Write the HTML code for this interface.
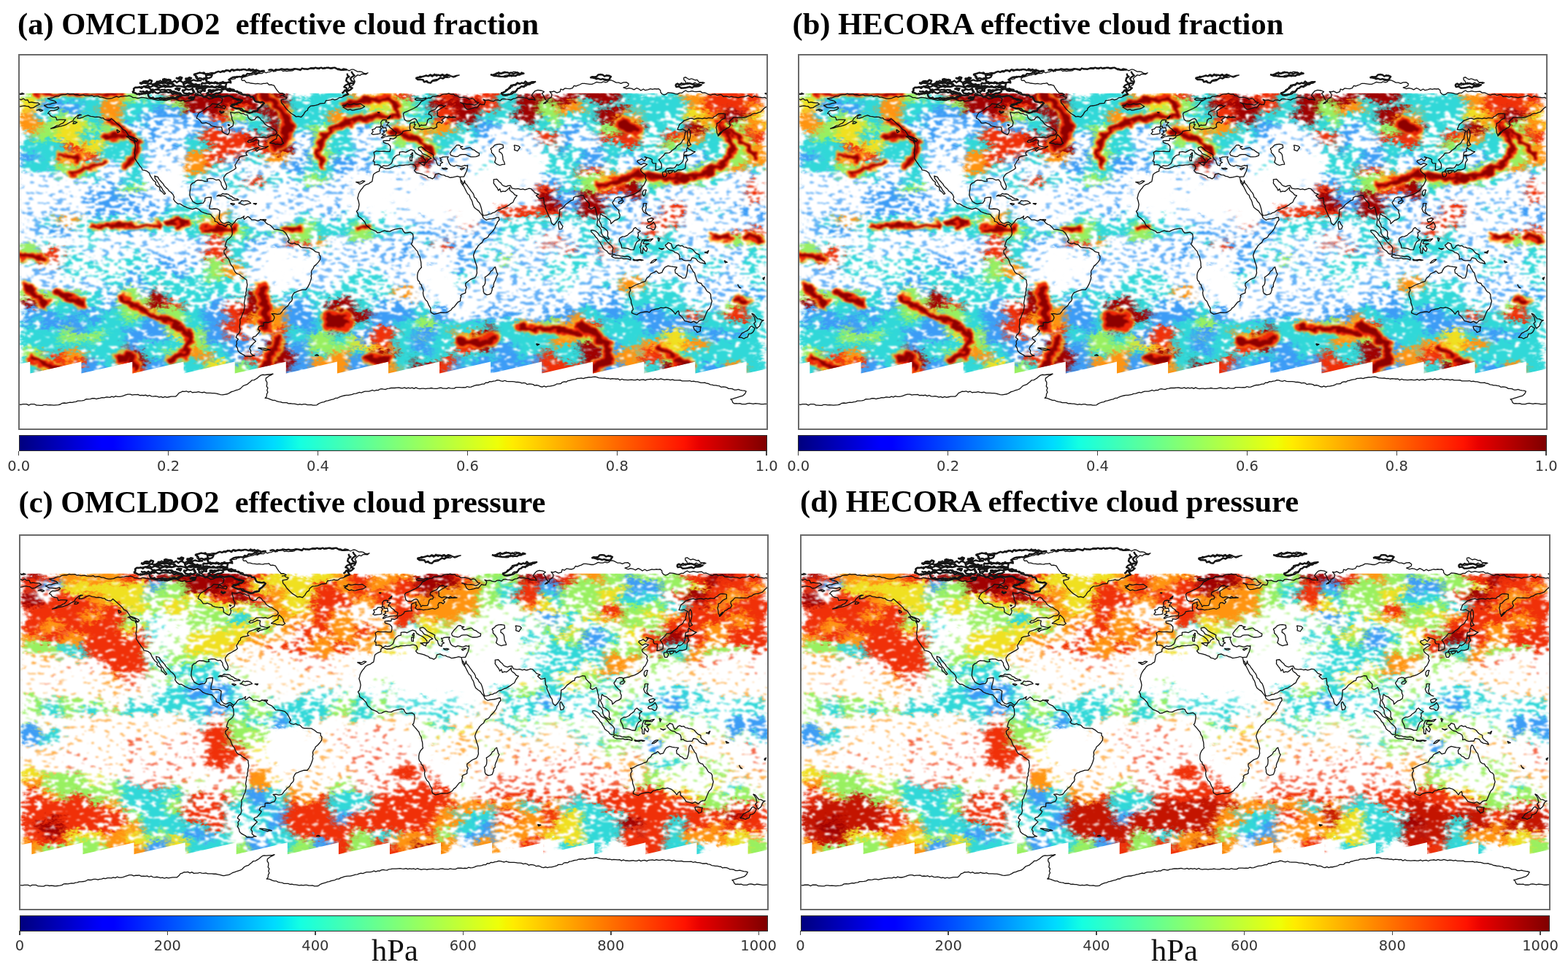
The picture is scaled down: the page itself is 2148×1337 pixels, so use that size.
<!DOCTYPE html>
<html><head><meta charset="utf-8"><title>Cloud fraction and pressure maps</title>
<style>
html,body{margin:0;padding:0;background:#fff;}
body{width:2148px;height:1337px;position:relative;overflow:hidden;}
.title{position:absolute;font-family:"Liberation Serif",serif;font-weight:bold;font-size:42.5px;line-height:60px;color:#000;white-space:nowrap;}
.map{position:absolute;}
.frame{position:absolute;box-sizing:border-box;border:2px solid #6a6a6a;}
.cb{position:absolute;box-sizing:border-box;border:1px solid #2a2a2a;background:linear-gradient(to right, #00007f 0%, #0000ff 11%, #0000ff 12.5%, #00dbff 34%, #00e5f6 35%, #14ffe2 37.5%, #eeff08 64%, #f6f500 65%, #ffec00 66%, #ff1200 89%, #e70000 91%, #7f0000 100%);}
.tick{position:absolute;width:1.6px;height:6px;background:#444;}
.tl{position:absolute;font-family:"DejaVu Sans",sans-serif;font-size:19.5px;line-height:20px;color:#333;transform:translateX(-50%);white-space:nowrap;}
.hpa{position:absolute;font-family:"Liberation Serif",serif;font-size:42.5px;line-height:42.5px;color:#111;}
</style></head><body>

<svg width="0" height="0" style="position:absolute"><defs><path id="coast" d="M12.0 24.4L12.9 24.2L13.8 23.8L14.9 23.8L16.0 23.4L17.0 23.2L18.0 23.1L17.3 22.3L16.3 22.0L15.0 21.6L13.8 21.1L14.9 20.9L16.0 20.8L17.0 20.3L18.0 20.0L19.1 20.0L20.0 19.4L21.2 19.2L22.4 19.2L23.5 18.7L24.4 19.0L25.3 18.9L26.2 18.8L27.1 19.3L28.0 19.2L29.0 19.5L30.0 19.4L31.0 19.3L32.0 19.7L33.0 19.7L34.0 19.8L35.0 19.5L36.0 20.1L37.0 19.9L38.0 19.9L39.0 20.4L40.0 20.4L41.1 20.8L42.3 21.1L43.5 21.1L44.8 20.9L46.0 20.4L47.0 20.1L48.0 20.4L49.0 20.1L50.0 20.0L51.0 19.8L52.0 19.9L53.0 19.7L54.0 20.0L54.9 20.6L56.0 20.6L57.0 20.9L58.0 20.8L59.0 20.5L60.0 20.6L61.0 20.8L62.0 21.0L63.0 21.1L64.0 21.2L65.0 21.5L66.0 21.7L67.0 21.9L68.0 21.7L69.0 21.8L70.0 22.0L71.0 22.0L72.0 21.6L73.0 21.4L74.0 21.2L75.1 21.2L76.0 21.6L77.0 22.1L78.0 22.2L79.0 21.9L80.0 22.4L81.0 22.2L82.0 22.2L83.0 21.8L84.0 21.7L84.5 20.7L84.7 19.6L85.0 18.5L86.0 18.7L87.0 18.3L87.7 18.9L88.4 19.5L89.0 20.2L89.9 20.5L90.8 20.7L91.5 21.3L92.8 21.1L94.0 20.6L95.5 20.2L96.8 20.5L98.0 21.1L97.8 22.1L97.5 23.0L96.5 23.4L95.5 23.8L94.3 23.7L93.0 23.6L92.4 24.3L91.7 24.9L90.7 25.2L90.0 25.8L89.1 26.6L88.0 27.2L86.8 27.9L86.0 29.0L85.5 30.5L86.3 30.9L87.0 31.5L88.0 32.9L89.0 32.9L90.0 32.7L91.0 33.1L91.9 33.4L92.5 34.1L93.7 34.5L95.0 34.7L96.2 34.8L97.5 34.8L97.8 35.9L97.8 37.0L99.0 37.8L100.5 38.5L101.2 37.5L101.4 36.4L101.0 35.4L102.0 34.8L103.0 34.2L103.3 32.5L102.5 31.0L102.5 30.1L102.2 29.2L101.8 27.7L102.9 27.9L103.9 28.0L105.0 27.7L106.0 27.7L107.0 28.3L108.0 28.3L108.9 28.8L110.0 29.0L110.5 30.5L111.2 31.1L112.0 31.5L113.5 31.2L114.1 30.3L115.0 29.8L116.0 30.5L116.6 31.4L117.5 32.0L118.0 32.8L118.5 33.5L119.3 34.0L120.0 34.5L121.1 34.8L122.0 35.5L123.5 36.4L124.2 37.5L123.5 38.5L122.5 38.8L121.5 38.8L120.0 39.7L119.0 40.0L118.0 39.6L117.0 39.8L115.8 39.7L114.7 39.7L113.5 39.8L112.7 40.5L111.9 41.0L110.8 41.1L110.0 41.8L110.5 42.2L111.4 42.1L112.3 41.7L113.2 41.4L114.0 40.9L115.5 41.2L115.2 42.5L115.5 43.7L116.7 44.0L118.0 44.3L119.0 44.4L120.0 44.0L119.3 44.5L118.5 45.0L117.5 45.1L116.5 45.5L115.4 45.7L114.5 46.4L113.8 45.7L114.7 45.2L115.5 44.7L114.0 44.8L113.0 45.3L111.5 45.8L110.0 46.3L109.3 47.2L109.5 48.2L110.0 48.3L108.5 48.6L107.0 48.9L106.0 49.4L105.9 50.4L105.1 51.1L104.9 51.7L104.4 52.5L104.0 53.1L104.5 54.5L103.5 55.3L102.2 56.0L101.0 56.7L100.2 57.1L99.5 57.7L98.6 59.0L98.7 60.3L99.4 61.7L100.0 63.3L99.7 64.7L98.9 64.8L98.2 63.9L97.4 62.5L97.3 61.4L96.3 60.1L95.0 60.3L93.5 59.6L92.0 59.5L90.5 59.8L90.8 60.8L89.5 60.9L88.0 60.4L87.1 60.4L86.2 60.3L85.0 60.8L84.4 61.5L83.5 61.8L82.7 62.7L82.6 64.2L82.3 65.8L82.2 67.5L82.7 69.0L83.2 69.7L83.6 70.6L85.0 71.4L86.0 71.8L87.5 71.4L88.7 71.3L89.5 70.2L89.6 69.0L91.0 68.6L92.6 68.5L92.5 69.8L92.2 71.2L91.8 72.5L91.7 74.0L92.5 74.2L94.0 74.1L95.5 74.2L96.7 75.0L96.6 76.0L96.5 77.0L96.3 78.7L97.0 80.0L97.8 80.8L98.8 81.2L100.0 80.7L101.0 80.5L102.2 81.4L102.7 81.7L102.1 82.8L101.6 81.7L100.3 81.6L99.6 82.7L98.8 82.3L98.0 81.8L96.5 81.6L95.5 80.5L94.3 80.1L94.2 78.9L93.0 77.7L92.3 76.8L90.7 76.5L89.2 76.1L87.8 75.5L86.5 74.3L85.2 73.8L83.5 74.3L82.0 73.9L81.1 73.6L80.2 73.2L79.3 72.8L78.5 72.3L77.6 71.7L76.5 71.7L75.2 70.7L74.4 69.5L74.7 68.5L74.2 67.3L73.2 66.2L72.3 65.6L71.7 64.7L70.6 63.7L69.9 63.0L69.5 62.2L68.5 61.1L67.5 60.0L66.8 58.8L65.3 58.3L65.5 59.5L66.5 60.8L67.1 61.8L67.8 63.0L68.7 64.0L69.3 65.2L69.8 65.8L70.5 66.8L69.9 67.1L69.0 66.0L67.9 65.2L67.7 63.7L66.5 63.1L65.7 62.2L65.9 61.4L64.6 60.3L63.8 59.1L63.1 58.0L62.7 56.9L61.6 56.0L60.5 55.6L59.4 55.4L59.0 54.4L58.1 53.4L57.5 52.4L57.0 51.8L56.2 50.5L55.7 49.7L55.9 48.5L55.6 47.2L55.9 45.5L56.0 43.8L55.9 42.7L55.3 41.7L56.5 41.8L57.2 41.1L56.7 40.5L55.5 40.0L54.5 39.5L52.8 39.0L52.1 37.8L51.2 36.5L49.8 35.8L49.1 34.8L48.2 33.9L47.0 32.9L45.8 31.8L44.5 30.7L43.5 31.6L42.2 31.4L41.2 31.1L40.5 30.4L39.6 30.4L38.7 30.0L37.6 29.9L36.5 30.0L35.5 29.7L34.5 29.6L33.2 29.1L31.8 29.5L30.8 30.1L29.2 30.6L28.1 30.6L28.6 29.3L30.0 28.9L29.1 28.8L28.2 29.2L27.5 29.9L26.5 30.7L26.0 31.8L24.7 32.4L23.5 33.1L22.7 33.6L21.8 33.9L20.2 34.4L18.5 34.7L17.0 35.2L15.3 35.5L16.8 34.9L18.2 34.1L19.3 33.9L20.2 33.3L21.1 33.0L21.7 32.3L22.5 31.3L21.2 31.2L19.5 31.2L18.2 31.4L17.8 30.1L16.2 29.9L15.1 29.3L14.7 28.5L13.9 28.2L14.5 27.4L15.4 26.8L16.8 26.9L18.2 26.5L19.2 25.7L18.8 25.1L17.2 25.6L15.5 25.5L13.8 25.4L12.8 24.8L12.0 24.4M102.7 81.7L103.8 80.6L104.5 79.5L105.3 78.9L106.7 78.7L107.8 78.1L108.4 77.6L108.1 78.4L108.4 79.2L109.5 78.3L110.2 77.8L111.4 78.7L112.0 79.4L113.5 79.4L115.0 79.9L116.2 79.4L117.5 79.4L118.1 79.9L119.0 81.0L119.8 81.5L121.0 82.0L122.0 83.0L122.8 84.0L124.5 84.1L126.0 84.4L127.2 84.7L128.4 85.8L129.0 86.8L129.7 88.1L130.1 89.0L129.4 89.8L130.0 90.5L131.5 91.0L132.5 90.6L133.4 91.1L134.5 91.3L135.7 92.5L136.6 92.8L137.5 92.8L138.7 92.9L140.0 92.9L141.5 93.7L142.8 94.8L144.5 95.2L144.5 96.2L145.1 97.0L145.0 98.5L144.2 99.7L143.0 101.0L142.1 101.7L141.7 102.7L141.0 103.6L140.7 104.5L140.9 105.5L140.6 106.4L140.8 107.3L140.3 109.0L139.7 110.5L139.0 111.8L138.1 113.0L136.5 113.0L135.2 113.4L134.3 113.7L133.5 114.1L132.6 114.4L132.0 115.2L131.4 116.5L131.6 117.5L131.3 118.4L130.2 119.5L129.8 120.3L129.2 121.0L128.4 121.5L127.8 122.3L127.1 122.9L126.6 123.7L125.8 124.6L124.4 124.9L123.0 124.5L121.6 124.6L122.7 125.5L123.0 126.6L122.3 128.0L121.2 128.3L120.2 128.8L119.0 128.7L117.8 128.8L117.7 130.5L116.6 130.4L115.5 130.8L115.0 132.1L116.0 132.7L115.5 133.7L114.7 134.5L113.9 135.4L112.7 135.8L112.4 136.4L113.2 137.1L114.0 137.8L113.2 138.5L112.5 139.3L111.5 140.3L111.0 141.5L111.6 142.3L111.5 143.5L112.4 144.4L113.5 144.8L112.5 144.8L111.5 145.2L110.3 145.1L109.0 145.1L108.3 144.4L107.5 144.0L106.4 143.4L105.5 142.5L105.2 141.2L104.5 140.0L104.9 139.0L104.7 138.0L105.5 136.8L104.5 136.0L105.0 134.8L106.0 134.0L106.5 132.5L106.2 131.0L106.3 130.0L106.5 129.0L106.4 127.3L107.0 126.5L107.3 125.5L107.7 124.5L108.2 123.5L108.5 122.0L108.7 120.7L108.4 119.5L108.6 118.5L108.8 117.5L108.8 116.4L109.3 115.5L109.2 114.5L109.5 113.5L109.5 112.5L109.8 111.5L109.9 110.5L109.7 109.5L109.6 108.3L108.6 107.6L107.8 107.0L107.0 106.5L106.1 105.7L105.0 105.3L104.2 104.7L103.7 103.8L103.3 103.0L103.0 102.1L102.3 101.4L101.8 100.5L101.5 99.6L101.2 98.8L100.7 98.0L99.9 97.3L99.5 96.3L98.8 95.5L98.7 94.2L99.7 93.4L100.1 92.5L99.2 92.2L99.6 90.6L100.0 89.5L100.4 88.9L101.2 88.4L102.2 87.4L102.7 86.2L102.6 84.5L102.5 83.4L102.1 82.8M107.0 11.7L107.8 10.8L108.9 10.6L109.9 10.2L110.9 9.9L112.0 9.8L112.9 9.3L114.1 9.6L115.0 9.0L116.0 8.9L117.1 9.0L118.0 8.2L118.9 8.7L119.8 8.4L120.7 8.3L121.6 7.8L122.5 7.5L123.5 8.0L124.3 7.4L125.2 7.3L126.2 7.3L127.1 7.9L128.0 7.7L128.9 7.9L129.8 7.8L130.8 7.8L131.7 7.7L132.5 7.2L133.4 6.8L134.3 6.8L135.3 7.1L136.2 6.8L137.1 6.6L138.0 6.8L138.9 7.2L139.8 6.6L140.7 6.2L141.6 6.3L142.5 6.3L143.5 6.6L144.4 6.9L145.3 6.2L146.2 6.7L147.1 6.1L148.0 6.4L149.0 6.0L149.8 6.7L150.7 6.7L151.7 6.2L152.6 6.5L153.4 7.2L154.3 7.3L155.2 7.4L156.2 6.6L157.1 6.8L158.0 7.2L158.9 7.7L160.1 7.1L161.1 7.1L162.0 7.6L163.0 8.1L164.0 8.0L165.0 8.2L165.9 8.8L166.9 9.1L168.0 8.7L167.1 9.4L166.0 9.3L165.0 9.3L164.1 10.0L163.0 9.7L162.0 10.5L161.0 11.5L161.6 12.4L161.5 13.5L161.0 14.5L160.0 15.0L159.0 15.5L158.5 16.5L158.0 17.8L158.0 19.3L157.0 19.5L156.2 19.9L155.5 20.5L154.1 20.7L153.0 21.5L152.0 21.7L151.0 21.4L150.0 21.7L149.0 21.9L147.8 22.0L147.2 23.3L146.0 23.4L145.0 23.5L144.0 24.0L143.0 24.3L141.8 24.5L140.5 24.6L139.2 25.7L138.9 26.7L138.0 27.2L137.4 28.0L137.0 28.8L135.8 30.0L134.5 29.6L133.4 29.8L132.5 29.1L131.0 28.2L129.7 27.0L128.5 25.8L128.0 25.1L127.5 24.3L126.4 23.1L126.2 21.7L127.3 21.5L128.5 21.3L129.0 20.5L128.0 20.3L127.1 19.5L126.0 19.7L127.0 19.5L128.0 19.1L126.8 18.5L125.5 18.5L124.4 17.3L123.5 16.0L122.8 14.8L121.5 14.4L120.4 14.5L119.6 13.6L118.5 13.8L117.6 13.8L116.7 14.1L115.8 14.0L114.9 13.8L114.0 14.0L112.8 13.8L111.7 13.7L110.5 13.4L109.4 13.4L108.6 12.3L107.5 12.4L107.0 11.7M157.3 26.0L156.0 25.2L157.5 24.5L156.6 24.5L155.7 24.4L156.9 24.3L158.0 23.6L159.0 24.0L160.0 23.9L161.2 23.6L162.5 23.8L163.5 23.7L164.5 23.6L165.5 24.3L166.4 24.9L165.2 25.7L164.1 26.0L163.0 26.2L161.3 26.6L160.4 26.7L159.5 26.3L158.3 26.6L157.3 26.0M174.4 54.0L173.7 53.2L172.6 52.8L171.1 53.0L171.2 51.5L170.5 51.2L171.0 50.0L171.2 48.5L170.8 47.0L172.0 46.3L173.2 46.5L174.5 46.5L175.8 46.4L177.0 46.6L178.5 46.6L178.8 45.5L178.8 44.0L177.8 42.9L176.6 42.6L175.5 42.2L175.4 41.4L177.0 41.2L178.5 41.3L178.6 40.3L180.2 40.5L181.5 39.8L181.7 39.0L183.2 38.6L184.5 37.7L184.9 36.8L186.5 36.5L187.5 36.4L188.5 36.4L188.1 35.5L188.2 34.5L188.2 33.4L188.6 32.9L189.6 32.6L190.5 32.3L190.3 33.5L190.9 33.6L190.0 35.0L191.0 35.8L192.5 35.6L194.0 36.0L195.0 35.8L196.0 35.7L197.3 35.5L198.5 35.2L199.6 35.6L201.2 34.8L201.0 33.5L201.6 32.5L202.6 32.4L203.5 33.0L204.3 32.1L203.5 31.4L204.5 30.6L205.5 30.0L206.5 30.4L207.5 30.1L208.5 30.2L210.2 30.1L209.0 29.8L207.9 30.1L207.0 29.5L206.1 30.1L205.0 29.8L203.9 29.7L202.9 30.1L201.4 29.3L201.5 28.2L201.3 27.0L202.5 26.2L203.5 25.6L204.5 25.1L205.4 24.5L204.4 24.8L203.5 24.2L202.2 24.4L201.2 25.2L200.5 26.2L199.0 26.8L197.5 27.5L197.2 28.7L198.2 29.0L198.8 29.9L198.5 30.7L197.5 30.7L196.7 31.4L196.5 32.7L196.0 33.8L194.5 33.9L193.5 33.8L192.8 34.5L192.6 33.6L191.8 32.4L191.2 31.1L190.5 30.7L189.5 31.0L188.0 31.9L186.5 31.8L185.6 31.2L185.3 30.0L185.0 28.5L185.5 27.8L187.0 27.2L188.5 26.5L190.0 25.8L191.5 25.0L192.7 23.8L193.6 22.5L194.6 22.1L195.5 21.5L197.0 20.8L198.2 20.8L199.0 20.0L200.3 20.1L201.5 19.7L202.6 19.9L203.5 19.2L204.6 18.9L205.8 18.9L206.9 18.6L208.0 19.0L209.1 18.9L210.0 19.7L211.2 19.8L212.0 20.5L213.0 20.5L214.0 20.4L215.0 20.6L216.0 20.9L216.8 21.5L217.9 21.0L218.8 21.2L219.5 22.0L220.2 22.8L221.2 23.0L220.5 23.7L219.3 24.3L218.0 23.9L217.0 23.7L216.0 23.8L215.0 23.7L213.5 23.3L212.5 23.0L213.7 23.5L214.3 24.4L214.8 25.5L215.8 26.2L217.0 26.1L218.3 25.8L219.5 25.4L220.5 25.5L221.2 24.6L222.0 23.7L223.0 24.0L224.0 24.0L224.5 22.5L223.5 21.5L224.7 21.9L226.0 21.7L227.2 22.2L228.5 22.4L229.4 21.8L230.5 21.7L231.6 22.1L232.5 21.3L233.5 21.2L234.5 21.4L235.5 21.5L236.8 21.8L238.0 21.1L239.1 20.9L240.0 20.4L241.0 20.6L242.2 20.5L243.3 20.7L244.5 20.8L245.6 21.6L247.0 21.5L248.5 21.8L247.8 20.5L246.8 19.5L247.4 18.6L248.5 17.4L249.8 17.0L251.5 17.2L252.8 17.8L251.8 18.6L252.5 19.6L253.0 20.8L254.0 22.2L253.6 23.3L252.5 23.5L253.4 22.7L254.5 22.5L254.6 21.5L255.5 21.0L256.4 20.2L256.5 19.0L255.5 17.7L256.5 17.9L257.5 17.5L259.0 18.3L260.5 17.8L260.8 16.5L261.9 16.9L262.9 16.1L264.0 16.3L265.3 16.4L266.5 16.0L267.2 14.9L268.2 15.1L269.1 14.7L270.0 14.4L271.1 13.8L272.3 13.8L273.5 14.0L274.7 14.2L275.9 14.2L277.0 13.7L278.1 13.1L279.3 13.4L280.5 13.4L281.3 12.9L282.4 13.3L283.3 13.0L284.0 12.3L285.0 12.2L286.0 12.6L287.5 13.4L288.7 13.4L289.8 13.8L291.0 13.3L292.4 13.2L293.5 14.0L293.3 14.9L292.2 15.5L291.0 15.8L292.5 16.4L293.7 16.0L295.0 16.3L296.1 16.8L297.4 16.0L298.5 16.5L299.4 17.2L300.6 16.5L301.5 17.1L302.8 16.8L304.0 16.4L305.0 16.6L306.0 16.4L307.0 16.5L308.0 16.4L308.8 17.1L308.9 18.0L309.5 18.8L310.5 19.3L311.5 19.0L312.5 18.2L313.8 18.3L315.0 18.5L316.0 18.8L317.0 18.9L318.0 18.4L319.1 18.4L320.0 17.7L321.0 17.2L322.0 17.8L323.0 17.7L324.0 17.4L325.0 17.7L326.0 17.8L327.0 17.7L328.0 17.6L329.0 18.3L330.0 18.2L331.0 18.6L332.0 19.1L333.0 19.4L334.0 19.1L335.0 18.9L336.0 19.5L337.0 19.3L338.0 19.1L339.1 20.1L340.5 20.0L342.0 20.4L343.0 20.1L344.0 20.3L345.0 20.4L346.3 20.7L347.5 20.3L348.8 20.2L350.0 20.0L351.0 19.6L352.0 20.1L353.0 20.6L354.0 19.8L355.0 20.2L356.0 20.4L357.0 20.5L358.0 20.7L359.1 20.5L360.0 21.1M360.0 25.0L359.2 25.4L358.5 26.0L357.8 26.8L357.0 27.5L356.0 27.8L355.1 28.2L354.0 28.2L353.0 28.5L352.1 29.2L351.0 29.5L350.0 30.1L349.0 30.2L348.0 30.2L347.0 30.1L346.0 30.2L345.0 30.1L344.0 30.1L343.2 31.0L342.0 32.0L342.0 33.0L342.5 33.8L341.8 35.0L340.8 35.3L340.0 36.0L339.1 36.3L338.5 37.1L337.7 38.1L336.7 39.0L336.0 37.5L335.9 36.2L335.6 35.0L336.0 34.0L336.0 33.0L336.9 32.7L337.5 32.0L338.2 31.3L339.1 30.8L340.0 30.5L339.9 29.5L340.0 28.5L339.0 28.3L338.0 28.2L337.0 28.3L336.2 28.7L335.5 29.4L334.6 29.8L334.0 30.5L333.0 30.4L332.0 30.3L331.0 30.7L330.0 30.4L329.0 30.8L328.0 30.6L327.0 30.5L326.0 30.7L325.0 31.0L324.0 30.6L323.0 30.7L322.0 31.0L321.0 31.4L320.1 31.7L319.5 32.4L318.7 33.0L318.0 33.5L317.5 34.8L317.0 36.0L318.3 36.1L319.5 35.8L320.4 36.3L321.3 36.8L320.7 37.5L320.6 38.5L320.3 39.5L320.3 40.5L319.5 41.1L319.1 42.0L318.5 42.8L317.5 43.3L316.6 44.1L316.0 45.0L315.2 45.5L314.4 46.0L313.8 46.7L313.0 47.2L312.0 47.3L311.0 47.4L310.4 48.4L309.5 49.2L308.8 49.9L308.0 50.5L308.6 51.3L309.1 52.1L309.4 53.0L309.3 54.7L308.4 55.0L307.5 55.4L306.4 55.5L306.6 54.5L306.5 53.5L306.7 52.3L305.2 52.2L304.7 51.4L304.8 50.4L303.7 49.8L302.5 49.5L301.2 49.1L302.2 49.7L301.1 51.1L299.8 50.1L298.9 50.6L298.0 50.8L297.6 51.4L298.8 52.5L299.5 52.9L300.8 52.2L302.5 52.7L301.5 53.4L300.5 54.0L299.2 55.1L299.6 56.2L300.5 57.0L301.3 57.5L301.8 58.3L301.5 59.2L302.0 60.2L301.3 61.8L300.8 62.8L300.0 63.5L299.5 64.7L298.5 65.6L297.5 66.3L296.0 67.1L295.0 67.5L294.0 67.7L293.1 68.2L292.0 68.3L290.5 68.7L290.3 69.7L289.8 68.5L288.5 68.4L287.0 69.0L286.5 70.0L285.7 71.1L286.5 72.5L287.7 73.8L288.8 74.8L288.8 75.9L289.3 77.0L289.1 78.5L288.0 79.3L286.8 79.7L285.9 80.5L285.0 81.3L284.8 80.0L284.4 79.5L283.0 78.5L282.3 77.8L280.9 77.3L280.0 76.5L279.7 77.5L279.7 78.6L279.2 79.5L279.8 80.8L280.3 81.7L280.5 82.8L281.5 83.2L282.5 84.0L283.2 84.6L283.5 85.5L283.4 87.2L284.2 88.6L283.5 88.7L282.7 88.2L282.0 87.7L281.0 87.0L280.3 85.5L280.3 84.2L279.6 83.0L278.3 82.0L278.4 80.5L278.7 79.0L278.3 78.0L278.3 77.0L277.9 75.8L277.7 74.5L277.2 73.2L276.3 73.8L275.3 74.2L274.3 73.5L274.6 72.5L274.5 71.5L273.5 70.5L272.3 69.2L271.8 67.7L270.5 67.6L269.0 68.2L267.9 68.2L267.0 68.7L266.8 69.8L265.8 70.1L265.0 70.7L264.1 71.4L263.1 72.1L262.4 73.0L261.5 73.9L260.3 74.5L260.3 75.5L260.2 76.5L260.1 77.8L259.8 79.0L259.3 79.7L258.3 81.1L257.5 81.9L256.5 81.1L256.1 80.0L255.9 78.8L255.3 78.0L254.8 77.1L254.5 76.2L254.1 75.3L253.4 73.7L253.5 72.7L252.8 71.8L252.8 70.8L252.6 69.8L252.6 68.8L251.6 69.0L250.5 69.2L249.7 68.5L249.0 67.7L250.2 67.1L249.3 66.8L248.4 66.4L247.3 65.2L246.6 64.5L245.5 64.3L244.5 64.7L243.5 64.9L242.6 64.6L241.6 64.8L240.3 64.4L239.0 64.6L237.3 64.2L236.6 62.9L235.5 63.0L234.5 63.4L233.4 63.1L232.5 62.5L232.0 61.7L231.2 61.1L230.0 59.8L228.5 60.0L228.6 60.9L228.5 61.8L229.5 63.2L230.2 64.0L230.8 65.3L231.5 64.5L232.0 66.0L233.0 65.6L234.0 65.8L234.8 65.2L235.5 64.6L236.3 63.8L236.3 65.1L237.0 65.8L237.8 66.3L238.8 67.5L239.8 67.7L239.1 68.6L238.5 69.5L237.8 71.0L236.6 71.7L235.9 72.3L235.0 72.8L234.1 73.4L233.2 73.7L232.2 74.1L231.4 74.6L230.5 74.7L229.7 75.2L229.0 75.8L228.1 76.0L227.3 76.5L226.3 76.6L225.5 77.0L224.5 77.2L223.5 77.3L223.0 76.0L222.7 74.3L222.2 72.6L221.7 71.4L220.8 70.5L220.2 69.3L219.2 68.5L219.0 67.5L218.5 66.5L217.8 65.7L217.2 64.8L216.4 63.8L215.7 62.7L214.8 61.8L214.5 60.5L214.3 61.4L213.9 62.3L213.4 61.1L212.6 60.1L212.3 58.8L213.2 58.7L214.2 58.7L214.9 57.2L215.5 56.0L215.9 54.5L216.0 53.2L215.5 53.4L214.5 53.2L213.0 53.8L212.0 53.5L210.6 53.2L209.5 53.7L208.0 53.2L207.3 52.5L206.8 51.5L206.5 50.5L206.2 49.9L206.7 49.1L205.5 49.1L204.0 49.2L203.0 49.7L202.6 49.5L203.3 50.7L202.8 51.1L204.0 51.8L203.0 52.3L202.8 53.4L201.7 53.1L201.1 52.0L200.8 50.8L200.0 50.2L199.4 49.1L199.5 48.1L198.5 47.5L197.0 46.8L195.8 46.1L194.7 45.0L193.7 44.3L192.3 44.7L192.4 45.7L193.5 46.4L194.2 47.5L195.1 47.9L196.0 48.2L197.5 49.1L198.5 49.9L197.9 50.0L197.0 50.5L196.5 51.5L195.8 52.0L195.7 50.8L194.8 49.7L193.7 48.8L192.9 48.4L192.0 48.0L190.8 47.2L190.2 46.1L188.8 45.6L187.5 46.2L186.2 46.9L184.8 46.6L183.2 46.8L183.2 48.1L182.0 48.3L181.0 49.0L180.0 50.2L179.7 51.5L179.2 52.4L177.8 53.3L176.7 53.5L175.6 53.3L174.4 54.0M0.0 21.1L0.9 21.7L2.1 21.1L3.0 21.8L4.2 21.7L4.8 23.0L6.0 22.8L7.0 23.0L8.0 23.1L9.1 23.1L10.0 23.8L8.5 24.5L7.0 25.4L5.6 25.6L4.5 24.8L3.5 24.7L2.5 24.5L1.5 24.7L0.0 25.0M207.5 47.5L208.0 48.4L209.2 48.8L210.2 49.0L211.3 48.9L212.2 48.2L213.3 48.0L215.0 48.0L216.5 48.7L217.5 49.1L218.5 49.1L220.0 49.0L221.5 48.5L221.6 47.4L220.8 47.0L220.0 46.5L219.3 45.9L218.3 45.6L217.3 44.7L216.6 44.7L215.5 45.0L214.5 45.3L213.5 45.5L212.5 44.6L213.6 44.1L212.6 44.0L211.8 43.4L210.7 43.5L209.7 44.7L208.7 45.7L208.0 46.7L207.5 47.5M227.0 45.2L228.1 44.5L229.0 43.5L230.2 43.1L231.5 43.0L233.0 43.3L233.2 44.7L232.3 45.1L231.3 45.5L231.2 46.7L232.1 47.2L232.7 48.0L232.9 49.0L233.0 50.5L233.6 51.6L233.9 52.7L232.7 52.8L231.5 53.2L230.0 52.6L229.0 51.7L229.4 50.5L229.5 49.6L228.6 48.2L227.5 47.0L227.5 46.0L227.0 45.2M238.3 43.5L239.5 43.7L240.5 43.9L241.2 44.6L240.6 45.4L240.0 46.3L238.5 45.8L238.7 44.6L238.3 43.5M174.1 54.2L173.5 55.0L173.5 56.0L172.4 56.4L171.5 56.9L170.7 57.5L170.4 58.7L170.2 60.0L170.0 61.0L169.2 61.4L168.5 62.0L167.0 62.5L166.1 63.1L165.5 64.0L164.7 64.9L164.0 66.0L163.5 67.0L163.3 68.0L163.0 69.0L163.5 70.5L163.8 72.0L163.5 73.7L163.2 74.6L162.5 75.3L163.2 76.5L163.3 77.7L164.5 78.5L165.3 79.2L166.5 80.5L167.1 82.0L168.5 83.1L169.1 83.8L170.0 84.1L170.9 84.5L171.8 84.9L172.5 85.6L173.8 85.5L175.0 84.9L176.0 84.6L177.0 84.9L178.5 85.0L179.7 84.4L181.0 84.0L182.5 83.7L183.5 83.5L184.5 83.7L185.0 84.8L185.8 85.7L187.0 85.6L188.5 85.4L189.6 86.2L189.8 87.5L189.6 89.0L189.3 90.4L188.8 91.0L189.6 92.0L190.5 93.0L191.1 93.8L191.8 94.5L192.3 96.0L193.0 97.1L193.2 98.5L193.5 99.5L193.6 100.5L193.6 101.4L193.8 102.3L193.1 103.0L192.5 103.8L192.0 104.9L191.8 106.0L191.8 107.5L192.1 108.5L192.8 109.2L193.0 110.1L193.8 110.8L193.9 111.7L194.4 112.5L194.7 113.5L194.5 114.5L194.7 115.8L195.2 117.0L195.7 117.9L196.5 118.6L196.9 119.5L197.3 120.5L198.2 122.0L198.1 123.0L198.4 124.0L199.8 124.8L201.5 124.4L203.0 124.0L204.2 124.1L205.5 124.0L206.5 123.7L208.0 122.8L208.6 121.9L209.5 121.3L210.5 120.0L211.3 119.0L212.5 118.5L212.5 117.3L212.9 116.2L212.6 115.8L213.3 115.2L214.2 114.9L215.0 114.5L215.0 113.2L215.5 112.0L215.0 111.1L215.0 110.0L215.7 109.4L216.5 108.8L217.4 108.1L218.5 107.6L219.4 107.3L220.0 106.5L220.5 105.0L220.4 103.8L220.5 102.5L220.3 101.5L220.0 100.5L219.6 99.5L219.4 98.5L219.0 97.5L218.8 96.5L219.3 95.0L220.0 93.5L220.6 92.8L221.0 92.0L222.0 91.0L223.0 90.3L223.5 89.2L224.1 88.5L225.0 88.2L225.8 87.6L226.3 86.7L227.0 86.0L227.9 85.1L228.7 84.0L229.2 83.2L229.4 82.3L230.0 81.5L230.4 80.4L231.2 79.5L231.0 78.2L230.0 78.3L229.0 78.7L228.0 78.9L227.0 79.0L226.0 79.1L225.0 79.5L224.2 79.0L223.5 78.5L223.2 77.5L222.6 76.7L222.0 76.0L221.4 75.1L220.5 74.5L219.2 73.5L218.5 72.0L218.3 70.9L217.9 69.9L217.3 69.0L216.8 67.5L216.0 66.9L215.5 66.0L215.0 65.0L214.5 64.0L214.1 63.2L213.5 62.5L212.8 61.4L212.6 60.1L212.3 58.8L211.0 58.4L210.0 58.7L208.5 59.0L207.4 59.1L206.5 58.6L205.5 58.4L204.6 57.9L203.5 57.8L202.0 57.1L200.5 57.5L200.0 59.0L199.0 59.7L198.1 59.2L197.0 59.0L196.4 58.3L195.5 58.0L194.3 57.5L193.0 57.1L191.3 56.8L190.3 55.7L191.1 54.8L191.0 53.9L190.5 53.1L189.5 52.7L188.5 52.7L187.5 53.0L186.2 53.0L185.0 53.2L184.0 53.2L183.0 53.2L182.0 53.6L181.0 53.5L180.2 54.0L179.3 54.3L178.5 54.7L177.5 54.7L176.5 54.8L175.6 54.5L174.7 54.1L174.1 54.2M229.3 102.0L229.5 102.9L229.8 103.8L230.0 104.7L230.5 105.5L229.8 107.0L229.3 108.5L228.8 109.5L228.5 110.5L228.5 111.5L227.8 112.2L227.8 113.1L227.5 114.0L227.1 115.0L226.2 115.3L225.2 115.5L224.0 114.8L223.6 113.9L223.6 113.0L223.3 111.5L224.0 110.9L224.4 110.0L224.5 109.0L224.5 108.0L224.3 107.0L225.2 106.4L226.0 105.8L226.7 105.1L227.1 104.2L228.0 103.6L228.5 102.7L229.3 102.0M293.5 112.0L294.2 112.4L294.4 113.4L293.8 114.4L293.8 115.5L294.0 116.5L294.4 117.3L294.7 118.2L294.7 119.1L295.0 120.0L295.4 121.2L295.7 122.5L295.1 123.2L295.0 124.2L296.2 124.7L297.5 125.1L298.2 124.5L299.1 124.1L300.0 123.9L301.2 123.7L302.3 123.6L303.5 123.9L304.5 122.9L305.5 122.7L306.5 122.3L307.8 122.2L309.0 121.6L310.3 121.8L311.5 121.5L312.5 121.8L313.5 122.2L314.3 122.8L315.0 123.5L316.0 124.8L316.6 123.8L317.5 123.2L317.8 124.1L317.8 125.0L318.5 125.5L319.2 126.2L319.8 127.0L320.5 128.0L322.0 128.4L323.5 128.8L324.8 128.2L326.3 129.1L327.5 128.0L328.5 127.6L329.5 127.5L330.0 126.5L330.4 125.5L330.8 124.5L331.5 123.0L332.5 122.0L333.1 120.5L333.3 119.5L333.6 118.5L333.1 117.0L333.0 115.3L332.4 114.4L331.5 114.0L330.9 113.3L330.5 112.5L329.9 111.6L329.0 111.0L328.5 110.0L327.4 109.7L326.5 109.0L326.0 107.5L325.6 106.3L325.3 105.0L324.5 104.2L324.1 103.3L323.5 102.5L323.2 101.5L322.5 100.8L322.0 101.6L321.8 102.5L321.8 103.8L321.6 105.0L321.3 106.2L320.8 107.4L319.5 107.5L318.6 106.7L317.5 106.2L316.9 105.4L316.0 105.0L315.8 103.5L316.8 102.2L315.9 102.1L315.0 102.0L313.7 101.8L312.5 101.5L311.0 102.2L310.4 103.0L309.9 103.9L309.5 104.8L308.0 105.2L306.8 104.0L305.9 104.6L305.0 105.0L304.0 105.5L303.5 106.5L302.2 107.5L301.5 109.0L300.2 109.4L299.0 110.0L298.0 110.3L297.0 110.7L295.5 111.5L294.6 112.0L293.5 112.0M324.6 130.7L325.5 130.7L326.5 130.6L327.4 130.9L328.3 130.9L328.0 131.9L328.0 133.0L326.5 133.6L326.0 132.8L325.2 132.3L324.6 130.7M352.7 124.4L353.8 124.9L354.5 125.8L355.5 127.0L356.5 127.1L357.5 127.6L358.5 127.7L357.5 128.3L357.0 129.3L356.5 130.5L355.2 131.6L354.7 131.0L354.3 130.1L353.8 129.2L354.6 128.5L354.3 127.5L354.2 126.5L353.5 125.4L352.7 124.4M352.8 130.5L353.5 131.1L354.3 131.5L353.9 132.5L353.3 133.5L352.4 134.1L351.3 134.3L350.8 135.8L349.8 136.1L349.0 136.6L347.8 136.0L346.5 136.0L347.3 135.1L348.0 134.0L348.9 133.6L349.6 133.1L350.5 132.8L351.4 132.0L352.0 131.0L352.8 130.5M275.3 84.4L276.4 84.4L277.5 84.8L278.3 85.4L278.9 86.1L279.5 87.0L280.3 87.5L281.6 88.0L282.5 89.0L283.3 90.1L284.3 91.0L285.3 91.9L286.0 93.0L285.8 93.9L285.7 94.9L285.8 95.8L284.5 95.9L283.7 95.4L283.1 94.5L282.3 94.0L281.3 93.2L280.8 92.0L280.2 91.2L279.8 90.2L279.0 89.5L278.4 88.4L277.5 87.5L277.0 86.7L276.3 86.0L275.6 85.3L275.3 84.4M285.2 96.8L286.5 96.0L287.4 96.5L288.5 96.5L289.5 96.8L290.5 96.9L291.6 97.1L292.6 96.9L293.7 97.1L294.5 97.8L294.4 98.7L293.3 98.3L292.2 98.1L291.0 98.2L290.0 97.8L289.0 97.9L288.0 97.8L287.0 97.8L286.0 97.4L285.2 96.8M289.0 88.5L289.6 88.0L290.5 87.5L291.5 87.5L293.0 86.8L293.7 86.0L294.5 85.5L295.5 84.7L295.9 83.7L296.8 83.1L297.7 84.0L299.2 84.8L298.0 85.7L298.2 86.9L297.8 88.0L298.9 89.0L297.5 90.0L296.9 91.1L296.5 92.2L296.0 93.8L294.5 93.8L293.0 93.2L291.5 93.0L290.2 92.9L290.0 91.6L289.5 90.5L289.0 89.6L289.0 88.5M299.5 95.5L299.3 94.5L299.4 93.5L298.9 92.6L299.5 91.8L299.4 90.8L299.8 90.0L300.1 89.1L301.5 89.0L303.0 89.1L304.5 88.6L305.2 88.5L304.0 89.6L302.5 89.5L301.0 89.5L300.5 90.8L301.5 91.0L302.4 91.0L303.3 90.9L302.4 91.3L301.5 91.9L302.5 93.3L302.0 94.6L301.2 94.0L300.5 92.8L300.4 93.7L300.2 94.6L300.4 95.5L299.5 95.5M311.0 91.5L311.9 91.2L312.5 90.4L314.0 90.9L314.4 92.2L315.0 93.3L315.9 92.8L316.5 91.9L317.5 91.5L318.3 92.0L319.3 91.8L320.1 92.5L321.0 92.6L321.8 93.0L322.8 93.0L323.7 93.3L324.5 93.8L325.2 94.7L326.0 95.5L327.5 96.2L327.5 97.2L328.0 98.0L329.0 98.8L330.0 99.5L330.5 100.6L329.3 100.2L328.0 100.0L326.8 99.3L326.0 98.2L325.0 97.8L324.0 97.7L323.4 99.0L322.2 99.0L321.0 99.1L319.9 98.8L319.0 98.1L318.0 98.4L318.1 97.2L317.7 96.0L316.8 95.4L315.8 95.1L315.0 94.4L313.5 94.0L312.7 93.5L312.0 92.8L311.0 91.5M300.6 71.5L302.2 71.5L301.8 72.5L302.0 73.5L301.5 75.0L302.0 76.0L302.8 76.9L304.0 77.4L303.0 77.0L301.5 76.2L300.6 75.5L300.0 74.0L300.6 72.8L300.6 71.5M302.0 83.0L302.6 82.3L303.5 82.0L304.6 81.4L305.5 80.5L306.1 81.4L306.5 82.5L306.0 84.0L305.2 84.3L304.0 83.5L302.9 83.5L302.0 83.0M302.5 79.2L303.5 78.9L304.5 78.5L305.5 79.0L304.5 80.2L303.0 80.5L302.5 79.2M301.0 65.0L302.0 65.0L301.6 66.0L301.5 67.0L300.8 68.0L300.2 67.0L300.3 65.9L301.0 65.0M288.7 70.8L289.6 70.3L290.5 69.9L291.0 70.4L290.0 71.6L288.7 71.5L288.7 70.8M259.9 80.2L260.4 80.2L261.0 81.4L261.8 82.5L261.3 83.8L260.1 84.0L259.8 82.5L259.7 81.3L259.9 80.2M310.9 56.0L312.0 54.7L313.5 54.5L314.5 54.6L315.5 54.4L316.2 53.7L316.7 52.8L317.3 53.2L318.5 52.5L319.5 51.5L320.0 50.0L320.0 48.8L321.4 48.6L321.4 49.6L321.9 50.5L321.0 51.8L320.9 53.1L320.7 54.7L319.8 55.1L318.8 55.4L317.2 55.4L316.8 55.8L315.6 56.5L315.2 55.6L313.5 55.6L311.8 56.0L310.9 56.0M309.8 56.5L311.0 56.2L312.0 57.0L311.8 57.9L311.3 58.7L310.2 58.7L309.8 57.4L309.8 56.5M312.5 56.1L313.5 55.7L314.5 55.8L314.7 56.2L313.9 56.8L313.0 57.2L312.5 56.1M320.0 48.5L320.3 46.8L321.5 46.5L321.4 45.5L321.8 44.6L322.5 45.4L323.5 45.8L324.4 46.4L325.5 46.7L324.5 47.3L323.5 48.0L322.3 48.4L321.0 48.2L320.0 48.5M322.0 44.0L323.5 43.2L322.8 42.2L322.7 41.0L323.0 40.0L323.2 39.0L323.2 37.7L323.0 36.5L322.5 35.7L321.8 37.0L321.8 38.0L321.9 39.0L322.0 40.0L322.2 41.3L321.8 42.5L322.0 44.0M174.3 40.0L175.2 40.0L176.1 39.4L177.0 39.3L178.1 39.0L179.1 38.9L180.2 38.8L181.3 38.8L181.7 37.3L180.3 36.6L179.8 35.8L178.5 35.0L178.0 34.1L177.0 34.0L177.5 33.2L178.2 32.5L176.5 32.3L177.0 31.4L176.0 31.3L175.0 31.4L174.2 32.5L174.4 33.8L174.0 34.5L175.2 34.4L175.0 35.2L176.7 35.1L176.8 35.8L177.0 36.6L175.4 36.7L175.9 37.5L174.7 38.2L175.6 38.5L176.5 38.6L175.5 38.9L174.3 40.0M174.0 37.8L173.8 36.5L174.5 35.5L173.5 34.7L172.0 34.8L171.3 35.7L170.0 36.0L170.5 37.0L169.7 38.0L170.5 38.4L172.0 38.2L173.0 38.1L174.0 37.8M95.1 68.1L96.0 67.5L97.1 67.5L98.0 66.8L99.0 67.0L100.0 66.9L100.9 67.2L101.6 67.9L102.5 68.2L103.2 68.8L104.1 69.2L105.0 69.3L105.8 69.8L104.8 69.9L103.8 69.9L102.8 70.1L102.0 69.3L101.1 69.2L100.2 68.8L99.5 68.2L98.0 67.7L97.1 68.1L96.0 67.8L95.1 68.1M105.6 71.5L106.6 71.0L107.2 70.1L108.1 70.4L109.1 70.2L110.0 70.3L110.9 70.7L111.6 71.4L110.0 71.8L108.5 72.3L107.5 72.0L106.6 71.6L105.6 71.5M120.6 42.4L121.5 41.9L122.3 41.3L123.1 40.8L124.0 40.4L124.1 39.4L124.5 38.4L125.3 39.0L125.9 39.7L126.5 40.5L126.7 41.6L127.4 42.5L126.2 43.3L124.5 43.0L123.5 43.1L122.6 42.6L121.6 42.6L120.6 42.4M56.6 41.6L55.6 41.3L54.5 41.1L53.5 40.7L52.7 39.8L51.7 39.4L53.0 39.2L54.0 39.9L55.2 40.3L55.8 41.1L56.6 41.6M191.0 11.2L192.1 11.3L192.9 10.3L194.0 10.4L195.0 10.4L196.0 10.0L197.0 10.1L198.0 9.4L199.0 9.8L200.0 10.1L201.0 9.4L202.0 9.7L203.0 9.6L204.0 9.3L205.0 10.3L206.0 10.0L207.0 10.0L206.1 10.7L205.1 11.0L204.1 11.5L202.8 10.9L202.0 11.7L200.9 11.8L199.9 12.0L198.9 12.4L198.2 13.6L197.0 13.4L196.1 13.1L195.1 13.1L194.4 12.2L193.5 12.0L192.1 12.0L191.0 11.2M232.0 18.5L232.9 18.0L233.9 17.7L234.5 16.7L235.5 16.5L236.0 15.5L237.4 15.5L238.0 14.5L239.0 14.1L240.0 13.9L241.1 14.1L242.0 13.5L242.9 13.6L243.9 13.8L244.8 13.6L245.7 13.5L246.6 13.0L247.6 12.9L248.5 13.0L247.5 13.1L246.6 13.3L246.0 14.2L244.9 14.4L244.1 15.1L242.9 15.0L241.9 15.4L241.0 16.0L240.1 16.2L239.7 17.3L238.8 17.5L237.7 17.6L237.0 18.1L236.5 19.0L235.3 19.0L234.2 19.3L233.0 19.3L232.0 18.5M275.0 11.0L276.0 10.6L277.1 10.8L278.1 10.5L278.9 9.6L280.0 9.5L281.0 9.8L282.0 10.1L283.0 10.3L284.1 9.8L285.0 10.5L284.3 11.1L284.0 12.0L283.0 12.0L282.0 11.6L281.0 11.6L280.0 12.0L279.0 11.5L277.9 11.9L277.0 11.1L276.0 10.8L275.0 11.0M316.0 14.5L317.0 14.2L318.0 14.6L319.1 14.7L320.0 13.7L321.0 14.0L321.9 14.1L322.9 13.8L323.8 14.3L324.8 13.8L325.7 14.4L326.6 14.7L327.5 15.0L328.5 14.5L327.3 14.8L326.2 15.1L325.0 15.2L324.1 15.8L322.9 15.1L322.0 15.8L321.0 15.7L320.0 16.0L318.8 15.8L317.7 15.3L316.5 15.5L316.0 14.5M227.0 9.5L228.0 9.6L229.0 9.2L229.9 8.7L231.1 9.4L232.0 8.9L233.0 8.4L233.9 8.1L235.0 8.5L236.0 8.9L237.0 9.0L238.0 8.2L239.0 8.2L240.0 8.8L241.0 9.4L242.0 8.5L243.0 9.0L242.0 9.1L241.1 9.8L240.0 9.7L239.1 10.2L238.0 10.0L237.0 9.7L236.0 10.4L235.0 9.8L234.0 10.0L233.0 10.5L232.0 10.5L231.0 9.8L230.0 10.2L229.1 9.7L228.0 9.6L227.0 9.5M100.0 16.3L101.0 16.6L102.0 17.0L102.9 17.6L104.0 17.5L104.9 18.1L106.1 17.9L107.1 18.1L107.8 19.3L109.0 19.2L109.9 19.4L110.8 19.4L111.5 20.4L112.5 20.2L113.3 21.0L113.5 22.1L114.3 22.7L115.3 22.5L116.2 22.8L117.1 22.9L118.0 23.3L116.9 24.1L116.2 25.2L115.4 26.0L114.8 27.0L113.9 27.4L112.9 27.5L112.0 27.8L111.0 27.8L110.0 27.3L109.0 27.2L108.0 26.7L107.2 25.8L106.0 25.8L104.7 25.8L103.5 25.5L102.0 24.7L102.9 24.4L103.9 24.3L104.6 23.4L105.5 23.1L106.5 23.0L107.5 22.0L106.5 21.7L105.6 21.2L104.5 21.2L103.5 21.0L102.7 20.0L101.5 19.8L100.3 19.5L99.2 20.0L98.0 20.2L97.0 19.7L96.0 20.0L95.0 20.0L94.0 19.4L93.0 19.9L92.0 19.7L91.5 18.7L90.5 18.5L91.4 17.8L92.4 17.2L93.5 17.0L94.4 16.9L95.4 17.3L96.3 16.7L97.2 16.7L98.1 16.0L99.1 16.8L100.0 16.3M94.0 25.5L95.0 25.2L96.1 25.2L97.0 25.5L98.0 25.6L99.0 26.0L99.5 25.0L98.6 24.4L97.4 25.0L96.5 24.2L95.5 24.0L95.1 25.1L94.0 25.5M62.0 18.7L62.8 17.8L64.2 18.0L64.9 16.9L66.0 16.7L67.0 16.2L68.0 17.2L69.0 16.9L70.0 16.5L71.0 17.2L72.0 16.8L73.0 16.7L73.7 17.6L74.7 17.4L75.5 18.0L76.3 18.8L77.5 18.9L78.5 19.4L77.8 20.2L76.6 19.8L75.8 20.2L75.0 20.8L74.0 20.9L73.0 20.8L71.9 20.6L71.0 21.2L70.1 20.8L69.2 20.7L68.3 21.6L67.4 21.2L66.5 21.0L65.4 21.3L64.6 20.3L63.4 20.8L62.5 20.3L62.0 18.7M54.5 18.0L55.4 17.5L55.5 16.4L56.0 15.7L57.0 15.6L58.0 15.9L59.0 15.3L60.0 15.6L61.0 15.7L61.9 15.9L62.9 15.8L63.5 16.9L64.5 16.7L63.8 17.8L62.6 18.0L61.5 18.5L60.6 18.5L59.7 19.0L58.8 18.5L58.0 19.4L57.0 19.0L55.7 18.6L54.5 18.0M78.5 17.0L79.5 17.0L80.5 16.4L81.5 16.6L82.6 16.7L83.5 16.2L84.2 17.0L84.5 18.0L83.0 18.8L81.9 18.2L80.6 19.0L79.5 18.5L79.2 17.6L78.5 17.0M85.0 16.2L85.9 16.0L86.8 15.6L87.7 16.0L88.6 15.9L89.5 16.0L89.5 17.5L88.3 17.4L87.1 17.2L86.0 17.9L85.9 16.8L85.0 16.2M88.0 13.5L88.9 13.9L89.8 13.4L90.8 13.6L91.7 13.5L92.6 13.1L93.5 13.9L94.5 13.8L95.4 13.3L96.3 14.0L97.2 14.0L98.2 13.7L99.1 13.9L100.0 13.5L99.6 14.4L99.5 15.4L98.5 15.1L97.6 15.5L96.6 15.4L95.7 15.0L94.7 15.5L93.8 15.3L92.8 14.9L91.8 15.7L90.9 15.0L89.9 14.8L89.0 14.8L88.0 15.2L88.0 13.5M90.0 9.7L91.0 9.3L91.9 8.7L92.9 8.6L94.0 8.7L95.1 8.5L96.0 8.0L97.0 8.5L97.8 7.7L98.8 7.7L99.7 7.9L100.6 7.5L101.5 7.6L102.4 7.0L103.4 7.1L104.3 7.6L105.2 6.8L106.2 7.7L107.1 7.0L108.0 7.0L108.9 7.2L109.8 7.4L110.7 7.7L111.7 6.9L112.5 7.9L113.5 7.3L114.4 7.0L115.2 7.9L116.2 7.9L117.1 7.5L118.0 7.7L117.0 7.9L116.0 8.3L115.1 8.7L113.9 8.2L113.0 8.6L112.0 9.0L110.9 9.0L109.9 9.0L109.1 10.2L108.1 10.3L107.1 10.5L106.0 10.5L104.8 10.3L104.1 11.5L103.1 11.7L102.0 11.7L101.0 12.0L101.7 12.6L102.0 13.5L101.0 13.5L100.0 13.3L99.0 13.2L98.0 13.3L97.0 13.2L96.0 13.7L95.1 13.4L94.1 13.7L93.2 13.6L92.3 13.6L91.4 13.3L90.5 13.0L90.6 11.9L90.1 10.8L90.0 9.7M84.0 9.5L85.0 9.4L85.9 8.8L87.0 8.9L88.0 8.8L88.9 9.3L90.0 9.0L91.1 8.9L91.9 9.9L93.0 9.8L92.5 10.8L91.5 11.2L90.5 10.8L89.6 11.1L88.7 11.2L87.9 11.9L87.0 12.2L86.0 11.8L85.1 11.2L84.8 10.1L84.0 9.5M64.0 14.5L64.9 13.9L66.0 14.3L67.1 14.2L68.0 13.7L69.0 13.3L69.9 13.7L70.8 13.7L71.7 13.8L72.7 13.5L73.6 14.2L74.5 14.2L73.5 15.2L72.5 15.6L71.5 15.5L70.5 15.7L69.5 15.3L68.5 15.7L67.5 15.5L66.5 15.5L65.3 14.8L64.0 14.5M79.0 13.7L80.0 14.0L81.0 13.5L82.0 14.0L83.0 13.5L83.9 14.0L84.0 15.0L83.1 14.6L82.2 14.5L81.3 14.6L80.4 15.5L79.5 15.0L79.0 13.7M58.0 13.5L59.0 13.5L60.1 13.6L61.1 13.5L62.1 13.3L63.0 12.5L64.0 12.5L63.5 13.8L62.6 13.9L61.7 13.9L60.7 13.9L59.9 13.1L58.9 13.6L58.0 13.5M0.0 168.2L0.9 168.3L1.9 168.1L2.8 168.1L3.7 168.1L4.7 168.6L5.6 168.1L6.5 168.1L7.5 168.1L8.4 168.6L9.3 168.6L10.3 168.7L11.2 168.7L12.1 168.3L13.1 168.3L14.0 168.5L14.9 168.4L15.9 168.5L16.8 168.6L17.8 168.5L18.9 168.4L19.9 168.2L20.8 167.6L21.8 167.5L22.8 167.6L23.7 167.4L24.6 167.2L25.6 167.3L26.5 167.0L27.4 166.9L28.3 166.5L29.3 166.5L30.4 166.4L31.4 166.2L32.4 165.6L33.5 165.7L34.4 165.6L35.3 165.3L36.3 165.3L37.3 165.6L38.2 165.3L39.1 165.2L40.0 164.9L41.0 165.0L41.9 164.7L42.8 164.7L43.8 164.8L44.7 164.4L45.7 164.7L46.5 164.2L47.5 164.5L48.5 164.5L49.4 164.3L50.3 164.0L51.4 163.6L52.4 163.3L53.6 163.3L54.5 163.7L55.5 163.5L56.4 163.5L57.3 163.4L58.2 163.9L59.2 163.8L60.1 163.9L61.0 163.7L61.9 164.2L62.9 163.8L63.8 164.3L64.7 164.4L65.7 164.2L66.6 164.4L67.5 164.7L68.4 164.5L69.3 164.9L70.3 164.5L71.2 164.8L72.2 164.6L73.3 164.4L74.3 164.4L75.4 164.4L76.3 163.6L77.0 162.7L77.9 162.4L78.7 161.9L79.7 162.0L80.6 161.8L81.6 162.3L82.5 161.9L83.5 162.5L84.4 162.4L85.4 162.4L86.4 162.1L87.3 162.4L88.3 162.5L89.2 162.3L90.2 162.7L91.1 162.7L92.1 162.7L93.1 162.8L94.1 162.8L95.1 163.0L96.0 163.2L97.0 163.5L98.0 163.6L99.1 163.4L100.3 163.2L101.3 162.7L102.3 162.1L103.4 161.8L104.4 161.4L105.5 161.1L106.5 160.7L107.2 160.0L107.9 159.3L108.8 158.9L109.8 158.6L110.6 157.9L111.4 157.3L112.1 156.6L113.2 156.5L114.0 156.0L114.8 155.5L115.6 154.8L116.4 154.2L117.3 153.9L118.3 154.0L119.3 153.9L120.3 153.8L121.3 153.7L122.3 153.5L121.5 154.0L120.5 154.4L119.7 155.0L118.9 155.6L118.8 156.6L119.4 157.5L119.4 158.5L119.2 159.5L119.8 160.3L119.4 161.4L119.8 162.3L119.3 163.2L119.2 164.4L118.5 165.2L119.5 165.2L120.4 165.5L121.3 165.9L122.2 166.2L123.2 166.2L124.1 166.7L125.1 166.9L126.0 167.0L126.9 167.4L127.9 167.4L128.9 167.4L129.8 167.8L130.7 167.7L131.6 167.9L132.5 167.9L133.4 168.1L134.3 168.3L135.2 168.1L136.1 168.3L137.0 168.1L137.9 168.1L138.8 168.4L139.7 168.4L140.6 168.3L141.5 168.6L142.4 168.6L143.4 168.5L144.2 167.9L145.0 167.5L145.9 167.2L146.9 167.0L147.7 166.6L148.7 166.4L149.6 166.1L150.5 165.9L151.4 165.7L152.3 165.2L153.3 165.2L154.1 164.7L155.0 164.4L155.9 164.1L156.8 163.9L157.7 163.8L158.6 163.8L159.5 163.6L160.4 163.4L161.2 163.1L162.2 163.0L163.0 162.7L163.9 162.4L164.9 162.6L165.7 162.2L166.6 161.9L167.5 161.9L168.4 161.9L169.3 161.7L170.1 161.3L171.1 161.7L172.0 161.3L172.9 161.4L173.7 160.9L174.6 160.7L175.5 160.9L176.5 161.0L177.3 160.6L178.2 160.5L179.1 160.3L180.0 160.3L180.9 160.3L181.9 160.2L182.8 160.1L183.7 160.3L184.6 160.4L185.6 160.1L186.5 160.5L187.4 160.2L188.3 160.4L189.3 160.2L190.2 160.6L191.1 160.1L192.0 160.5L193.0 160.7L193.9 160.5L194.8 160.5L195.7 160.7L196.7 160.5L197.6 160.5L198.5 160.3L199.4 160.5L200.4 160.6L201.3 160.6L202.2 160.3L203.2 160.2L204.1 160.5L205.0 160.5L205.9 160.6L206.8 160.2L207.7 160.4L208.6 160.5L209.5 160.5L210.4 160.0L211.3 160.0L212.2 160.0L213.1 160.1L214.0 160.0L214.9 160.1L215.8 159.6L216.7 159.9L217.6 159.8L218.5 159.5L219.4 159.1L220.3 158.9L221.2 158.9L222.1 158.7L223.0 158.4L224.0 158.4L224.7 157.7L225.7 157.8L226.5 157.2L227.5 157.3L228.4 157.0L229.3 156.9L230.2 156.5L231.1 156.6L232.0 156.9L232.9 157.1L233.9 156.7L234.8 157.1L235.7 157.2L236.6 157.2L237.6 157.2L238.5 157.3L239.4 157.5L240.3 157.5L241.2 157.6L242.1 158.0L243.0 157.8L243.9 158.0L244.7 158.6L245.7 158.3L246.6 158.4L247.5 158.6L248.3 159.1L249.3 158.9L250.1 159.1L251.0 159.6L251.9 159.8L252.8 159.4L253.7 159.8L254.6 159.5L255.5 159.5L256.4 159.3L257.3 159.1L258.2 158.8L259.0 158.3L259.9 158.3L260.9 158.2L261.6 157.5L262.5 157.3L263.5 157.4L264.3 156.8L265.2 156.7L266.1 156.4L267.0 156.2L267.9 156.1L268.8 155.7L269.7 155.7L270.7 155.5L271.7 155.8L272.6 155.4L273.5 155.3L274.4 155.1L275.4 155.2L276.3 155.0L277.3 154.9L278.2 155.1L279.1 155.4L280.0 155.5L280.9 155.6L281.9 155.5L282.8 155.8L283.8 155.7L284.7 156.0L285.6 155.8L286.6 155.9L287.5 156.0L288.5 155.9L289.3 156.5L290.3 156.0L291.2 156.4L292.2 156.4L293.1 156.5L294.0 156.4L295.0 156.3L295.9 156.5L296.8 156.5L297.8 156.1L298.7 156.6L299.6 156.3L300.6 156.2L301.5 156.6L302.4 156.2L303.4 156.1L304.3 156.0L305.2 156.3L306.2 155.9L307.1 156.2L308.0 156.2L309.0 155.9L309.9 156.1L310.8 156.4L311.8 156.1L312.7 156.2L313.6 156.5L314.6 156.2L315.5 156.6L316.4 156.6L317.3 156.6L318.3 156.5L319.2 156.9L320.1 156.9L321.0 156.9L322.0 156.9L322.9 156.8L323.8 157.2L324.8 157.0L325.7 157.3L326.6 157.3L327.5 157.5L328.3 157.8L329.3 157.8L330.2 157.7L331.0 158.1L331.9 158.2L332.8 158.7L333.7 158.8L334.5 159.0L335.5 159.0L336.3 159.2L337.2 159.3L338.0 159.9L339.0 159.7L339.9 159.8L340.8 160.1L341.6 160.6L342.5 160.6L343.4 160.7L344.3 161.2L345.3 161.2L346.3 161.0L347.2 161.3L348.2 161.5L349.2 161.6L350.1 161.9L349.5 163.1L348.5 164.0L347.5 164.3L346.6 164.6L345.6 164.9L344.6 165.2L343.6 165.5L342.6 165.7L343.3 166.3L343.6 167.2L344.3 167.8L345.2 167.7L346.1 167.8L347.1 167.7L348.0 168.1L348.9 168.1L349.8 168.1L350.8 167.7L351.7 167.6L352.6 167.8L353.5 168.0L354.5 167.7L355.4 167.8L356.3 167.9L357.2 168.1L358.2 168.1L359.1 168.0L360.0 168.0M81.5 21.0L82.8 20.9L84.0 20.4L83.5 21.5L82.5 21.2L81.5 21.0M99.5 16.3L100.5 16.3L101.6 16.1L102.4 17.2L103.5 16.8L102.5 17.2L101.5 17.5L100.8 16.5L99.5 16.3M96.5 27.1L97.4 27.7L98.5 27.5L97.5 28.0L96.5 27.1M82.5 14.2L83.4 13.9L84.3 14.2L85.2 13.9L86.1 14.4L87.0 14.4L86.0 15.2L85.3 14.4L84.3 14.6L83.3 14.5L82.5 14.2M69.0 12.0L70.0 11.6L71.0 11.6L72.0 12.2L73.0 12.2L71.7 12.5L70.5 13.0L70.0 12.1L69.0 12.0M80.0 11.4L81.0 11.2L82.0 11.6L83.0 11.2L82.0 12.2L81.1 11.4L80.0 11.4M75.5 11.2L76.5 11.7L77.5 11.6L78.5 11.0L78.0 12.0L76.7 11.8L75.5 11.2M66.0 13.0L67.0 13.3L68.0 12.3L69.0 13.2L70.0 12.7L68.5 13.6L67.2 13.7L66.0 13.0M0.0 18.5L1.2 19.1L2.5 18.8L1.4 18.4L0.5 19.1L0.0 18.5M359.0 18.6L360.0 18.5L360.0 19.1L359.0 18.6M91.0 17.0L92.0 16.9L93.0 17.6L94.0 17.5L92.5 18.2L91.6 17.8L91.0 17.0M75.0 16.5L76.3 16.7L77.5 16.2L77.0 17.2L76.2 16.4L75.0 16.5M100.5 33.5L101.5 33.8L101.0 34.2L100.5 33.5M115.0 141.0L116.0 141.0L117.0 141.1L118.0 141.2L119.0 141.5L120.0 141.6L121.0 142.0L120.0 141.9L119.0 142.3L118.0 142.0L117.0 141.8L116.0 141.3L115.0 141.0M10.0 26.2L11.5 26.8L10.5 27.2L9.5 26.5L8.5 26.7L10.0 26.2M26.5 32.0L28.0 32.5L27.1 33.1L26.0 33.2L26.5 32.0M47.0 36.0L47.8 36.4L48.5 37.0L47.5 37.5L47.0 36.0M143.5 144.2L144.2 144.7L142.5 144.6L143.5 144.2M249.0 139.0L250.5 139.3L249.5 139.8L249.0 139.0M346.0 110.5L346.5 111.5L347.5 112.2L346.8 112.0L346.0 110.5M358.0 107.5L359.0 107.0L358.5 108.2L358.0 107.5M339.5 99.0L341.0 99.8L340.0 100.0L339.5 99.0M330.0 95.0L331.1 94.9L332.0 94.2L331.5 95.5L330.0 95.0M306.0 98.5L307.0 98.5L306.1 99.3L305.0 100.0L304.0 100.2L304.9 99.2L306.0 98.5M295.5 98.4L296.7 98.7L297.8 98.6L299.0 98.5L300.5 98.8L299.6 99.0L298.7 98.7L297.8 99.1L296.9 99.0L296.0 99.0L295.5 98.4M307.5 88.0L308.5 88.5L308.0 89.7L307.5 88.0M308.0 93.0L309.2 93.4L310.5 93.2L309.5 93.7L308.0 93.0M116.0 79.2L117.0 79.3L118.0 79.2L119.0 79.3L118.5 80.0L117.3 79.6L116.0 79.2M112.7 71.5L114.4 71.5L114.0 72.0L112.7 71.5M101.7 71.5L102.8 71.5L103.8 71.8L103.0 72.3L101.7 71.5M189.5 49.0L189.1 50.0L189.2 51.0L188.4 51.0L188.2 50.1L188.3 49.1L189.5 49.0M189.5 47.0L189.5 48.6L188.6 48.1L189.5 47.0M192.4 51.9L193.5 51.9L194.5 51.7L195.6 51.8L195.1 53.3L194.2 52.9L193.3 52.3L192.4 51.9M203.5 54.5L204.4 54.7L205.4 54.5L206.3 54.8L205.4 55.2L204.5 55.1L203.5 54.5M212.3 54.9L213.4 54.5L214.6 54.4L213.8 54.9L213.0 55.4L212.3 54.9M162.1 61.2L163.2 61.2L164.3 61.3L165.4 60.6L166.5 60.8L165.7 61.4L164.9 61.9L164.0 62.2L163.1 61.6L162.1 61.2M173.7 27.7L173.2 28.0L172.7 27.7L173.7 27.7M177.2 30.8L178.0 30.0L178.8 29.3L178.4 30.5L177.2 30.8M190.5 21.5L191.3 20.8L192.3 20.9L193.2 21.0L194.2 21.2L195.1 20.9L196.0 20.7L195.2 21.7L194.0 22.0L192.9 21.7L191.6 21.9L190.5 21.5M204.0 10.0L205.0 9.9L206.0 9.5L207.0 9.6L208.0 10.1L209.0 10.4L210.0 10.1L211.0 9.9L212.0 9.8L211.0 10.1L210.1 10.6L209.1 10.9L207.9 10.3L207.0 11.0L205.9 11.0L204.9 10.7L204.0 10.0M320.0 11.0L321.0 10.8L321.8 11.4L322.7 11.9L323.7 11.5L324.6 11.8L325.5 12.2L326.5 12.1L327.2 13.0L328.1 13.5L329.1 13.2L330.0 13.5L329.1 13.9L328.2 13.2L327.3 13.9L326.4 14.1L325.5 13.4L324.6 13.8L323.7 13.9L322.8 13.7L321.9 13.4L321.0 13.8L320.9 12.8L320.1 12.0L320.0 11.0M337.0 38.0L338.0 37.0L337.4 38.1L336.5 39.0L337.0 38.0" fill="none" stroke="#111" stroke-width="1.3" stroke-linejoin="round" vector-effect="non-scaling-stroke"/><path id="coast2" d="M100.0 16.3L100.9 16.9L102.1 16.7L103.1 17.0L104.0 17.5L105.1 17.5L105.9 18.5L106.9 18.8L107.9 19.2L109.0 19.2L109.8 19.7L110.8 19.5L111.5 20.3L112.5 20.2L113.0 21.1L113.5 22.1L114.3 22.6L115.2 22.8L116.2 22.9L117.2 22.7L118.0 23.3L117.2 24.3L116.2 25.2L115.1 25.8L114.8 27.0L113.8 27.0L112.8 27.2L112.0 27.8L110.9 28.0L109.9 27.7L109.0 27.2L107.9 27.0L106.8 26.6L106.0 25.8L104.7 25.9L103.5 25.5L102.0 24.7L102.7 23.9L103.7 23.7L104.8 23.9L105.5 23.0L106.5 23.0L107.5 22.0L106.5 21.7L105.4 21.8L104.5 21.3L103.5 21.0L102.5 20.3L101.5 19.8L100.3 19.8L99.2 20.0L98.0 20.2L97.0 19.9L96.0 19.6L95.0 20.3L94.0 20.2L93.0 20.3L92.0 19.7L91.1 19.3L90.5 18.5L91.5 17.9L92.4 17.3L93.5 17.0L94.5 17.3L95.3 16.6L96.3 16.8L97.3 17.0L98.2 16.8L99.1 16.4L100.0 16.3M62.0 18.7L63.1 18.4L64.0 17.7L64.9 17.1L66.0 16.7L67.0 16.8L68.0 17.1L69.0 16.8L70.0 17.1L71.0 17.1L72.0 16.8L72.8 17.4L73.7 17.5L74.5 18.1L75.5 18.0L76.6 18.3L77.7 18.5L78.5 19.4L77.6 19.6L76.8 20.3L76.1 20.9L75.0 20.8L74.0 20.4L73.0 20.6L72.0 21.4L71.0 21.2L70.1 21.5L69.2 21.3L68.3 20.7L67.4 20.9L66.5 21.0L65.4 21.2L64.4 21.1L63.4 20.8L62.5 20.3L62.0 18.7M54.5 18.0L55.3 17.4L55.2 16.3L56.0 15.7L57.0 15.8L58.0 15.5L59.0 16.1L60.0 15.2L61.0 15.7L61.9 15.8L62.8 16.0L63.5 16.8L64.5 16.7L63.6 17.4L62.5 18.0L61.5 18.5L60.6 18.7L59.7 18.5L58.8 19.0L57.9 18.7L57.0 19.0L55.8 18.3L54.5 18.0M78.5 17.0L79.6 17.2L80.5 16.5L81.6 16.9L82.5 16.7L83.5 16.2L83.6 17.3L84.5 18.0L83.0 18.8L81.8 18.9L80.7 18.7L79.5 18.5L79.0 17.8L78.5 17.0M85.0 16.2L85.9 16.7L86.8 16.2L87.7 16.3L88.6 16.5L89.5 16.0L89.5 17.5L88.3 17.1L87.2 18.3L86.0 17.9L85.9 16.8L85.0 16.2M88.0 13.5L88.9 13.7L89.8 13.8L90.8 13.4L91.7 14.0L92.6 13.5L93.5 13.6L94.5 13.1L95.4 14.0L96.3 13.7L97.2 13.5L98.2 13.0L99.1 13.5L100.0 13.5L99.7 14.4L99.5 15.4L98.5 15.6L97.6 15.1L96.6 14.8L95.7 15.3L94.7 15.8L93.7 15.6L92.8 15.0L91.8 15.5L90.9 15.6L89.9 15.0L89.0 15.3L88.0 15.2L88.0 13.5M90.0 9.7L91.0 9.6L92.1 9.4L93.1 9.1L94.1 8.9L95.0 8.4L96.0 8.0L97.0 8.4L97.9 8.0L98.8 8.2L99.7 7.4L100.6 7.5L101.6 8.1L102.4 7.2L103.4 7.7L104.3 7.3L105.2 7.2L106.2 7.3L107.1 7.3L108.0 7.0L108.9 7.1L109.8 7.5L110.8 6.8L111.6 7.7L112.6 7.0L113.4 7.7L114.3 7.7L115.3 7.6L116.1 8.1L117.1 8.0L118.0 7.7L117.0 7.8L116.0 8.1L115.1 8.8L114.1 9.1L112.9 8.3L112.0 9.0L111.0 9.3L109.9 9.1L109.1 10.1L108.0 9.8L107.1 10.7L106.0 10.5L105.0 10.8L103.9 10.7L102.8 10.9L101.9 11.4L101.0 12.0L101.8 12.5L102.0 13.5L101.0 13.1L100.0 13.5L99.0 13.5L98.0 13.5L97.0 14.0L96.0 13.7L95.1 13.3L94.1 13.7L93.2 13.5L92.3 13.7L91.4 13.1L90.5 13.0L89.9 12.0L90.2 10.8L90.0 9.7M84.0 9.5L85.0 9.2L86.0 9.0L86.9 8.6L88.0 8.8L89.1 8.6L89.9 9.6L90.9 9.8L92.0 9.6L93.0 9.8L92.5 10.8L91.5 11.2L90.6 11.3L89.6 11.2L88.8 12.0L87.8 11.4L86.9 11.2L86.0 11.8L85.7 10.7L85.1 9.9L84.0 9.5M64.0 14.5L65.0 14.1L66.1 14.5L67.0 13.7L68.0 13.7L69.0 13.4L69.9 13.3L70.8 13.6L71.7 14.1L72.7 13.9L73.6 13.8L74.5 14.2L73.5 15.2L72.5 15.5L71.5 15.1L70.5 15.6L69.5 14.9L68.5 15.2L67.5 16.0L66.5 15.5L65.3 15.0L64.0 14.5M79.0 13.7L80.0 13.9L81.0 13.3L82.0 13.6L83.0 13.5L83.0 14.6L84.0 15.0L83.1 14.5L82.2 14.7L81.3 14.8L80.4 15.5L79.5 15.0L79.0 13.7M58.0 13.5L59.0 13.6L59.9 12.8L60.9 12.6L62.0 12.9L62.9 12.1L64.0 12.5L63.5 13.8L62.6 14.0L61.7 13.7L60.8 13.4L59.8 13.6L58.9 14.0L58.0 13.5M191.0 11.2L192.0 10.9L193.1 11.0L194.0 10.6L195.0 10.3L196.0 10.0L197.0 10.3L198.0 9.8L199.0 10.4L200.0 9.4L201.0 10.1L202.0 9.7L203.0 10.2L204.0 9.7L205.0 10.1L206.0 9.5L207.0 10.0L206.0 10.3L205.0 10.7L204.1 11.4L202.9 11.1L202.0 11.7L201.1 12.3L200.1 12.5L199.0 12.6L198.2 13.5L197.0 13.4L196.3 12.6L195.1 13.1L194.5 12.0L193.5 12.0L192.1 12.0L191.0 11.2M227.0 9.5L228.0 9.8L229.1 9.7L230.0 9.1L230.9 8.5L232.0 9.1L233.0 8.8L234.0 8.5L235.0 8.5L236.0 8.8L237.0 8.6L238.0 9.2L239.0 8.8L240.0 8.5L241.0 9.1L242.0 9.2L243.0 9.0L241.9 8.7L241.0 9.6L240.0 9.5L239.1 10.2L238.0 10.0L237.0 10.3L236.0 9.6L235.0 10.5L234.0 10.6L233.0 10.5L232.0 10.5L231.0 10.4L230.0 10.2L228.9 10.2L228.0 9.9L227.0 9.5M275.0 11.0L276.0 10.6L277.1 10.7L278.1 10.5L278.9 9.6L280.0 9.5L281.0 9.6L281.9 10.4L283.0 9.9L284.0 10.2L285.0 10.5L284.5 11.3L284.0 12.0L283.0 12.2L282.0 12.2L281.0 11.6L280.0 11.9L279.0 11.5L278.0 11.4L277.0 11.3L276.0 11.0L275.0 11.0M316.0 14.5L317.0 13.9L318.0 14.4L319.0 13.7L320.0 14.3L321.0 14.0L322.0 13.9L322.9 13.7L323.8 14.0L324.7 14.4L325.7 14.8L326.6 14.4L327.6 14.5L328.5 14.5L327.4 15.1L326.2 15.3L325.0 15.2L324.1 15.9L323.0 15.5L322.0 15.6L321.0 15.9L320.0 16.0L318.8 16.1L317.7 15.2L316.5 15.5L316.0 14.5M232.0 18.5L233.0 18.3L233.9 17.8L234.7 17.2L235.5 16.5L236.5 16.0L236.8 14.8L238.0 14.5L239.1 14.6L239.9 13.5L241.1 14.0L242.0 13.5L243.0 13.8L243.8 12.8L244.8 13.7L245.7 13.6L246.7 13.6L247.6 13.5L248.5 13.0L247.6 13.3L246.7 13.5L246.0 14.2L244.9 14.2L243.8 14.4L243.1 15.5L241.8 15.2L241.0 16.0L240.1 16.3L239.5 17.1L239.0 17.9L238.1 18.1L237.4 18.7L236.5 19.0L235.4 19.3L234.2 19.5L233.0 19.3L232.0 18.5M81.5 21.0L82.7 20.3L84.0 20.4L83.5 21.5L82.6 20.9L81.5 21.0M99.5 16.3L100.4 16.9L101.5 16.4L102.5 16.7L103.5 16.8L102.5 17.2L101.5 17.5L100.3 17.2L99.5 16.3M96.5 27.1L97.4 27.7L98.5 27.5L97.5 28.0L96.5 27.1M82.5 14.2L83.4 14.0L84.3 14.4L85.2 14.4L86.1 14.6L87.0 14.4L86.0 15.2L85.2 14.7L84.2 14.8L83.4 14.5L82.5 14.2M69.0 12.0L70.0 11.6L71.0 12.3L72.0 11.9L73.0 12.2L71.6 12.2L70.5 13.0L69.7 12.6L69.0 12.0M80.0 11.4L81.0 11.7L82.0 10.9L83.0 11.2L82.0 12.2L80.8 12.3L80.0 11.4M75.5 11.2L76.5 11.4L77.5 10.7L78.5 11.0L78.0 12.0L76.8 11.3L75.5 11.2M66.0 13.0L67.0 13.1L68.0 13.3L69.0 12.8L70.0 12.7L68.5 13.6L67.4 12.9L66.0 13.0M91.0 17.0L92.0 16.9L93.0 17.3L94.0 17.5L92.5 18.2L91.8 17.5L91.0 17.0M75.0 16.5L76.2 16.1L77.5 16.2L77.0 17.2L76.1 16.6L75.0 16.5M160.0 8.0L160.6 9.1L161.5 10.0L160.4 10.6L159.5 11.5L160.2 12.7L161.5 13.0L160.9 13.9L159.6 13.6L159.0 14.5L159.4 15.6L160.5 16.0L159.6 16.8L158.7 17.3L157.5 17.5L158.0 18.3L158.5 19.0L157.2 19.4L156.0 20.0M158.0 9.0L158.2 10.0L159.0 10.5L157.8 11.2L157.5 12.5L158.3 13.2L159.0 14.0L158.0 14.3L157.1 14.7L156.5 15.5L157.6 15.9L158.0 17.0L156.9 17.0L156.3 17.9L155.5 18.5M120.0 7.5L120.9 7.2L121.8 7.2L122.7 7.9L123.6 7.1L124.5 7.3L125.5 7.2L126.3 6.8L127.3 7.0L128.2 7.1L129.1 6.9L130.0 7.2L130.9 7.2L131.8 7.0L132.7 6.7L133.6 6.9L134.6 7.1L135.5 7.4L136.3 6.5L137.3 6.9L138.2 6.8L139.1 6.9L140.0 6.6L140.9 6.5L141.8 6.7L142.7 6.2L143.6 6.5L144.5 6.5L145.5 6.2L146.4 6.6L147.3 6.5L148.2 6.2L149.1 6.3L150.0 6.5L151.0 6.3L152.0 6.2L153.0 6.7L154.0 6.8L155.0 7.3L156.0 7.3L157.0 7.2L158.0 7.2M60.0 15.2L61.0 15.2L62.0 14.7L63.0 15.6L64.0 15.2L65.0 14.7L66.0 14.9L67.0 14.5L68.0 14.8L69.0 15.2L70.0 14.6L71.0 15.0L72.0 14.9L73.0 15.5L74.0 15.2L75.0 14.8L76.0 15.2L77.0 15.0L78.0 15.2L79.0 15.4L80.0 15.9L81.0 15.2L82.0 15.5L83.0 15.2L84.0 15.5L85.0 15.4L86.0 15.6L87.0 15.1L88.0 16.0L89.0 15.1L90.0 16.0L91.0 15.1L92.0 15.6L93.0 15.5L94.0 15.7L95.0 15.2L96.0 15.7L97.0 15.7L98.0 16.2L99.0 15.4L100.0 15.8M62.0 14.0L62.9 13.8L63.8 14.1L64.8 14.2L65.6 13.8L66.5 13.2L67.4 13.2L68.4 13.5L69.3 13.9L70.2 13.0L71.1 13.6L72.0 13.2L73.0 12.9L74.0 13.1L75.0 12.5L76.0 13.4L77.0 12.6L78.0 12.7L79.0 13.4L80.0 12.8L81.0 12.7L82.0 13.0L83.0 12.5L84.0 12.1L85.0 12.4L86.0 12.6L87.0 12.4L88.0 12.5M58.0 17.5L58.9 17.8L59.8 17.6L60.7 18.1L61.6 17.4L62.5 18.2L63.5 17.7L64.3 18.2L65.3 17.8L66.2 18.4L67.1 18.5L68.0 18.0L69.0 18.0L70.0 18.0L71.0 17.9L72.0 18.2L73.1 18.0L74.0 19.0L75.0 18.6L76.0 18.8L77.0 18.8L78.0 19.4L79.0 19.5L80.0 19.6L81.0 19.4L82.0 19.5M85.0 19.5L86.0 19.3L87.0 19.5L88.0 19.7L89.0 20.4L90.0 20.0L90.9 19.5L92.0 19.5L93.1 19.6L94.0 19.0L95.0 18.5L96.1 18.5L97.1 18.1L98.0 17.5" fill="none" stroke="#151515" stroke-width="2.4" stroke-linejoin="round" vector-effect="non-scaling-stroke"/></defs></svg>
<div class="title" style="left:24px;top:3px">(a) OMCLDO2&nbsp; effective cloud fraction</div>
<svg class="map" style="left:26.2px;top:75.4px;width:1024.4px;height:512.6px" viewBox="0 0 360 180" preserveAspectRatio="none"><defs><filter id="bla" x="-5%" y="-5%" width="110%" height="110%" color-interpolation-filters="sRGB"><feTurbulence type="fractalNoise" baseFrequency="0.09 0.14" numOctaves="3" seed="11" result="t"/><feDisplacementMap in="SourceGraphic" in2="t" scale="12" xChannelSelector="R" yChannelSelector="G" result="dm"/><feGaussianBlur in="dm" stdDeviation="1.6 0.8" result="b1"/><feTurbulence type="fractalNoise" baseFrequency="0.45 0.7" numOctaves="2" seed="23" result="t2"/><feDisplacementMap in="b1" in2="t2" scale="7" xChannelSelector="R" yChannelSelector="G" result="dm2"/><feGaussianBlur in="dm2" stdDeviation="0.25"/></filter><filter id="spa" x="0" y="0" width="100%" height="100%" color-interpolation-filters="sRGB"><feTurbulence type="fractalNoise" baseFrequency="0.09 0.14" numOctaves="3" seed="11" result="t"/><feDisplacementMap in="SourceGraphic" in2="t" scale="12" xChannelSelector="R" yChannelSelector="G" result="dm"/><feGaussianBlur in="dm" stdDeviation="1.6 0.8" result="cov"/><feTurbulence type="fractalNoise" baseFrequency="0.27 0.62" numOctaves="2" seed="3" result="nz"/><feColorMatrix in="nz" type="matrix" values="1 0 0 0 0  1 0 0 0 0  1 0 0 0 0  0 0 0 0 1" result="nz1"/><feComponentTransfer in="nz1" result="nz2"><feFuncR type="linear" slope="2.6" intercept="-0.8"/><feFuncG type="linear" slope="2.6" intercept="-0.8"/><feFuncB type="linear" slope="2.6" intercept="-0.8"/></feComponentTransfer><feComposite in="cov" in2="nz2" operator="arithmetic" k1="0" k2="1" k3="1" k4="-0.96" result="d"/><feComponentTransfer in="d"><feFuncR type="linear" slope="9" intercept="0"/><feFuncG type="linear" slope="9" intercept="0"/><feFuncB type="linear" slope="9" intercept="0"/><feFuncA type="linear" slope="0" intercept="1"/></feComponentTransfer><feGaussianBlur stdDeviation="0.3"/></filter><filter id="fta" x="-5%" y="-5%" width="110%" height="110%" color-interpolation-filters="sRGB"><feTurbulence type="fractalNoise" baseFrequency="0.2 0.3" numOctaves="2" seed="5" result="t"/><feDisplacementMap in="SourceGraphic" in2="t" scale="5" xChannelSelector="R" yChannelSelector="G" result="dm"/><feGaussianBlur in="dm" stdDeviation="0.35"/></filter><mask id="mka" maskUnits="userSpaceOnUse" x="0" y="0" width="360" height="180"><g filter="url(#spa)"><rect x="0" y="0" width="360" height="180" fill="#000"/><path fill="#f0f0f0" d="M0 17.5h10v5h-10zM10 17.5h10v5h-10zM20 17.5h10v5h-10zM30 17.5h10v5h-10zM40 17.5h10v5h-10zM50 17.5h10v5h-10zM80 17.5h10v5h-10zM120 17.5h10v5h-10zM140 17.5h10v5h-10zM150 17.5h10v5h-10zM160 17.5h10v5h-10zM180 17.5h10v5h-10zM190 17.5h10v5h-10zM200 17.5h10v5h-10zM210 17.5h10v5h-10zM220 17.5h10v5h-10zM230 17.5h10v5h-10zM240 17.5h10v5h-10zM280 17.5h10v5h-10zM290 17.5h10v5h-10zM300 17.5h10v5h-10zM310 17.5h10v5h-10zM320 17.5h10v5h-10zM330 17.5h10v5h-10zM340 17.5h10v5h-10zM350 17.5h10v5h-10zM10 22.5h10v5h-10zM40 22.5h10v5h-10zM50 22.5h10v5h-10zM60 22.5h10v5h-10zM80 22.5h10v5h-10zM90 22.5h10v5h-10zM100 22.5h10v5h-10zM110 22.5h10v5h-10zM130 22.5h10v5h-10zM140 22.5h10v5h-10zM150 22.5h10v5h-10zM160 22.5h10v5h-10zM170 22.5h10v5h-10zM180 22.5h10v5h-10zM190 22.5h10v5h-10zM220 22.5h10v5h-10zM240 22.5h10v5h-10zM250 22.5h10v5h-10zM260 22.5h10v5h-10zM280 22.5h10v5h-10zM290 22.5h10v5h-10zM300 22.5h10v5h-10zM310 22.5h10v5h-10zM320 22.5h10v5h-10zM330 22.5h10v5h-10zM340 22.5h10v5h-10zM350 22.5h10v5h-10zM20 27.5h10v5h-10zM40 27.5h10v5h-10zM130 27.5h10v5h-10zM150 27.5h10v5h-10zM170 27.5h10v5h-10zM190 27.5h10v5h-10zM200 27.5h10v5h-10zM210 27.5h10v5h-10zM220 27.5h10v5h-10zM240 27.5h10v5h-10zM250 27.5h10v5h-10zM280 27.5h10v5h-10zM290 27.5h10v5h-10zM300 27.5h10v5h-10zM320 27.5h10v5h-10zM330 27.5h10v5h-10zM340 27.5h10v5h-10zM350 27.5h10v5h-10zM40 32.5h10v5h-10zM140 32.5h10v5h-10zM180 32.5h10v5h-10zM190 32.5h10v5h-10zM200 32.5h10v5h-10zM280 32.5h10v5h-10zM290 32.5h10v5h-10zM320 32.5h10v5h-10zM330 32.5h10v5h-10zM340 32.5h10v5h-10zM350 32.5h10v5h-10zM40 37.5h10v5h-10zM140 37.5h10v5h-10zM180 37.5h10v5h-10zM190 37.5h10v5h-10zM280 37.5h10v5h-10zM290 37.5h10v5h-10zM310 37.5h10v5h-10zM320 37.5h10v5h-10zM330 37.5h10v5h-10zM340 37.5h10v5h-10zM350 37.5h10v5h-10zM40 42.5h10v5h-10zM80 42.5h10v5h-10zM120 42.5h10v5h-10zM140 42.5h10v5h-10zM190 42.5h10v5h-10zM310 42.5h10v5h-10zM340 42.5h10v5h-10zM350 42.5h10v5h-10zM50 47.5h10v5h-10zM80 47.5h10v5h-10zM140 47.5h10v5h-10zM190 47.5h10v5h-10zM340 47.5h10v5h-10zM350 47.5h10v5h-10zM0 52.5h10v5h-10zM10 52.5h10v5h-10zM20 52.5h10v5h-10zM80 52.5h10v5h-10zM320 52.5h10v5h-10zM330 52.5h10v5h-10zM290 57.5h10v5h-10zM280 62.5h10v5h-10zM290 62.5h10v5h-10zM250 67.5h10v5h-10zM250 72.5h10v5h-10zM80 77.5h10v5h-10zM90 82.5h10v5h-10zM100 82.5h10v5h-10zM160 82.5h10v5h-10zM0 92.5h10v5h-10zM110 112.5h10v5h-10zM50 117.5h10v5h-10zM60 117.5h10v5h-10zM70 117.5h10v5h-10zM110 117.5h10v5h-10zM10 122.5h10v5h-10zM20 122.5h10v5h-10zM40 122.5h10v5h-10zM100 122.5h10v5h-10zM130 122.5h10v5h-10zM170 122.5h10v5h-10zM180 122.5h10v5h-10zM190 122.5h10v5h-10zM270 122.5h10v5h-10zM280 122.5h10v5h-10zM290 122.5h10v5h-10zM300 122.5h10v5h-10zM310 122.5h10v5h-10zM340 122.5h10v5h-10zM0 127.5h10v5h-10zM60 127.5h10v5h-10zM100 127.5h10v5h-10zM120 127.5h10v5h-10zM130 127.5h10v5h-10zM160 127.5h10v5h-10zM210 127.5h10v5h-10zM230 127.5h10v5h-10zM280 127.5h10v5h-10zM300 127.5h10v5h-10zM0 132.5h10v5h-10zM50 132.5h10v5h-10zM90 132.5h10v5h-10zM130 132.5h10v5h-10zM230 132.5h10v5h-10zM280 132.5h10v5h-10zM320 132.5h10v5h-10zM0 137.5h10v5h-10zM40 137.5h10v5h-10zM60 137.5h10v5h-10zM90 137.5h10v5h-10zM130 137.5h10v5h-10zM200 137.5h10v5h-10zM330 137.5h10v5h-10zM340 137.5h10v5h-10zM350 137.5h10v5h-10zM0 142.5h10v5h-10zM40 142.5h10v5h-10zM60 142.5h10v5h-10zM90 142.5h10v5h-10zM110 142.5h10v5h-10zM140 142.5h10v5h-10zM160 142.5h10v5h-10zM180 142.5h10v5h-10zM190 142.5h10v5h-10zM210 142.5h10v5h-10zM220 142.5h10v5h-10zM230 142.5h10v5h-10zM240 142.5h10v5h-10zM260 142.5h10v5h-10zM320 142.5h10v5h-10zM330 142.5h10v5h-10zM340 142.5h10v5h-10zM350 142.5h10v5h-10zM0 147.5h10v5h-10zM20 147.5h10v5h-10zM30 147.5h10v5h-10zM40 147.5h10v5h-10zM60 147.5h10v5h-10zM70 147.5h10v5h-10zM80 147.5h10v5h-10zM90 147.5h10v5h-10zM100 147.5h10v5h-10zM110 147.5h10v5h-10zM130 147.5h10v5h-10zM140 147.5h10v5h-10zM150 147.5h10v5h-10zM160 147.5h10v5h-10zM180 147.5h10v5h-10zM200 147.5h10v5h-10zM210 147.5h10v5h-10zM220 147.5h10v5h-10zM230 147.5h10v5h-10zM240 147.5h10v5h-10zM260 147.5h10v5h-10zM270 147.5h10v5h-10zM280 147.5h10v5h-10zM290 147.5h10v5h-10zM300 147.5h10v5h-10zM320 147.5h10v5h-10zM330 147.5h10v5h-10zM340 147.5h10v5h-10zM350 147.5h10v5h-10zM0 152.5h10v5h-10zM20 152.5h10v5h-10zM30 152.5h10v5h-10zM40 152.5h10v5h-10zM60 152.5h10v5h-10zM70 152.5h10v5h-10zM80 152.5h10v5h-10zM90 152.5h10v5h-10zM100 152.5h10v5h-10zM110 152.5h10v5h-10zM130 152.5h10v5h-10zM140 152.5h10v5h-10zM150 152.5h10v5h-10zM160 152.5h10v5h-10zM180 152.5h10v5h-10zM200 152.5h10v5h-10zM210 152.5h10v5h-10zM220 152.5h10v5h-10zM230 152.5h10v5h-10zM240 152.5h10v5h-10zM260 152.5h10v5h-10zM270 152.5h10v5h-10zM280 152.5h10v5h-10zM290 152.5h10v5h-10zM300 152.5h10v5h-10zM320 152.5h10v5h-10zM330 152.5h10v5h-10zM340 152.5h10v5h-10zM350 152.5h10v5h-10z"/><path fill="#cccccc" d="M60 17.5h10v5h-10zM70 17.5h10v5h-10zM130 17.5h10v5h-10zM20 22.5h10v5h-10zM70 22.5h10v5h-10zM230 22.5h10v5h-10zM270 22.5h10v5h-10zM50 27.5h10v5h-10zM70 27.5h10v5h-10zM90 27.5h10v5h-10zM100 27.5h10v5h-10zM110 27.5h10v5h-10zM140 27.5h10v5h-10zM160 27.5h10v5h-10zM270 27.5h10v5h-10zM110 32.5h10v5h-10zM130 32.5h10v5h-10zM150 32.5h10v5h-10zM210 32.5h10v5h-10zM220 32.5h10v5h-10zM250 32.5h10v5h-10zM50 37.5h10v5h-10zM80 37.5h10v5h-10zM90 37.5h10v5h-10zM100 37.5h10v5h-10zM110 37.5h10v5h-10zM150 37.5h10v5h-10zM200 37.5h10v5h-10zM50 42.5h10v5h-10zM90 42.5h10v5h-10zM110 42.5h10v5h-10zM150 42.5h10v5h-10zM200 42.5h10v5h-10zM280 42.5h10v5h-10zM290 42.5h10v5h-10zM320 42.5h10v5h-10zM330 42.5h10v5h-10zM40 47.5h10v5h-10zM300 47.5h10v5h-10zM50 52.5h10v5h-10zM140 52.5h10v5h-10zM340 52.5h10v5h-10zM50 57.5h10v5h-10zM270 57.5h10v5h-10zM320 57.5h10v5h-10zM50 62.5h10v5h-10zM250 62.5h10v5h-10zM270 62.5h10v5h-10zM270 67.5h10v5h-10zM240 72.5h10v5h-10zM270 72.5h10v5h-10zM80 82.5h10v5h-10zM120 82.5h10v5h-10zM130 82.5h10v5h-10zM140 82.5h10v5h-10zM150 82.5h10v5h-10zM170 82.5h10v5h-10zM130 87.5h10v5h-10zM340 87.5h10v5h-10zM90 97.5h10v5h-10zM90 102.5h10v5h-10zM90 107.5h10v5h-10zM0 112.5h10v5h-10zM10 112.5h10v5h-10zM20 112.5h10v5h-10zM50 112.5h10v5h-10zM60 112.5h10v5h-10zM0 117.5h10v5h-10zM10 117.5h10v5h-10zM20 117.5h10v5h-10zM150 117.5h10v5h-10zM300 117.5h10v5h-10zM310 117.5h10v5h-10zM0 122.5h10v5h-10zM30 122.5h10v5h-10zM320 122.5h10v5h-10zM330 122.5h10v5h-10zM350 122.5h10v5h-10zM170 127.5h10v5h-10zM310 127.5h10v5h-10zM320 127.5h10v5h-10zM330 127.5h10v5h-10zM340 127.5h10v5h-10zM350 127.5h10v5h-10zM60 132.5h10v5h-10zM100 132.5h10v5h-10zM170 132.5h10v5h-10zM330 132.5h10v5h-10zM340 132.5h10v5h-10zM350 132.5h10v5h-10zM50 137.5h10v5h-10zM230 137.5h10v5h-10zM280 137.5h10v5h-10zM30 142.5h10v5h-10zM130 142.5h10v5h-10zM200 142.5h10v5h-10z"/><path fill="#ffffff" d="M90 17.5h10v5h-10zM100 17.5h10v5h-10zM110 17.5h10v5h-10zM170 17.5h10v5h-10zM250 17.5h10v5h-10zM260 17.5h10v5h-10zM270 17.5h10v5h-10zM0 22.5h10v5h-10zM30 22.5h10v5h-10zM120 22.5h10v5h-10zM200 22.5h10v5h-10zM210 22.5h10v5h-10zM0 27.5h10v5h-10zM30 27.5h10v5h-10zM120 27.5h10v5h-10zM0 32.5h10v5h-10zM10 32.5h10v5h-10zM20 32.5h10v5h-10zM30 32.5h10v5h-10zM120 32.5h10v5h-10zM0 37.5h10v5h-10zM10 37.5h10v5h-10zM20 37.5h10v5h-10zM30 37.5h10v5h-10zM120 37.5h10v5h-10zM0 42.5h10v5h-10zM10 42.5h10v5h-10zM20 42.5h10v5h-10zM30 42.5h10v5h-10zM0 47.5h10v5h-10zM10 47.5h10v5h-10zM20 47.5h10v5h-10zM30 47.5h10v5h-10zM300 57.5h10v5h-10zM310 57.5h10v5h-10zM50 122.5h10v5h-10zM60 122.5h10v5h-10zM70 122.5h10v5h-10zM80 122.5h10v5h-10zM90 122.5h10v5h-10zM110 122.5h10v5h-10zM120 122.5h10v5h-10zM140 122.5h10v5h-10zM150 122.5h10v5h-10zM160 122.5h10v5h-10zM10 127.5h10v5h-10zM20 127.5h10v5h-10zM30 127.5h10v5h-10zM40 127.5h10v5h-10zM50 127.5h10v5h-10zM70 127.5h10v5h-10zM80 127.5h10v5h-10zM90 127.5h10v5h-10zM110 127.5h10v5h-10zM140 127.5h10v5h-10zM150 127.5h10v5h-10zM180 127.5h10v5h-10zM190 127.5h10v5h-10zM200 127.5h10v5h-10zM220 127.5h10v5h-10zM240 127.5h10v5h-10zM250 127.5h10v5h-10zM260 127.5h10v5h-10zM270 127.5h10v5h-10zM290 127.5h10v5h-10zM10 132.5h10v5h-10zM20 132.5h10v5h-10zM30 132.5h10v5h-10zM40 132.5h10v5h-10zM70 132.5h10v5h-10zM80 132.5h10v5h-10zM120 132.5h10v5h-10zM140 132.5h10v5h-10zM150 132.5h10v5h-10zM180 132.5h10v5h-10zM190 132.5h10v5h-10zM200 132.5h10v5h-10zM210 132.5h10v5h-10zM220 132.5h10v5h-10zM240 132.5h10v5h-10zM250 132.5h10v5h-10zM260 132.5h10v5h-10zM270 132.5h10v5h-10zM290 132.5h10v5h-10zM300 132.5h10v5h-10zM310 132.5h10v5h-10zM10 137.5h10v5h-10zM20 137.5h10v5h-10zM30 137.5h10v5h-10zM70 137.5h10v5h-10zM80 137.5h10v5h-10zM120 137.5h10v5h-10zM140 137.5h10v5h-10zM150 137.5h10v5h-10zM160 137.5h10v5h-10zM170 137.5h10v5h-10zM180 137.5h10v5h-10zM190 137.5h10v5h-10zM210 137.5h10v5h-10zM220 137.5h10v5h-10zM240 137.5h10v5h-10zM250 137.5h10v5h-10zM260 137.5h10v5h-10zM270 137.5h10v5h-10zM290 137.5h10v5h-10zM300 137.5h10v5h-10zM310 137.5h10v5h-10zM320 137.5h10v5h-10zM10 142.5h10v5h-10zM20 142.5h10v5h-10zM50 142.5h10v5h-10zM70 142.5h10v5h-10zM80 142.5h10v5h-10zM120 142.5h10v5h-10zM150 142.5h10v5h-10zM170 142.5h10v5h-10zM250 142.5h10v5h-10zM270 142.5h10v5h-10zM280 142.5h10v5h-10zM290 142.5h10v5h-10zM300 142.5h10v5h-10zM310 142.5h10v5h-10zM10 147.5h10v5h-10zM50 147.5h10v5h-10zM120 147.5h10v5h-10zM170 147.5h10v5h-10zM190 147.5h10v5h-10zM250 147.5h10v5h-10zM310 147.5h10v5h-10zM10 152.5h10v5h-10zM50 152.5h10v5h-10zM120 152.5h10v5h-10zM170 152.5h10v5h-10zM190 152.5h10v5h-10zM250 152.5h10v5h-10zM310 152.5h10v5h-10z"/><path fill="#9c9c9c" d="M10 27.5h10v5h-10zM60 27.5h10v5h-10zM80 27.5h10v5h-10zM230 27.5h10v5h-10zM260 27.5h10v5h-10zM310 27.5h10v5h-10zM80 32.5h10v5h-10zM90 32.5h10v5h-10zM100 32.5h10v5h-10zM240 32.5h10v5h-10zM270 32.5h10v5h-10zM300 32.5h10v5h-10zM310 32.5h10v5h-10zM250 37.5h10v5h-10zM100 42.5h10v5h-10zM260 42.5h10v5h-10zM90 47.5h10v5h-10zM120 47.5h10v5h-10zM150 47.5h10v5h-10zM170 47.5h10v5h-10zM260 47.5h10v5h-10zM270 47.5h10v5h-10zM280 47.5h10v5h-10zM330 47.5h10v5h-10zM30 52.5h10v5h-10zM90 52.5h10v5h-10zM130 52.5h10v5h-10zM150 52.5h10v5h-10zM250 52.5h10v5h-10zM260 52.5h10v5h-10zM270 52.5h10v5h-10zM300 52.5h10v5h-10zM310 52.5h10v5h-10zM30 57.5h10v5h-10zM80 57.5h10v5h-10zM110 57.5h10v5h-10zM140 57.5h10v5h-10zM260 57.5h10v5h-10zM280 57.5h10v5h-10zM40 62.5h10v5h-10zM260 62.5h10v5h-10zM40 67.5h10v5h-10zM80 67.5h10v5h-10zM260 67.5h10v5h-10zM40 72.5h10v5h-10zM70 72.5h10v5h-10zM80 72.5h10v5h-10zM230 72.5h10v5h-10zM260 72.5h10v5h-10zM280 72.5h10v5h-10zM10 77.5h10v5h-10zM30 77.5h10v5h-10zM40 77.5h10v5h-10zM50 77.5h10v5h-10zM70 77.5h10v5h-10zM90 77.5h10v5h-10zM100 77.5h10v5h-10zM130 77.5h10v5h-10zM160 77.5h10v5h-10zM250 77.5h10v5h-10zM270 77.5h10v5h-10zM60 82.5h10v5h-10zM70 82.5h10v5h-10zM110 82.5h10v5h-10zM230 82.5h10v5h-10zM340 82.5h10v5h-10zM350 82.5h10v5h-10zM90 87.5h10v5h-10zM100 87.5h10v5h-10zM140 87.5h10v5h-10zM270 87.5h10v5h-10zM280 87.5h10v5h-10zM290 87.5h10v5h-10zM300 87.5h10v5h-10zM310 87.5h10v5h-10zM350 87.5h10v5h-10zM10 92.5h10v5h-10zM90 92.5h10v5h-10zM100 92.5h10v5h-10zM180 92.5h10v5h-10zM280 92.5h10v5h-10zM290 92.5h10v5h-10zM300 92.5h10v5h-10zM310 92.5h10v5h-10zM100 97.5h10v5h-10zM350 97.5h10v5h-10zM60 102.5h10v5h-10zM100 102.5h10v5h-10zM40 107.5h10v5h-10zM60 107.5h10v5h-10zM70 107.5h10v5h-10zM80 107.5h10v5h-10zM160 107.5h10v5h-10zM170 107.5h10v5h-10zM290 107.5h10v5h-10zM300 107.5h10v5h-10zM310 107.5h10v5h-10zM30 112.5h10v5h-10zM70 112.5h10v5h-10zM80 112.5h10v5h-10zM90 112.5h10v5h-10zM130 112.5h10v5h-10zM140 112.5h10v5h-10zM150 112.5h10v5h-10zM290 112.5h10v5h-10zM300 112.5h10v5h-10zM310 112.5h10v5h-10zM30 117.5h10v5h-10zM80 117.5h10v5h-10zM90 117.5h10v5h-10zM130 117.5h10v5h-10zM140 117.5h10v5h-10zM160 117.5h10v5h-10zM290 117.5h10v5h-10zM340 117.5h10v5h-10zM200 122.5h10v5h-10zM220 122.5h10v5h-10zM230 122.5h10v5h-10zM250 122.5h10v5h-10zM260 122.5h10v5h-10zM160 132.5h10v5h-10zM100 137.5h10v5h-10zM100 142.5h10v5h-10z"/><path fill="#6e6e6e" d="M180 27.5h10v5h-10zM50 32.5h10v5h-10zM60 32.5h10v5h-10zM160 32.5h10v5h-10zM260 32.5h10v5h-10zM60 37.5h10v5h-10zM130 37.5h10v5h-10zM210 37.5h10v5h-10zM220 37.5h10v5h-10zM260 37.5h10v5h-10zM300 37.5h10v5h-10zM70 42.5h10v5h-10zM170 42.5h10v5h-10zM250 42.5h10v5h-10zM300 42.5h10v5h-10zM100 47.5h10v5h-10zM110 47.5h10v5h-10zM130 47.5h10v5h-10zM160 47.5h10v5h-10zM250 47.5h10v5h-10zM290 47.5h10v5h-10zM310 47.5h10v5h-10zM320 47.5h10v5h-10zM190 52.5h10v5h-10zM280 52.5h10v5h-10zM350 52.5h10v5h-10zM40 57.5h10v5h-10zM100 57.5h10v5h-10zM120 57.5h10v5h-10zM130 57.5h10v5h-10zM250 57.5h10v5h-10zM330 57.5h10v5h-10zM110 62.5h10v5h-10zM300 62.5h10v5h-10zM350 62.5h10v5h-10zM30 67.5h10v5h-10zM50 67.5h10v5h-10zM280 67.5h10v5h-10zM290 67.5h10v5h-10zM350 67.5h10v5h-10zM30 72.5h10v5h-10zM50 72.5h10v5h-10zM60 72.5h10v5h-10zM150 72.5h10v5h-10zM310 72.5h10v5h-10zM330 72.5h10v5h-10zM350 72.5h10v5h-10zM20 77.5h10v5h-10zM60 77.5h10v5h-10zM140 77.5h10v5h-10zM150 77.5h10v5h-10zM170 77.5h10v5h-10zM220 77.5h10v5h-10zM230 77.5h10v5h-10zM240 77.5h10v5h-10zM260 77.5h10v5h-10zM280 77.5h10v5h-10zM300 77.5h10v5h-10zM310 77.5h10v5h-10zM10 82.5h10v5h-10zM20 82.5h10v5h-10zM30 82.5h10v5h-10zM40 82.5h10v5h-10zM50 82.5h10v5h-10zM180 82.5h10v5h-10zM190 82.5h10v5h-10zM220 82.5h10v5h-10zM240 82.5h10v5h-10zM270 82.5h10v5h-10zM300 82.5h10v5h-10zM310 82.5h10v5h-10zM110 87.5h10v5h-10zM180 87.5h10v5h-10zM190 87.5h10v5h-10zM200 87.5h10v5h-10zM210 87.5h10v5h-10zM20 92.5h10v5h-10zM50 92.5h10v5h-10zM140 92.5h10v5h-10zM210 92.5h10v5h-10zM220 92.5h10v5h-10zM260 92.5h10v5h-10zM270 92.5h10v5h-10zM320 92.5h10v5h-10zM350 92.5h10v5h-10zM0 97.5h10v5h-10zM10 97.5h10v5h-10zM20 97.5h10v5h-10zM30 97.5h10v5h-10zM50 97.5h10v5h-10zM60 97.5h10v5h-10zM70 97.5h10v5h-10zM80 97.5h10v5h-10zM210 97.5h10v5h-10zM230 97.5h10v5h-10zM250 97.5h10v5h-10zM260 97.5h10v5h-10zM270 97.5h10v5h-10zM330 97.5h10v5h-10zM20 102.5h10v5h-10zM40 102.5h10v5h-10zM50 102.5h10v5h-10zM70 102.5h10v5h-10zM80 102.5h10v5h-10zM160 102.5h10v5h-10zM210 102.5h10v5h-10zM250 102.5h10v5h-10zM330 102.5h10v5h-10zM350 102.5h10v5h-10zM50 107.5h10v5h-10zM100 107.5h10v5h-10zM150 107.5h10v5h-10zM210 107.5h10v5h-10zM280 107.5h10v5h-10zM350 107.5h10v5h-10zM40 112.5h10v5h-10zM100 112.5h10v5h-10zM160 112.5h10v5h-10zM170 112.5h10v5h-10zM180 112.5h10v5h-10zM280 112.5h10v5h-10zM340 112.5h10v5h-10zM350 112.5h10v5h-10zM40 117.5h10v5h-10zM100 117.5h10v5h-10zM120 117.5h10v5h-10zM170 117.5h10v5h-10zM180 117.5h10v5h-10zM190 117.5h10v5h-10zM270 117.5h10v5h-10zM280 117.5h10v5h-10zM320 117.5h10v5h-10zM350 117.5h10v5h-10z"/><path fill="#545454" d="M70 32.5h10v5h-10zM170 32.5h10v5h-10zM70 37.5h10v5h-10zM270 37.5h10v5h-10zM60 42.5h10v5h-10zM130 42.5h10v5h-10zM160 42.5h10v5h-10zM180 42.5h10v5h-10zM180 47.5h10v5h-10zM200 47.5h10v5h-10zM100 52.5h10v5h-10zM120 52.5h10v5h-10zM160 52.5h10v5h-10zM170 52.5h10v5h-10zM290 52.5h10v5h-10zM150 57.5h10v5h-10zM350 57.5h10v5h-10zM30 62.5h10v5h-10zM80 62.5h10v5h-10zM100 62.5h10v5h-10zM130 62.5h10v5h-10zM140 62.5h10v5h-10zM150 62.5h10v5h-10zM310 62.5h10v5h-10zM70 67.5h10v5h-10zM90 67.5h10v5h-10zM300 67.5h10v5h-10zM0 72.5h10v5h-10zM10 72.5h10v5h-10zM20 72.5h10v5h-10zM140 72.5h10v5h-10zM300 72.5h10v5h-10zM320 72.5h10v5h-10zM340 72.5h10v5h-10zM0 77.5h10v5h-10zM110 77.5h10v5h-10zM120 77.5h10v5h-10zM290 77.5h10v5h-10zM350 77.5h10v5h-10zM0 82.5h10v5h-10zM200 82.5h10v5h-10zM210 82.5h10v5h-10zM250 82.5h10v5h-10zM260 82.5h10v5h-10zM280 82.5h10v5h-10zM290 82.5h10v5h-10zM0 87.5h10v5h-10zM10 87.5h10v5h-10zM30 87.5h10v5h-10zM80 87.5h10v5h-10zM120 87.5h10v5h-10zM160 87.5h10v5h-10zM220 87.5h10v5h-10zM230 87.5h10v5h-10zM250 87.5h10v5h-10zM320 87.5h10v5h-10zM30 92.5h10v5h-10zM40 92.5h10v5h-10zM60 92.5h10v5h-10zM80 92.5h10v5h-10zM110 92.5h10v5h-10zM160 92.5h10v5h-10zM170 92.5h10v5h-10zM230 92.5h10v5h-10zM250 92.5h10v5h-10zM340 92.5h10v5h-10zM40 97.5h10v5h-10zM140 97.5h10v5h-10zM150 97.5h10v5h-10zM160 97.5h10v5h-10zM170 97.5h10v5h-10zM180 97.5h10v5h-10zM220 97.5h10v5h-10zM240 97.5h10v5h-10zM300 97.5h10v5h-10zM310 97.5h10v5h-10zM340 97.5h10v5h-10zM0 102.5h10v5h-10zM10 102.5h10v5h-10zM30 102.5h10v5h-10zM170 102.5h10v5h-10zM240 102.5h10v5h-10zM260 102.5h10v5h-10zM280 102.5h10v5h-10zM290 102.5h10v5h-10zM340 102.5h10v5h-10zM0 107.5h10v5h-10zM10 107.5h10v5h-10zM20 107.5h10v5h-10zM30 107.5h10v5h-10zM140 107.5h10v5h-10zM180 107.5h10v5h-10zM230 107.5h10v5h-10zM240 107.5h10v5h-10zM250 107.5h10v5h-10zM260 107.5h10v5h-10zM270 107.5h10v5h-10zM330 107.5h10v5h-10zM340 107.5h10v5h-10zM120 112.5h10v5h-10zM230 112.5h10v5h-10zM240 112.5h10v5h-10zM250 112.5h10v5h-10zM260 112.5h10v5h-10zM270 112.5h10v5h-10zM330 112.5h10v5h-10zM230 117.5h10v5h-10zM240 117.5h10v5h-10zM250 117.5h10v5h-10zM260 117.5h10v5h-10zM330 117.5h10v5h-10z"/><path fill="#333333" d="M230 32.5h10v5h-10zM160 37.5h10v5h-10zM170 37.5h10v5h-10zM210 42.5h10v5h-10zM270 42.5h10v5h-10zM60 47.5h10v5h-10zM70 47.5h10v5h-10zM220 47.5h10v5h-10zM40 52.5h10v5h-10zM60 52.5h10v5h-10zM110 52.5h10v5h-10zM180 52.5h10v5h-10zM220 52.5h10v5h-10zM0 57.5h10v5h-10zM10 57.5h10v5h-10zM20 57.5h10v5h-10zM90 57.5h10v5h-10zM180 57.5h10v5h-10zM190 57.5h10v5h-10zM340 57.5h10v5h-10zM10 62.5h10v5h-10zM60 62.5h10v5h-10zM90 62.5h10v5h-10zM120 62.5h10v5h-10zM180 62.5h10v5h-10zM320 62.5h10v5h-10zM330 62.5h10v5h-10zM340 62.5h10v5h-10zM10 67.5h10v5h-10zM20 67.5h10v5h-10zM60 67.5h10v5h-10zM100 67.5h10v5h-10zM120 67.5h10v5h-10zM130 67.5h10v5h-10zM140 67.5h10v5h-10zM150 67.5h10v5h-10zM310 67.5h10v5h-10zM330 67.5h10v5h-10zM340 67.5h10v5h-10zM90 72.5h10v5h-10zM100 72.5h10v5h-10zM130 72.5h10v5h-10zM160 72.5h10v5h-10zM180 72.5h10v5h-10zM290 72.5h10v5h-10zM180 77.5h10v5h-10zM190 77.5h10v5h-10zM210 77.5h10v5h-10zM320 77.5h10v5h-10zM330 77.5h10v5h-10zM340 77.5h10v5h-10zM330 82.5h10v5h-10zM20 87.5h10v5h-10zM40 87.5h10v5h-10zM50 87.5h10v5h-10zM60 87.5h10v5h-10zM150 87.5h10v5h-10zM170 87.5h10v5h-10zM240 87.5h10v5h-10zM260 87.5h10v5h-10zM330 87.5h10v5h-10zM70 92.5h10v5h-10zM130 92.5h10v5h-10zM150 92.5h10v5h-10zM190 92.5h10v5h-10zM200 92.5h10v5h-10zM240 92.5h10v5h-10zM330 92.5h10v5h-10zM110 97.5h10v5h-10zM190 97.5h10v5h-10zM280 97.5h10v5h-10zM290 97.5h10v5h-10zM320 97.5h10v5h-10zM130 102.5h10v5h-10zM140 102.5h10v5h-10zM150 102.5h10v5h-10zM180 102.5h10v5h-10zM220 102.5h10v5h-10zM230 102.5h10v5h-10zM270 102.5h10v5h-10zM320 102.5h10v5h-10zM110 107.5h10v5h-10zM130 107.5h10v5h-10zM220 107.5h10v5h-10zM320 107.5h10v5h-10zM190 112.5h10v5h-10zM210 112.5h10v5h-10zM320 112.5h10v5h-10zM210 117.5h10v5h-10zM220 117.5h10v5h-10zM210 122.5h10v5h-10zM240 122.5h10v5h-10zM110 132.5h10v5h-10zM110 137.5h10v5h-10z"/><path fill="#1a1a1a" d="M230 37.5h10v5h-10zM240 37.5h10v5h-10zM220 42.5h10v5h-10zM240 42.5h10v5h-10zM210 47.5h10v5h-10zM200 52.5h10v5h-10zM210 52.5h10v5h-10zM0 62.5h10v5h-10zM20 62.5h10v5h-10zM70 62.5h10v5h-10zM0 67.5h10v5h-10zM110 67.5h10v5h-10zM240 67.5h10v5h-10zM320 67.5h10v5h-10zM110 72.5h10v5h-10zM120 72.5h10v5h-10zM200 77.5h10v5h-10zM320 82.5h10v5h-10zM70 87.5h10v5h-10zM200 97.5h10v5h-10zM110 102.5h10v5h-10zM300 102.5h10v5h-10zM310 102.5h10v5h-10zM220 112.5h10v5h-10z"/><path fill="#080808" d="M230 42.5h10v5h-10zM240 62.5h10v5h-10z"/><path fill="#000000" d="M230 47.5h10v5h-10zM240 47.5h10v5h-10zM70 52.5h10v5h-10zM230 52.5h10v5h-10zM240 52.5h10v5h-10zM60 57.5h10v5h-10zM70 57.5h10v5h-10zM160 57.5h10v5h-10zM170 57.5h10v5h-10zM200 57.5h10v5h-10zM210 57.5h10v5h-10zM220 57.5h10v5h-10zM230 57.5h10v5h-10zM240 57.5h10v5h-10zM160 62.5h10v5h-10zM170 62.5h10v5h-10zM190 62.5h10v5h-10zM200 62.5h10v5h-10zM210 62.5h10v5h-10zM220 62.5h10v5h-10zM230 62.5h10v5h-10zM160 67.5h10v5h-10zM170 67.5h10v5h-10zM180 67.5h10v5h-10zM190 67.5h10v5h-10zM200 67.5h10v5h-10zM210 67.5h10v5h-10zM220 67.5h10v5h-10zM230 67.5h10v5h-10zM170 72.5h10v5h-10zM190 72.5h10v5h-10zM200 72.5h10v5h-10zM210 72.5h10v5h-10zM220 72.5h10v5h-10zM120 92.5h10v5h-10zM120 97.5h10v5h-10zM130 97.5h10v5h-10zM120 102.5h10v5h-10zM190 102.5h10v5h-10zM200 102.5h10v5h-10zM120 107.5h10v5h-10zM190 107.5h10v5h-10zM200 107.5h10v5h-10zM200 112.5h10v5h-10zM200 117.5h10v5h-10z"/></g></mask><clipPath id="cpa"><path d="M0 18.5 L360 18.5 L360.00 151.08 L350.22 153.30 L350.22 147.70 L325.59 153.30 L325.59 147.70 L300.96 153.30 L300.96 147.70 L276.33 153.30 L276.33 147.70 L251.70 153.30 L251.70 147.70 L227.07 153.30 L227.07 147.70 L202.44 153.30 L202.44 147.70 L177.81 153.30 L177.81 147.70 L153.18 153.30 L153.18 147.70 L128.55 153.30 L128.55 147.70 L103.92 153.30 L103.92 147.70 L79.29 153.30 L79.29 147.70 L54.66 153.30 L54.66 147.70 L30.03 153.30 L30.03 147.70 L5.40 153.30 L5.40 147.70 L0.00 148.93 Z"/></clipPath></defs><g clip-path="url(#cpa)"><g mask="url(#mka)"><g filter="url(#bla)"><path fill="#98f060" d="M0 17.5h10v5h-10zM50 17.5h10v5h-10zM70 22.5h10v5h-10zM180 22.5h10v5h-10zM250 22.5h10v5h-10zM20 27.5h10v5h-10zM100 27.5h10v5h-10zM170 27.5h10v5h-10zM250 27.5h10v5h-10zM10 32.5h10v5h-10zM30 32.5h10v5h-10zM40 32.5h10v5h-10zM140 32.5h10v5h-10zM190 32.5h10v5h-10zM280 32.5h10v5h-10zM330 32.5h10v5h-10zM340 32.5h10v5h-10zM10 37.5h10v5h-10zM140 37.5h10v5h-10zM180 37.5h10v5h-10zM340 37.5h10v5h-10zM140 42.5h10v5h-10zM190 42.5h10v5h-10zM310 42.5h10v5h-10zM340 42.5h10v5h-10zM140 47.5h10v5h-10zM340 47.5h10v5h-10zM20 52.5h10v5h-10zM320 52.5h10v5h-10zM330 52.5h10v5h-10zM140 57.5h10v5h-10zM270 57.5h10v5h-10zM290 57.5h10v5h-10zM300 57.5h10v5h-10zM310 57.5h10v5h-10zM320 57.5h10v5h-10zM50 62.5h10v5h-10zM270 62.5h10v5h-10zM80 77.5h10v5h-10zM90 82.5h10v5h-10zM100 82.5h10v5h-10zM120 82.5h10v5h-10zM130 82.5h10v5h-10zM160 82.5h10v5h-10zM340 87.5h10v5h-10zM350 87.5h10v5h-10zM0 92.5h10v5h-10zM90 97.5h10v5h-10zM230 97.5h10v5h-10zM90 102.5h10v5h-10zM0 112.5h10v5h-10zM10 112.5h10v5h-10zM20 112.5h10v5h-10zM50 112.5h10v5h-10zM50 117.5h10v5h-10zM340 117.5h10v5h-10zM50 122.5h10v5h-10zM60 122.5h10v5h-10zM70 122.5h10v5h-10zM70 127.5h10v5h-10zM190 127.5h10v5h-10zM250 127.5h10v5h-10zM20 132.5h10v5h-10zM30 132.5h10v5h-10zM80 132.5h10v5h-10zM140 132.5h10v5h-10zM270 132.5h10v5h-10zM80 137.5h10v5h-10zM140 137.5h10v5h-10zM150 137.5h10v5h-10zM0 142.5h10v5h-10zM70 142.5h10v5h-10zM310 142.5h10v5h-10zM10 147.5h10v5h-10zM100 147.5h10v5h-10zM100 152.5h10v5h-10z"/><path fill="#30d8d8" d="M10 17.5h10v5h-10zM20 17.5h10v5h-10zM30 17.5h10v5h-10zM60 17.5h10v5h-10zM130 17.5h10v5h-10zM140 17.5h10v5h-10zM150 17.5h10v5h-10zM190 17.5h10v5h-10zM230 17.5h10v5h-10zM290 17.5h10v5h-10zM300 17.5h10v5h-10zM310 17.5h10v5h-10zM30 22.5h10v5h-10zM50 22.5h10v5h-10zM60 22.5h10v5h-10zM130 22.5h10v5h-10zM140 22.5h10v5h-10zM150 22.5h10v5h-10zM160 22.5h10v5h-10zM190 22.5h10v5h-10zM230 22.5h10v5h-10zM270 22.5h10v5h-10zM280 22.5h10v5h-10zM290 22.5h10v5h-10zM300 22.5h10v5h-10zM310 22.5h10v5h-10zM10 27.5h10v5h-10zM30 27.5h10v5h-10zM50 27.5h10v5h-10zM110 27.5h10v5h-10zM130 27.5h10v5h-10zM140 27.5h10v5h-10zM160 27.5h10v5h-10zM180 27.5h10v5h-10zM190 27.5h10v5h-10zM220 27.5h10v5h-10zM230 27.5h10v5h-10zM260 27.5h10v5h-10zM270 27.5h10v5h-10zM300 27.5h10v5h-10zM310 27.5h10v5h-10zM110 32.5h10v5h-10zM130 32.5h10v5h-10zM150 32.5h10v5h-10zM210 32.5h10v5h-10zM240 32.5h10v5h-10zM250 32.5h10v5h-10zM270 32.5h10v5h-10zM300 32.5h10v5h-10zM310 32.5h10v5h-10zM0 37.5h10v5h-10zM30 37.5h10v5h-10zM40 37.5h10v5h-10zM50 37.5h10v5h-10zM80 37.5h10v5h-10zM150 37.5h10v5h-10zM200 37.5h10v5h-10zM210 37.5h10v5h-10zM300 37.5h10v5h-10zM330 37.5h10v5h-10zM0 42.5h10v5h-10zM10 42.5h10v5h-10zM40 42.5h10v5h-10zM50 42.5h10v5h-10zM80 42.5h10v5h-10zM150 42.5h10v5h-10zM170 42.5h10v5h-10zM200 42.5h10v5h-10zM250 42.5h10v5h-10zM260 42.5h10v5h-10zM280 42.5h10v5h-10zM290 42.5h10v5h-10zM300 42.5h10v5h-10zM320 42.5h10v5h-10zM330 42.5h10v5h-10zM10 47.5h10v5h-10zM40 47.5h10v5h-10zM50 47.5h10v5h-10zM110 47.5h10v5h-10zM170 47.5h10v5h-10zM250 47.5h10v5h-10zM260 47.5h10v5h-10zM280 47.5h10v5h-10zM300 47.5h10v5h-10zM310 47.5h10v5h-10zM330 47.5h10v5h-10zM0 52.5h10v5h-10zM10 52.5h10v5h-10zM30 52.5h10v5h-10zM50 52.5h10v5h-10zM90 52.5h10v5h-10zM140 52.5h10v5h-10zM250 52.5h10v5h-10zM260 52.5h10v5h-10zM280 52.5h10v5h-10zM300 52.5h10v5h-10zM310 52.5h10v5h-10zM350 52.5h10v5h-10zM30 57.5h10v5h-10zM50 57.5h10v5h-10zM80 57.5h10v5h-10zM100 57.5h10v5h-10zM120 57.5h10v5h-10zM130 57.5h10v5h-10zM260 57.5h10v5h-10zM330 57.5h10v5h-10zM110 62.5h10v5h-10zM260 62.5h10v5h-10zM300 62.5h10v5h-10zM80 67.5h10v5h-10zM70 72.5h10v5h-10zM80 72.5h10v5h-10zM260 72.5h10v5h-10zM280 72.5h10v5h-10zM330 72.5h10v5h-10zM10 77.5h10v5h-10zM30 77.5h10v5h-10zM40 77.5h10v5h-10zM50 77.5h10v5h-10zM60 77.5h10v5h-10zM70 77.5h10v5h-10zM100 77.5h10v5h-10zM130 77.5h10v5h-10zM140 77.5h10v5h-10zM150 77.5h10v5h-10zM160 77.5h10v5h-10zM170 77.5h10v5h-10zM230 77.5h10v5h-10zM240 77.5h10v5h-10zM250 77.5h10v5h-10zM260 77.5h10v5h-10zM270 77.5h10v5h-10zM280 77.5h10v5h-10zM30 82.5h10v5h-10zM40 82.5h10v5h-10zM60 82.5h10v5h-10zM70 82.5h10v5h-10zM80 82.5h10v5h-10zM110 82.5h10v5h-10zM140 82.5h10v5h-10zM150 82.5h10v5h-10zM170 82.5h10v5h-10zM180 82.5h10v5h-10zM230 82.5h10v5h-10zM240 82.5h10v5h-10zM270 82.5h10v5h-10zM310 82.5h10v5h-10zM100 87.5h10v5h-10zM190 87.5h10v5h-10zM270 87.5h10v5h-10zM280 87.5h10v5h-10zM290 87.5h10v5h-10zM300 87.5h10v5h-10zM310 87.5h10v5h-10zM20 92.5h10v5h-10zM50 92.5h10v5h-10zM100 92.5h10v5h-10zM140 92.5h10v5h-10zM220 92.5h10v5h-10zM290 92.5h10v5h-10zM300 92.5h10v5h-10zM310 92.5h10v5h-10zM320 92.5h10v5h-10zM350 92.5h10v5h-10zM0 97.5h10v5h-10zM20 97.5h10v5h-10zM30 97.5h10v5h-10zM50 97.5h10v5h-10zM100 97.5h10v5h-10zM250 97.5h10v5h-10zM260 97.5h10v5h-10zM270 97.5h10v5h-10zM330 97.5h10v5h-10zM350 97.5h10v5h-10zM20 102.5h10v5h-10zM40 102.5h10v5h-10zM60 102.5h10v5h-10zM80 102.5h10v5h-10zM160 102.5h10v5h-10zM210 102.5h10v5h-10zM250 102.5h10v5h-10zM330 102.5h10v5h-10zM350 102.5h10v5h-10zM40 107.5h10v5h-10zM60 107.5h10v5h-10zM70 107.5h10v5h-10zM80 107.5h10v5h-10zM90 107.5h10v5h-10zM100 107.5h10v5h-10zM150 107.5h10v5h-10zM160 107.5h10v5h-10zM170 107.5h10v5h-10zM210 107.5h10v5h-10zM280 107.5h10v5h-10zM300 107.5h10v5h-10zM310 107.5h10v5h-10zM350 107.5h10v5h-10zM30 112.5h10v5h-10zM70 112.5h10v5h-10zM80 112.5h10v5h-10zM90 112.5h10v5h-10zM100 112.5h10v5h-10zM130 112.5h10v5h-10zM140 112.5h10v5h-10zM150 112.5h10v5h-10zM160 112.5h10v5h-10zM170 112.5h10v5h-10zM290 112.5h10v5h-10zM300 112.5h10v5h-10zM310 112.5h10v5h-10zM10 117.5h10v5h-10zM20 117.5h10v5h-10zM30 117.5h10v5h-10zM80 117.5h10v5h-10zM120 117.5h10v5h-10zM140 117.5h10v5h-10zM160 117.5h10v5h-10zM190 117.5h10v5h-10zM290 117.5h10v5h-10zM300 117.5h10v5h-10zM310 117.5h10v5h-10zM320 117.5h10v5h-10zM350 117.5h10v5h-10zM20 122.5h10v5h-10zM40 122.5h10v5h-10zM80 122.5h10v5h-10zM140 122.5h10v5h-10zM190 122.5h10v5h-10zM270 122.5h10v5h-10zM290 122.5h10v5h-10zM310 122.5h10v5h-10zM330 122.5h10v5h-10zM350 122.5h10v5h-10zM0 127.5h10v5h-10zM30 127.5h10v5h-10zM40 127.5h10v5h-10zM50 127.5h10v5h-10zM80 127.5h10v5h-10zM140 127.5h10v5h-10zM160 127.5h10v5h-10zM180 127.5h10v5h-10zM200 127.5h10v5h-10zM210 127.5h10v5h-10zM220 127.5h10v5h-10zM230 127.5h10v5h-10zM280 127.5h10v5h-10zM290 127.5h10v5h-10zM330 127.5h10v5h-10zM340 127.5h10v5h-10zM350 127.5h10v5h-10zM0 132.5h10v5h-10zM10 132.5h10v5h-10zM40 132.5h10v5h-10zM130 132.5h10v5h-10zM150 132.5h10v5h-10zM180 132.5h10v5h-10zM200 132.5h10v5h-10zM230 132.5h10v5h-10zM240 132.5h10v5h-10zM250 132.5h10v5h-10zM280 132.5h10v5h-10zM290 132.5h10v5h-10zM300 132.5h10v5h-10zM320 132.5h10v5h-10zM350 132.5h10v5h-10zM0 137.5h10v5h-10zM10 137.5h10v5h-10zM20 137.5h10v5h-10zM30 137.5h10v5h-10zM40 137.5h10v5h-10zM60 137.5h10v5h-10zM70 137.5h10v5h-10zM90 137.5h10v5h-10zM180 137.5h10v5h-10zM200 137.5h10v5h-10zM240 137.5h10v5h-10zM250 137.5h10v5h-10zM260 137.5h10v5h-10zM290 137.5h10v5h-10zM330 137.5h10v5h-10zM340 137.5h10v5h-10zM350 137.5h10v5h-10zM30 142.5h10v5h-10zM40 142.5h10v5h-10zM60 142.5h10v5h-10zM90 142.5h10v5h-10zM140 142.5h10v5h-10zM160 142.5h10v5h-10zM180 142.5h10v5h-10zM190 142.5h10v5h-10zM200 142.5h10v5h-10zM210 142.5h10v5h-10zM220 142.5h10v5h-10zM240 142.5h10v5h-10zM260 142.5h10v5h-10zM320 142.5h10v5h-10zM330 142.5h10v5h-10zM340 142.5h10v5h-10zM350 142.5h10v5h-10zM0 147.5h10v5h-10zM40 147.5h10v5h-10zM70 147.5h10v5h-10zM80 147.5h10v5h-10zM110 147.5h10v5h-10zM180 147.5h10v5h-10zM300 147.5h10v5h-10zM320 147.5h10v5h-10zM350 147.5h10v5h-10zM0 152.5h10v5h-10zM40 152.5h10v5h-10zM70 152.5h10v5h-10zM80 152.5h10v5h-10zM110 152.5h10v5h-10zM180 152.5h10v5h-10zM300 152.5h10v5h-10zM320 152.5h10v5h-10zM350 152.5h10v5h-10z"/><path fill="#ff9410" d="M40 17.5h10v5h-10zM160 17.5h10v5h-10zM170 17.5h10v5h-10zM320 17.5h10v5h-10zM40 22.5h10v5h-10zM260 22.5h10v5h-10zM320 22.5h10v5h-10zM350 22.5h10v5h-10zM0 27.5h10v5h-10zM40 27.5h10v5h-10zM150 27.5h10v5h-10zM290 27.5h10v5h-10zM330 27.5h10v5h-10zM0 32.5h10v5h-10zM180 32.5h10v5h-10zM200 32.5h10v5h-10zM350 32.5h10v5h-10zM190 37.5h10v5h-10zM320 37.5h10v5h-10zM350 42.5h10v5h-10zM20 47.5h10v5h-10zM80 47.5h10v5h-10zM120 47.5h10v5h-10zM350 47.5h10v5h-10zM80 52.5h10v5h-10zM340 52.5h10v5h-10zM280 57.5h10v5h-10zM20 77.5h10v5h-10zM90 77.5h10v5h-10zM140 87.5h10v5h-10zM100 102.5h10v5h-10zM290 107.5h10v5h-10zM180 112.5h10v5h-10zM120 122.5h10v5h-10zM110 127.5h10v5h-10zM120 127.5h10v5h-10zM240 127.5h10v5h-10zM260 127.5h10v5h-10zM210 132.5h10v5h-10zM260 132.5h10v5h-10zM170 137.5h10v5h-10zM300 137.5h10v5h-10zM320 137.5h10v5h-10zM20 142.5h10v5h-10zM80 142.5h10v5h-10zM150 142.5h10v5h-10zM280 142.5h10v5h-10zM290 142.5h10v5h-10zM140 147.5h10v5h-10zM150 147.5h10v5h-10zM170 147.5h10v5h-10zM290 147.5h10v5h-10zM340 147.5h10v5h-10zM140 152.5h10v5h-10zM150 152.5h10v5h-10zM170 152.5h10v5h-10zM290 152.5h10v5h-10zM340 152.5h10v5h-10z"/><path fill="#a00000" d="M70 17.5h10v5h-10zM80 17.5h10v5h-10zM90 17.5h10v5h-10zM100 17.5h10v5h-10zM110 17.5h10v5h-10zM120 17.5h10v5h-10zM210 17.5h10v5h-10zM240 17.5h10v5h-10zM250 17.5h10v5h-10zM260 17.5h10v5h-10zM270 17.5h10v5h-10zM280 17.5h10v5h-10zM80 22.5h10v5h-10zM90 22.5h10v5h-10zM110 22.5h10v5h-10zM120 22.5h10v5h-10zM200 22.5h10v5h-10zM210 22.5h10v5h-10zM240 22.5h10v5h-10zM120 27.5h10v5h-10zM210 27.5h10v5h-10zM240 27.5h10v5h-10zM280 27.5h10v5h-10zM340 27.5h10v5h-10zM120 32.5h10v5h-10zM290 32.5h10v5h-10zM320 32.5h10v5h-10zM110 37.5h10v5h-10zM120 37.5h10v5h-10zM120 42.5h10v5h-10zM190 47.5h10v5h-10zM290 62.5h10v5h-10zM250 67.5h10v5h-10zM270 67.5h10v5h-10zM270 72.5h10v5h-10zM60 112.5h10v5h-10zM110 112.5h10v5h-10zM0 117.5h10v5h-10zM60 117.5h10v5h-10zM110 117.5h10v5h-10zM150 117.5h10v5h-10zM110 122.5h10v5h-10zM150 122.5h10v5h-10zM160 122.5h10v5h-10zM150 127.5h10v5h-10zM220 132.5h10v5h-10zM120 137.5h10v5h-10zM220 137.5h10v5h-10zM270 137.5h10v5h-10zM50 142.5h10v5h-10zM120 142.5h10v5h-10zM170 142.5h10v5h-10zM270 142.5h10v5h-10zM120 147.5h10v5h-10zM190 147.5h10v5h-10zM310 147.5h10v5h-10zM120 152.5h10v5h-10zM190 152.5h10v5h-10zM310 152.5h10v5h-10z"/><path fill="#f03008" d="M180 17.5h10v5h-10zM200 17.5h10v5h-10zM220 17.5h10v5h-10zM330 17.5h10v5h-10zM340 17.5h10v5h-10zM350 17.5h10v5h-10zM100 22.5h10v5h-10zM220 22.5h10v5h-10zM330 22.5h10v5h-10zM340 22.5h10v5h-10zM90 27.5h10v5h-10zM200 27.5h10v5h-10zM90 37.5h10v5h-10zM100 37.5h10v5h-10zM250 37.5h10v5h-10zM280 37.5h10v5h-10zM290 37.5h10v5h-10zM310 37.5h10v5h-10zM350 37.5h10v5h-10zM20 42.5h10v5h-10zM90 42.5h10v5h-10zM100 42.5h10v5h-10zM110 42.5h10v5h-10zM30 47.5h10v5h-10zM90 47.5h10v5h-10zM190 52.5h10v5h-10zM270 52.5h10v5h-10zM110 57.5h10v5h-10zM250 62.5h10v5h-10zM280 62.5h10v5h-10zM350 62.5h10v5h-10zM350 67.5h10v5h-10zM230 72.5h10v5h-10zM240 72.5h10v5h-10zM250 72.5h10v5h-10zM310 72.5h10v5h-10zM300 77.5h10v5h-10zM310 77.5h10v5h-10zM300 82.5h10v5h-10zM340 82.5h10v5h-10zM350 82.5h10v5h-10zM90 87.5h10v5h-10zM130 87.5h10v5h-10zM200 87.5h10v5h-10zM10 92.5h10v5h-10zM90 92.5h10v5h-10zM260 92.5h10v5h-10zM280 92.5h10v5h-10zM10 97.5h10v5h-10zM70 117.5h10v5h-10zM100 117.5h10v5h-10zM100 122.5h10v5h-10zM320 122.5h10v5h-10zM340 122.5h10v5h-10zM100 127.5h10v5h-10zM270 127.5h10v5h-10zM100 132.5h10v5h-10zM120 132.5h10v5h-10zM170 132.5h10v5h-10zM210 137.5h10v5h-10zM10 142.5h10v5h-10zM110 142.5h10v5h-10zM250 142.5h10v5h-10zM300 142.5h10v5h-10zM20 147.5h10v5h-10zM50 147.5h10v5h-10zM200 147.5h10v5h-10zM250 147.5h10v5h-10zM260 147.5h10v5h-10zM270 147.5h10v5h-10zM10 152.5h10v5h-10zM20 152.5h10v5h-10zM50 152.5h10v5h-10zM200 152.5h10v5h-10zM250 152.5h10v5h-10zM260 152.5h10v5h-10zM270 152.5h10v5h-10z"/><path fill="#f0e020" d="M0 22.5h10v5h-10zM170 22.5h10v5h-10zM320 27.5h10v5h-10zM350 27.5h10v5h-10zM20 32.5h10v5h-10zM20 37.5h10v5h-10zM30 42.5h10v5h-10zM70 132.5h10v5h-10zM310 132.5h10v5h-10zM160 137.5h10v5h-10zM310 137.5h10v5h-10zM90 147.5h10v5h-10zM90 152.5h10v5h-10z"/><path fill="#3c9cf6" d="M10 22.5h10v5h-10zM20 22.5h10v5h-10zM60 27.5h10v5h-10zM70 27.5h10v5h-10zM80 27.5h10v5h-10zM50 32.5h10v5h-10zM60 32.5h10v5h-10zM80 32.5h10v5h-10zM90 32.5h10v5h-10zM100 32.5h10v5h-10zM160 32.5h10v5h-10zM220 32.5h10v5h-10zM260 32.5h10v5h-10zM60 37.5h10v5h-10zM130 37.5h10v5h-10zM220 37.5h10v5h-10zM260 37.5h10v5h-10zM70 42.5h10v5h-10zM0 47.5h10v5h-10zM100 47.5h10v5h-10zM130 47.5h10v5h-10zM150 47.5h10v5h-10zM160 47.5h10v5h-10zM270 47.5h10v5h-10zM290 47.5h10v5h-10zM320 47.5h10v5h-10zM130 52.5h10v5h-10zM150 52.5h10v5h-10zM40 57.5h10v5h-10zM250 57.5h10v5h-10zM40 62.5h10v5h-10zM30 67.5h10v5h-10zM40 67.5h10v5h-10zM50 67.5h10v5h-10zM260 67.5h10v5h-10zM280 67.5h10v5h-10zM290 67.5h10v5h-10zM30 72.5h10v5h-10zM40 72.5h10v5h-10zM50 72.5h10v5h-10zM60 72.5h10v5h-10zM150 72.5h10v5h-10zM350 72.5h10v5h-10zM220 77.5h10v5h-10zM10 82.5h10v5h-10zM20 82.5h10v5h-10zM50 82.5h10v5h-10zM190 82.5h10v5h-10zM220 82.5h10v5h-10zM110 87.5h10v5h-10zM180 87.5h10v5h-10zM210 87.5h10v5h-10zM180 92.5h10v5h-10zM210 92.5h10v5h-10zM270 92.5h10v5h-10zM60 97.5h10v5h-10zM70 97.5h10v5h-10zM80 97.5h10v5h-10zM210 97.5h10v5h-10zM50 102.5h10v5h-10zM70 102.5h10v5h-10zM50 107.5h10v5h-10zM40 112.5h10v5h-10zM280 112.5h10v5h-10zM340 112.5h10v5h-10zM350 112.5h10v5h-10zM40 117.5h10v5h-10zM90 117.5h10v5h-10zM130 117.5h10v5h-10zM170 117.5h10v5h-10zM180 117.5h10v5h-10zM270 117.5h10v5h-10zM280 117.5h10v5h-10zM0 122.5h10v5h-10zM10 122.5h10v5h-10zM30 122.5h10v5h-10zM90 122.5h10v5h-10zM130 122.5h10v5h-10zM170 122.5h10v5h-10zM180 122.5h10v5h-10zM200 122.5h10v5h-10zM220 122.5h10v5h-10zM230 122.5h10v5h-10zM250 122.5h10v5h-10zM260 122.5h10v5h-10zM280 122.5h10v5h-10zM300 122.5h10v5h-10zM10 127.5h10v5h-10zM20 127.5h10v5h-10zM60 127.5h10v5h-10zM90 127.5h10v5h-10zM130 127.5h10v5h-10zM170 127.5h10v5h-10zM300 127.5h10v5h-10zM310 127.5h10v5h-10zM320 127.5h10v5h-10zM50 132.5h10v5h-10zM60 132.5h10v5h-10zM90 132.5h10v5h-10zM160 132.5h10v5h-10zM190 132.5h10v5h-10zM330 132.5h10v5h-10zM340 132.5h10v5h-10zM50 137.5h10v5h-10zM100 137.5h10v5h-10zM130 137.5h10v5h-10zM190 137.5h10v5h-10zM230 137.5h10v5h-10zM280 137.5h10v5h-10zM100 142.5h10v5h-10zM130 142.5h10v5h-10zM230 142.5h10v5h-10zM30 147.5h10v5h-10zM60 147.5h10v5h-10zM130 147.5h10v5h-10zM160 147.5h10v5h-10zM210 147.5h10v5h-10zM220 147.5h10v5h-10zM230 147.5h10v5h-10zM240 147.5h10v5h-10zM280 147.5h10v5h-10zM330 147.5h10v5h-10zM30 152.5h10v5h-10zM60 152.5h10v5h-10zM130 152.5h10v5h-10zM160 152.5h10v5h-10zM210 152.5h10v5h-10zM220 152.5h10v5h-10zM230 152.5h10v5h-10zM240 152.5h10v5h-10zM280 152.5h10v5h-10zM330 152.5h10v5h-10z"/><path fill="#63b0f8" d="M70 32.5h10v5h-10zM170 32.5h10v5h-10zM70 37.5h10v5h-10zM270 37.5h10v5h-10zM60 42.5h10v5h-10zM130 42.5h10v5h-10zM160 42.5h10v5h-10zM200 47.5h10v5h-10zM100 52.5h10v5h-10zM120 52.5h10v5h-10zM160 52.5h10v5h-10zM170 52.5h10v5h-10zM290 52.5h10v5h-10zM150 57.5h10v5h-10zM350 57.5h10v5h-10zM30 62.5h10v5h-10zM80 62.5h10v5h-10zM130 62.5h10v5h-10zM140 62.5h10v5h-10zM150 62.5h10v5h-10zM310 62.5h10v5h-10zM70 67.5h10v5h-10zM90 67.5h10v5h-10zM300 67.5h10v5h-10zM0 72.5h10v5h-10zM10 72.5h10v5h-10zM20 72.5h10v5h-10zM140 72.5h10v5h-10zM300 72.5h10v5h-10zM320 72.5h10v5h-10zM340 72.5h10v5h-10zM0 77.5h10v5h-10zM110 77.5h10v5h-10zM120 77.5h10v5h-10zM290 77.5h10v5h-10zM350 77.5h10v5h-10zM0 82.5h10v5h-10zM200 82.5h10v5h-10zM210 82.5h10v5h-10zM250 82.5h10v5h-10zM260 82.5h10v5h-10zM280 82.5h10v5h-10zM290 82.5h10v5h-10zM0 87.5h10v5h-10zM80 87.5h10v5h-10zM120 87.5h10v5h-10zM160 87.5h10v5h-10zM220 87.5h10v5h-10zM320 87.5h10v5h-10zM30 92.5h10v5h-10zM40 92.5h10v5h-10zM60 92.5h10v5h-10zM80 92.5h10v5h-10zM110 92.5h10v5h-10zM160 92.5h10v5h-10zM170 92.5h10v5h-10zM230 92.5h10v5h-10zM250 92.5h10v5h-10zM340 92.5h10v5h-10zM140 97.5h10v5h-10zM150 97.5h10v5h-10zM160 97.5h10v5h-10zM170 97.5h10v5h-10zM180 97.5h10v5h-10zM220 97.5h10v5h-10zM240 97.5h10v5h-10zM300 97.5h10v5h-10zM310 97.5h10v5h-10zM340 97.5h10v5h-10zM0 102.5h10v5h-10zM10 102.5h10v5h-10zM170 102.5h10v5h-10zM280 102.5h10v5h-10zM340 102.5h10v5h-10zM0 107.5h10v5h-10zM10 107.5h10v5h-10zM20 107.5h10v5h-10zM30 107.5h10v5h-10zM140 107.5h10v5h-10zM180 107.5h10v5h-10zM230 107.5h10v5h-10zM240 107.5h10v5h-10zM250 107.5h10v5h-10zM270 107.5h10v5h-10zM330 107.5h10v5h-10zM340 107.5h10v5h-10zM230 112.5h10v5h-10zM240 112.5h10v5h-10zM250 112.5h10v5h-10zM260 112.5h10v5h-10zM270 112.5h10v5h-10zM330 112.5h10v5h-10zM230 117.5h10v5h-10zM240 117.5h10v5h-10zM250 117.5h10v5h-10zM260 117.5h10v5h-10zM330 117.5h10v5h-10z"/><path fill="#71b7f8" d="M230 32.5h10v5h-10zM160 37.5h10v5h-10zM170 37.5h10v5h-10zM210 42.5h10v5h-10zM270 42.5h10v5h-10zM60 47.5h10v5h-10zM70 47.5h10v5h-10zM40 52.5h10v5h-10zM60 52.5h10v5h-10zM110 52.5h10v5h-10zM180 52.5h10v5h-10zM0 57.5h10v5h-10zM10 57.5h10v5h-10zM20 57.5h10v5h-10zM90 57.5h10v5h-10zM180 57.5h10v5h-10zM190 57.5h10v5h-10zM340 57.5h10v5h-10zM10 62.5h10v5h-10zM60 62.5h10v5h-10zM90 62.5h10v5h-10zM120 62.5h10v5h-10zM180 62.5h10v5h-10zM320 62.5h10v5h-10zM330 62.5h10v5h-10zM340 62.5h10v5h-10zM10 67.5h10v5h-10zM20 67.5h10v5h-10zM60 67.5h10v5h-10zM100 67.5h10v5h-10zM120 67.5h10v5h-10zM130 67.5h10v5h-10zM140 67.5h10v5h-10zM150 67.5h10v5h-10zM310 67.5h10v5h-10zM330 67.5h10v5h-10zM340 67.5h10v5h-10zM90 72.5h10v5h-10zM100 72.5h10v5h-10zM130 72.5h10v5h-10zM160 72.5h10v5h-10zM180 72.5h10v5h-10zM290 72.5h10v5h-10zM180 77.5h10v5h-10zM190 77.5h10v5h-10zM320 77.5h10v5h-10zM330 77.5h10v5h-10zM340 77.5h10v5h-10zM330 82.5h10v5h-10zM20 87.5h10v5h-10zM40 87.5h10v5h-10zM50 87.5h10v5h-10zM60 87.5h10v5h-10zM150 87.5h10v5h-10zM170 87.5h10v5h-10zM240 87.5h10v5h-10zM260 87.5h10v5h-10zM330 87.5h10v5h-10zM70 92.5h10v5h-10zM130 92.5h10v5h-10zM150 92.5h10v5h-10zM190 92.5h10v5h-10zM200 92.5h10v5h-10zM240 92.5h10v5h-10zM330 92.5h10v5h-10zM110 97.5h10v5h-10zM190 97.5h10v5h-10zM280 97.5h10v5h-10zM290 97.5h10v5h-10zM320 97.5h10v5h-10zM130 102.5h10v5h-10zM140 102.5h10v5h-10zM150 102.5h10v5h-10zM180 102.5h10v5h-10zM220 102.5h10v5h-10zM230 102.5h10v5h-10zM270 102.5h10v5h-10zM320 102.5h10v5h-10zM110 107.5h10v5h-10zM130 107.5h10v5h-10zM220 107.5h10v5h-10zM320 107.5h10v5h-10zM190 112.5h10v5h-10zM210 112.5h10v5h-10zM320 112.5h10v5h-10zM210 117.5h10v5h-10zM220 117.5h10v5h-10zM210 122.5h10v5h-10zM240 122.5h10v5h-10zM110 132.5h10v5h-10zM110 137.5h10v5h-10z"/><path fill="#7abcf9" d="M230 37.5h10v5h-10zM240 37.5h10v5h-10zM220 42.5h10v5h-10zM240 42.5h10v5h-10zM210 47.5h10v5h-10zM200 52.5h10v5h-10zM210 52.5h10v5h-10zM0 62.5h10v5h-10zM20 62.5h10v5h-10zM70 62.5h10v5h-10zM0 67.5h10v5h-10zM110 67.5h10v5h-10zM240 67.5h10v5h-10zM320 67.5h10v5h-10zM110 72.5h10v5h-10zM120 72.5h10v5h-10zM200 77.5h10v5h-10zM320 82.5h10v5h-10zM70 87.5h10v5h-10zM200 97.5h10v5h-10zM110 102.5h10v5h-10zM300 102.5h10v5h-10zM310 102.5h10v5h-10zM220 112.5h10v5h-10z"/><path fill="#59e0e0" d="M180 42.5h10v5h-10zM180 47.5h10v5h-10zM100 62.5h10v5h-10zM10 87.5h10v5h-10zM30 87.5h10v5h-10zM230 87.5h10v5h-10zM40 97.5h10v5h-10zM30 102.5h10v5h-10zM240 102.5h10v5h-10zM260 102.5h10v5h-10zM290 102.5h10v5h-10zM260 107.5h10v5h-10zM120 112.5h10v5h-10z"/><path fill="#80bff9" d="M230 42.5h10v5h-10zM240 62.5h10v5h-10z"/><path fill="#68e3e3" d="M220 47.5h10v5h-10zM220 52.5h10v5h-10z"/><path fill="#f4684b" d="M210 77.5h10v5h-10z"/><path fill="#f35939" d="M250 87.5h10v5h-10z"/></g></g></g><g clip-path="url(#cpa)" filter="url(#fta)" stroke-linecap="round" stroke-linejoin="round" fill="none"><path d="M8.0 18.8L20.0 18.9L30.0 18.8L40.0 18.9L50.0 18.8" stroke="#ffc020" stroke-width="3.6" opacity="0.75"/><path d="M40.8 40.0L47.0 38.9L54.9 40.2L57.2 42.9L56.5 47.1L53.9 51.2L51.2 53.8" stroke="#ffc020" stroke-width="4.8" opacity="0.75"/><path d="M43.4 31.4L48.0 34.5L52.3 37.6" stroke="#ffc020" stroke-width="4.6" opacity="0.75"/><path d="M19.8 48.1L25.0 49.0L29.2 50.2" stroke="#ffc020" stroke-width="4.2" opacity="0.75"/><path d="M25.0 57.0L33.0 54.5L40.8 52.3" stroke="#ffc020" stroke-width="4.6" opacity="0.75"/><path d="M35.0 82.6L40.0 82.8L50.0 82.2L60.0 82.1L67.0 81.8" stroke="#ffc020" stroke-width="4.2" opacity="0.75"/><path d="M72.0 81.0L76.0 79.0L80.0 80.5L77.0 82.5" stroke="#ffc020" stroke-width="5.1" opacity="0.75"/><path d="M90.0 83.5L98.0 84.0L104.0 83.5" stroke="#ffc020" stroke-width="5.1" opacity="0.75"/><path d="M128.0 84.0L135.0 83.5" stroke="#ffc020" stroke-width="4.0" opacity="0.75"/><path d="M163.0 83.0L168.0 82.5" stroke="#ffc020" stroke-width="4.0" opacity="0.75"/><path d="M118.0 19.0L120.2 20.9L125.0 25.0L128.1 28.7L129.6 34.0L128.1 40.8L122.8 43.9" stroke="#ffc020" stroke-width="6.6" opacity="0.75"/><path d="M157.0 23.5L168.0 22.0L178.0 21.0L181.5 24.0L182.0 29.0L175.2 29.8L164.7 30.3L154.3 34.0L148.0 38.2L144.8 42.9L143.8 47.0L145.9 52.3" stroke="#ffc020" stroke-width="5.1" opacity="0.75"/><path d="M180.4 36.6L186.0 38.5L190.9 40.2L195.0 43.5L198.8 47.0" stroke="#ffc020" stroke-width="5.1" opacity="0.75"/><path d="M279.0 62.7L288.0 60.5L297.4 57.5L307.9 59.1L321.0 59.6L331.4 56.5L339.3 52.3L343.5 47.0L341.9 39.2L336.7 34.0" stroke="#ffc020" stroke-width="5.6" opacity="0.75"/><path d="M339.0 34.0L347.0 40.0L355.0 50.0" stroke="#ffc020" stroke-width="4.6" opacity="0.75"/><path d="M290.0 33.0L298.0 37.0" stroke="#ffc020" stroke-width="6.6" opacity="0.75"/><path d="M1.0 96.5L8.0 97.0L12.0 98.5" stroke="#ffc020" stroke-width="5.1" opacity="0.75"/><path d="M4.0 112.0L8.0 115.5L12.5 119.5" stroke="#ffc020" stroke-width="5.6" opacity="0.75"/><path d="M18.5 114.5L25.0 117.0L31.0 120.0" stroke="#ffc020" stroke-width="5.6" opacity="0.75"/><path d="M50.0 117.0L58.0 122.0L65.0 125.5L75.0 129.2L82.0 135.0L81.0 143.6L72.3 147.0" stroke="#ffc020" stroke-width="5.6" opacity="0.75"/><path d="M6.0 146.0L13.0 149.0L19.0 151.0" stroke="#ffc020" stroke-width="5.6" opacity="0.75"/><path d="M48.0 146.0L54.0 145.0L56.0 151.0" stroke="#ffc020" stroke-width="6.6" opacity="0.75"/><path d="M117.0 112.0L118.0 120.0L119.0 126.0L118.0 131.0" stroke="#ffc020" stroke-width="7.6" opacity="0.75"/><path d="M125.0 137.0L122.0 143.0L119.0 150.0" stroke="#ffc020" stroke-width="6.6" opacity="0.75"/><path d="M150.0 127.5L156.0 128.5" stroke="#ffc020" stroke-width="10.6" opacity="0.75"/><path d="M168.0 146.0L177.0 147.0" stroke="#ffc020" stroke-width="6.6" opacity="0.75"/><path d="M213.0 138.0L222.0 139.0L229.0 136.5" stroke="#ffc020" stroke-width="6.6" opacity="0.75"/><path d="M241.0 131.0L255.0 132.0L270.0 134.0" stroke="#ffc020" stroke-width="5.1" opacity="0.75"/><path d="M270.0 130.0L277.5 134.5L283.0 140.5L284.0 147.0L276.0 151.0" stroke="#ffc020" stroke-width="6.6" opacity="0.75"/><path d="M317.0 148.0L323.0 149.0" stroke="#ffc020" stroke-width="6.6" opacity="0.75"/><path d="M308.0 141.0L315.0 145.0" stroke="#ffc020" stroke-width="5.1" opacity="0.75"/><path d="M346.0 117.5L350.0 119.0" stroke="#ffc020" stroke-width="5.1" opacity="0.75"/><path d="M335.0 87.5L342.0 88.0" stroke="#ffc020" stroke-width="5.1" opacity="0.75"/><path d="M351.0 88.0L357.0 88.5" stroke="#ffc020" stroke-width="5.1" opacity="0.75"/><path d="M8.0 18.8L20.0 18.9L30.0 18.8L40.0 18.9L50.0 18.8" stroke="#f02808" stroke-width="2.0" opacity="1"/><path d="M40.8 40.0L47.0 38.9L54.9 40.2L57.2 42.9L56.5 47.1L53.9 51.2L51.2 53.8" stroke="#f02808" stroke-width="3.2" opacity="1"/><path d="M43.4 31.4L48.0 34.5L52.3 37.6" stroke="#f02808" stroke-width="3.0" opacity="1"/><path d="M19.8 48.1L25.0 49.0L29.2 50.2" stroke="#f02808" stroke-width="2.6" opacity="1"/><path d="M25.0 57.0L33.0 54.5L40.8 52.3" stroke="#f02808" stroke-width="3.0" opacity="1"/><path d="M35.0 82.6L40.0 82.8L50.0 82.2L60.0 82.1L67.0 81.8" stroke="#f02808" stroke-width="2.6" opacity="1"/><path d="M72.0 81.0L76.0 79.0L80.0 80.5L77.0 82.5" stroke="#f02808" stroke-width="3.5" opacity="1"/><path d="M90.0 83.5L98.0 84.0L104.0 83.5" stroke="#f02808" stroke-width="3.5" opacity="1"/><path d="M128.0 84.0L135.0 83.5" stroke="#f02808" stroke-width="2.4" opacity="1"/><path d="M163.0 83.0L168.0 82.5" stroke="#f02808" stroke-width="2.4" opacity="1"/><path d="M118.0 19.0L120.2 20.9L125.0 25.0L128.1 28.7L129.6 34.0L128.1 40.8L122.8 43.9" stroke="#f02808" stroke-width="5.0" opacity="1"/><path d="M157.0 23.5L168.0 22.0L178.0 21.0L181.5 24.0L182.0 29.0L175.2 29.8L164.7 30.3L154.3 34.0L148.0 38.2L144.8 42.9L143.8 47.0L145.9 52.3" stroke="#f02808" stroke-width="3.5" opacity="1"/><path d="M180.4 36.6L186.0 38.5L190.9 40.2L195.0 43.5L198.8 47.0" stroke="#f02808" stroke-width="3.5" opacity="1"/><path d="M279.0 62.7L288.0 60.5L297.4 57.5L307.9 59.1L321.0 59.6L331.4 56.5L339.3 52.3L343.5 47.0L341.9 39.2L336.7 34.0" stroke="#f02808" stroke-width="4.0" opacity="1"/><path d="M339.0 34.0L347.0 40.0L355.0 50.0" stroke="#f02808" stroke-width="3.0" opacity="1"/><path d="M290.0 33.0L298.0 37.0" stroke="#f02808" stroke-width="5.0" opacity="1"/><path d="M1.0 96.5L8.0 97.0L12.0 98.5" stroke="#f02808" stroke-width="3.5" opacity="1"/><path d="M4.0 112.0L8.0 115.5L12.5 119.5" stroke="#f02808" stroke-width="4.0" opacity="1"/><path d="M18.5 114.5L25.0 117.0L31.0 120.0" stroke="#f02808" stroke-width="4.0" opacity="1"/><path d="M50.0 117.0L58.0 122.0L65.0 125.5L75.0 129.2L82.0 135.0L81.0 143.6L72.3 147.0" stroke="#f02808" stroke-width="4.0" opacity="1"/><path d="M6.0 146.0L13.0 149.0L19.0 151.0" stroke="#f02808" stroke-width="4.0" opacity="1"/><path d="M48.0 146.0L54.0 145.0L56.0 151.0" stroke="#f02808" stroke-width="5.0" opacity="1"/><path d="M117.0 112.0L118.0 120.0L119.0 126.0L118.0 131.0" stroke="#f02808" stroke-width="6.0" opacity="1"/><path d="M125.0 137.0L122.0 143.0L119.0 150.0" stroke="#f02808" stroke-width="5.0" opacity="1"/><path d="M150.0 127.5L156.0 128.5" stroke="#f02808" stroke-width="9.0" opacity="1"/><path d="M168.0 146.0L177.0 147.0" stroke="#f02808" stroke-width="5.0" opacity="1"/><path d="M213.0 138.0L222.0 139.0L229.0 136.5" stroke="#f02808" stroke-width="5.0" opacity="1"/><path d="M241.0 131.0L255.0 132.0L270.0 134.0" stroke="#f02808" stroke-width="3.5" opacity="1"/><path d="M270.0 130.0L277.5 134.5L283.0 140.5L284.0 147.0L276.0 151.0" stroke="#f02808" stroke-width="5.0" opacity="1"/><path d="M317.0 148.0L323.0 149.0" stroke="#f02808" stroke-width="5.0" opacity="1"/><path d="M308.0 141.0L315.0 145.0" stroke="#f02808" stroke-width="3.5" opacity="1"/><path d="M346.0 117.5L350.0 119.0" stroke="#f02808" stroke-width="3.5" opacity="1"/><path d="M335.0 87.5L342.0 88.0" stroke="#f02808" stroke-width="3.5" opacity="1"/><path d="M351.0 88.0L357.0 88.5" stroke="#f02808" stroke-width="3.5" opacity="1"/><path d="M8.0 18.8L20.0 18.9L30.0 18.8L40.0 18.9L50.0 18.8" stroke="#8e0000" stroke-width="0.7" opacity="1"/><path d="M40.8 40.0L47.0 38.9L54.9 40.2L57.2 42.9L56.5 47.1L53.9 51.2L51.2 53.8" stroke="#8e0000" stroke-width="1.5" opacity="1"/><path d="M43.4 31.4L48.0 34.5L52.3 37.6" stroke="#8e0000" stroke-width="1.4" opacity="1"/><path d="M19.8 48.1L25.0 49.0L29.2 50.2" stroke="#8e0000" stroke-width="1.1" opacity="1"/><path d="M25.0 57.0L33.0 54.5L40.8 52.3" stroke="#8e0000" stroke-width="1.4" opacity="1"/><path d="M35.0 82.6L40.0 82.8L50.0 82.2L60.0 82.1L67.0 81.8" stroke="#8e0000" stroke-width="1.1" opacity="1"/><path d="M72.0 81.0L76.0 79.0L80.0 80.5L77.0 82.5" stroke="#8e0000" stroke-width="1.8" opacity="1"/><path d="M90.0 83.5L98.0 84.0L104.0 83.5" stroke="#8e0000" stroke-width="1.8" opacity="1"/><path d="M128.0 84.0L135.0 83.5" stroke="#8e0000" stroke-width="1.0" opacity="1"/><path d="M163.0 83.0L168.0 82.5" stroke="#8e0000" stroke-width="1.0" opacity="1"/><path d="M118.0 19.0L120.2 20.9L125.0 25.0L128.1 28.7L129.6 34.0L128.1 40.8L122.8 43.9" stroke="#8e0000" stroke-width="2.8" opacity="1"/><path d="M157.0 23.5L168.0 22.0L178.0 21.0L181.5 24.0L182.0 29.0L175.2 29.8L164.7 30.3L154.3 34.0L148.0 38.2L144.8 42.9L143.8 47.0L145.9 52.3" stroke="#8e0000" stroke-width="1.8" opacity="1"/><path d="M180.4 36.6L186.0 38.5L190.9 40.2L195.0 43.5L198.8 47.0" stroke="#8e0000" stroke-width="1.8" opacity="1"/><path d="M279.0 62.7L288.0 60.5L297.4 57.5L307.9 59.1L321.0 59.6L331.4 56.5L339.3 52.3L343.5 47.0L341.9 39.2L336.7 34.0" stroke="#8e0000" stroke-width="2.1" opacity="1"/><path d="M339.0 34.0L347.0 40.0L355.0 50.0" stroke="#8e0000" stroke-width="1.4" opacity="1"/><path d="M290.0 33.0L298.0 37.0" stroke="#8e0000" stroke-width="2.8" opacity="1"/><path d="M1.0 96.5L8.0 97.0L12.0 98.5" stroke="#8e0000" stroke-width="1.8" opacity="1"/><path d="M4.0 112.0L8.0 115.5L12.5 119.5" stroke="#8e0000" stroke-width="2.1" opacity="1"/><path d="M18.5 114.5L25.0 117.0L31.0 120.0" stroke="#8e0000" stroke-width="2.1" opacity="1"/><path d="M50.0 117.0L58.0 122.0L65.0 125.5L75.0 129.2L82.0 135.0L81.0 143.6L72.3 147.0" stroke="#8e0000" stroke-width="2.1" opacity="1"/><path d="M6.0 146.0L13.0 149.0L19.0 151.0" stroke="#8e0000" stroke-width="2.1" opacity="1"/><path d="M48.0 146.0L54.0 145.0L56.0 151.0" stroke="#8e0000" stroke-width="2.8" opacity="1"/><path d="M117.0 112.0L118.0 120.0L119.0 126.0L118.0 131.0" stroke="#8e0000" stroke-width="3.5" opacity="1"/><path d="M125.0 137.0L122.0 143.0L119.0 150.0" stroke="#8e0000" stroke-width="2.8" opacity="1"/><path d="M150.0 127.5L156.0 128.5" stroke="#8e0000" stroke-width="5.6" opacity="1"/><path d="M168.0 146.0L177.0 147.0" stroke="#8e0000" stroke-width="2.8" opacity="1"/><path d="M213.0 138.0L222.0 139.0L229.0 136.5" stroke="#8e0000" stroke-width="2.8" opacity="1"/><path d="M241.0 131.0L255.0 132.0L270.0 134.0" stroke="#8e0000" stroke-width="1.8" opacity="1"/><path d="M270.0 130.0L277.5 134.5L283.0 140.5L284.0 147.0L276.0 151.0" stroke="#8e0000" stroke-width="2.8" opacity="1"/><path d="M317.0 148.0L323.0 149.0" stroke="#8e0000" stroke-width="2.8" opacity="1"/><path d="M308.0 141.0L315.0 145.0" stroke="#8e0000" stroke-width="1.8" opacity="1"/><path d="M346.0 117.5L350.0 119.0" stroke="#8e0000" stroke-width="1.8" opacity="1"/><path d="M335.0 87.5L342.0 88.0" stroke="#8e0000" stroke-width="1.8" opacity="1"/><path d="M351.0 88.0L357.0 88.5" stroke="#8e0000" stroke-width="1.8" opacity="1"/></g><use href="#coast"/><use href="#coast2"/></svg>
<div class="frame" style="left:25px;top:74px;width:1027px;height:515px"></div>
<div class="cb" style="left:25.7px;top:596.0px;width:1025.0px;height:22.0px"></div>
<div class="tick" style="left:24.9px;top:617.5px"></div>
<div class="tl" style="left:25.7px;top:628.5px">0.0</div>
<div class="tick" style="left:229.8px;top:617.5px"></div>
<div class="tl" style="left:230.6px;top:628.5px">0.2</div>
<div class="tick" style="left:434.7px;top:617.5px"></div>
<div class="tl" style="left:435.5px;top:628.5px">0.4</div>
<div class="tick" style="left:639.6px;top:617.5px"></div>
<div class="tl" style="left:640.4px;top:628.5px">0.6</div>
<div class="tick" style="left:844.5px;top:617.5px"></div>
<div class="tl" style="left:845.3px;top:628.5px">0.8</div>
<div class="tick" style="left:1049.4px;top:617.5px"></div>
<div class="tl" style="left:1050.2px;top:628.5px">1.0</div>
<div class="title" style="left:1085.5px;top:3px">(b) HECORA effective cloud fraction</div>
<svg class="map" style="left:1094.0px;top:75.4px;width:1024.6px;height:512.6px" viewBox="0 0 360 180" preserveAspectRatio="none"><defs><filter id="blb" x="-5%" y="-5%" width="110%" height="110%" color-interpolation-filters="sRGB"><feTurbulence type="fractalNoise" baseFrequency="0.09 0.14" numOctaves="3" seed="11" result="t"/><feDisplacementMap in="SourceGraphic" in2="t" scale="12" xChannelSelector="R" yChannelSelector="G" result="dm"/><feGaussianBlur in="dm" stdDeviation="1.6 0.8" result="b1"/><feTurbulence type="fractalNoise" baseFrequency="0.45 0.7" numOctaves="2" seed="23" result="t2"/><feDisplacementMap in="b1" in2="t2" scale="7" xChannelSelector="R" yChannelSelector="G" result="dm2"/><feGaussianBlur in="dm2" stdDeviation="0.25"/></filter><filter id="spb" x="0" y="0" width="100%" height="100%" color-interpolation-filters="sRGB"><feTurbulence type="fractalNoise" baseFrequency="0.09 0.14" numOctaves="3" seed="11" result="t"/><feDisplacementMap in="SourceGraphic" in2="t" scale="12" xChannelSelector="R" yChannelSelector="G" result="dm"/><feGaussianBlur in="dm" stdDeviation="1.6 0.8" result="cov"/><feTurbulence type="fractalNoise" baseFrequency="0.27 0.62" numOctaves="2" seed="3" result="nz"/><feColorMatrix in="nz" type="matrix" values="1 0 0 0 0  1 0 0 0 0  1 0 0 0 0  0 0 0 0 1" result="nz1"/><feComponentTransfer in="nz1" result="nz2"><feFuncR type="linear" slope="2.6" intercept="-0.8"/><feFuncG type="linear" slope="2.6" intercept="-0.8"/><feFuncB type="linear" slope="2.6" intercept="-0.8"/></feComponentTransfer><feComposite in="cov" in2="nz2" operator="arithmetic" k1="0" k2="1" k3="1" k4="-0.96" result="d"/><feComponentTransfer in="d"><feFuncR type="linear" slope="9" intercept="0"/><feFuncG type="linear" slope="9" intercept="0"/><feFuncB type="linear" slope="9" intercept="0"/><feFuncA type="linear" slope="0" intercept="1"/></feComponentTransfer><feGaussianBlur stdDeviation="0.3"/></filter><filter id="ftb" x="-5%" y="-5%" width="110%" height="110%" color-interpolation-filters="sRGB"><feTurbulence type="fractalNoise" baseFrequency="0.2 0.3" numOctaves="2" seed="5" result="t"/><feDisplacementMap in="SourceGraphic" in2="t" scale="5" xChannelSelector="R" yChannelSelector="G" result="dm"/><feGaussianBlur in="dm" stdDeviation="0.35"/></filter><mask id="mkb" maskUnits="userSpaceOnUse" x="0" y="0" width="360" height="180"><g filter="url(#spb)"><rect x="0" y="0" width="360" height="180" fill="#000"/><path fill="#f0f0f0" d="M0 17.5h10v5h-10zM10 17.5h10v5h-10zM20 17.5h10v5h-10zM30 17.5h10v5h-10zM40 17.5h10v5h-10zM50 17.5h10v5h-10zM80 17.5h10v5h-10zM120 17.5h10v5h-10zM140 17.5h10v5h-10zM150 17.5h10v5h-10zM160 17.5h10v5h-10zM180 17.5h10v5h-10zM190 17.5h10v5h-10zM200 17.5h10v5h-10zM210 17.5h10v5h-10zM220 17.5h10v5h-10zM230 17.5h10v5h-10zM240 17.5h10v5h-10zM280 17.5h10v5h-10zM290 17.5h10v5h-10zM300 17.5h10v5h-10zM310 17.5h10v5h-10zM320 17.5h10v5h-10zM330 17.5h10v5h-10zM340 17.5h10v5h-10zM350 17.5h10v5h-10zM10 22.5h10v5h-10zM40 22.5h10v5h-10zM50 22.5h10v5h-10zM60 22.5h10v5h-10zM80 22.5h10v5h-10zM90 22.5h10v5h-10zM100 22.5h10v5h-10zM110 22.5h10v5h-10zM130 22.5h10v5h-10zM140 22.5h10v5h-10zM150 22.5h10v5h-10zM160 22.5h10v5h-10zM170 22.5h10v5h-10zM180 22.5h10v5h-10zM190 22.5h10v5h-10zM220 22.5h10v5h-10zM240 22.5h10v5h-10zM250 22.5h10v5h-10zM260 22.5h10v5h-10zM280 22.5h10v5h-10zM290 22.5h10v5h-10zM300 22.5h10v5h-10zM310 22.5h10v5h-10zM320 22.5h10v5h-10zM330 22.5h10v5h-10zM340 22.5h10v5h-10zM350 22.5h10v5h-10zM20 27.5h10v5h-10zM40 27.5h10v5h-10zM130 27.5h10v5h-10zM150 27.5h10v5h-10zM170 27.5h10v5h-10zM190 27.5h10v5h-10zM200 27.5h10v5h-10zM210 27.5h10v5h-10zM220 27.5h10v5h-10zM240 27.5h10v5h-10zM250 27.5h10v5h-10zM280 27.5h10v5h-10zM290 27.5h10v5h-10zM300 27.5h10v5h-10zM320 27.5h10v5h-10zM330 27.5h10v5h-10zM340 27.5h10v5h-10zM350 27.5h10v5h-10zM40 32.5h10v5h-10zM140 32.5h10v5h-10zM180 32.5h10v5h-10zM190 32.5h10v5h-10zM200 32.5h10v5h-10zM280 32.5h10v5h-10zM290 32.5h10v5h-10zM320 32.5h10v5h-10zM330 32.5h10v5h-10zM340 32.5h10v5h-10zM350 32.5h10v5h-10zM40 37.5h10v5h-10zM140 37.5h10v5h-10zM180 37.5h10v5h-10zM190 37.5h10v5h-10zM280 37.5h10v5h-10zM290 37.5h10v5h-10zM310 37.5h10v5h-10zM320 37.5h10v5h-10zM330 37.5h10v5h-10zM340 37.5h10v5h-10zM350 37.5h10v5h-10zM40 42.5h10v5h-10zM80 42.5h10v5h-10zM120 42.5h10v5h-10zM140 42.5h10v5h-10zM190 42.5h10v5h-10zM310 42.5h10v5h-10zM340 42.5h10v5h-10zM350 42.5h10v5h-10zM50 47.5h10v5h-10zM80 47.5h10v5h-10zM140 47.5h10v5h-10zM190 47.5h10v5h-10zM340 47.5h10v5h-10zM350 47.5h10v5h-10zM0 52.5h10v5h-10zM10 52.5h10v5h-10zM20 52.5h10v5h-10zM80 52.5h10v5h-10zM320 52.5h10v5h-10zM330 52.5h10v5h-10zM290 57.5h10v5h-10zM280 62.5h10v5h-10zM290 62.5h10v5h-10zM250 67.5h10v5h-10zM250 72.5h10v5h-10zM80 77.5h10v5h-10zM90 82.5h10v5h-10zM100 82.5h10v5h-10zM160 82.5h10v5h-10zM0 92.5h10v5h-10zM110 112.5h10v5h-10zM50 117.5h10v5h-10zM60 117.5h10v5h-10zM70 117.5h10v5h-10zM110 117.5h10v5h-10zM10 122.5h10v5h-10zM20 122.5h10v5h-10zM40 122.5h10v5h-10zM100 122.5h10v5h-10zM130 122.5h10v5h-10zM170 122.5h10v5h-10zM180 122.5h10v5h-10zM190 122.5h10v5h-10zM270 122.5h10v5h-10zM280 122.5h10v5h-10zM290 122.5h10v5h-10zM300 122.5h10v5h-10zM310 122.5h10v5h-10zM340 122.5h10v5h-10zM0 127.5h10v5h-10zM60 127.5h10v5h-10zM100 127.5h10v5h-10zM120 127.5h10v5h-10zM130 127.5h10v5h-10zM160 127.5h10v5h-10zM210 127.5h10v5h-10zM230 127.5h10v5h-10zM280 127.5h10v5h-10zM300 127.5h10v5h-10zM0 132.5h10v5h-10zM50 132.5h10v5h-10zM90 132.5h10v5h-10zM130 132.5h10v5h-10zM230 132.5h10v5h-10zM280 132.5h10v5h-10zM320 132.5h10v5h-10zM0 137.5h10v5h-10zM40 137.5h10v5h-10zM60 137.5h10v5h-10zM90 137.5h10v5h-10zM130 137.5h10v5h-10zM200 137.5h10v5h-10zM330 137.5h10v5h-10zM340 137.5h10v5h-10zM350 137.5h10v5h-10zM0 142.5h10v5h-10zM40 142.5h10v5h-10zM60 142.5h10v5h-10zM90 142.5h10v5h-10zM110 142.5h10v5h-10zM140 142.5h10v5h-10zM160 142.5h10v5h-10zM180 142.5h10v5h-10zM190 142.5h10v5h-10zM210 142.5h10v5h-10zM220 142.5h10v5h-10zM230 142.5h10v5h-10zM240 142.5h10v5h-10zM260 142.5h10v5h-10zM320 142.5h10v5h-10zM330 142.5h10v5h-10zM340 142.5h10v5h-10zM350 142.5h10v5h-10zM0 147.5h10v5h-10zM20 147.5h10v5h-10zM30 147.5h10v5h-10zM40 147.5h10v5h-10zM60 147.5h10v5h-10zM70 147.5h10v5h-10zM80 147.5h10v5h-10zM90 147.5h10v5h-10zM100 147.5h10v5h-10zM110 147.5h10v5h-10zM130 147.5h10v5h-10zM140 147.5h10v5h-10zM150 147.5h10v5h-10zM160 147.5h10v5h-10zM180 147.5h10v5h-10zM200 147.5h10v5h-10zM210 147.5h10v5h-10zM220 147.5h10v5h-10zM230 147.5h10v5h-10zM240 147.5h10v5h-10zM260 147.5h10v5h-10zM270 147.5h10v5h-10zM280 147.5h10v5h-10zM290 147.5h10v5h-10zM300 147.5h10v5h-10zM320 147.5h10v5h-10zM330 147.5h10v5h-10zM340 147.5h10v5h-10zM350 147.5h10v5h-10zM0 152.5h10v5h-10zM20 152.5h10v5h-10zM30 152.5h10v5h-10zM40 152.5h10v5h-10zM60 152.5h10v5h-10zM70 152.5h10v5h-10zM80 152.5h10v5h-10zM90 152.5h10v5h-10zM100 152.5h10v5h-10zM110 152.5h10v5h-10zM130 152.5h10v5h-10zM140 152.5h10v5h-10zM150 152.5h10v5h-10zM160 152.5h10v5h-10zM180 152.5h10v5h-10zM200 152.5h10v5h-10zM210 152.5h10v5h-10zM220 152.5h10v5h-10zM230 152.5h10v5h-10zM240 152.5h10v5h-10zM260 152.5h10v5h-10zM270 152.5h10v5h-10zM280 152.5h10v5h-10zM290 152.5h10v5h-10zM300 152.5h10v5h-10zM320 152.5h10v5h-10zM330 152.5h10v5h-10zM340 152.5h10v5h-10zM350 152.5h10v5h-10z"/><path fill="#cccccc" d="M60 17.5h10v5h-10zM70 17.5h10v5h-10zM130 17.5h10v5h-10zM20 22.5h10v5h-10zM70 22.5h10v5h-10zM230 22.5h10v5h-10zM270 22.5h10v5h-10zM50 27.5h10v5h-10zM70 27.5h10v5h-10zM90 27.5h10v5h-10zM100 27.5h10v5h-10zM110 27.5h10v5h-10zM140 27.5h10v5h-10zM160 27.5h10v5h-10zM270 27.5h10v5h-10zM110 32.5h10v5h-10zM130 32.5h10v5h-10zM150 32.5h10v5h-10zM210 32.5h10v5h-10zM220 32.5h10v5h-10zM250 32.5h10v5h-10zM50 37.5h10v5h-10zM80 37.5h10v5h-10zM90 37.5h10v5h-10zM100 37.5h10v5h-10zM110 37.5h10v5h-10zM150 37.5h10v5h-10zM200 37.5h10v5h-10zM50 42.5h10v5h-10zM90 42.5h10v5h-10zM110 42.5h10v5h-10zM150 42.5h10v5h-10zM200 42.5h10v5h-10zM280 42.5h10v5h-10zM290 42.5h10v5h-10zM320 42.5h10v5h-10zM330 42.5h10v5h-10zM40 47.5h10v5h-10zM300 47.5h10v5h-10zM50 52.5h10v5h-10zM140 52.5h10v5h-10zM340 52.5h10v5h-10zM50 57.5h10v5h-10zM270 57.5h10v5h-10zM320 57.5h10v5h-10zM50 62.5h10v5h-10zM250 62.5h10v5h-10zM270 62.5h10v5h-10zM270 67.5h10v5h-10zM240 72.5h10v5h-10zM270 72.5h10v5h-10zM80 82.5h10v5h-10zM120 82.5h10v5h-10zM130 82.5h10v5h-10zM140 82.5h10v5h-10zM150 82.5h10v5h-10zM170 82.5h10v5h-10zM130 87.5h10v5h-10zM340 87.5h10v5h-10zM90 97.5h10v5h-10zM90 102.5h10v5h-10zM90 107.5h10v5h-10zM0 112.5h10v5h-10zM10 112.5h10v5h-10zM20 112.5h10v5h-10zM50 112.5h10v5h-10zM60 112.5h10v5h-10zM0 117.5h10v5h-10zM10 117.5h10v5h-10zM20 117.5h10v5h-10zM150 117.5h10v5h-10zM300 117.5h10v5h-10zM310 117.5h10v5h-10zM0 122.5h10v5h-10zM30 122.5h10v5h-10zM320 122.5h10v5h-10zM330 122.5h10v5h-10zM350 122.5h10v5h-10zM170 127.5h10v5h-10zM310 127.5h10v5h-10zM320 127.5h10v5h-10zM330 127.5h10v5h-10zM340 127.5h10v5h-10zM350 127.5h10v5h-10zM60 132.5h10v5h-10zM100 132.5h10v5h-10zM170 132.5h10v5h-10zM330 132.5h10v5h-10zM340 132.5h10v5h-10zM350 132.5h10v5h-10zM50 137.5h10v5h-10zM230 137.5h10v5h-10zM280 137.5h10v5h-10zM30 142.5h10v5h-10zM130 142.5h10v5h-10zM200 142.5h10v5h-10z"/><path fill="#ffffff" d="M90 17.5h10v5h-10zM100 17.5h10v5h-10zM110 17.5h10v5h-10zM170 17.5h10v5h-10zM250 17.5h10v5h-10zM260 17.5h10v5h-10zM270 17.5h10v5h-10zM0 22.5h10v5h-10zM30 22.5h10v5h-10zM120 22.5h10v5h-10zM200 22.5h10v5h-10zM210 22.5h10v5h-10zM0 27.5h10v5h-10zM30 27.5h10v5h-10zM120 27.5h10v5h-10zM0 32.5h10v5h-10zM10 32.5h10v5h-10zM20 32.5h10v5h-10zM30 32.5h10v5h-10zM120 32.5h10v5h-10zM0 37.5h10v5h-10zM10 37.5h10v5h-10zM20 37.5h10v5h-10zM30 37.5h10v5h-10zM120 37.5h10v5h-10zM0 42.5h10v5h-10zM10 42.5h10v5h-10zM20 42.5h10v5h-10zM30 42.5h10v5h-10zM0 47.5h10v5h-10zM10 47.5h10v5h-10zM20 47.5h10v5h-10zM30 47.5h10v5h-10zM300 57.5h10v5h-10zM310 57.5h10v5h-10zM50 122.5h10v5h-10zM60 122.5h10v5h-10zM70 122.5h10v5h-10zM80 122.5h10v5h-10zM90 122.5h10v5h-10zM110 122.5h10v5h-10zM120 122.5h10v5h-10zM140 122.5h10v5h-10zM150 122.5h10v5h-10zM160 122.5h10v5h-10zM10 127.5h10v5h-10zM20 127.5h10v5h-10zM30 127.5h10v5h-10zM40 127.5h10v5h-10zM50 127.5h10v5h-10zM70 127.5h10v5h-10zM80 127.5h10v5h-10zM90 127.5h10v5h-10zM110 127.5h10v5h-10zM140 127.5h10v5h-10zM150 127.5h10v5h-10zM180 127.5h10v5h-10zM190 127.5h10v5h-10zM200 127.5h10v5h-10zM220 127.5h10v5h-10zM240 127.5h10v5h-10zM250 127.5h10v5h-10zM260 127.5h10v5h-10zM270 127.5h10v5h-10zM290 127.5h10v5h-10zM10 132.5h10v5h-10zM20 132.5h10v5h-10zM30 132.5h10v5h-10zM40 132.5h10v5h-10zM70 132.5h10v5h-10zM80 132.5h10v5h-10zM120 132.5h10v5h-10zM140 132.5h10v5h-10zM150 132.5h10v5h-10zM180 132.5h10v5h-10zM190 132.5h10v5h-10zM200 132.5h10v5h-10zM210 132.5h10v5h-10zM220 132.5h10v5h-10zM240 132.5h10v5h-10zM250 132.5h10v5h-10zM260 132.5h10v5h-10zM270 132.5h10v5h-10zM290 132.5h10v5h-10zM300 132.5h10v5h-10zM310 132.5h10v5h-10zM10 137.5h10v5h-10zM20 137.5h10v5h-10zM30 137.5h10v5h-10zM70 137.5h10v5h-10zM80 137.5h10v5h-10zM120 137.5h10v5h-10zM140 137.5h10v5h-10zM150 137.5h10v5h-10zM160 137.5h10v5h-10zM170 137.5h10v5h-10zM180 137.5h10v5h-10zM190 137.5h10v5h-10zM210 137.5h10v5h-10zM220 137.5h10v5h-10zM240 137.5h10v5h-10zM250 137.5h10v5h-10zM260 137.5h10v5h-10zM270 137.5h10v5h-10zM290 137.5h10v5h-10zM300 137.5h10v5h-10zM310 137.5h10v5h-10zM320 137.5h10v5h-10zM10 142.5h10v5h-10zM20 142.5h10v5h-10zM50 142.5h10v5h-10zM70 142.5h10v5h-10zM80 142.5h10v5h-10zM120 142.5h10v5h-10zM150 142.5h10v5h-10zM170 142.5h10v5h-10zM250 142.5h10v5h-10zM270 142.5h10v5h-10zM280 142.5h10v5h-10zM290 142.5h10v5h-10zM300 142.5h10v5h-10zM310 142.5h10v5h-10zM10 147.5h10v5h-10zM50 147.5h10v5h-10zM120 147.5h10v5h-10zM170 147.5h10v5h-10zM190 147.5h10v5h-10zM250 147.5h10v5h-10zM310 147.5h10v5h-10zM10 152.5h10v5h-10zM50 152.5h10v5h-10zM120 152.5h10v5h-10zM170 152.5h10v5h-10zM190 152.5h10v5h-10zM250 152.5h10v5h-10zM310 152.5h10v5h-10z"/><path fill="#9c9c9c" d="M10 27.5h10v5h-10zM60 27.5h10v5h-10zM80 27.5h10v5h-10zM230 27.5h10v5h-10zM260 27.5h10v5h-10zM310 27.5h10v5h-10zM80 32.5h10v5h-10zM90 32.5h10v5h-10zM100 32.5h10v5h-10zM240 32.5h10v5h-10zM270 32.5h10v5h-10zM300 32.5h10v5h-10zM310 32.5h10v5h-10zM250 37.5h10v5h-10zM100 42.5h10v5h-10zM260 42.5h10v5h-10zM90 47.5h10v5h-10zM120 47.5h10v5h-10zM150 47.5h10v5h-10zM170 47.5h10v5h-10zM260 47.5h10v5h-10zM270 47.5h10v5h-10zM280 47.5h10v5h-10zM330 47.5h10v5h-10zM30 52.5h10v5h-10zM90 52.5h10v5h-10zM130 52.5h10v5h-10zM150 52.5h10v5h-10zM250 52.5h10v5h-10zM260 52.5h10v5h-10zM270 52.5h10v5h-10zM300 52.5h10v5h-10zM310 52.5h10v5h-10zM30 57.5h10v5h-10zM80 57.5h10v5h-10zM110 57.5h10v5h-10zM140 57.5h10v5h-10zM260 57.5h10v5h-10zM280 57.5h10v5h-10zM40 62.5h10v5h-10zM260 62.5h10v5h-10zM40 67.5h10v5h-10zM80 67.5h10v5h-10zM260 67.5h10v5h-10zM40 72.5h10v5h-10zM70 72.5h10v5h-10zM80 72.5h10v5h-10zM230 72.5h10v5h-10zM260 72.5h10v5h-10zM280 72.5h10v5h-10zM10 77.5h10v5h-10zM30 77.5h10v5h-10zM40 77.5h10v5h-10zM50 77.5h10v5h-10zM70 77.5h10v5h-10zM90 77.5h10v5h-10zM100 77.5h10v5h-10zM130 77.5h10v5h-10zM160 77.5h10v5h-10zM250 77.5h10v5h-10zM270 77.5h10v5h-10zM60 82.5h10v5h-10zM70 82.5h10v5h-10zM110 82.5h10v5h-10zM230 82.5h10v5h-10zM340 82.5h10v5h-10zM350 82.5h10v5h-10zM90 87.5h10v5h-10zM100 87.5h10v5h-10zM140 87.5h10v5h-10zM270 87.5h10v5h-10zM280 87.5h10v5h-10zM290 87.5h10v5h-10zM300 87.5h10v5h-10zM310 87.5h10v5h-10zM350 87.5h10v5h-10zM10 92.5h10v5h-10zM90 92.5h10v5h-10zM100 92.5h10v5h-10zM180 92.5h10v5h-10zM280 92.5h10v5h-10zM290 92.5h10v5h-10zM300 92.5h10v5h-10zM310 92.5h10v5h-10zM100 97.5h10v5h-10zM350 97.5h10v5h-10zM60 102.5h10v5h-10zM100 102.5h10v5h-10zM40 107.5h10v5h-10zM60 107.5h10v5h-10zM70 107.5h10v5h-10zM80 107.5h10v5h-10zM160 107.5h10v5h-10zM170 107.5h10v5h-10zM290 107.5h10v5h-10zM300 107.5h10v5h-10zM310 107.5h10v5h-10zM30 112.5h10v5h-10zM70 112.5h10v5h-10zM80 112.5h10v5h-10zM90 112.5h10v5h-10zM130 112.5h10v5h-10zM140 112.5h10v5h-10zM150 112.5h10v5h-10zM290 112.5h10v5h-10zM300 112.5h10v5h-10zM310 112.5h10v5h-10zM30 117.5h10v5h-10zM80 117.5h10v5h-10zM90 117.5h10v5h-10zM130 117.5h10v5h-10zM140 117.5h10v5h-10zM160 117.5h10v5h-10zM290 117.5h10v5h-10zM340 117.5h10v5h-10zM200 122.5h10v5h-10zM220 122.5h10v5h-10zM230 122.5h10v5h-10zM250 122.5h10v5h-10zM260 122.5h10v5h-10zM160 132.5h10v5h-10zM100 137.5h10v5h-10zM100 142.5h10v5h-10z"/><path fill="#6e6e6e" d="M180 27.5h10v5h-10zM50 32.5h10v5h-10zM60 32.5h10v5h-10zM160 32.5h10v5h-10zM260 32.5h10v5h-10zM60 37.5h10v5h-10zM130 37.5h10v5h-10zM210 37.5h10v5h-10zM220 37.5h10v5h-10zM260 37.5h10v5h-10zM300 37.5h10v5h-10zM70 42.5h10v5h-10zM170 42.5h10v5h-10zM250 42.5h10v5h-10zM300 42.5h10v5h-10zM100 47.5h10v5h-10zM110 47.5h10v5h-10zM130 47.5h10v5h-10zM160 47.5h10v5h-10zM250 47.5h10v5h-10zM290 47.5h10v5h-10zM310 47.5h10v5h-10zM320 47.5h10v5h-10zM190 52.5h10v5h-10zM280 52.5h10v5h-10zM350 52.5h10v5h-10zM40 57.5h10v5h-10zM100 57.5h10v5h-10zM120 57.5h10v5h-10zM130 57.5h10v5h-10zM250 57.5h10v5h-10zM330 57.5h10v5h-10zM110 62.5h10v5h-10zM300 62.5h10v5h-10zM350 62.5h10v5h-10zM30 67.5h10v5h-10zM50 67.5h10v5h-10zM280 67.5h10v5h-10zM290 67.5h10v5h-10zM350 67.5h10v5h-10zM30 72.5h10v5h-10zM50 72.5h10v5h-10zM60 72.5h10v5h-10zM150 72.5h10v5h-10zM310 72.5h10v5h-10zM330 72.5h10v5h-10zM350 72.5h10v5h-10zM20 77.5h10v5h-10zM60 77.5h10v5h-10zM140 77.5h10v5h-10zM150 77.5h10v5h-10zM170 77.5h10v5h-10zM220 77.5h10v5h-10zM230 77.5h10v5h-10zM240 77.5h10v5h-10zM260 77.5h10v5h-10zM280 77.5h10v5h-10zM300 77.5h10v5h-10zM310 77.5h10v5h-10zM10 82.5h10v5h-10zM20 82.5h10v5h-10zM30 82.5h10v5h-10zM40 82.5h10v5h-10zM50 82.5h10v5h-10zM180 82.5h10v5h-10zM190 82.5h10v5h-10zM220 82.5h10v5h-10zM240 82.5h10v5h-10zM270 82.5h10v5h-10zM300 82.5h10v5h-10zM310 82.5h10v5h-10zM110 87.5h10v5h-10zM180 87.5h10v5h-10zM190 87.5h10v5h-10zM200 87.5h10v5h-10zM210 87.5h10v5h-10zM20 92.5h10v5h-10zM50 92.5h10v5h-10zM140 92.5h10v5h-10zM210 92.5h10v5h-10zM220 92.5h10v5h-10zM260 92.5h10v5h-10zM270 92.5h10v5h-10zM320 92.5h10v5h-10zM350 92.5h10v5h-10zM0 97.5h10v5h-10zM10 97.5h10v5h-10zM20 97.5h10v5h-10zM30 97.5h10v5h-10zM50 97.5h10v5h-10zM60 97.5h10v5h-10zM70 97.5h10v5h-10zM80 97.5h10v5h-10zM210 97.5h10v5h-10zM230 97.5h10v5h-10zM250 97.5h10v5h-10zM260 97.5h10v5h-10zM270 97.5h10v5h-10zM330 97.5h10v5h-10zM20 102.5h10v5h-10zM40 102.5h10v5h-10zM50 102.5h10v5h-10zM70 102.5h10v5h-10zM80 102.5h10v5h-10zM160 102.5h10v5h-10zM210 102.5h10v5h-10zM250 102.5h10v5h-10zM330 102.5h10v5h-10zM350 102.5h10v5h-10zM50 107.5h10v5h-10zM100 107.5h10v5h-10zM150 107.5h10v5h-10zM210 107.5h10v5h-10zM280 107.5h10v5h-10zM350 107.5h10v5h-10zM40 112.5h10v5h-10zM100 112.5h10v5h-10zM160 112.5h10v5h-10zM170 112.5h10v5h-10zM180 112.5h10v5h-10zM280 112.5h10v5h-10zM340 112.5h10v5h-10zM350 112.5h10v5h-10zM40 117.5h10v5h-10zM100 117.5h10v5h-10zM120 117.5h10v5h-10zM170 117.5h10v5h-10zM180 117.5h10v5h-10zM190 117.5h10v5h-10zM270 117.5h10v5h-10zM280 117.5h10v5h-10zM320 117.5h10v5h-10zM350 117.5h10v5h-10z"/><path fill="#545454" d="M70 32.5h10v5h-10zM170 32.5h10v5h-10zM70 37.5h10v5h-10zM270 37.5h10v5h-10zM60 42.5h10v5h-10zM130 42.5h10v5h-10zM160 42.5h10v5h-10zM180 42.5h10v5h-10zM180 47.5h10v5h-10zM200 47.5h10v5h-10zM100 52.5h10v5h-10zM120 52.5h10v5h-10zM160 52.5h10v5h-10zM170 52.5h10v5h-10zM290 52.5h10v5h-10zM150 57.5h10v5h-10zM350 57.5h10v5h-10zM30 62.5h10v5h-10zM80 62.5h10v5h-10zM100 62.5h10v5h-10zM130 62.5h10v5h-10zM140 62.5h10v5h-10zM150 62.5h10v5h-10zM310 62.5h10v5h-10zM70 67.5h10v5h-10zM90 67.5h10v5h-10zM300 67.5h10v5h-10zM0 72.5h10v5h-10zM10 72.5h10v5h-10zM20 72.5h10v5h-10zM140 72.5h10v5h-10zM300 72.5h10v5h-10zM320 72.5h10v5h-10zM340 72.5h10v5h-10zM0 77.5h10v5h-10zM110 77.5h10v5h-10zM120 77.5h10v5h-10zM290 77.5h10v5h-10zM350 77.5h10v5h-10zM0 82.5h10v5h-10zM200 82.5h10v5h-10zM210 82.5h10v5h-10zM250 82.5h10v5h-10zM260 82.5h10v5h-10zM280 82.5h10v5h-10zM290 82.5h10v5h-10zM0 87.5h10v5h-10zM10 87.5h10v5h-10zM30 87.5h10v5h-10zM80 87.5h10v5h-10zM120 87.5h10v5h-10zM160 87.5h10v5h-10zM220 87.5h10v5h-10zM230 87.5h10v5h-10zM250 87.5h10v5h-10zM320 87.5h10v5h-10zM30 92.5h10v5h-10zM40 92.5h10v5h-10zM60 92.5h10v5h-10zM80 92.5h10v5h-10zM110 92.5h10v5h-10zM160 92.5h10v5h-10zM170 92.5h10v5h-10zM230 92.5h10v5h-10zM250 92.5h10v5h-10zM340 92.5h10v5h-10zM40 97.5h10v5h-10zM140 97.5h10v5h-10zM150 97.5h10v5h-10zM160 97.5h10v5h-10zM170 97.5h10v5h-10zM180 97.5h10v5h-10zM220 97.5h10v5h-10zM240 97.5h10v5h-10zM300 97.5h10v5h-10zM310 97.5h10v5h-10zM340 97.5h10v5h-10zM0 102.5h10v5h-10zM10 102.5h10v5h-10zM30 102.5h10v5h-10zM170 102.5h10v5h-10zM240 102.5h10v5h-10zM260 102.5h10v5h-10zM280 102.5h10v5h-10zM290 102.5h10v5h-10zM340 102.5h10v5h-10zM0 107.5h10v5h-10zM10 107.5h10v5h-10zM20 107.5h10v5h-10zM30 107.5h10v5h-10zM140 107.5h10v5h-10zM180 107.5h10v5h-10zM230 107.5h10v5h-10zM240 107.5h10v5h-10zM250 107.5h10v5h-10zM260 107.5h10v5h-10zM270 107.5h10v5h-10zM330 107.5h10v5h-10zM340 107.5h10v5h-10zM120 112.5h10v5h-10zM230 112.5h10v5h-10zM240 112.5h10v5h-10zM250 112.5h10v5h-10zM260 112.5h10v5h-10zM270 112.5h10v5h-10zM330 112.5h10v5h-10zM230 117.5h10v5h-10zM240 117.5h10v5h-10zM250 117.5h10v5h-10zM260 117.5h10v5h-10zM330 117.5h10v5h-10z"/><path fill="#333333" d="M230 32.5h10v5h-10zM160 37.5h10v5h-10zM170 37.5h10v5h-10zM210 42.5h10v5h-10zM270 42.5h10v5h-10zM60 47.5h10v5h-10zM70 47.5h10v5h-10zM220 47.5h10v5h-10zM40 52.5h10v5h-10zM60 52.5h10v5h-10zM110 52.5h10v5h-10zM180 52.5h10v5h-10zM220 52.5h10v5h-10zM0 57.5h10v5h-10zM10 57.5h10v5h-10zM20 57.5h10v5h-10zM90 57.5h10v5h-10zM180 57.5h10v5h-10zM190 57.5h10v5h-10zM340 57.5h10v5h-10zM10 62.5h10v5h-10zM60 62.5h10v5h-10zM90 62.5h10v5h-10zM120 62.5h10v5h-10zM180 62.5h10v5h-10zM320 62.5h10v5h-10zM330 62.5h10v5h-10zM340 62.5h10v5h-10zM10 67.5h10v5h-10zM20 67.5h10v5h-10zM60 67.5h10v5h-10zM100 67.5h10v5h-10zM120 67.5h10v5h-10zM130 67.5h10v5h-10zM140 67.5h10v5h-10zM150 67.5h10v5h-10zM310 67.5h10v5h-10zM330 67.5h10v5h-10zM340 67.5h10v5h-10zM90 72.5h10v5h-10zM100 72.5h10v5h-10zM130 72.5h10v5h-10zM160 72.5h10v5h-10zM180 72.5h10v5h-10zM290 72.5h10v5h-10zM180 77.5h10v5h-10zM190 77.5h10v5h-10zM210 77.5h10v5h-10zM320 77.5h10v5h-10zM330 77.5h10v5h-10zM340 77.5h10v5h-10zM330 82.5h10v5h-10zM20 87.5h10v5h-10zM40 87.5h10v5h-10zM50 87.5h10v5h-10zM60 87.5h10v5h-10zM150 87.5h10v5h-10zM170 87.5h10v5h-10zM240 87.5h10v5h-10zM260 87.5h10v5h-10zM330 87.5h10v5h-10zM70 92.5h10v5h-10zM130 92.5h10v5h-10zM150 92.5h10v5h-10zM190 92.5h10v5h-10zM200 92.5h10v5h-10zM240 92.5h10v5h-10zM330 92.5h10v5h-10zM110 97.5h10v5h-10zM190 97.5h10v5h-10zM280 97.5h10v5h-10zM290 97.5h10v5h-10zM320 97.5h10v5h-10zM130 102.5h10v5h-10zM140 102.5h10v5h-10zM150 102.5h10v5h-10zM180 102.5h10v5h-10zM220 102.5h10v5h-10zM230 102.5h10v5h-10zM270 102.5h10v5h-10zM320 102.5h10v5h-10zM110 107.5h10v5h-10zM130 107.5h10v5h-10zM220 107.5h10v5h-10zM320 107.5h10v5h-10zM190 112.5h10v5h-10zM210 112.5h10v5h-10zM320 112.5h10v5h-10zM210 117.5h10v5h-10zM220 117.5h10v5h-10zM210 122.5h10v5h-10zM240 122.5h10v5h-10zM110 132.5h10v5h-10zM110 137.5h10v5h-10z"/><path fill="#1a1a1a" d="M230 37.5h10v5h-10zM240 37.5h10v5h-10zM220 42.5h10v5h-10zM240 42.5h10v5h-10zM210 47.5h10v5h-10zM200 52.5h10v5h-10zM210 52.5h10v5h-10zM0 62.5h10v5h-10zM20 62.5h10v5h-10zM70 62.5h10v5h-10zM0 67.5h10v5h-10zM110 67.5h10v5h-10zM240 67.5h10v5h-10zM320 67.5h10v5h-10zM110 72.5h10v5h-10zM120 72.5h10v5h-10zM200 77.5h10v5h-10zM320 82.5h10v5h-10zM70 87.5h10v5h-10zM200 97.5h10v5h-10zM110 102.5h10v5h-10zM300 102.5h10v5h-10zM310 102.5h10v5h-10zM220 112.5h10v5h-10z"/><path fill="#080808" d="M230 42.5h10v5h-10zM240 62.5h10v5h-10z"/><path fill="#000000" d="M230 47.5h10v5h-10zM240 47.5h10v5h-10zM70 52.5h10v5h-10zM230 52.5h10v5h-10zM240 52.5h10v5h-10zM60 57.5h10v5h-10zM70 57.5h10v5h-10zM160 57.5h10v5h-10zM170 57.5h10v5h-10zM200 57.5h10v5h-10zM210 57.5h10v5h-10zM220 57.5h10v5h-10zM230 57.5h10v5h-10zM240 57.5h10v5h-10zM160 62.5h10v5h-10zM170 62.5h10v5h-10zM190 62.5h10v5h-10zM200 62.5h10v5h-10zM210 62.5h10v5h-10zM220 62.5h10v5h-10zM230 62.5h10v5h-10zM160 67.5h10v5h-10zM170 67.5h10v5h-10zM180 67.5h10v5h-10zM190 67.5h10v5h-10zM200 67.5h10v5h-10zM210 67.5h10v5h-10zM220 67.5h10v5h-10zM230 67.5h10v5h-10zM170 72.5h10v5h-10zM190 72.5h10v5h-10zM200 72.5h10v5h-10zM210 72.5h10v5h-10zM220 72.5h10v5h-10zM120 92.5h10v5h-10zM120 97.5h10v5h-10zM130 97.5h10v5h-10zM120 102.5h10v5h-10zM190 102.5h10v5h-10zM200 102.5h10v5h-10zM120 107.5h10v5h-10zM190 107.5h10v5h-10zM200 107.5h10v5h-10zM200 112.5h10v5h-10zM200 117.5h10v5h-10z"/></g></mask><clipPath id="cpb"><path d="M0 18.5 L360 18.5 L360.00 151.08 L350.22 153.30 L350.22 147.70 L325.59 153.30 L325.59 147.70 L300.96 153.30 L300.96 147.70 L276.33 153.30 L276.33 147.70 L251.70 153.30 L251.70 147.70 L227.07 153.30 L227.07 147.70 L202.44 153.30 L202.44 147.70 L177.81 153.30 L177.81 147.70 L153.18 153.30 L153.18 147.70 L128.55 153.30 L128.55 147.70 L103.92 153.30 L103.92 147.70 L79.29 153.30 L79.29 147.70 L54.66 153.30 L54.66 147.70 L30.03 153.30 L30.03 147.70 L5.40 153.30 L5.40 147.70 L0.00 148.93 Z"/></clipPath></defs><g clip-path="url(#cpb)"><g mask="url(#mkb)"><g filter="url(#blb)"><path fill="#98f060" d="M0 17.5h10v5h-10zM50 17.5h10v5h-10zM70 22.5h10v5h-10zM180 22.5h10v5h-10zM250 22.5h10v5h-10zM20 27.5h10v5h-10zM100 27.5h10v5h-10zM170 27.5h10v5h-10zM250 27.5h10v5h-10zM10 32.5h10v5h-10zM30 32.5h10v5h-10zM40 32.5h10v5h-10zM140 32.5h10v5h-10zM190 32.5h10v5h-10zM280 32.5h10v5h-10zM330 32.5h10v5h-10zM340 32.5h10v5h-10zM10 37.5h10v5h-10zM140 37.5h10v5h-10zM180 37.5h10v5h-10zM340 37.5h10v5h-10zM140 42.5h10v5h-10zM190 42.5h10v5h-10zM310 42.5h10v5h-10zM340 42.5h10v5h-10zM140 47.5h10v5h-10zM340 47.5h10v5h-10zM20 52.5h10v5h-10zM320 52.5h10v5h-10zM330 52.5h10v5h-10zM140 57.5h10v5h-10zM270 57.5h10v5h-10zM290 57.5h10v5h-10zM300 57.5h10v5h-10zM310 57.5h10v5h-10zM320 57.5h10v5h-10zM50 62.5h10v5h-10zM270 62.5h10v5h-10zM80 77.5h10v5h-10zM90 82.5h10v5h-10zM100 82.5h10v5h-10zM120 82.5h10v5h-10zM130 82.5h10v5h-10zM160 82.5h10v5h-10zM340 87.5h10v5h-10zM350 87.5h10v5h-10zM0 92.5h10v5h-10zM90 97.5h10v5h-10zM230 97.5h10v5h-10zM90 102.5h10v5h-10zM0 112.5h10v5h-10zM10 112.5h10v5h-10zM20 112.5h10v5h-10zM50 112.5h10v5h-10zM50 117.5h10v5h-10zM340 117.5h10v5h-10zM50 122.5h10v5h-10zM60 122.5h10v5h-10zM70 122.5h10v5h-10zM70 127.5h10v5h-10zM190 127.5h10v5h-10zM250 127.5h10v5h-10zM20 132.5h10v5h-10zM30 132.5h10v5h-10zM80 132.5h10v5h-10zM140 132.5h10v5h-10zM270 132.5h10v5h-10zM80 137.5h10v5h-10zM140 137.5h10v5h-10zM150 137.5h10v5h-10zM0 142.5h10v5h-10zM70 142.5h10v5h-10zM310 142.5h10v5h-10zM10 147.5h10v5h-10zM100 147.5h10v5h-10zM100 152.5h10v5h-10z"/><path fill="#30d8d8" d="M10 17.5h10v5h-10zM20 17.5h10v5h-10zM30 17.5h10v5h-10zM60 17.5h10v5h-10zM130 17.5h10v5h-10zM140 17.5h10v5h-10zM150 17.5h10v5h-10zM190 17.5h10v5h-10zM230 17.5h10v5h-10zM290 17.5h10v5h-10zM300 17.5h10v5h-10zM310 17.5h10v5h-10zM30 22.5h10v5h-10zM50 22.5h10v5h-10zM60 22.5h10v5h-10zM130 22.5h10v5h-10zM140 22.5h10v5h-10zM150 22.5h10v5h-10zM160 22.5h10v5h-10zM190 22.5h10v5h-10zM230 22.5h10v5h-10zM270 22.5h10v5h-10zM280 22.5h10v5h-10zM290 22.5h10v5h-10zM300 22.5h10v5h-10zM310 22.5h10v5h-10zM10 27.5h10v5h-10zM30 27.5h10v5h-10zM50 27.5h10v5h-10zM110 27.5h10v5h-10zM130 27.5h10v5h-10zM140 27.5h10v5h-10zM160 27.5h10v5h-10zM180 27.5h10v5h-10zM190 27.5h10v5h-10zM220 27.5h10v5h-10zM230 27.5h10v5h-10zM260 27.5h10v5h-10zM270 27.5h10v5h-10zM300 27.5h10v5h-10zM310 27.5h10v5h-10zM110 32.5h10v5h-10zM130 32.5h10v5h-10zM150 32.5h10v5h-10zM210 32.5h10v5h-10zM240 32.5h10v5h-10zM250 32.5h10v5h-10zM270 32.5h10v5h-10zM300 32.5h10v5h-10zM310 32.5h10v5h-10zM0 37.5h10v5h-10zM30 37.5h10v5h-10zM40 37.5h10v5h-10zM50 37.5h10v5h-10zM80 37.5h10v5h-10zM150 37.5h10v5h-10zM200 37.5h10v5h-10zM210 37.5h10v5h-10zM300 37.5h10v5h-10zM330 37.5h10v5h-10zM0 42.5h10v5h-10zM10 42.5h10v5h-10zM40 42.5h10v5h-10zM50 42.5h10v5h-10zM80 42.5h10v5h-10zM150 42.5h10v5h-10zM170 42.5h10v5h-10zM200 42.5h10v5h-10zM250 42.5h10v5h-10zM260 42.5h10v5h-10zM280 42.5h10v5h-10zM290 42.5h10v5h-10zM300 42.5h10v5h-10zM320 42.5h10v5h-10zM330 42.5h10v5h-10zM10 47.5h10v5h-10zM40 47.5h10v5h-10zM50 47.5h10v5h-10zM110 47.5h10v5h-10zM170 47.5h10v5h-10zM250 47.5h10v5h-10zM260 47.5h10v5h-10zM280 47.5h10v5h-10zM300 47.5h10v5h-10zM310 47.5h10v5h-10zM330 47.5h10v5h-10zM0 52.5h10v5h-10zM10 52.5h10v5h-10zM30 52.5h10v5h-10zM50 52.5h10v5h-10zM90 52.5h10v5h-10zM140 52.5h10v5h-10zM250 52.5h10v5h-10zM260 52.5h10v5h-10zM280 52.5h10v5h-10zM300 52.5h10v5h-10zM310 52.5h10v5h-10zM350 52.5h10v5h-10zM30 57.5h10v5h-10zM50 57.5h10v5h-10zM80 57.5h10v5h-10zM100 57.5h10v5h-10zM120 57.5h10v5h-10zM130 57.5h10v5h-10zM260 57.5h10v5h-10zM330 57.5h10v5h-10zM110 62.5h10v5h-10zM260 62.5h10v5h-10zM300 62.5h10v5h-10zM80 67.5h10v5h-10zM70 72.5h10v5h-10zM80 72.5h10v5h-10zM260 72.5h10v5h-10zM280 72.5h10v5h-10zM330 72.5h10v5h-10zM10 77.5h10v5h-10zM30 77.5h10v5h-10zM40 77.5h10v5h-10zM50 77.5h10v5h-10zM60 77.5h10v5h-10zM70 77.5h10v5h-10zM100 77.5h10v5h-10zM130 77.5h10v5h-10zM140 77.5h10v5h-10zM150 77.5h10v5h-10zM160 77.5h10v5h-10zM170 77.5h10v5h-10zM230 77.5h10v5h-10zM240 77.5h10v5h-10zM250 77.5h10v5h-10zM260 77.5h10v5h-10zM270 77.5h10v5h-10zM280 77.5h10v5h-10zM30 82.5h10v5h-10zM40 82.5h10v5h-10zM60 82.5h10v5h-10zM70 82.5h10v5h-10zM80 82.5h10v5h-10zM110 82.5h10v5h-10zM140 82.5h10v5h-10zM150 82.5h10v5h-10zM170 82.5h10v5h-10zM180 82.5h10v5h-10zM230 82.5h10v5h-10zM240 82.5h10v5h-10zM270 82.5h10v5h-10zM310 82.5h10v5h-10zM100 87.5h10v5h-10zM190 87.5h10v5h-10zM270 87.5h10v5h-10zM280 87.5h10v5h-10zM290 87.5h10v5h-10zM300 87.5h10v5h-10zM310 87.5h10v5h-10zM20 92.5h10v5h-10zM50 92.5h10v5h-10zM100 92.5h10v5h-10zM140 92.5h10v5h-10zM220 92.5h10v5h-10zM290 92.5h10v5h-10zM300 92.5h10v5h-10zM310 92.5h10v5h-10zM320 92.5h10v5h-10zM350 92.5h10v5h-10zM0 97.5h10v5h-10zM20 97.5h10v5h-10zM30 97.5h10v5h-10zM50 97.5h10v5h-10zM100 97.5h10v5h-10zM250 97.5h10v5h-10zM260 97.5h10v5h-10zM270 97.5h10v5h-10zM330 97.5h10v5h-10zM350 97.5h10v5h-10zM20 102.5h10v5h-10zM40 102.5h10v5h-10zM60 102.5h10v5h-10zM80 102.5h10v5h-10zM160 102.5h10v5h-10zM210 102.5h10v5h-10zM250 102.5h10v5h-10zM330 102.5h10v5h-10zM350 102.5h10v5h-10zM40 107.5h10v5h-10zM60 107.5h10v5h-10zM70 107.5h10v5h-10zM80 107.5h10v5h-10zM90 107.5h10v5h-10zM100 107.5h10v5h-10zM150 107.5h10v5h-10zM160 107.5h10v5h-10zM170 107.5h10v5h-10zM210 107.5h10v5h-10zM280 107.5h10v5h-10zM300 107.5h10v5h-10zM310 107.5h10v5h-10zM350 107.5h10v5h-10zM30 112.5h10v5h-10zM70 112.5h10v5h-10zM80 112.5h10v5h-10zM90 112.5h10v5h-10zM100 112.5h10v5h-10zM130 112.5h10v5h-10zM140 112.5h10v5h-10zM150 112.5h10v5h-10zM160 112.5h10v5h-10zM170 112.5h10v5h-10zM290 112.5h10v5h-10zM300 112.5h10v5h-10zM310 112.5h10v5h-10zM10 117.5h10v5h-10zM20 117.5h10v5h-10zM30 117.5h10v5h-10zM80 117.5h10v5h-10zM120 117.5h10v5h-10zM140 117.5h10v5h-10zM160 117.5h10v5h-10zM190 117.5h10v5h-10zM290 117.5h10v5h-10zM300 117.5h10v5h-10zM310 117.5h10v5h-10zM320 117.5h10v5h-10zM350 117.5h10v5h-10zM20 122.5h10v5h-10zM40 122.5h10v5h-10zM80 122.5h10v5h-10zM140 122.5h10v5h-10zM190 122.5h10v5h-10zM270 122.5h10v5h-10zM290 122.5h10v5h-10zM310 122.5h10v5h-10zM330 122.5h10v5h-10zM350 122.5h10v5h-10zM0 127.5h10v5h-10zM30 127.5h10v5h-10zM40 127.5h10v5h-10zM50 127.5h10v5h-10zM80 127.5h10v5h-10zM140 127.5h10v5h-10zM160 127.5h10v5h-10zM180 127.5h10v5h-10zM200 127.5h10v5h-10zM210 127.5h10v5h-10zM220 127.5h10v5h-10zM230 127.5h10v5h-10zM280 127.5h10v5h-10zM290 127.5h10v5h-10zM330 127.5h10v5h-10zM340 127.5h10v5h-10zM350 127.5h10v5h-10zM0 132.5h10v5h-10zM10 132.5h10v5h-10zM40 132.5h10v5h-10zM130 132.5h10v5h-10zM150 132.5h10v5h-10zM180 132.5h10v5h-10zM200 132.5h10v5h-10zM230 132.5h10v5h-10zM240 132.5h10v5h-10zM250 132.5h10v5h-10zM280 132.5h10v5h-10zM290 132.5h10v5h-10zM300 132.5h10v5h-10zM320 132.5h10v5h-10zM350 132.5h10v5h-10zM0 137.5h10v5h-10zM10 137.5h10v5h-10zM20 137.5h10v5h-10zM30 137.5h10v5h-10zM40 137.5h10v5h-10zM60 137.5h10v5h-10zM70 137.5h10v5h-10zM90 137.5h10v5h-10zM180 137.5h10v5h-10zM200 137.5h10v5h-10zM240 137.5h10v5h-10zM250 137.5h10v5h-10zM260 137.5h10v5h-10zM290 137.5h10v5h-10zM330 137.5h10v5h-10zM340 137.5h10v5h-10zM350 137.5h10v5h-10zM30 142.5h10v5h-10zM40 142.5h10v5h-10zM60 142.5h10v5h-10zM90 142.5h10v5h-10zM140 142.5h10v5h-10zM160 142.5h10v5h-10zM180 142.5h10v5h-10zM190 142.5h10v5h-10zM200 142.5h10v5h-10zM210 142.5h10v5h-10zM220 142.5h10v5h-10zM240 142.5h10v5h-10zM260 142.5h10v5h-10zM320 142.5h10v5h-10zM330 142.5h10v5h-10zM340 142.5h10v5h-10zM350 142.5h10v5h-10zM0 147.5h10v5h-10zM40 147.5h10v5h-10zM70 147.5h10v5h-10zM80 147.5h10v5h-10zM110 147.5h10v5h-10zM180 147.5h10v5h-10zM300 147.5h10v5h-10zM320 147.5h10v5h-10zM350 147.5h10v5h-10zM0 152.5h10v5h-10zM40 152.5h10v5h-10zM70 152.5h10v5h-10zM80 152.5h10v5h-10zM110 152.5h10v5h-10zM180 152.5h10v5h-10zM300 152.5h10v5h-10zM320 152.5h10v5h-10zM350 152.5h10v5h-10z"/><path fill="#ff9410" d="M40 17.5h10v5h-10zM160 17.5h10v5h-10zM170 17.5h10v5h-10zM320 17.5h10v5h-10zM40 22.5h10v5h-10zM260 22.5h10v5h-10zM320 22.5h10v5h-10zM350 22.5h10v5h-10zM0 27.5h10v5h-10zM40 27.5h10v5h-10zM150 27.5h10v5h-10zM290 27.5h10v5h-10zM330 27.5h10v5h-10zM0 32.5h10v5h-10zM180 32.5h10v5h-10zM200 32.5h10v5h-10zM350 32.5h10v5h-10zM190 37.5h10v5h-10zM320 37.5h10v5h-10zM350 42.5h10v5h-10zM20 47.5h10v5h-10zM80 47.5h10v5h-10zM120 47.5h10v5h-10zM350 47.5h10v5h-10zM80 52.5h10v5h-10zM340 52.5h10v5h-10zM280 57.5h10v5h-10zM20 77.5h10v5h-10zM90 77.5h10v5h-10zM140 87.5h10v5h-10zM100 102.5h10v5h-10zM290 107.5h10v5h-10zM180 112.5h10v5h-10zM120 122.5h10v5h-10zM110 127.5h10v5h-10zM120 127.5h10v5h-10zM240 127.5h10v5h-10zM260 127.5h10v5h-10zM210 132.5h10v5h-10zM260 132.5h10v5h-10zM170 137.5h10v5h-10zM300 137.5h10v5h-10zM320 137.5h10v5h-10zM20 142.5h10v5h-10zM80 142.5h10v5h-10zM150 142.5h10v5h-10zM280 142.5h10v5h-10zM290 142.5h10v5h-10zM140 147.5h10v5h-10zM150 147.5h10v5h-10zM170 147.5h10v5h-10zM290 147.5h10v5h-10zM340 147.5h10v5h-10zM140 152.5h10v5h-10zM150 152.5h10v5h-10zM170 152.5h10v5h-10zM290 152.5h10v5h-10zM340 152.5h10v5h-10z"/><path fill="#a00000" d="M70 17.5h10v5h-10zM80 17.5h10v5h-10zM90 17.5h10v5h-10zM100 17.5h10v5h-10zM110 17.5h10v5h-10zM120 17.5h10v5h-10zM210 17.5h10v5h-10zM240 17.5h10v5h-10zM250 17.5h10v5h-10zM260 17.5h10v5h-10zM270 17.5h10v5h-10zM280 17.5h10v5h-10zM80 22.5h10v5h-10zM90 22.5h10v5h-10zM110 22.5h10v5h-10zM120 22.5h10v5h-10zM200 22.5h10v5h-10zM210 22.5h10v5h-10zM240 22.5h10v5h-10zM120 27.5h10v5h-10zM210 27.5h10v5h-10zM240 27.5h10v5h-10zM280 27.5h10v5h-10zM340 27.5h10v5h-10zM120 32.5h10v5h-10zM290 32.5h10v5h-10zM320 32.5h10v5h-10zM110 37.5h10v5h-10zM120 37.5h10v5h-10zM120 42.5h10v5h-10zM190 47.5h10v5h-10zM290 62.5h10v5h-10zM250 67.5h10v5h-10zM270 67.5h10v5h-10zM270 72.5h10v5h-10zM60 112.5h10v5h-10zM110 112.5h10v5h-10zM0 117.5h10v5h-10zM60 117.5h10v5h-10zM110 117.5h10v5h-10zM150 117.5h10v5h-10zM110 122.5h10v5h-10zM150 122.5h10v5h-10zM160 122.5h10v5h-10zM150 127.5h10v5h-10zM220 132.5h10v5h-10zM120 137.5h10v5h-10zM220 137.5h10v5h-10zM270 137.5h10v5h-10zM50 142.5h10v5h-10zM120 142.5h10v5h-10zM170 142.5h10v5h-10zM270 142.5h10v5h-10zM120 147.5h10v5h-10zM190 147.5h10v5h-10zM310 147.5h10v5h-10zM120 152.5h10v5h-10zM190 152.5h10v5h-10zM310 152.5h10v5h-10z"/><path fill="#f03008" d="M180 17.5h10v5h-10zM200 17.5h10v5h-10zM220 17.5h10v5h-10zM330 17.5h10v5h-10zM340 17.5h10v5h-10zM350 17.5h10v5h-10zM100 22.5h10v5h-10zM220 22.5h10v5h-10zM330 22.5h10v5h-10zM340 22.5h10v5h-10zM90 27.5h10v5h-10zM200 27.5h10v5h-10zM90 37.5h10v5h-10zM100 37.5h10v5h-10zM250 37.5h10v5h-10zM280 37.5h10v5h-10zM290 37.5h10v5h-10zM310 37.5h10v5h-10zM350 37.5h10v5h-10zM20 42.5h10v5h-10zM90 42.5h10v5h-10zM100 42.5h10v5h-10zM110 42.5h10v5h-10zM30 47.5h10v5h-10zM90 47.5h10v5h-10zM190 52.5h10v5h-10zM270 52.5h10v5h-10zM110 57.5h10v5h-10zM250 62.5h10v5h-10zM280 62.5h10v5h-10zM350 62.5h10v5h-10zM350 67.5h10v5h-10zM230 72.5h10v5h-10zM240 72.5h10v5h-10zM250 72.5h10v5h-10zM310 72.5h10v5h-10zM300 77.5h10v5h-10zM310 77.5h10v5h-10zM300 82.5h10v5h-10zM340 82.5h10v5h-10zM350 82.5h10v5h-10zM90 87.5h10v5h-10zM130 87.5h10v5h-10zM200 87.5h10v5h-10zM10 92.5h10v5h-10zM90 92.5h10v5h-10zM260 92.5h10v5h-10zM280 92.5h10v5h-10zM10 97.5h10v5h-10zM70 117.5h10v5h-10zM100 117.5h10v5h-10zM100 122.5h10v5h-10zM320 122.5h10v5h-10zM340 122.5h10v5h-10zM100 127.5h10v5h-10zM270 127.5h10v5h-10zM100 132.5h10v5h-10zM120 132.5h10v5h-10zM170 132.5h10v5h-10zM210 137.5h10v5h-10zM10 142.5h10v5h-10zM110 142.5h10v5h-10zM250 142.5h10v5h-10zM300 142.5h10v5h-10zM20 147.5h10v5h-10zM50 147.5h10v5h-10zM200 147.5h10v5h-10zM250 147.5h10v5h-10zM260 147.5h10v5h-10zM270 147.5h10v5h-10zM10 152.5h10v5h-10zM20 152.5h10v5h-10zM50 152.5h10v5h-10zM200 152.5h10v5h-10zM250 152.5h10v5h-10zM260 152.5h10v5h-10zM270 152.5h10v5h-10z"/><path fill="#f0e020" d="M0 22.5h10v5h-10zM170 22.5h10v5h-10zM320 27.5h10v5h-10zM350 27.5h10v5h-10zM20 32.5h10v5h-10zM20 37.5h10v5h-10zM30 42.5h10v5h-10zM70 132.5h10v5h-10zM310 132.5h10v5h-10zM160 137.5h10v5h-10zM310 137.5h10v5h-10zM90 147.5h10v5h-10zM90 152.5h10v5h-10z"/><path fill="#3c9cf6" d="M10 22.5h10v5h-10zM20 22.5h10v5h-10zM60 27.5h10v5h-10zM70 27.5h10v5h-10zM80 27.5h10v5h-10zM50 32.5h10v5h-10zM60 32.5h10v5h-10zM80 32.5h10v5h-10zM90 32.5h10v5h-10zM100 32.5h10v5h-10zM160 32.5h10v5h-10zM220 32.5h10v5h-10zM260 32.5h10v5h-10zM60 37.5h10v5h-10zM130 37.5h10v5h-10zM220 37.5h10v5h-10zM260 37.5h10v5h-10zM70 42.5h10v5h-10zM0 47.5h10v5h-10zM100 47.5h10v5h-10zM130 47.5h10v5h-10zM150 47.5h10v5h-10zM160 47.5h10v5h-10zM270 47.5h10v5h-10zM290 47.5h10v5h-10zM320 47.5h10v5h-10zM130 52.5h10v5h-10zM150 52.5h10v5h-10zM40 57.5h10v5h-10zM250 57.5h10v5h-10zM40 62.5h10v5h-10zM30 67.5h10v5h-10zM40 67.5h10v5h-10zM50 67.5h10v5h-10zM260 67.5h10v5h-10zM280 67.5h10v5h-10zM290 67.5h10v5h-10zM30 72.5h10v5h-10zM40 72.5h10v5h-10zM50 72.5h10v5h-10zM60 72.5h10v5h-10zM150 72.5h10v5h-10zM350 72.5h10v5h-10zM220 77.5h10v5h-10zM10 82.5h10v5h-10zM20 82.5h10v5h-10zM50 82.5h10v5h-10zM190 82.5h10v5h-10zM220 82.5h10v5h-10zM110 87.5h10v5h-10zM180 87.5h10v5h-10zM210 87.5h10v5h-10zM180 92.5h10v5h-10zM210 92.5h10v5h-10zM270 92.5h10v5h-10zM60 97.5h10v5h-10zM70 97.5h10v5h-10zM80 97.5h10v5h-10zM210 97.5h10v5h-10zM50 102.5h10v5h-10zM70 102.5h10v5h-10zM50 107.5h10v5h-10zM40 112.5h10v5h-10zM280 112.5h10v5h-10zM340 112.5h10v5h-10zM350 112.5h10v5h-10zM40 117.5h10v5h-10zM90 117.5h10v5h-10zM130 117.5h10v5h-10zM170 117.5h10v5h-10zM180 117.5h10v5h-10zM270 117.5h10v5h-10zM280 117.5h10v5h-10zM0 122.5h10v5h-10zM10 122.5h10v5h-10zM30 122.5h10v5h-10zM90 122.5h10v5h-10zM130 122.5h10v5h-10zM170 122.5h10v5h-10zM180 122.5h10v5h-10zM200 122.5h10v5h-10zM220 122.5h10v5h-10zM230 122.5h10v5h-10zM250 122.5h10v5h-10zM260 122.5h10v5h-10zM280 122.5h10v5h-10zM300 122.5h10v5h-10zM10 127.5h10v5h-10zM20 127.5h10v5h-10zM60 127.5h10v5h-10zM90 127.5h10v5h-10zM130 127.5h10v5h-10zM170 127.5h10v5h-10zM300 127.5h10v5h-10zM310 127.5h10v5h-10zM320 127.5h10v5h-10zM50 132.5h10v5h-10zM60 132.5h10v5h-10zM90 132.5h10v5h-10zM160 132.5h10v5h-10zM190 132.5h10v5h-10zM330 132.5h10v5h-10zM340 132.5h10v5h-10zM50 137.5h10v5h-10zM100 137.5h10v5h-10zM130 137.5h10v5h-10zM190 137.5h10v5h-10zM230 137.5h10v5h-10zM280 137.5h10v5h-10zM100 142.5h10v5h-10zM130 142.5h10v5h-10zM230 142.5h10v5h-10zM30 147.5h10v5h-10zM60 147.5h10v5h-10zM130 147.5h10v5h-10zM160 147.5h10v5h-10zM210 147.5h10v5h-10zM220 147.5h10v5h-10zM230 147.5h10v5h-10zM240 147.5h10v5h-10zM280 147.5h10v5h-10zM330 147.5h10v5h-10zM30 152.5h10v5h-10zM60 152.5h10v5h-10zM130 152.5h10v5h-10zM160 152.5h10v5h-10zM210 152.5h10v5h-10zM220 152.5h10v5h-10zM230 152.5h10v5h-10zM240 152.5h10v5h-10zM280 152.5h10v5h-10zM330 152.5h10v5h-10z"/><path fill="#63b0f8" d="M70 32.5h10v5h-10zM170 32.5h10v5h-10zM70 37.5h10v5h-10zM270 37.5h10v5h-10zM60 42.5h10v5h-10zM130 42.5h10v5h-10zM160 42.5h10v5h-10zM200 47.5h10v5h-10zM100 52.5h10v5h-10zM120 52.5h10v5h-10zM160 52.5h10v5h-10zM170 52.5h10v5h-10zM290 52.5h10v5h-10zM150 57.5h10v5h-10zM350 57.5h10v5h-10zM30 62.5h10v5h-10zM80 62.5h10v5h-10zM130 62.5h10v5h-10zM140 62.5h10v5h-10zM150 62.5h10v5h-10zM310 62.5h10v5h-10zM70 67.5h10v5h-10zM90 67.5h10v5h-10zM300 67.5h10v5h-10zM0 72.5h10v5h-10zM10 72.5h10v5h-10zM20 72.5h10v5h-10zM140 72.5h10v5h-10zM300 72.5h10v5h-10zM320 72.5h10v5h-10zM340 72.5h10v5h-10zM0 77.5h10v5h-10zM110 77.5h10v5h-10zM120 77.5h10v5h-10zM290 77.5h10v5h-10zM350 77.5h10v5h-10zM0 82.5h10v5h-10zM200 82.5h10v5h-10zM210 82.5h10v5h-10zM250 82.5h10v5h-10zM260 82.5h10v5h-10zM280 82.5h10v5h-10zM290 82.5h10v5h-10zM0 87.5h10v5h-10zM80 87.5h10v5h-10zM120 87.5h10v5h-10zM160 87.5h10v5h-10zM220 87.5h10v5h-10zM320 87.5h10v5h-10zM30 92.5h10v5h-10zM40 92.5h10v5h-10zM60 92.5h10v5h-10zM80 92.5h10v5h-10zM110 92.5h10v5h-10zM160 92.5h10v5h-10zM170 92.5h10v5h-10zM230 92.5h10v5h-10zM250 92.5h10v5h-10zM340 92.5h10v5h-10zM140 97.5h10v5h-10zM150 97.5h10v5h-10zM160 97.5h10v5h-10zM170 97.5h10v5h-10zM180 97.5h10v5h-10zM220 97.5h10v5h-10zM240 97.5h10v5h-10zM300 97.5h10v5h-10zM310 97.5h10v5h-10zM340 97.5h10v5h-10zM0 102.5h10v5h-10zM10 102.5h10v5h-10zM170 102.5h10v5h-10zM280 102.5h10v5h-10zM340 102.5h10v5h-10zM0 107.5h10v5h-10zM10 107.5h10v5h-10zM20 107.5h10v5h-10zM30 107.5h10v5h-10zM140 107.5h10v5h-10zM180 107.5h10v5h-10zM230 107.5h10v5h-10zM240 107.5h10v5h-10zM250 107.5h10v5h-10zM270 107.5h10v5h-10zM330 107.5h10v5h-10zM340 107.5h10v5h-10zM230 112.5h10v5h-10zM240 112.5h10v5h-10zM250 112.5h10v5h-10zM260 112.5h10v5h-10zM270 112.5h10v5h-10zM330 112.5h10v5h-10zM230 117.5h10v5h-10zM240 117.5h10v5h-10zM250 117.5h10v5h-10zM260 117.5h10v5h-10zM330 117.5h10v5h-10z"/><path fill="#71b7f8" d="M230 32.5h10v5h-10zM160 37.5h10v5h-10zM170 37.5h10v5h-10zM210 42.5h10v5h-10zM270 42.5h10v5h-10zM60 47.5h10v5h-10zM70 47.5h10v5h-10zM40 52.5h10v5h-10zM60 52.5h10v5h-10zM110 52.5h10v5h-10zM180 52.5h10v5h-10zM0 57.5h10v5h-10zM10 57.5h10v5h-10zM20 57.5h10v5h-10zM90 57.5h10v5h-10zM180 57.5h10v5h-10zM190 57.5h10v5h-10zM340 57.5h10v5h-10zM10 62.5h10v5h-10zM60 62.5h10v5h-10zM90 62.5h10v5h-10zM120 62.5h10v5h-10zM180 62.5h10v5h-10zM320 62.5h10v5h-10zM330 62.5h10v5h-10zM340 62.5h10v5h-10zM10 67.5h10v5h-10zM20 67.5h10v5h-10zM60 67.5h10v5h-10zM100 67.5h10v5h-10zM120 67.5h10v5h-10zM130 67.5h10v5h-10zM140 67.5h10v5h-10zM150 67.5h10v5h-10zM310 67.5h10v5h-10zM330 67.5h10v5h-10zM340 67.5h10v5h-10zM90 72.5h10v5h-10zM100 72.5h10v5h-10zM130 72.5h10v5h-10zM160 72.5h10v5h-10zM180 72.5h10v5h-10zM290 72.5h10v5h-10zM180 77.5h10v5h-10zM190 77.5h10v5h-10zM320 77.5h10v5h-10zM330 77.5h10v5h-10zM340 77.5h10v5h-10zM330 82.5h10v5h-10zM20 87.5h10v5h-10zM40 87.5h10v5h-10zM50 87.5h10v5h-10zM60 87.5h10v5h-10zM150 87.5h10v5h-10zM170 87.5h10v5h-10zM240 87.5h10v5h-10zM260 87.5h10v5h-10zM330 87.5h10v5h-10zM70 92.5h10v5h-10zM130 92.5h10v5h-10zM150 92.5h10v5h-10zM190 92.5h10v5h-10zM200 92.5h10v5h-10zM240 92.5h10v5h-10zM330 92.5h10v5h-10zM110 97.5h10v5h-10zM190 97.5h10v5h-10zM280 97.5h10v5h-10zM290 97.5h10v5h-10zM320 97.5h10v5h-10zM130 102.5h10v5h-10zM140 102.5h10v5h-10zM150 102.5h10v5h-10zM180 102.5h10v5h-10zM220 102.5h10v5h-10zM230 102.5h10v5h-10zM270 102.5h10v5h-10zM320 102.5h10v5h-10zM110 107.5h10v5h-10zM130 107.5h10v5h-10zM220 107.5h10v5h-10zM320 107.5h10v5h-10zM190 112.5h10v5h-10zM210 112.5h10v5h-10zM320 112.5h10v5h-10zM210 117.5h10v5h-10zM220 117.5h10v5h-10zM210 122.5h10v5h-10zM240 122.5h10v5h-10zM110 132.5h10v5h-10zM110 137.5h10v5h-10z"/><path fill="#7abcf9" d="M230 37.5h10v5h-10zM240 37.5h10v5h-10zM220 42.5h10v5h-10zM240 42.5h10v5h-10zM210 47.5h10v5h-10zM200 52.5h10v5h-10zM210 52.5h10v5h-10zM0 62.5h10v5h-10zM20 62.5h10v5h-10zM70 62.5h10v5h-10zM0 67.5h10v5h-10zM110 67.5h10v5h-10zM240 67.5h10v5h-10zM320 67.5h10v5h-10zM110 72.5h10v5h-10zM120 72.5h10v5h-10zM200 77.5h10v5h-10zM320 82.5h10v5h-10zM70 87.5h10v5h-10zM200 97.5h10v5h-10zM110 102.5h10v5h-10zM300 102.5h10v5h-10zM310 102.5h10v5h-10zM220 112.5h10v5h-10z"/><path fill="#59e0e0" d="M180 42.5h10v5h-10zM180 47.5h10v5h-10zM100 62.5h10v5h-10zM10 87.5h10v5h-10zM30 87.5h10v5h-10zM230 87.5h10v5h-10zM40 97.5h10v5h-10zM30 102.5h10v5h-10zM240 102.5h10v5h-10zM260 102.5h10v5h-10zM290 102.5h10v5h-10zM260 107.5h10v5h-10zM120 112.5h10v5h-10z"/><path fill="#80bff9" d="M230 42.5h10v5h-10zM240 62.5h10v5h-10z"/><path fill="#68e3e3" d="M220 47.5h10v5h-10zM220 52.5h10v5h-10z"/><path fill="#f4684b" d="M210 77.5h10v5h-10z"/><path fill="#f35939" d="M250 87.5h10v5h-10z"/></g></g></g><g clip-path="url(#cpb)" filter="url(#ftb)" stroke-linecap="round" stroke-linejoin="round" fill="none"><path d="M8.0 18.8L20.0 18.9L30.0 18.8L40.0 18.9L50.0 18.8" stroke="#ffc020" stroke-width="3.6" opacity="0.75"/><path d="M40.8 40.0L47.0 38.9L54.9 40.2L57.2 42.9L56.5 47.1L53.9 51.2L51.2 53.8" stroke="#ffc020" stroke-width="4.8" opacity="0.75"/><path d="M43.4 31.4L48.0 34.5L52.3 37.6" stroke="#ffc020" stroke-width="4.6" opacity="0.75"/><path d="M19.8 48.1L25.0 49.0L29.2 50.2" stroke="#ffc020" stroke-width="4.2" opacity="0.75"/><path d="M25.0 57.0L33.0 54.5L40.8 52.3" stroke="#ffc020" stroke-width="4.6" opacity="0.75"/><path d="M35.0 82.6L40.0 82.8L50.0 82.2L60.0 82.1L67.0 81.8" stroke="#ffc020" stroke-width="4.2" opacity="0.75"/><path d="M72.0 81.0L76.0 79.0L80.0 80.5L77.0 82.5" stroke="#ffc020" stroke-width="5.1" opacity="0.75"/><path d="M90.0 83.5L98.0 84.0L104.0 83.5" stroke="#ffc020" stroke-width="5.1" opacity="0.75"/><path d="M128.0 84.0L135.0 83.5" stroke="#ffc020" stroke-width="4.0" opacity="0.75"/><path d="M163.0 83.0L168.0 82.5" stroke="#ffc020" stroke-width="4.0" opacity="0.75"/><path d="M118.0 19.0L120.2 20.9L125.0 25.0L128.1 28.7L129.6 34.0L128.1 40.8L122.8 43.9" stroke="#ffc020" stroke-width="6.6" opacity="0.75"/><path d="M157.0 23.5L168.0 22.0L178.0 21.0L181.5 24.0L182.0 29.0L175.2 29.8L164.7 30.3L154.3 34.0L148.0 38.2L144.8 42.9L143.8 47.0L145.9 52.3" stroke="#ffc020" stroke-width="5.1" opacity="0.75"/><path d="M180.4 36.6L186.0 38.5L190.9 40.2L195.0 43.5L198.8 47.0" stroke="#ffc020" stroke-width="5.1" opacity="0.75"/><path d="M279.0 62.7L288.0 60.5L297.4 57.5L307.9 59.1L321.0 59.6L331.4 56.5L339.3 52.3L343.5 47.0L341.9 39.2L336.7 34.0" stroke="#ffc020" stroke-width="5.6" opacity="0.75"/><path d="M339.0 34.0L347.0 40.0L355.0 50.0" stroke="#ffc020" stroke-width="4.6" opacity="0.75"/><path d="M290.0 33.0L298.0 37.0" stroke="#ffc020" stroke-width="6.6" opacity="0.75"/><path d="M1.0 96.5L8.0 97.0L12.0 98.5" stroke="#ffc020" stroke-width="5.1" opacity="0.75"/><path d="M4.0 112.0L8.0 115.5L12.5 119.5" stroke="#ffc020" stroke-width="5.6" opacity="0.75"/><path d="M18.5 114.5L25.0 117.0L31.0 120.0" stroke="#ffc020" stroke-width="5.6" opacity="0.75"/><path d="M50.0 117.0L58.0 122.0L65.0 125.5L75.0 129.2L82.0 135.0L81.0 143.6L72.3 147.0" stroke="#ffc020" stroke-width="5.6" opacity="0.75"/><path d="M6.0 146.0L13.0 149.0L19.0 151.0" stroke="#ffc020" stroke-width="5.6" opacity="0.75"/><path d="M48.0 146.0L54.0 145.0L56.0 151.0" stroke="#ffc020" stroke-width="6.6" opacity="0.75"/><path d="M117.0 112.0L118.0 120.0L119.0 126.0L118.0 131.0" stroke="#ffc020" stroke-width="7.6" opacity="0.75"/><path d="M125.0 137.0L122.0 143.0L119.0 150.0" stroke="#ffc020" stroke-width="6.6" opacity="0.75"/><path d="M150.0 127.5L156.0 128.5" stroke="#ffc020" stroke-width="10.6" opacity="0.75"/><path d="M168.0 146.0L177.0 147.0" stroke="#ffc020" stroke-width="6.6" opacity="0.75"/><path d="M213.0 138.0L222.0 139.0L229.0 136.5" stroke="#ffc020" stroke-width="6.6" opacity="0.75"/><path d="M241.0 131.0L255.0 132.0L270.0 134.0" stroke="#ffc020" stroke-width="5.1" opacity="0.75"/><path d="M270.0 130.0L277.5 134.5L283.0 140.5L284.0 147.0L276.0 151.0" stroke="#ffc020" stroke-width="6.6" opacity="0.75"/><path d="M317.0 148.0L323.0 149.0" stroke="#ffc020" stroke-width="6.6" opacity="0.75"/><path d="M308.0 141.0L315.0 145.0" stroke="#ffc020" stroke-width="5.1" opacity="0.75"/><path d="M346.0 117.5L350.0 119.0" stroke="#ffc020" stroke-width="5.1" opacity="0.75"/><path d="M335.0 87.5L342.0 88.0" stroke="#ffc020" stroke-width="5.1" opacity="0.75"/><path d="M351.0 88.0L357.0 88.5" stroke="#ffc020" stroke-width="5.1" opacity="0.75"/><path d="M8.0 18.8L20.0 18.9L30.0 18.8L40.0 18.9L50.0 18.8" stroke="#f02808" stroke-width="2.0" opacity="1"/><path d="M40.8 40.0L47.0 38.9L54.9 40.2L57.2 42.9L56.5 47.1L53.9 51.2L51.2 53.8" stroke="#f02808" stroke-width="3.2" opacity="1"/><path d="M43.4 31.4L48.0 34.5L52.3 37.6" stroke="#f02808" stroke-width="3.0" opacity="1"/><path d="M19.8 48.1L25.0 49.0L29.2 50.2" stroke="#f02808" stroke-width="2.6" opacity="1"/><path d="M25.0 57.0L33.0 54.5L40.8 52.3" stroke="#f02808" stroke-width="3.0" opacity="1"/><path d="M35.0 82.6L40.0 82.8L50.0 82.2L60.0 82.1L67.0 81.8" stroke="#f02808" stroke-width="2.6" opacity="1"/><path d="M72.0 81.0L76.0 79.0L80.0 80.5L77.0 82.5" stroke="#f02808" stroke-width="3.5" opacity="1"/><path d="M90.0 83.5L98.0 84.0L104.0 83.5" stroke="#f02808" stroke-width="3.5" opacity="1"/><path d="M128.0 84.0L135.0 83.5" stroke="#f02808" stroke-width="2.4" opacity="1"/><path d="M163.0 83.0L168.0 82.5" stroke="#f02808" stroke-width="2.4" opacity="1"/><path d="M118.0 19.0L120.2 20.9L125.0 25.0L128.1 28.7L129.6 34.0L128.1 40.8L122.8 43.9" stroke="#f02808" stroke-width="5.0" opacity="1"/><path d="M157.0 23.5L168.0 22.0L178.0 21.0L181.5 24.0L182.0 29.0L175.2 29.8L164.7 30.3L154.3 34.0L148.0 38.2L144.8 42.9L143.8 47.0L145.9 52.3" stroke="#f02808" stroke-width="3.5" opacity="1"/><path d="M180.4 36.6L186.0 38.5L190.9 40.2L195.0 43.5L198.8 47.0" stroke="#f02808" stroke-width="3.5" opacity="1"/><path d="M279.0 62.7L288.0 60.5L297.4 57.5L307.9 59.1L321.0 59.6L331.4 56.5L339.3 52.3L343.5 47.0L341.9 39.2L336.7 34.0" stroke="#f02808" stroke-width="4.0" opacity="1"/><path d="M339.0 34.0L347.0 40.0L355.0 50.0" stroke="#f02808" stroke-width="3.0" opacity="1"/><path d="M290.0 33.0L298.0 37.0" stroke="#f02808" stroke-width="5.0" opacity="1"/><path d="M1.0 96.5L8.0 97.0L12.0 98.5" stroke="#f02808" stroke-width="3.5" opacity="1"/><path d="M4.0 112.0L8.0 115.5L12.5 119.5" stroke="#f02808" stroke-width="4.0" opacity="1"/><path d="M18.5 114.5L25.0 117.0L31.0 120.0" stroke="#f02808" stroke-width="4.0" opacity="1"/><path d="M50.0 117.0L58.0 122.0L65.0 125.5L75.0 129.2L82.0 135.0L81.0 143.6L72.3 147.0" stroke="#f02808" stroke-width="4.0" opacity="1"/><path d="M6.0 146.0L13.0 149.0L19.0 151.0" stroke="#f02808" stroke-width="4.0" opacity="1"/><path d="M48.0 146.0L54.0 145.0L56.0 151.0" stroke="#f02808" stroke-width="5.0" opacity="1"/><path d="M117.0 112.0L118.0 120.0L119.0 126.0L118.0 131.0" stroke="#f02808" stroke-width="6.0" opacity="1"/><path d="M125.0 137.0L122.0 143.0L119.0 150.0" stroke="#f02808" stroke-width="5.0" opacity="1"/><path d="M150.0 127.5L156.0 128.5" stroke="#f02808" stroke-width="9.0" opacity="1"/><path d="M168.0 146.0L177.0 147.0" stroke="#f02808" stroke-width="5.0" opacity="1"/><path d="M213.0 138.0L222.0 139.0L229.0 136.5" stroke="#f02808" stroke-width="5.0" opacity="1"/><path d="M241.0 131.0L255.0 132.0L270.0 134.0" stroke="#f02808" stroke-width="3.5" opacity="1"/><path d="M270.0 130.0L277.5 134.5L283.0 140.5L284.0 147.0L276.0 151.0" stroke="#f02808" stroke-width="5.0" opacity="1"/><path d="M317.0 148.0L323.0 149.0" stroke="#f02808" stroke-width="5.0" opacity="1"/><path d="M308.0 141.0L315.0 145.0" stroke="#f02808" stroke-width="3.5" opacity="1"/><path d="M346.0 117.5L350.0 119.0" stroke="#f02808" stroke-width="3.5" opacity="1"/><path d="M335.0 87.5L342.0 88.0" stroke="#f02808" stroke-width="3.5" opacity="1"/><path d="M351.0 88.0L357.0 88.5" stroke="#f02808" stroke-width="3.5" opacity="1"/><path d="M8.0 18.8L20.0 18.9L30.0 18.8L40.0 18.9L50.0 18.8" stroke="#8e0000" stroke-width="0.7" opacity="1"/><path d="M40.8 40.0L47.0 38.9L54.9 40.2L57.2 42.9L56.5 47.1L53.9 51.2L51.2 53.8" stroke="#8e0000" stroke-width="1.5" opacity="1"/><path d="M43.4 31.4L48.0 34.5L52.3 37.6" stroke="#8e0000" stroke-width="1.4" opacity="1"/><path d="M19.8 48.1L25.0 49.0L29.2 50.2" stroke="#8e0000" stroke-width="1.1" opacity="1"/><path d="M25.0 57.0L33.0 54.5L40.8 52.3" stroke="#8e0000" stroke-width="1.4" opacity="1"/><path d="M35.0 82.6L40.0 82.8L50.0 82.2L60.0 82.1L67.0 81.8" stroke="#8e0000" stroke-width="1.1" opacity="1"/><path d="M72.0 81.0L76.0 79.0L80.0 80.5L77.0 82.5" stroke="#8e0000" stroke-width="1.8" opacity="1"/><path d="M90.0 83.5L98.0 84.0L104.0 83.5" stroke="#8e0000" stroke-width="1.8" opacity="1"/><path d="M128.0 84.0L135.0 83.5" stroke="#8e0000" stroke-width="1.0" opacity="1"/><path d="M163.0 83.0L168.0 82.5" stroke="#8e0000" stroke-width="1.0" opacity="1"/><path d="M118.0 19.0L120.2 20.9L125.0 25.0L128.1 28.7L129.6 34.0L128.1 40.8L122.8 43.9" stroke="#8e0000" stroke-width="2.8" opacity="1"/><path d="M157.0 23.5L168.0 22.0L178.0 21.0L181.5 24.0L182.0 29.0L175.2 29.8L164.7 30.3L154.3 34.0L148.0 38.2L144.8 42.9L143.8 47.0L145.9 52.3" stroke="#8e0000" stroke-width="1.8" opacity="1"/><path d="M180.4 36.6L186.0 38.5L190.9 40.2L195.0 43.5L198.8 47.0" stroke="#8e0000" stroke-width="1.8" opacity="1"/><path d="M279.0 62.7L288.0 60.5L297.4 57.5L307.9 59.1L321.0 59.6L331.4 56.5L339.3 52.3L343.5 47.0L341.9 39.2L336.7 34.0" stroke="#8e0000" stroke-width="2.1" opacity="1"/><path d="M339.0 34.0L347.0 40.0L355.0 50.0" stroke="#8e0000" stroke-width="1.4" opacity="1"/><path d="M290.0 33.0L298.0 37.0" stroke="#8e0000" stroke-width="2.8" opacity="1"/><path d="M1.0 96.5L8.0 97.0L12.0 98.5" stroke="#8e0000" stroke-width="1.8" opacity="1"/><path d="M4.0 112.0L8.0 115.5L12.5 119.5" stroke="#8e0000" stroke-width="2.1" opacity="1"/><path d="M18.5 114.5L25.0 117.0L31.0 120.0" stroke="#8e0000" stroke-width="2.1" opacity="1"/><path d="M50.0 117.0L58.0 122.0L65.0 125.5L75.0 129.2L82.0 135.0L81.0 143.6L72.3 147.0" stroke="#8e0000" stroke-width="2.1" opacity="1"/><path d="M6.0 146.0L13.0 149.0L19.0 151.0" stroke="#8e0000" stroke-width="2.1" opacity="1"/><path d="M48.0 146.0L54.0 145.0L56.0 151.0" stroke="#8e0000" stroke-width="2.8" opacity="1"/><path d="M117.0 112.0L118.0 120.0L119.0 126.0L118.0 131.0" stroke="#8e0000" stroke-width="3.5" opacity="1"/><path d="M125.0 137.0L122.0 143.0L119.0 150.0" stroke="#8e0000" stroke-width="2.8" opacity="1"/><path d="M150.0 127.5L156.0 128.5" stroke="#8e0000" stroke-width="5.6" opacity="1"/><path d="M168.0 146.0L177.0 147.0" stroke="#8e0000" stroke-width="2.8" opacity="1"/><path d="M213.0 138.0L222.0 139.0L229.0 136.5" stroke="#8e0000" stroke-width="2.8" opacity="1"/><path d="M241.0 131.0L255.0 132.0L270.0 134.0" stroke="#8e0000" stroke-width="1.8" opacity="1"/><path d="M270.0 130.0L277.5 134.5L283.0 140.5L284.0 147.0L276.0 151.0" stroke="#8e0000" stroke-width="2.8" opacity="1"/><path d="M317.0 148.0L323.0 149.0" stroke="#8e0000" stroke-width="2.8" opacity="1"/><path d="M308.0 141.0L315.0 145.0" stroke="#8e0000" stroke-width="1.8" opacity="1"/><path d="M346.0 117.5L350.0 119.0" stroke="#8e0000" stroke-width="1.8" opacity="1"/><path d="M335.0 87.5L342.0 88.0" stroke="#8e0000" stroke-width="1.8" opacity="1"/><path d="M351.0 88.0L357.0 88.5" stroke="#8e0000" stroke-width="1.8" opacity="1"/></g><use href="#coast"/><use href="#coast2"/></svg>
<div class="frame" style="left:1093px;top:74px;width:1027px;height:515px"></div>
<div class="cb" style="left:1093.0px;top:596.0px;width:1025.7px;height:22.0px"></div>
<div class="tick" style="left:1092.9px;top:617.5px"></div>
<div class="tl" style="left:1093.7px;top:628.5px">0.0</div>
<div class="tick" style="left:1297.8px;top:617.5px"></div>
<div class="tl" style="left:1298.6px;top:628.5px">0.2</div>
<div class="tick" style="left:1502.7px;top:617.5px"></div>
<div class="tl" style="left:1503.5px;top:628.5px">0.4</div>
<div class="tick" style="left:1707.6px;top:617.5px"></div>
<div class="tl" style="left:1708.4px;top:628.5px">0.6</div>
<div class="tick" style="left:1912.5px;top:617.5px"></div>
<div class="tl" style="left:1913.3px;top:628.5px">0.8</div>
<div class="tick" style="left:2117.4px;top:617.5px"></div>
<div class="tl" style="left:2118.2px;top:628.5px">1.0</div>
<div class="title" style="left:25.5px;top:657.5px">(c) OMCLDO2&nbsp; effective cloud pressure</div>
<svg class="map" style="left:27.5px;top:732.8px;width:1024.4px;height:513.3px" viewBox="0 0 360 180" preserveAspectRatio="none"><defs><filter id="blc" x="-5%" y="-5%" width="110%" height="110%" color-interpolation-filters="sRGB"><feTurbulence type="fractalNoise" baseFrequency="0.09 0.14" numOctaves="3" seed="11" result="t"/><feDisplacementMap in="SourceGraphic" in2="t" scale="12" xChannelSelector="R" yChannelSelector="G" result="dm"/><feGaussianBlur in="dm" stdDeviation="1.6 0.8" result="b1"/><feTurbulence type="fractalNoise" baseFrequency="0.45 0.7" numOctaves="2" seed="23" result="t2"/><feDisplacementMap in="b1" in2="t2" scale="7" xChannelSelector="R" yChannelSelector="G" result="dm2"/><feGaussianBlur in="dm2" stdDeviation="0.25"/></filter><filter id="spc" x="0" y="0" width="100%" height="100%" color-interpolation-filters="sRGB"><feTurbulence type="fractalNoise" baseFrequency="0.09 0.14" numOctaves="3" seed="11" result="t"/><feDisplacementMap in="SourceGraphic" in2="t" scale="12" xChannelSelector="R" yChannelSelector="G" result="dm"/><feGaussianBlur in="dm" stdDeviation="1.6 0.8" result="cov"/><feTurbulence type="fractalNoise" baseFrequency="0.27 0.62" numOctaves="2" seed="3" result="nz"/><feColorMatrix in="nz" type="matrix" values="1 0 0 0 0  1 0 0 0 0  1 0 0 0 0  0 0 0 0 1" result="nz1"/><feComponentTransfer in="nz1" result="nz2"><feFuncR type="linear" slope="2.6" intercept="-0.8"/><feFuncG type="linear" slope="2.6" intercept="-0.8"/><feFuncB type="linear" slope="2.6" intercept="-0.8"/></feComponentTransfer><feComposite in="cov" in2="nz2" operator="arithmetic" k1="0" k2="1" k3="1" k4="-0.96" result="d"/><feComponentTransfer in="d"><feFuncR type="linear" slope="9" intercept="0"/><feFuncG type="linear" slope="9" intercept="0"/><feFuncB type="linear" slope="9" intercept="0"/><feFuncA type="linear" slope="0" intercept="1"/></feComponentTransfer><feGaussianBlur stdDeviation="0.3"/></filter><filter id="ftc" x="-5%" y="-5%" width="110%" height="110%" color-interpolation-filters="sRGB"><feTurbulence type="fractalNoise" baseFrequency="0.2 0.3" numOctaves="2" seed="5" result="t"/><feDisplacementMap in="SourceGraphic" in2="t" scale="5" xChannelSelector="R" yChannelSelector="G" result="dm"/><feGaussianBlur in="dm" stdDeviation="0.35"/></filter><mask id="mkc" maskUnits="userSpaceOnUse" x="0" y="0" width="360" height="180"><g filter="url(#spc)"><rect x="0" y="0" width="360" height="180" fill="#000"/><path fill="#ffffff" d="M0 17.5h10v5h-10zM10 17.5h10v5h-10zM20 17.5h10v5h-10zM30 17.5h10v5h-10zM40 17.5h10v5h-10zM70 17.5h10v5h-10zM80 17.5h10v5h-10zM90 17.5h10v5h-10zM100 17.5h10v5h-10zM110 17.5h10v5h-10zM160 17.5h10v5h-10zM170 17.5h10v5h-10zM180 17.5h10v5h-10zM240 17.5h10v5h-10zM250 17.5h10v5h-10zM260 17.5h10v5h-10zM320 17.5h10v5h-10zM330 17.5h10v5h-10zM340 17.5h10v5h-10zM350 17.5h10v5h-10zM0 22.5h10v5h-10zM20 22.5h10v5h-10zM30 22.5h10v5h-10zM40 22.5h10v5h-10zM80 22.5h10v5h-10zM90 22.5h10v5h-10zM100 22.5h10v5h-10zM120 22.5h10v5h-10zM140 22.5h10v5h-10zM170 22.5h10v5h-10zM210 22.5h10v5h-10zM240 22.5h10v5h-10zM330 22.5h10v5h-10zM340 22.5h10v5h-10zM350 22.5h10v5h-10zM0 27.5h10v5h-10zM20 27.5h10v5h-10zM30 27.5h10v5h-10zM40 27.5h10v5h-10zM120 27.5h10v5h-10zM140 27.5h10v5h-10zM190 27.5h10v5h-10zM200 27.5h10v5h-10zM240 27.5h10v5h-10zM320 27.5h10v5h-10zM330 27.5h10v5h-10zM340 27.5h10v5h-10zM350 27.5h10v5h-10zM0 32.5h10v5h-10zM10 32.5h10v5h-10zM20 32.5h10v5h-10zM30 32.5h10v5h-10zM190 32.5h10v5h-10zM200 32.5h10v5h-10zM330 32.5h10v5h-10zM340 32.5h10v5h-10zM350 32.5h10v5h-10zM0 37.5h10v5h-10zM10 37.5h10v5h-10zM20 37.5h10v5h-10zM30 37.5h10v5h-10zM180 37.5h10v5h-10zM190 37.5h10v5h-10zM330 37.5h10v5h-10zM350 37.5h10v5h-10zM0 42.5h10v5h-10zM10 42.5h10v5h-10zM20 42.5h10v5h-10zM30 42.5h10v5h-10zM340 42.5h10v5h-10zM10 47.5h10v5h-10zM20 47.5h10v5h-10zM310 47.5h10v5h-10zM50 52.5h10v5h-10zM50 57.5h10v5h-10zM90 97.5h10v5h-10zM90 102.5h10v5h-10zM10 132.5h10v5h-10zM20 132.5h10v5h-10zM140 132.5h10v5h-10zM310 132.5h10v5h-10zM0 137.5h10v5h-10zM10 137.5h10v5h-10zM140 137.5h10v5h-10zM0 142.5h10v5h-10z"/><path fill="#f0f0f0" d="M50 17.5h10v5h-10zM60 17.5h10v5h-10zM120 17.5h10v5h-10zM130 17.5h10v5h-10zM140 17.5h10v5h-10zM150 17.5h10v5h-10zM190 17.5h10v5h-10zM200 17.5h10v5h-10zM210 17.5h10v5h-10zM270 17.5h10v5h-10zM280 17.5h10v5h-10zM290 17.5h10v5h-10zM50 22.5h10v5h-10zM110 22.5h10v5h-10zM130 22.5h10v5h-10zM150 22.5h10v5h-10zM160 22.5h10v5h-10zM180 22.5h10v5h-10zM190 22.5h10v5h-10zM200 22.5h10v5h-10zM250 22.5h10v5h-10zM290 22.5h10v5h-10zM50 27.5h10v5h-10zM90 27.5h10v5h-10zM100 27.5h10v5h-10zM160 27.5h10v5h-10zM170 27.5h10v5h-10zM210 27.5h10v5h-10zM40 32.5h10v5h-10zM120 32.5h10v5h-10zM140 32.5h10v5h-10zM180 32.5h10v5h-10zM210 32.5h10v5h-10zM320 32.5h10v5h-10zM40 37.5h10v5h-10zM200 37.5h10v5h-10zM320 37.5h10v5h-10zM340 37.5h10v5h-10zM40 42.5h10v5h-10zM310 42.5h10v5h-10zM330 42.5h10v5h-10zM350 42.5h10v5h-10zM0 47.5h10v5h-10zM30 47.5h10v5h-10zM40 47.5h10v5h-10zM90 47.5h10v5h-10zM300 47.5h10v5h-10zM350 47.5h10v5h-10zM0 52.5h10v5h-10zM30 52.5h10v5h-10zM40 52.5h10v5h-10zM90 52.5h10v5h-10zM40 57.5h10v5h-10zM50 62.5h10v5h-10zM90 92.5h10v5h-10zM90 107.5h10v5h-10zM180 112.5h10v5h-10zM50 122.5h10v5h-10zM60 122.5h10v5h-10zM110 122.5h10v5h-10zM190 122.5h10v5h-10zM290 122.5h10v5h-10zM300 122.5h10v5h-10zM10 127.5h10v5h-10zM20 127.5h10v5h-10zM110 127.5h10v5h-10zM130 127.5h10v5h-10zM140 127.5h10v5h-10zM190 127.5h10v5h-10zM200 127.5h10v5h-10zM290 127.5h10v5h-10zM300 127.5h10v5h-10zM0 132.5h10v5h-10zM30 132.5h10v5h-10zM130 132.5h10v5h-10zM170 132.5h10v5h-10zM180 132.5h10v5h-10zM190 132.5h10v5h-10zM200 132.5h10v5h-10zM300 132.5h10v5h-10zM320 132.5h10v5h-10zM340 132.5h10v5h-10zM350 132.5h10v5h-10zM20 137.5h10v5h-10zM60 137.5h10v5h-10zM70 137.5h10v5h-10zM130 137.5h10v5h-10zM150 137.5h10v5h-10zM170 137.5h10v5h-10zM210 137.5h10v5h-10zM290 137.5h10v5h-10zM300 137.5h10v5h-10zM340 137.5h10v5h-10zM350 137.5h10v5h-10zM10 142.5h10v5h-10zM80 142.5h10v5h-10zM140 142.5h10v5h-10zM150 142.5h10v5h-10zM290 142.5h10v5h-10zM0 147.5h10v5h-10zM10 147.5h10v5h-10zM20 147.5h10v5h-10zM30 147.5h10v5h-10zM40 147.5h10v5h-10zM50 147.5h10v5h-10zM60 147.5h10v5h-10zM70 147.5h10v5h-10zM80 147.5h10v5h-10zM90 147.5h10v5h-10zM100 147.5h10v5h-10zM110 147.5h10v5h-10zM120 147.5h10v5h-10zM130 147.5h10v5h-10zM140 147.5h10v5h-10zM150 147.5h10v5h-10zM160 147.5h10v5h-10zM170 147.5h10v5h-10zM180 147.5h10v5h-10zM190 147.5h10v5h-10zM200 147.5h10v5h-10zM220 147.5h10v5h-10zM240 147.5h10v5h-10zM260 147.5h10v5h-10zM270 147.5h10v5h-10zM290 147.5h10v5h-10zM300 147.5h10v5h-10zM310 147.5h10v5h-10zM320 147.5h10v5h-10zM340 147.5h10v5h-10zM350 147.5h10v5h-10zM0 152.5h10v5h-10zM10 152.5h10v5h-10zM20 152.5h10v5h-10zM30 152.5h10v5h-10zM40 152.5h10v5h-10zM50 152.5h10v5h-10zM60 152.5h10v5h-10zM70 152.5h10v5h-10zM80 152.5h10v5h-10zM90 152.5h10v5h-10zM100 152.5h10v5h-10zM110 152.5h10v5h-10zM120 152.5h10v5h-10zM130 152.5h10v5h-10zM140 152.5h10v5h-10zM150 152.5h10v5h-10zM160 152.5h10v5h-10zM170 152.5h10v5h-10zM180 152.5h10v5h-10zM190 152.5h10v5h-10zM200 152.5h10v5h-10zM220 152.5h10v5h-10zM240 152.5h10v5h-10zM260 152.5h10v5h-10zM270 152.5h10v5h-10zM290 152.5h10v5h-10zM300 152.5h10v5h-10zM310 152.5h10v5h-10zM320 152.5h10v5h-10zM340 152.5h10v5h-10zM350 152.5h10v5h-10z"/><path fill="#cccccc" d="M220 17.5h10v5h-10zM230 17.5h10v5h-10zM300 17.5h10v5h-10zM310 17.5h10v5h-10zM70 22.5h10v5h-10zM220 22.5h10v5h-10zM260 22.5h10v5h-10zM270 22.5h10v5h-10zM300 22.5h10v5h-10zM320 22.5h10v5h-10zM70 27.5h10v5h-10zM80 27.5h10v5h-10zM110 27.5h10v5h-10zM130 27.5h10v5h-10zM150 27.5h10v5h-10zM250 27.5h10v5h-10zM270 27.5h10v5h-10zM280 27.5h10v5h-10zM290 27.5h10v5h-10zM50 32.5h10v5h-10zM90 32.5h10v5h-10zM280 32.5h10v5h-10zM290 32.5h10v5h-10zM300 32.5h10v5h-10zM90 37.5h10v5h-10zM100 37.5h10v5h-10zM120 37.5h10v5h-10zM140 37.5h10v5h-10zM280 37.5h10v5h-10zM290 37.5h10v5h-10zM50 42.5h10v5h-10zM100 42.5h10v5h-10zM150 42.5h10v5h-10zM190 42.5h10v5h-10zM320 42.5h10v5h-10zM100 47.5h10v5h-10zM140 47.5h10v5h-10zM150 47.5h10v5h-10zM320 47.5h10v5h-10zM340 47.5h10v5h-10zM10 52.5h10v5h-10zM20 52.5h10v5h-10zM80 52.5h10v5h-10zM140 52.5h10v5h-10zM260 52.5h10v5h-10zM280 57.5h10v5h-10zM290 57.5h10v5h-10zM40 62.5h10v5h-10zM80 62.5h10v5h-10zM280 62.5h10v5h-10zM80 72.5h10v5h-10zM90 72.5h10v5h-10zM70 77.5h10v5h-10zM100 87.5h10v5h-10zM120 87.5h10v5h-10zM340 87.5h10v5h-10zM0 92.5h10v5h-10zM100 92.5h10v5h-10zM350 92.5h10v5h-10zM100 102.5h10v5h-10zM0 112.5h10v5h-10zM10 112.5h10v5h-10zM110 112.5h10v5h-10zM0 117.5h10v5h-10zM10 117.5h10v5h-10zM20 117.5h10v5h-10zM50 117.5h10v5h-10zM110 117.5h10v5h-10zM190 117.5h10v5h-10zM20 122.5h10v5h-10zM30 122.5h10v5h-10zM70 122.5h10v5h-10zM140 122.5h10v5h-10zM150 122.5h10v5h-10zM180 122.5h10v5h-10zM200 122.5h10v5h-10zM310 122.5h10v5h-10zM0 127.5h10v5h-10zM30 127.5h10v5h-10zM60 127.5h10v5h-10zM150 127.5h10v5h-10zM170 127.5h10v5h-10zM180 127.5h10v5h-10zM210 127.5h10v5h-10zM230 127.5h10v5h-10zM260 127.5h10v5h-10zM270 127.5h10v5h-10zM320 127.5h10v5h-10zM60 132.5h10v5h-10zM70 132.5h10v5h-10zM120 132.5h10v5h-10zM160 132.5h10v5h-10zM210 132.5h10v5h-10zM220 132.5h10v5h-10zM240 132.5h10v5h-10zM250 132.5h10v5h-10zM260 132.5h10v5h-10zM270 132.5h10v5h-10zM290 132.5h10v5h-10zM30 137.5h10v5h-10zM50 137.5h10v5h-10zM120 137.5h10v5h-10zM160 137.5h10v5h-10zM180 137.5h10v5h-10zM190 137.5h10v5h-10zM200 137.5h10v5h-10zM220 137.5h10v5h-10zM250 137.5h10v5h-10zM270 137.5h10v5h-10zM280 137.5h10v5h-10zM310 137.5h10v5h-10zM320 137.5h10v5h-10zM330 137.5h10v5h-10zM20 142.5h10v5h-10zM40 142.5h10v5h-10zM50 142.5h10v5h-10zM60 142.5h10v5h-10zM70 142.5h10v5h-10zM130 142.5h10v5h-10zM180 142.5h10v5h-10zM190 142.5h10v5h-10zM210 142.5h10v5h-10zM250 142.5h10v5h-10zM270 142.5h10v5h-10zM280 142.5h10v5h-10zM300 142.5h10v5h-10zM310 142.5h10v5h-10zM320 142.5h10v5h-10zM330 142.5h10v5h-10z"/><path fill="#9c9c9c" d="M10 22.5h10v5h-10zM60 22.5h10v5h-10zM230 22.5h10v5h-10zM280 22.5h10v5h-10zM310 22.5h10v5h-10zM60 27.5h10v5h-10zM220 27.5h10v5h-10zM230 27.5h10v5h-10zM260 27.5h10v5h-10zM300 27.5h10v5h-10zM70 32.5h10v5h-10zM80 32.5h10v5h-10zM100 32.5h10v5h-10zM110 32.5h10v5h-10zM130 32.5h10v5h-10zM240 32.5h10v5h-10zM250 32.5h10v5h-10zM270 32.5h10v5h-10zM50 37.5h10v5h-10zM80 37.5h10v5h-10zM110 37.5h10v5h-10zM130 37.5h10v5h-10zM150 37.5h10v5h-10zM270 37.5h10v5h-10zM300 37.5h10v5h-10zM310 37.5h10v5h-10zM90 42.5h10v5h-10zM110 42.5h10v5h-10zM140 42.5h10v5h-10zM160 42.5h10v5h-10zM250 42.5h10v5h-10zM260 42.5h10v5h-10zM300 42.5h10v5h-10zM50 47.5h10v5h-10zM80 47.5h10v5h-10zM110 47.5h10v5h-10zM160 47.5h10v5h-10zM170 47.5h10v5h-10zM190 47.5h10v5h-10zM250 47.5h10v5h-10zM260 47.5h10v5h-10zM270 47.5h10v5h-10zM280 47.5h10v5h-10zM150 52.5h10v5h-10zM170 52.5h10v5h-10zM250 52.5h10v5h-10zM270 52.5h10v5h-10zM290 52.5h10v5h-10zM300 52.5h10v5h-10zM310 52.5h10v5h-10zM320 52.5h10v5h-10zM330 52.5h10v5h-10zM70 57.5h10v5h-10zM80 57.5h10v5h-10zM260 57.5h10v5h-10zM270 57.5h10v5h-10zM310 57.5h10v5h-10zM70 62.5h10v5h-10zM250 62.5h10v5h-10zM260 62.5h10v5h-10zM80 67.5h10v5h-10zM250 67.5h10v5h-10zM270 67.5h10v5h-10zM70 72.5h10v5h-10zM230 72.5h10v5h-10zM240 72.5h10v5h-10zM250 72.5h10v5h-10zM260 72.5h10v5h-10zM10 77.5h10v5h-10zM20 77.5h10v5h-10zM60 77.5h10v5h-10zM80 77.5h10v5h-10zM90 77.5h10v5h-10zM100 77.5h10v5h-10zM130 77.5h10v5h-10zM160 77.5h10v5h-10zM310 77.5h10v5h-10zM10 82.5h10v5h-10zM20 82.5h10v5h-10zM30 82.5h10v5h-10zM40 82.5h10v5h-10zM50 82.5h10v5h-10zM60 82.5h10v5h-10zM70 82.5h10v5h-10zM80 82.5h10v5h-10zM90 82.5h10v5h-10zM100 82.5h10v5h-10zM110 82.5h10v5h-10zM120 82.5h10v5h-10zM130 82.5h10v5h-10zM140 82.5h10v5h-10zM150 82.5h10v5h-10zM160 82.5h10v5h-10zM310 82.5h10v5h-10zM130 87.5h10v5h-10zM200 87.5h10v5h-10zM280 87.5h10v5h-10zM290 87.5h10v5h-10zM300 87.5h10v5h-10zM350 87.5h10v5h-10zM10 92.5h10v5h-10zM110 92.5h10v5h-10zM310 92.5h10v5h-10zM340 92.5h10v5h-10zM0 97.5h10v5h-10zM100 97.5h10v5h-10zM300 107.5h10v5h-10zM310 107.5h10v5h-10zM20 112.5h10v5h-10zM300 112.5h10v5h-10zM30 117.5h10v5h-10zM300 117.5h10v5h-10zM0 122.5h10v5h-10zM10 122.5h10v5h-10zM40 122.5h10v5h-10zM100 122.5h10v5h-10zM130 122.5h10v5h-10zM160 122.5h10v5h-10zM170 122.5h10v5h-10zM230 122.5h10v5h-10zM280 122.5h10v5h-10zM320 122.5h10v5h-10zM330 122.5h10v5h-10zM340 122.5h10v5h-10zM40 127.5h10v5h-10zM50 127.5h10v5h-10zM70 127.5h10v5h-10zM90 127.5h10v5h-10zM100 127.5h10v5h-10zM120 127.5h10v5h-10zM220 127.5h10v5h-10zM240 127.5h10v5h-10zM250 127.5h10v5h-10zM280 127.5h10v5h-10zM310 127.5h10v5h-10zM330 127.5h10v5h-10zM350 127.5h10v5h-10zM40 132.5h10v5h-10zM80 132.5h10v5h-10zM110 132.5h10v5h-10zM150 132.5h10v5h-10zM280 132.5h10v5h-10zM330 132.5h10v5h-10zM40 137.5h10v5h-10zM80 137.5h10v5h-10zM90 137.5h10v5h-10zM240 137.5h10v5h-10zM260 137.5h10v5h-10zM30 142.5h10v5h-10zM90 142.5h10v5h-10zM120 142.5h10v5h-10zM160 142.5h10v5h-10zM170 142.5h10v5h-10zM200 142.5h10v5h-10zM220 142.5h10v5h-10zM240 142.5h10v5h-10zM260 142.5h10v5h-10zM340 142.5h10v5h-10zM350 142.5h10v5h-10z"/><path fill="#545454" d="M10 27.5h10v5h-10zM150 32.5h10v5h-10zM170 32.5h10v5h-10zM60 37.5h10v5h-10zM210 37.5h10v5h-10zM60 42.5h10v5h-10zM80 42.5h10v5h-10zM240 42.5h10v5h-10zM280 42.5h10v5h-10zM120 47.5h10v5h-10zM180 47.5h10v5h-10zM70 52.5h10v5h-10zM160 52.5h10v5h-10zM180 52.5h10v5h-10zM240 52.5h10v5h-10zM0 57.5h10v5h-10zM10 57.5h10v5h-10zM30 57.5h10v5h-10zM60 57.5h10v5h-10zM240 57.5h10v5h-10zM320 57.5h10v5h-10zM270 62.5h10v5h-10zM40 67.5h10v5h-10zM50 67.5h10v5h-10zM70 67.5h10v5h-10zM260 67.5h10v5h-10zM290 67.5h10v5h-10zM100 72.5h10v5h-10zM140 72.5h10v5h-10zM150 72.5h10v5h-10zM170 72.5h10v5h-10zM280 72.5h10v5h-10zM290 72.5h10v5h-10zM320 72.5h10v5h-10zM180 77.5h10v5h-10zM190 77.5h10v5h-10zM200 77.5h10v5h-10zM260 77.5h10v5h-10zM270 77.5h10v5h-10zM290 77.5h10v5h-10zM340 77.5h10v5h-10zM190 82.5h10v5h-10zM210 82.5h10v5h-10zM270 82.5h10v5h-10zM330 82.5h10v5h-10zM0 87.5h10v5h-10zM80 87.5h10v5h-10zM240 87.5h10v5h-10zM210 92.5h10v5h-10zM240 92.5h10v5h-10zM110 97.5h10v5h-10zM210 97.5h10v5h-10zM270 97.5h10v5h-10zM290 97.5h10v5h-10zM350 97.5h10v5h-10zM280 102.5h10v5h-10zM100 107.5h10v5h-10zM180 107.5h10v5h-10zM280 107.5h10v5h-10zM290 107.5h10v5h-10zM330 107.5h10v5h-10zM190 112.5h10v5h-10zM290 112.5h10v5h-10zM310 112.5h10v5h-10zM340 112.5h10v5h-10zM60 117.5h10v5h-10zM170 117.5h10v5h-10zM230 117.5h10v5h-10zM240 117.5h10v5h-10zM280 117.5h10v5h-10zM290 117.5h10v5h-10zM330 117.5h10v5h-10zM210 122.5h10v5h-10zM260 122.5h10v5h-10zM100 137.5h10v5h-10z"/><path fill="#6e6e6e" d="M180 27.5h10v5h-10zM310 27.5h10v5h-10zM60 32.5h10v5h-10zM220 32.5h10v5h-10zM260 32.5h10v5h-10zM310 32.5h10v5h-10zM250 37.5h10v5h-10zM260 37.5h10v5h-10zM120 42.5h10v5h-10zM130 42.5h10v5h-10zM170 42.5h10v5h-10zM200 42.5h10v5h-10zM270 42.5h10v5h-10zM290 42.5h10v5h-10zM130 47.5h10v5h-10zM240 47.5h10v5h-10zM290 47.5h10v5h-10zM330 47.5h10v5h-10zM100 52.5h10v5h-10zM120 52.5h10v5h-10zM130 52.5h10v5h-10zM280 52.5h10v5h-10zM340 52.5h10v5h-10zM350 52.5h10v5h-10zM250 57.5h10v5h-10zM300 57.5h10v5h-10zM60 62.5h10v5h-10zM90 62.5h10v5h-10zM90 67.5h10v5h-10zM280 67.5h10v5h-10zM270 72.5h10v5h-10zM310 72.5h10v5h-10zM0 77.5h10v5h-10zM30 77.5h10v5h-10zM50 77.5h10v5h-10zM110 77.5h10v5h-10zM120 77.5h10v5h-10zM140 77.5h10v5h-10zM150 77.5h10v5h-10zM170 77.5h10v5h-10zM230 77.5h10v5h-10zM240 77.5h10v5h-10zM250 77.5h10v5h-10zM300 77.5h10v5h-10zM320 77.5h10v5h-10zM350 77.5h10v5h-10zM0 82.5h10v5h-10zM170 82.5h10v5h-10zM180 82.5h10v5h-10zM200 82.5h10v5h-10zM230 82.5h10v5h-10zM240 82.5h10v5h-10zM250 82.5h10v5h-10zM260 82.5h10v5h-10zM280 82.5h10v5h-10zM290 82.5h10v5h-10zM300 82.5h10v5h-10zM320 82.5h10v5h-10zM340 82.5h10v5h-10zM350 82.5h10v5h-10zM110 87.5h10v5h-10zM190 87.5h10v5h-10zM230 87.5h10v5h-10zM310 87.5h10v5h-10zM260 92.5h10v5h-10zM280 92.5h10v5h-10zM290 92.5h10v5h-10zM10 97.5h10v5h-10zM280 97.5h10v5h-10zM300 97.5h10v5h-10zM330 112.5h10v5h-10zM40 117.5h10v5h-10zM70 117.5h10v5h-10zM100 117.5h10v5h-10zM150 117.5h10v5h-10zM340 117.5h10v5h-10zM80 122.5h10v5h-10zM90 122.5h10v5h-10zM120 122.5h10v5h-10zM220 122.5h10v5h-10zM240 122.5h10v5h-10zM250 122.5h10v5h-10zM270 122.5h10v5h-10zM350 122.5h10v5h-10zM80 127.5h10v5h-10zM160 127.5h10v5h-10zM340 127.5h10v5h-10zM50 132.5h10v5h-10zM90 132.5h10v5h-10zM100 132.5h10v5h-10zM230 132.5h10v5h-10zM110 137.5h10v5h-10zM230 137.5h10v5h-10zM110 142.5h10v5h-10zM230 142.5h10v5h-10z"/><path fill="#333333" d="M160 32.5h10v5h-10zM230 32.5h10v5h-10zM70 37.5h10v5h-10zM160 37.5h10v5h-10zM170 37.5h10v5h-10zM180 42.5h10v5h-10zM210 42.5h10v5h-10zM60 47.5h10v5h-10zM70 47.5h10v5h-10zM200 47.5h10v5h-10zM60 52.5h10v5h-10zM110 52.5h10v5h-10zM190 52.5h10v5h-10zM90 57.5h10v5h-10zM130 57.5h10v5h-10zM100 62.5h10v5h-10zM240 62.5h10v5h-10zM290 62.5h10v5h-10zM300 62.5h10v5h-10zM60 67.5h10v5h-10zM100 67.5h10v5h-10zM170 67.5h10v5h-10zM240 67.5h10v5h-10zM60 72.5h10v5h-10zM110 72.5h10v5h-10zM160 72.5h10v5h-10zM220 72.5h10v5h-10zM300 72.5h10v5h-10zM40 77.5h10v5h-10zM210 77.5h10v5h-10zM220 77.5h10v5h-10zM280 77.5h10v5h-10zM330 77.5h10v5h-10zM90 87.5h10v5h-10zM180 87.5h10v5h-10zM220 87.5h10v5h-10zM250 87.5h10v5h-10zM320 87.5h10v5h-10zM330 87.5h10v5h-10zM80 92.5h10v5h-10zM200 92.5h10v5h-10zM300 92.5h10v5h-10zM330 92.5h10v5h-10zM50 97.5h10v5h-10zM80 97.5h10v5h-10zM180 97.5h10v5h-10zM200 97.5h10v5h-10zM230 97.5h10v5h-10zM310 97.5h10v5h-10zM330 97.5h10v5h-10zM340 97.5h10v5h-10zM10 102.5h10v5h-10zM20 102.5h10v5h-10zM50 102.5h10v5h-10zM80 102.5h10v5h-10zM110 102.5h10v5h-10zM160 102.5h10v5h-10zM170 102.5h10v5h-10zM200 102.5h10v5h-10zM240 102.5h10v5h-10zM250 102.5h10v5h-10zM290 102.5h10v5h-10zM320 102.5h10v5h-10zM350 102.5h10v5h-10zM0 107.5h10v5h-10zM60 107.5h10v5h-10zM80 107.5h10v5h-10zM110 107.5h10v5h-10zM160 107.5h10v5h-10zM170 107.5h10v5h-10zM240 107.5h10v5h-10zM250 107.5h10v5h-10zM260 107.5h10v5h-10zM270 107.5h10v5h-10zM30 112.5h10v5h-10zM60 112.5h10v5h-10zM70 112.5h10v5h-10zM90 112.5h10v5h-10zM100 112.5h10v5h-10zM140 112.5h10v5h-10zM150 112.5h10v5h-10zM160 112.5h10v5h-10zM170 112.5h10v5h-10zM240 112.5h10v5h-10zM250 112.5h10v5h-10zM260 112.5h10v5h-10zM270 112.5h10v5h-10zM280 112.5h10v5h-10zM350 112.5h10v5h-10zM80 117.5h10v5h-10zM90 117.5h10v5h-10zM120 117.5h10v5h-10zM130 117.5h10v5h-10zM140 117.5h10v5h-10zM160 117.5h10v5h-10zM180 117.5h10v5h-10zM220 117.5h10v5h-10zM250 117.5h10v5h-10zM260 117.5h10v5h-10zM270 117.5h10v5h-10zM310 117.5h10v5h-10zM320 117.5h10v5h-10zM350 117.5h10v5h-10z"/><path fill="#1a1a1a" d="M220 37.5h10v5h-10zM240 37.5h10v5h-10zM220 42.5h10v5h-10zM210 47.5h10v5h-10zM200 52.5h10v5h-10zM210 52.5h10v5h-10zM20 57.5h10v5h-10zM100 57.5h10v5h-10zM110 57.5h10v5h-10zM120 57.5h10v5h-10zM140 57.5h10v5h-10zM150 57.5h10v5h-10zM330 57.5h10v5h-10zM340 57.5h10v5h-10zM350 57.5h10v5h-10zM0 62.5h10v5h-10zM10 62.5h10v5h-10zM20 62.5h10v5h-10zM30 62.5h10v5h-10zM130 62.5h10v5h-10zM140 62.5h10v5h-10zM310 62.5h10v5h-10zM320 62.5h10v5h-10zM350 62.5h10v5h-10zM10 67.5h10v5h-10zM30 67.5h10v5h-10zM140 67.5h10v5h-10zM300 67.5h10v5h-10zM320 67.5h10v5h-10zM330 67.5h10v5h-10zM340 67.5h10v5h-10zM350 67.5h10v5h-10zM0 72.5h10v5h-10zM10 72.5h10v5h-10zM30 72.5h10v5h-10zM40 72.5h10v5h-10zM50 72.5h10v5h-10zM130 72.5h10v5h-10zM330 72.5h10v5h-10zM340 72.5h10v5h-10zM350 72.5h10v5h-10zM220 82.5h10v5h-10zM10 87.5h10v5h-10zM20 87.5h10v5h-10zM30 87.5h10v5h-10zM40 87.5h10v5h-10zM50 87.5h10v5h-10zM70 87.5h10v5h-10zM140 87.5h10v5h-10zM150 87.5h10v5h-10zM160 87.5h10v5h-10zM170 87.5h10v5h-10zM210 87.5h10v5h-10zM260 87.5h10v5h-10zM20 92.5h10v5h-10zM30 92.5h10v5h-10zM40 92.5h10v5h-10zM50 92.5h10v5h-10zM60 92.5h10v5h-10zM70 92.5h10v5h-10zM140 92.5h10v5h-10zM150 92.5h10v5h-10zM160 92.5h10v5h-10zM170 92.5h10v5h-10zM180 92.5h10v5h-10zM190 92.5h10v5h-10zM220 92.5h10v5h-10zM230 92.5h10v5h-10zM250 92.5h10v5h-10zM270 92.5h10v5h-10zM320 92.5h10v5h-10zM20 97.5h10v5h-10zM30 97.5h10v5h-10zM40 97.5h10v5h-10zM60 97.5h10v5h-10zM70 97.5h10v5h-10zM140 97.5h10v5h-10zM150 97.5h10v5h-10zM160 97.5h10v5h-10zM170 97.5h10v5h-10zM220 97.5h10v5h-10zM240 97.5h10v5h-10zM250 97.5h10v5h-10zM260 97.5h10v5h-10zM320 97.5h10v5h-10zM0 102.5h10v5h-10zM30 102.5h10v5h-10zM40 102.5h10v5h-10zM60 102.5h10v5h-10zM70 102.5h10v5h-10zM140 102.5h10v5h-10zM150 102.5h10v5h-10zM180 102.5h10v5h-10zM210 102.5h10v5h-10zM220 102.5h10v5h-10zM230 102.5h10v5h-10zM260 102.5h10v5h-10zM270 102.5h10v5h-10zM300 102.5h10v5h-10zM310 102.5h10v5h-10zM330 102.5h10v5h-10zM340 102.5h10v5h-10zM10 107.5h10v5h-10zM20 107.5h10v5h-10zM30 107.5h10v5h-10zM40 107.5h10v5h-10zM50 107.5h10v5h-10zM70 107.5h10v5h-10zM140 107.5h10v5h-10zM150 107.5h10v5h-10zM210 107.5h10v5h-10zM230 107.5h10v5h-10zM320 107.5h10v5h-10zM340 107.5h10v5h-10zM350 107.5h10v5h-10zM40 112.5h10v5h-10zM50 112.5h10v5h-10zM80 112.5h10v5h-10zM120 112.5h10v5h-10zM130 112.5h10v5h-10zM210 112.5h10v5h-10zM220 112.5h10v5h-10zM230 112.5h10v5h-10zM320 112.5h10v5h-10zM210 117.5h10v5h-10zM100 142.5h10v5h-10z"/><path fill="#080808" d="M230 37.5h10v5h-10zM230 42.5h10v5h-10zM220 47.5h10v5h-10zM220 52.5h10v5h-10zM110 62.5h10v5h-10zM120 62.5h10v5h-10zM150 62.5h10v5h-10zM330 62.5h10v5h-10zM340 62.5h10v5h-10zM0 67.5h10v5h-10zM20 67.5h10v5h-10zM110 67.5h10v5h-10zM120 67.5h10v5h-10zM130 67.5h10v5h-10zM150 67.5h10v5h-10zM310 67.5h10v5h-10zM20 72.5h10v5h-10zM120 72.5h10v5h-10zM60 87.5h10v5h-10zM270 87.5h10v5h-10zM190 97.5h10v5h-10zM220 107.5h10v5h-10z"/><path fill="#000000" d="M70 42.5h10v5h-10zM230 47.5h10v5h-10zM230 52.5h10v5h-10zM160 57.5h10v5h-10zM170 57.5h10v5h-10zM180 57.5h10v5h-10zM190 57.5h10v5h-10zM200 57.5h10v5h-10zM210 57.5h10v5h-10zM220 57.5h10v5h-10zM230 57.5h10v5h-10zM160 62.5h10v5h-10zM170 62.5h10v5h-10zM180 62.5h10v5h-10zM190 62.5h10v5h-10zM200 62.5h10v5h-10zM210 62.5h10v5h-10zM220 62.5h10v5h-10zM230 62.5h10v5h-10zM160 67.5h10v5h-10zM180 67.5h10v5h-10zM190 67.5h10v5h-10zM200 67.5h10v5h-10zM210 67.5h10v5h-10zM220 67.5h10v5h-10zM230 67.5h10v5h-10zM180 72.5h10v5h-10zM190 72.5h10v5h-10zM200 72.5h10v5h-10zM210 72.5h10v5h-10zM120 92.5h10v5h-10zM130 92.5h10v5h-10zM120 97.5h10v5h-10zM130 97.5h10v5h-10zM120 102.5h10v5h-10zM130 102.5h10v5h-10zM190 102.5h10v5h-10zM120 107.5h10v5h-10zM130 107.5h10v5h-10zM190 107.5h10v5h-10zM200 107.5h10v5h-10zM200 112.5h10v5h-10zM200 117.5h10v5h-10zM210 147.5h10v5h-10zM230 147.5h10v5h-10zM250 147.5h10v5h-10zM280 147.5h10v5h-10zM330 147.5h10v5h-10zM210 152.5h10v5h-10zM230 152.5h10v5h-10zM250 152.5h10v5h-10zM280 152.5h10v5h-10zM330 152.5h10v5h-10z"/></g></mask><clipPath id="cpc"><path d="M0 18.5 L360 18.5 L360.00 151.08 L350.22 153.30 L350.22 147.70 L325.59 153.30 L325.59 147.70 L300.96 153.30 L300.96 147.70 L276.33 153.30 L276.33 147.70 L251.70 153.30 L251.70 147.70 L227.07 153.30 L227.07 147.70 L202.44 153.30 L202.44 147.70 L177.81 153.30 L177.81 147.70 L153.18 153.30 L153.18 147.70 L128.55 153.30 L128.55 147.70 L103.92 153.30 L103.92 147.70 L79.29 153.30 L79.29 147.70 L54.66 153.30 L54.66 147.70 L30.03 153.30 L30.03 147.70 L5.40 153.30 L5.40 147.70 L0.00 148.93 Z"/></clipPath></defs><g clip-path="url(#cpc)"><g mask="url(#mkc)"><g filter="url(#blc)"><path fill="#a00000" d="M0 17.5h10v5h-10zM60 17.5h10v5h-10zM70 17.5h10v5h-10zM80 17.5h10v5h-10zM90 17.5h10v5h-10zM100 17.5h10v5h-10zM190 17.5h10v5h-10zM200 17.5h10v5h-10zM240 17.5h10v5h-10zM250 17.5h10v5h-10zM330 17.5h10v5h-10zM80 22.5h10v5h-10zM90 22.5h10v5h-10zM190 22.5h10v5h-10zM200 22.5h10v5h-10zM0 27.5h10v5h-10zM100 27.5h10v5h-10zM320 27.5h10v5h-10zM310 47.5h10v5h-10zM340 132.5h10v5h-10zM10 137.5h10v5h-10zM290 137.5h10v5h-10zM190 147.5h10v5h-10zM190 152.5h10v5h-10z"/><path fill="#f03008" d="M10 17.5h10v5h-10zM50 17.5h10v5h-10zM110 17.5h10v5h-10zM160 17.5h10v5h-10zM210 17.5h10v5h-10zM260 17.5h10v5h-10zM320 17.5h10v5h-10zM340 17.5h10v5h-10zM350 17.5h10v5h-10zM0 22.5h10v5h-10zM100 22.5h10v5h-10zM140 22.5h10v5h-10zM160 22.5h10v5h-10zM180 22.5h10v5h-10zM240 22.5h10v5h-10zM330 22.5h10v5h-10zM340 22.5h10v5h-10zM20 27.5h10v5h-10zM90 27.5h10v5h-10zM110 27.5h10v5h-10zM140 27.5h10v5h-10zM150 27.5h10v5h-10zM170 27.5h10v5h-10zM180 27.5h10v5h-10zM240 27.5h10v5h-10zM310 27.5h10v5h-10zM330 27.5h10v5h-10zM350 27.5h10v5h-10zM0 32.5h10v5h-10zM10 32.5h10v5h-10zM20 32.5h10v5h-10zM30 32.5h10v5h-10zM40 32.5h10v5h-10zM140 32.5h10v5h-10zM180 32.5h10v5h-10zM280 32.5h10v5h-10zM320 32.5h10v5h-10zM340 32.5h10v5h-10zM350 32.5h10v5h-10zM0 37.5h10v5h-10zM10 37.5h10v5h-10zM20 37.5h10v5h-10zM40 37.5h10v5h-10zM140 37.5h10v5h-10zM180 37.5h10v5h-10zM320 37.5h10v5h-10zM330 37.5h10v5h-10zM350 37.5h10v5h-10zM0 42.5h10v5h-10zM20 42.5h10v5h-10zM30 42.5h10v5h-10zM40 42.5h10v5h-10zM130 42.5h10v5h-10zM140 42.5h10v5h-10zM160 42.5h10v5h-10zM310 42.5h10v5h-10zM320 42.5h10v5h-10zM340 42.5h10v5h-10zM350 42.5h10v5h-10zM10 47.5h10v5h-10zM30 47.5h10v5h-10zM40 47.5h10v5h-10zM50 47.5h10v5h-10zM130 47.5h10v5h-10zM300 47.5h10v5h-10zM320 47.5h10v5h-10zM340 47.5h10v5h-10zM350 47.5h10v5h-10zM30 52.5h10v5h-10zM40 52.5h10v5h-10zM50 52.5h10v5h-10zM120 52.5h10v5h-10zM130 52.5h10v5h-10zM150 52.5h10v5h-10zM300 52.5h10v5h-10zM350 52.5h10v5h-10zM40 57.5h10v5h-10zM50 57.5h10v5h-10zM40 62.5h10v5h-10zM50 62.5h10v5h-10zM90 92.5h10v5h-10zM90 97.5h10v5h-10zM90 102.5h10v5h-10zM100 102.5h10v5h-10zM90 107.5h10v5h-10zM180 112.5h10v5h-10zM190 117.5h10v5h-10zM0 122.5h10v5h-10zM80 122.5h10v5h-10zM90 122.5h10v5h-10zM140 122.5h10v5h-10zM170 122.5h10v5h-10zM180 122.5h10v5h-10zM190 122.5h10v5h-10zM200 122.5h10v5h-10zM220 122.5h10v5h-10zM230 122.5h10v5h-10zM240 122.5h10v5h-10zM250 122.5h10v5h-10zM270 122.5h10v5h-10zM280 122.5h10v5h-10zM290 122.5h10v5h-10zM300 122.5h10v5h-10zM0 127.5h10v5h-10zM10 127.5h10v5h-10zM20 127.5h10v5h-10zM30 127.5h10v5h-10zM80 127.5h10v5h-10zM90 127.5h10v5h-10zM130 127.5h10v5h-10zM140 127.5h10v5h-10zM170 127.5h10v5h-10zM180 127.5h10v5h-10zM190 127.5h10v5h-10zM200 127.5h10v5h-10zM280 127.5h10v5h-10zM290 127.5h10v5h-10zM300 127.5h10v5h-10zM310 127.5h10v5h-10zM320 127.5h10v5h-10zM340 127.5h10v5h-10zM350 127.5h10v5h-10zM0 132.5h10v5h-10zM10 132.5h10v5h-10zM20 132.5h10v5h-10zM30 132.5h10v5h-10zM40 132.5h10v5h-10zM80 132.5h10v5h-10zM90 132.5h10v5h-10zM130 132.5h10v5h-10zM140 132.5h10v5h-10zM160 132.5h10v5h-10zM170 132.5h10v5h-10zM180 132.5h10v5h-10zM190 132.5h10v5h-10zM230 132.5h10v5h-10zM250 132.5h10v5h-10zM290 132.5h10v5h-10zM300 132.5h10v5h-10zM310 132.5h10v5h-10zM320 132.5h10v5h-10zM330 132.5h10v5h-10zM350 132.5h10v5h-10zM0 137.5h10v5h-10zM20 137.5h10v5h-10zM30 137.5h10v5h-10zM40 137.5h10v5h-10zM90 137.5h10v5h-10zM130 137.5h10v5h-10zM140 137.5h10v5h-10zM150 137.5h10v5h-10zM160 137.5h10v5h-10zM170 137.5h10v5h-10zM180 137.5h10v5h-10zM190 137.5h10v5h-10zM300 137.5h10v5h-10zM320 137.5h10v5h-10zM340 137.5h10v5h-10zM350 137.5h10v5h-10zM0 142.5h10v5h-10zM10 142.5h10v5h-10zM130 142.5h10v5h-10zM140 142.5h10v5h-10zM150 142.5h10v5h-10zM290 142.5h10v5h-10zM300 142.5h10v5h-10zM150 147.5h10v5h-10zM170 147.5h10v5h-10zM240 147.5h10v5h-10zM290 147.5h10v5h-10zM300 147.5h10v5h-10zM150 152.5h10v5h-10zM170 152.5h10v5h-10zM240 152.5h10v5h-10zM290 152.5h10v5h-10zM300 152.5h10v5h-10z"/><path fill="#ff9410" d="M20 17.5h10v5h-10zM30 17.5h10v5h-10zM40 17.5h10v5h-10zM150 17.5h10v5h-10zM170 17.5h10v5h-10zM180 17.5h10v5h-10zM270 17.5h10v5h-10zM150 22.5h10v5h-10zM170 22.5h10v5h-10zM210 22.5h10v5h-10zM350 22.5h10v5h-10zM30 27.5h10v5h-10zM120 27.5h10v5h-10zM160 27.5h10v5h-10zM190 27.5h10v5h-10zM200 27.5h10v5h-10zM210 27.5h10v5h-10zM340 27.5h10v5h-10zM120 32.5h10v5h-10zM190 32.5h10v5h-10zM200 32.5h10v5h-10zM210 32.5h10v5h-10zM240 32.5h10v5h-10zM330 32.5h10v5h-10zM30 37.5h10v5h-10zM130 37.5h10v5h-10zM150 37.5h10v5h-10zM190 37.5h10v5h-10zM200 37.5h10v5h-10zM280 37.5h10v5h-10zM310 37.5h10v5h-10zM340 37.5h10v5h-10zM10 42.5h10v5h-10zM120 42.5h10v5h-10zM150 42.5h10v5h-10zM170 42.5h10v5h-10zM330 42.5h10v5h-10zM0 47.5h10v5h-10zM20 47.5h10v5h-10zM110 47.5h10v5h-10zM140 47.5h10v5h-10zM150 47.5h10v5h-10zM160 47.5h10v5h-10zM170 47.5h10v5h-10zM330 47.5h10v5h-10zM100 52.5h10v5h-10zM140 52.5h10v5h-10zM320 52.5h10v5h-10zM280 57.5h10v5h-10zM290 57.5h10v5h-10zM280 62.5h10v5h-10zM110 112.5h10v5h-10zM0 117.5h10v5h-10zM110 117.5h10v5h-10zM10 122.5h10v5h-10zM130 122.5h10v5h-10zM310 122.5h10v5h-10zM40 127.5h10v5h-10zM210 127.5h10v5h-10zM220 127.5h10v5h-10zM230 127.5h10v5h-10zM250 127.5h10v5h-10zM200 132.5h10v5h-10zM240 132.5h10v5h-10zM50 137.5h10v5h-10zM200 137.5h10v5h-10zM230 137.5h10v5h-10zM240 137.5h10v5h-10zM250 137.5h10v5h-10zM330 137.5h10v5h-10zM40 142.5h10v5h-10zM180 142.5h10v5h-10zM190 142.5h10v5h-10zM230 142.5h10v5h-10zM240 142.5h10v5h-10zM320 142.5h10v5h-10zM330 142.5h10v5h-10zM350 142.5h10v5h-10zM0 147.5h10v5h-10zM40 147.5h10v5h-10zM50 147.5h10v5h-10zM180 147.5h10v5h-10zM200 147.5h10v5h-10zM220 147.5h10v5h-10zM0 152.5h10v5h-10zM40 152.5h10v5h-10zM50 152.5h10v5h-10zM180 152.5h10v5h-10zM200 152.5h10v5h-10zM220 152.5h10v5h-10z"/><path fill="#f0e020" d="M120 17.5h10v5h-10zM130 17.5h10v5h-10zM140 17.5h10v5h-10zM20 22.5h10v5h-10zM30 22.5h10v5h-10zM40 22.5h10v5h-10zM50 22.5h10v5h-10zM110 22.5h10v5h-10zM120 22.5h10v5h-10zM130 22.5h10v5h-10zM320 22.5h10v5h-10zM40 27.5h10v5h-10zM50 27.5h10v5h-10zM80 27.5h10v5h-10zM130 27.5h10v5h-10zM280 27.5h10v5h-10zM50 32.5h10v5h-10zM70 32.5h10v5h-10zM90 32.5h10v5h-10zM100 32.5h10v5h-10zM130 32.5h10v5h-10zM250 32.5h10v5h-10zM110 37.5h10v5h-10zM120 37.5h10v5h-10zM270 37.5h10v5h-10zM300 37.5h10v5h-10zM50 42.5h10v5h-10zM100 42.5h10v5h-10zM190 42.5h10v5h-10zM260 42.5h10v5h-10zM290 42.5h10v5h-10zM80 47.5h10v5h-10zM90 47.5h10v5h-10zM100 47.5h10v5h-10zM190 47.5h10v5h-10zM290 47.5h10v5h-10zM80 52.5h10v5h-10zM90 52.5h10v5h-10zM170 52.5h10v5h-10zM0 112.5h10v5h-10zM320 122.5h10v5h-10zM260 132.5h10v5h-10zM260 137.5h10v5h-10zM20 142.5h10v5h-10zM30 142.5h10v5h-10zM50 142.5h10v5h-10zM250 142.5h10v5h-10zM260 142.5h10v5h-10zM340 142.5h10v5h-10zM70 147.5h10v5h-10zM340 147.5h10v5h-10zM70 152.5h10v5h-10zM340 152.5h10v5h-10z"/><path fill="#98f060" d="M220 17.5h10v5h-10zM230 17.5h10v5h-10zM280 17.5h10v5h-10zM290 17.5h10v5h-10zM300 17.5h10v5h-10zM310 17.5h10v5h-10zM70 22.5h10v5h-10zM220 22.5h10v5h-10zM260 22.5h10v5h-10zM270 22.5h10v5h-10zM280 22.5h10v5h-10zM310 22.5h10v5h-10zM60 27.5h10v5h-10zM70 27.5h10v5h-10zM220 27.5h10v5h-10zM260 27.5h10v5h-10zM270 27.5h10v5h-10zM60 32.5h10v5h-10zM80 32.5h10v5h-10zM110 32.5h10v5h-10zM220 32.5h10v5h-10zM260 32.5h10v5h-10zM270 32.5h10v5h-10zM290 32.5h10v5h-10zM300 32.5h10v5h-10zM50 37.5h10v5h-10zM80 37.5h10v5h-10zM90 37.5h10v5h-10zM290 37.5h10v5h-10zM90 42.5h10v5h-10zM110 42.5h10v5h-10zM200 42.5h10v5h-10zM250 42.5h10v5h-10zM300 42.5h10v5h-10zM260 47.5h10v5h-10zM0 52.5h10v5h-10zM10 52.5h10v5h-10zM280 52.5h10v5h-10zM290 52.5h10v5h-10zM330 52.5h10v5h-10zM340 52.5h10v5h-10zM70 57.5h10v5h-10zM80 57.5h10v5h-10zM300 57.5h10v5h-10zM310 57.5h10v5h-10zM60 62.5h10v5h-10zM270 67.5h10v5h-10zM240 72.5h10v5h-10zM0 77.5h10v5h-10zM20 77.5h10v5h-10zM30 77.5h10v5h-10zM110 77.5h10v5h-10zM150 77.5h10v5h-10zM170 77.5h10v5h-10zM0 82.5h10v5h-10zM20 82.5h10v5h-10zM40 82.5h10v5h-10zM110 82.5h10v5h-10zM150 82.5h10v5h-10zM170 82.5h10v5h-10zM280 82.5h10v5h-10zM100 87.5h10v5h-10zM190 87.5h10v5h-10zM280 87.5h10v5h-10zM300 87.5h10v5h-10zM310 87.5h10v5h-10zM100 92.5h10v5h-10zM110 92.5h10v5h-10zM290 92.5h10v5h-10zM310 92.5h10v5h-10zM100 97.5h10v5h-10zM280 97.5h10v5h-10zM10 112.5h10v5h-10zM20 112.5h10v5h-10zM300 112.5h10v5h-10zM330 112.5h10v5h-10zM10 117.5h10v5h-10zM20 117.5h10v5h-10zM30 117.5h10v5h-10zM40 117.5h10v5h-10zM70 117.5h10v5h-10zM100 117.5h10v5h-10zM150 117.5h10v5h-10zM300 117.5h10v5h-10zM20 122.5h10v5h-10zM30 122.5h10v5h-10zM40 122.5h10v5h-10zM100 122.5h10v5h-10zM330 122.5h10v5h-10zM340 122.5h10v5h-10zM350 122.5h10v5h-10zM70 127.5h10v5h-10zM330 127.5h10v5h-10zM50 132.5h10v5h-10zM60 142.5h10v5h-10zM160 142.5h10v5h-10zM200 142.5h10v5h-10zM10 147.5h10v5h-10zM20 147.5h10v5h-10zM30 147.5h10v5h-10zM100 147.5h10v5h-10zM130 147.5h10v5h-10zM160 147.5h10v5h-10zM350 147.5h10v5h-10zM10 152.5h10v5h-10zM20 152.5h10v5h-10zM30 152.5h10v5h-10zM100 152.5h10v5h-10zM130 152.5h10v5h-10zM160 152.5h10v5h-10zM350 152.5h10v5h-10z"/><path fill="#3c9cf6" d="M10 22.5h10v5h-10zM60 22.5h10v5h-10zM250 22.5h10v5h-10zM290 22.5h10v5h-10zM300 22.5h10v5h-10zM250 37.5h10v5h-10zM270 47.5h10v5h-10zM90 67.5h10v5h-10zM80 72.5h10v5h-10zM90 72.5h10v5h-10zM90 77.5h10v5h-10zM250 77.5h10v5h-10zM310 77.5h10v5h-10zM90 82.5h10v5h-10zM310 82.5h10v5h-10zM120 87.5h10v5h-10zM340 87.5h10v5h-10zM350 87.5h10v5h-10zM0 92.5h10v5h-10zM280 92.5h10v5h-10zM340 92.5h10v5h-10zM350 92.5h10v5h-10zM0 97.5h10v5h-10zM300 97.5h10v5h-10zM110 122.5h10v5h-10zM110 127.5h10v5h-10zM120 132.5h10v5h-10zM150 132.5h10v5h-10zM120 137.5h10v5h-10zM220 137.5h10v5h-10zM80 142.5h10v5h-10zM110 142.5h10v5h-10zM210 142.5h10v5h-10zM220 142.5h10v5h-10zM60 147.5h10v5h-10zM110 147.5h10v5h-10zM140 147.5h10v5h-10zM60 152.5h10v5h-10zM110 152.5h10v5h-10zM140 152.5h10v5h-10z"/><path fill="#30d8d8" d="M230 22.5h10v5h-10zM230 27.5h10v5h-10zM250 27.5h10v5h-10zM290 27.5h10v5h-10zM300 27.5h10v5h-10zM310 32.5h10v5h-10zM100 37.5h10v5h-10zM260 37.5h10v5h-10zM270 42.5h10v5h-10zM240 47.5h10v5h-10zM250 47.5h10v5h-10zM280 47.5h10v5h-10zM20 52.5h10v5h-10zM250 52.5h10v5h-10zM260 52.5h10v5h-10zM270 52.5h10v5h-10zM310 52.5h10v5h-10zM250 57.5h10v5h-10zM260 57.5h10v5h-10zM270 57.5h10v5h-10zM70 62.5h10v5h-10zM80 62.5h10v5h-10zM90 62.5h10v5h-10zM250 62.5h10v5h-10zM260 62.5h10v5h-10zM80 67.5h10v5h-10zM250 67.5h10v5h-10zM280 67.5h10v5h-10zM70 72.5h10v5h-10zM230 72.5h10v5h-10zM250 72.5h10v5h-10zM260 72.5h10v5h-10zM270 72.5h10v5h-10zM310 72.5h10v5h-10zM10 77.5h10v5h-10zM50 77.5h10v5h-10zM60 77.5h10v5h-10zM70 77.5h10v5h-10zM80 77.5h10v5h-10zM100 77.5h10v5h-10zM120 77.5h10v5h-10zM130 77.5h10v5h-10zM140 77.5h10v5h-10zM160 77.5h10v5h-10zM230 77.5h10v5h-10zM240 77.5h10v5h-10zM300 77.5h10v5h-10zM320 77.5h10v5h-10zM350 77.5h10v5h-10zM10 82.5h10v5h-10zM30 82.5h10v5h-10zM50 82.5h10v5h-10zM60 82.5h10v5h-10zM70 82.5h10v5h-10zM80 82.5h10v5h-10zM100 82.5h10v5h-10zM120 82.5h10v5h-10zM130 82.5h10v5h-10zM140 82.5h10v5h-10zM160 82.5h10v5h-10zM180 82.5h10v5h-10zM200 82.5h10v5h-10zM230 82.5h10v5h-10zM240 82.5h10v5h-10zM250 82.5h10v5h-10zM260 82.5h10v5h-10zM290 82.5h10v5h-10zM300 82.5h10v5h-10zM320 82.5h10v5h-10zM340 82.5h10v5h-10zM350 82.5h10v5h-10zM110 87.5h10v5h-10zM130 87.5h10v5h-10zM200 87.5h10v5h-10zM230 87.5h10v5h-10zM290 87.5h10v5h-10zM10 92.5h10v5h-10zM260 92.5h10v5h-10zM10 97.5h10v5h-10zM300 107.5h10v5h-10zM310 107.5h10v5h-10zM50 117.5h10v5h-10zM340 117.5h10v5h-10zM50 122.5h10v5h-10zM60 122.5h10v5h-10zM70 122.5h10v5h-10zM120 122.5h10v5h-10zM150 122.5h10v5h-10zM160 122.5h10v5h-10zM50 127.5h10v5h-10zM60 127.5h10v5h-10zM100 127.5h10v5h-10zM120 127.5h10v5h-10zM150 127.5h10v5h-10zM160 127.5h10v5h-10zM240 127.5h10v5h-10zM260 127.5h10v5h-10zM270 127.5h10v5h-10zM60 132.5h10v5h-10zM70 132.5h10v5h-10zM100 132.5h10v5h-10zM110 132.5h10v5h-10zM210 132.5h10v5h-10zM220 132.5h10v5h-10zM270 132.5h10v5h-10zM280 132.5h10v5h-10zM60 137.5h10v5h-10zM70 137.5h10v5h-10zM80 137.5h10v5h-10zM110 137.5h10v5h-10zM210 137.5h10v5h-10zM270 137.5h10v5h-10zM280 137.5h10v5h-10zM310 137.5h10v5h-10zM70 142.5h10v5h-10zM90 142.5h10v5h-10zM120 142.5h10v5h-10zM170 142.5h10v5h-10zM270 142.5h10v5h-10zM280 142.5h10v5h-10zM310 142.5h10v5h-10zM80 147.5h10v5h-10zM90 147.5h10v5h-10zM120 147.5h10v5h-10zM260 147.5h10v5h-10zM270 147.5h10v5h-10zM310 147.5h10v5h-10zM320 147.5h10v5h-10zM80 152.5h10v5h-10zM90 152.5h10v5h-10zM120 152.5h10v5h-10zM260 152.5h10v5h-10zM270 152.5h10v5h-10zM310 152.5h10v5h-10zM320 152.5h10v5h-10z"/><path fill="#f35939" d="M10 27.5h10v5h-10zM150 32.5h10v5h-10zM30 57.5h10v5h-10zM320 57.5h10v5h-10zM50 67.5h10v5h-10zM100 107.5h10v5h-10zM180 107.5h10v5h-10zM190 112.5h10v5h-10zM60 117.5h10v5h-10zM170 117.5h10v5h-10zM230 117.5h10v5h-10zM240 117.5h10v5h-10zM280 117.5h10v5h-10zM260 122.5h10v5h-10z"/><path fill="#ffb151" d="M160 32.5h10v5h-10zM160 37.5h10v5h-10zM170 37.5h10v5h-10zM110 52.5h10v5h-10zM290 62.5h10v5h-10zM40 77.5h10v5h-10zM220 77.5h10v5h-10zM180 87.5h10v5h-10zM200 97.5h10v5h-10zM230 97.5h10v5h-10zM330 97.5h10v5h-10zM10 102.5h10v5h-10zM200 102.5h10v5h-10zM250 102.5h10v5h-10zM0 107.5h10v5h-10zM110 107.5h10v5h-10zM140 112.5h10v5h-10zM150 112.5h10v5h-10zM350 112.5h10v5h-10zM130 117.5h10v5h-10zM140 117.5h10v5h-10zM350 117.5h10v5h-10z"/><path fill="#ffa940" d="M170 32.5h10v5h-10zM120 47.5h10v5h-10zM160 52.5h10v5h-10zM0 57.5h10v5h-10zM10 57.5h10v5h-10zM40 67.5h10v5h-10zM210 97.5h10v5h-10zM280 107.5h10v5h-10zM290 107.5h10v5h-10zM290 112.5h10v5h-10zM340 112.5h10v5h-10zM210 122.5h10v5h-10z"/><path fill="#b4f48b" d="M230 32.5h10v5h-10zM70 37.5h10v5h-10zM210 42.5h10v5h-10zM70 47.5h10v5h-10zM200 47.5h10v5h-10zM60 52.5h10v5h-10zM190 52.5h10v5h-10zM100 62.5h10v5h-10zM300 62.5h10v5h-10zM60 67.5h10v5h-10zM100 67.5h10v5h-10zM170 67.5h10v5h-10zM110 72.5h10v5h-10zM280 77.5h10v5h-10zM220 87.5h10v5h-10zM250 87.5h10v5h-10zM320 87.5h10v5h-10zM330 92.5h10v5h-10zM310 97.5h10v5h-10zM340 97.5h10v5h-10zM320 102.5h10v5h-10zM80 117.5h10v5h-10zM320 117.5h10v5h-10z"/><path fill="#59e0e0" d="M60 37.5h10v5h-10zM60 42.5h10v5h-10zM240 42.5h10v5h-10zM60 57.5h10v5h-10zM240 57.5h10v5h-10zM100 72.5h10v5h-10zM140 72.5h10v5h-10zM150 72.5h10v5h-10zM170 72.5h10v5h-10zM320 72.5h10v5h-10zM180 77.5h10v5h-10zM190 77.5h10v5h-10zM200 77.5h10v5h-10zM260 77.5h10v5h-10zM270 77.5h10v5h-10zM290 77.5h10v5h-10zM340 77.5h10v5h-10zM190 82.5h10v5h-10zM210 82.5h10v5h-10zM270 82.5h10v5h-10zM330 82.5h10v5h-10zM80 87.5h10v5h-10zM240 92.5h10v5h-10zM270 97.5h10v5h-10zM350 97.5h10v5h-10zM100 137.5h10v5h-10z"/><path fill="#adf380" d="M210 37.5h10v5h-10zM80 42.5h10v5h-10zM280 42.5h10v5h-10zM180 47.5h10v5h-10zM70 52.5h10v5h-10zM240 52.5h10v5h-10zM70 67.5h10v5h-10zM290 67.5h10v5h-10zM280 72.5h10v5h-10zM290 72.5h10v5h-10zM0 87.5h10v5h-10zM240 87.5h10v5h-10zM290 97.5h10v5h-10zM280 102.5h10v5h-10zM330 107.5h10v5h-10zM310 112.5h10v5h-10zM290 117.5h10v5h-10z"/><path fill="#b9f593" d="M220 37.5h10v5h-10zM240 37.5h10v5h-10zM220 42.5h10v5h-10zM210 47.5h10v5h-10zM210 52.5h10v5h-10zM310 62.5h10v5h-10zM300 67.5h10v5h-10zM260 87.5h10v5h-10zM190 92.5h10v5h-10zM270 92.5h10v5h-10zM220 97.5h10v5h-10zM220 102.5h10v5h-10zM300 102.5h10v5h-10zM310 102.5h10v5h-10zM320 107.5h10v5h-10zM320 112.5h10v5h-10zM210 117.5h10v5h-10zM100 142.5h10v5h-10z"/><path fill="#bcf598" d="M230 37.5h10v5h-10zM230 42.5h10v5h-10zM220 47.5h10v5h-10zM220 52.5h10v5h-10zM270 87.5h10v5h-10zM190 97.5h10v5h-10z"/><path fill="#68e3e3" d="M180 42.5h10v5h-10zM60 47.5h10v5h-10zM240 62.5h10v5h-10zM60 72.5h10v5h-10zM160 72.5h10v5h-10zM220 72.5h10v5h-10zM300 72.5h10v5h-10zM210 77.5h10v5h-10zM330 77.5h10v5h-10zM330 87.5h10v5h-10z"/><path fill="#f3e64d" d="M180 52.5h10v5h-10zM270 62.5h10v5h-10zM260 67.5h10v5h-10zM210 92.5h10v5h-10zM110 97.5h10v5h-10zM330 117.5h10v5h-10z"/><path fill="#72e4e4" d="M200 52.5h10v5h-10z"/><path fill="#ffb65c" d="M20 57.5h10v5h-10zM100 57.5h10v5h-10zM110 57.5h10v5h-10zM120 57.5h10v5h-10zM150 57.5h10v5h-10zM0 62.5h10v5h-10zM10 62.5h10v5h-10zM130 62.5h10v5h-10zM320 62.5h10v5h-10zM30 67.5h10v5h-10zM140 67.5h10v5h-10zM320 67.5h10v5h-10zM330 67.5h10v5h-10zM340 67.5h10v5h-10zM350 67.5h10v5h-10zM0 72.5h10v5h-10zM10 72.5h10v5h-10zM30 72.5h10v5h-10zM40 72.5h10v5h-10zM50 72.5h10v5h-10zM130 72.5h10v5h-10zM330 72.5h10v5h-10zM340 72.5h10v5h-10zM350 72.5h10v5h-10zM220 82.5h10v5h-10zM10 87.5h10v5h-10zM20 87.5h10v5h-10zM30 87.5h10v5h-10zM40 87.5h10v5h-10zM50 87.5h10v5h-10zM70 87.5h10v5h-10zM140 87.5h10v5h-10zM150 87.5h10v5h-10zM160 87.5h10v5h-10zM170 87.5h10v5h-10zM210 87.5h10v5h-10zM20 92.5h10v5h-10zM30 92.5h10v5h-10zM40 92.5h10v5h-10zM50 92.5h10v5h-10zM60 92.5h10v5h-10zM70 92.5h10v5h-10zM140 92.5h10v5h-10zM180 92.5h10v5h-10zM220 92.5h10v5h-10zM230 92.5h10v5h-10zM250 92.5h10v5h-10zM20 97.5h10v5h-10zM30 97.5h10v5h-10zM40 97.5h10v5h-10zM60 97.5h10v5h-10zM140 97.5h10v5h-10zM240 97.5h10v5h-10zM250 97.5h10v5h-10zM260 97.5h10v5h-10zM320 97.5h10v5h-10zM0 102.5h10v5h-10zM30 102.5h10v5h-10zM40 102.5h10v5h-10zM60 102.5h10v5h-10zM140 102.5h10v5h-10zM150 102.5h10v5h-10zM210 102.5h10v5h-10zM230 102.5h10v5h-10zM270 102.5h10v5h-10zM330 102.5h10v5h-10zM340 102.5h10v5h-10zM10 107.5h10v5h-10zM40 107.5h10v5h-10zM140 107.5h10v5h-10zM210 107.5h10v5h-10zM230 107.5h10v5h-10zM340 107.5h10v5h-10zM40 112.5h10v5h-10zM80 112.5h10v5h-10zM120 112.5h10v5h-10zM130 112.5h10v5h-10zM210 112.5h10v5h-10z"/><path fill="#f4e85c" d="M90 57.5h10v5h-10zM240 67.5h10v5h-10zM200 92.5h10v5h-10zM300 92.5h10v5h-10zM110 102.5h10v5h-10zM30 112.5h10v5h-10zM120 117.5h10v5h-10zM310 117.5h10v5h-10z"/><path fill="#f4684b" d="M130 57.5h10v5h-10zM90 87.5h10v5h-10zM80 92.5h10v5h-10zM50 97.5h10v5h-10zM80 97.5h10v5h-10zM180 97.5h10v5h-10zM20 102.5h10v5h-10zM50 102.5h10v5h-10zM80 102.5h10v5h-10zM160 102.5h10v5h-10zM170 102.5h10v5h-10zM240 102.5h10v5h-10zM290 102.5h10v5h-10zM350 102.5h10v5h-10zM60 107.5h10v5h-10zM80 107.5h10v5h-10zM160 107.5h10v5h-10zM170 107.5h10v5h-10zM240 107.5h10v5h-10zM250 107.5h10v5h-10zM260 107.5h10v5h-10zM270 107.5h10v5h-10zM60 112.5h10v5h-10zM70 112.5h10v5h-10zM90 112.5h10v5h-10zM100 112.5h10v5h-10zM160 112.5h10v5h-10zM170 112.5h10v5h-10zM240 112.5h10v5h-10zM250 112.5h10v5h-10zM260 112.5h10v5h-10zM270 112.5h10v5h-10zM280 112.5h10v5h-10zM90 117.5h10v5h-10zM160 117.5h10v5h-10zM180 117.5h10v5h-10zM220 117.5h10v5h-10zM250 117.5h10v5h-10zM260 117.5h10v5h-10zM270 117.5h10v5h-10z"/><path fill="#f57257" d="M140 57.5h10v5h-10zM330 57.5h10v5h-10zM340 57.5h10v5h-10zM350 57.5h10v5h-10zM20 62.5h10v5h-10zM30 62.5h10v5h-10zM140 62.5h10v5h-10zM350 62.5h10v5h-10zM10 67.5h10v5h-10zM150 92.5h10v5h-10zM160 92.5h10v5h-10zM170 92.5h10v5h-10zM70 97.5h10v5h-10zM150 97.5h10v5h-10zM160 97.5h10v5h-10zM170 97.5h10v5h-10zM70 102.5h10v5h-10zM180 102.5h10v5h-10zM260 102.5h10v5h-10zM20 107.5h10v5h-10zM30 107.5h10v5h-10zM50 107.5h10v5h-10zM70 107.5h10v5h-10zM150 107.5h10v5h-10zM350 107.5h10v5h-10zM50 112.5h10v5h-10zM220 112.5h10v5h-10zM230 112.5h10v5h-10z"/><path fill="#ffb964" d="M110 62.5h10v5h-10zM120 62.5h10v5h-10zM150 62.5h10v5h-10zM330 62.5h10v5h-10zM340 62.5h10v5h-10zM0 67.5h10v5h-10zM20 67.5h10v5h-10zM110 67.5h10v5h-10zM120 67.5h10v5h-10zM130 67.5h10v5h-10zM150 67.5h10v5h-10zM310 67.5h10v5h-10zM20 72.5h10v5h-10zM120 72.5h10v5h-10zM60 87.5h10v5h-10zM220 107.5h10v5h-10z"/><path fill="#f5ea67" d="M320 92.5h10v5h-10z"/></g></g></g><use href="#coast"/><use href="#coast2"/></svg>
<div class="frame" style="left:26px;top:732px;width:1027px;height:515px"></div>
<div class="cb" style="left:27.0px;top:1253.5px;width:1025.0px;height:22.0px"></div>
<div class="tick" style="left:26.2px;top:1275.0px"></div>
<div class="tl" style="left:27.0px;top:1286.0px">0</div>
<div class="tick" style="left:228.6px;top:1275.0px"></div>
<div class="tl" style="left:229.4px;top:1286.0px">200</div>
<div class="tick" style="left:431.1px;top:1275.0px"></div>
<div class="tl" style="left:431.9px;top:1286.0px">400</div>
<div class="tick" style="left:633.5px;top:1275.0px"></div>
<div class="tl" style="left:634.3px;top:1286.0px">600</div>
<div class="tick" style="left:836.0px;top:1275.0px"></div>
<div class="tl" style="left:836.8px;top:1286.0px">800</div>
<div class="tick" style="left:1038.5px;top:1275.0px"></div>
<div class="tl" style="left:1039.2px;top:1286.0px">1000</div>
<div class="hpa" style="left:509px;top:1280.5px">hPa</div>
<div class="title" style="left:1096px;top:657px">(d) HECORA effective cloud pressure</div>
<svg class="map" style="left:1096.7px;top:732.8px;width:1026.4px;height:513.2px" viewBox="0 0 360 180" preserveAspectRatio="none"><defs><filter id="bld" x="-5%" y="-5%" width="110%" height="110%" color-interpolation-filters="sRGB"><feTurbulence type="fractalNoise" baseFrequency="0.09 0.14" numOctaves="3" seed="11" result="t"/><feDisplacementMap in="SourceGraphic" in2="t" scale="12" xChannelSelector="R" yChannelSelector="G" result="dm"/><feGaussianBlur in="dm" stdDeviation="1.6 0.8" result="b1"/><feTurbulence type="fractalNoise" baseFrequency="0.45 0.7" numOctaves="2" seed="23" result="t2"/><feDisplacementMap in="b1" in2="t2" scale="7" xChannelSelector="R" yChannelSelector="G" result="dm2"/><feGaussianBlur in="dm2" stdDeviation="0.25"/></filter><filter id="spd" x="0" y="0" width="100%" height="100%" color-interpolation-filters="sRGB"><feTurbulence type="fractalNoise" baseFrequency="0.09 0.14" numOctaves="3" seed="11" result="t"/><feDisplacementMap in="SourceGraphic" in2="t" scale="12" xChannelSelector="R" yChannelSelector="G" result="dm"/><feGaussianBlur in="dm" stdDeviation="1.6 0.8" result="cov"/><feTurbulence type="fractalNoise" baseFrequency="0.27 0.62" numOctaves="2" seed="3" result="nz"/><feColorMatrix in="nz" type="matrix" values="1 0 0 0 0  1 0 0 0 0  1 0 0 0 0  0 0 0 0 1" result="nz1"/><feComponentTransfer in="nz1" result="nz2"><feFuncR type="linear" slope="2.6" intercept="-0.8"/><feFuncG type="linear" slope="2.6" intercept="-0.8"/><feFuncB type="linear" slope="2.6" intercept="-0.8"/></feComponentTransfer><feComposite in="cov" in2="nz2" operator="arithmetic" k1="0" k2="1" k3="1" k4="-0.96" result="d"/><feComponentTransfer in="d"><feFuncR type="linear" slope="9" intercept="0"/><feFuncG type="linear" slope="9" intercept="0"/><feFuncB type="linear" slope="9" intercept="0"/><feFuncA type="linear" slope="0" intercept="1"/></feComponentTransfer><feGaussianBlur stdDeviation="0.3"/></filter><filter id="ftd" x="-5%" y="-5%" width="110%" height="110%" color-interpolation-filters="sRGB"><feTurbulence type="fractalNoise" baseFrequency="0.2 0.3" numOctaves="2" seed="5" result="t"/><feDisplacementMap in="SourceGraphic" in2="t" scale="5" xChannelSelector="R" yChannelSelector="G" result="dm"/><feGaussianBlur in="dm" stdDeviation="0.35"/></filter><mask id="mkd" maskUnits="userSpaceOnUse" x="0" y="0" width="360" height="180"><g filter="url(#spd)"><rect x="0" y="0" width="360" height="180" fill="#000"/><path fill="#ffffff" d="M0 17.5h10v5h-10zM10 17.5h10v5h-10zM20 17.5h10v5h-10zM30 17.5h10v5h-10zM40 17.5h10v5h-10zM70 17.5h10v5h-10zM80 17.5h10v5h-10zM90 17.5h10v5h-10zM100 17.5h10v5h-10zM110 17.5h10v5h-10zM160 17.5h10v5h-10zM170 17.5h10v5h-10zM180 17.5h10v5h-10zM240 17.5h10v5h-10zM250 17.5h10v5h-10zM260 17.5h10v5h-10zM320 17.5h10v5h-10zM330 17.5h10v5h-10zM340 17.5h10v5h-10zM350 17.5h10v5h-10zM0 22.5h10v5h-10zM20 22.5h10v5h-10zM30 22.5h10v5h-10zM40 22.5h10v5h-10zM80 22.5h10v5h-10zM90 22.5h10v5h-10zM100 22.5h10v5h-10zM120 22.5h10v5h-10zM140 22.5h10v5h-10zM170 22.5h10v5h-10zM210 22.5h10v5h-10zM240 22.5h10v5h-10zM330 22.5h10v5h-10zM340 22.5h10v5h-10zM350 22.5h10v5h-10zM0 27.5h10v5h-10zM20 27.5h10v5h-10zM30 27.5h10v5h-10zM40 27.5h10v5h-10zM120 27.5h10v5h-10zM140 27.5h10v5h-10zM190 27.5h10v5h-10zM200 27.5h10v5h-10zM240 27.5h10v5h-10zM320 27.5h10v5h-10zM330 27.5h10v5h-10zM340 27.5h10v5h-10zM350 27.5h10v5h-10zM0 32.5h10v5h-10zM10 32.5h10v5h-10zM20 32.5h10v5h-10zM30 32.5h10v5h-10zM190 32.5h10v5h-10zM200 32.5h10v5h-10zM330 32.5h10v5h-10zM340 32.5h10v5h-10zM350 32.5h10v5h-10zM0 37.5h10v5h-10zM10 37.5h10v5h-10zM20 37.5h10v5h-10zM30 37.5h10v5h-10zM180 37.5h10v5h-10zM190 37.5h10v5h-10zM330 37.5h10v5h-10zM350 37.5h10v5h-10zM0 42.5h10v5h-10zM10 42.5h10v5h-10zM20 42.5h10v5h-10zM30 42.5h10v5h-10zM340 42.5h10v5h-10zM10 47.5h10v5h-10zM20 47.5h10v5h-10zM310 47.5h10v5h-10zM50 52.5h10v5h-10zM50 57.5h10v5h-10zM90 97.5h10v5h-10zM90 102.5h10v5h-10zM10 132.5h10v5h-10zM20 132.5h10v5h-10zM140 132.5h10v5h-10zM310 132.5h10v5h-10zM0 137.5h10v5h-10zM10 137.5h10v5h-10zM140 137.5h10v5h-10zM0 142.5h10v5h-10z"/><path fill="#f0f0f0" d="M50 17.5h10v5h-10zM60 17.5h10v5h-10zM120 17.5h10v5h-10zM130 17.5h10v5h-10zM140 17.5h10v5h-10zM150 17.5h10v5h-10zM190 17.5h10v5h-10zM200 17.5h10v5h-10zM210 17.5h10v5h-10zM270 17.5h10v5h-10zM280 17.5h10v5h-10zM290 17.5h10v5h-10zM50 22.5h10v5h-10zM110 22.5h10v5h-10zM130 22.5h10v5h-10zM150 22.5h10v5h-10zM160 22.5h10v5h-10zM180 22.5h10v5h-10zM190 22.5h10v5h-10zM200 22.5h10v5h-10zM250 22.5h10v5h-10zM290 22.5h10v5h-10zM50 27.5h10v5h-10zM90 27.5h10v5h-10zM100 27.5h10v5h-10zM160 27.5h10v5h-10zM170 27.5h10v5h-10zM210 27.5h10v5h-10zM40 32.5h10v5h-10zM120 32.5h10v5h-10zM140 32.5h10v5h-10zM180 32.5h10v5h-10zM210 32.5h10v5h-10zM320 32.5h10v5h-10zM40 37.5h10v5h-10zM200 37.5h10v5h-10zM320 37.5h10v5h-10zM340 37.5h10v5h-10zM40 42.5h10v5h-10zM310 42.5h10v5h-10zM330 42.5h10v5h-10zM350 42.5h10v5h-10zM0 47.5h10v5h-10zM30 47.5h10v5h-10zM40 47.5h10v5h-10zM90 47.5h10v5h-10zM300 47.5h10v5h-10zM350 47.5h10v5h-10zM0 52.5h10v5h-10zM30 52.5h10v5h-10zM40 52.5h10v5h-10zM90 52.5h10v5h-10zM40 57.5h10v5h-10zM50 62.5h10v5h-10zM90 92.5h10v5h-10zM90 107.5h10v5h-10zM180 112.5h10v5h-10zM50 122.5h10v5h-10zM60 122.5h10v5h-10zM110 122.5h10v5h-10zM190 122.5h10v5h-10zM290 122.5h10v5h-10zM300 122.5h10v5h-10zM10 127.5h10v5h-10zM20 127.5h10v5h-10zM110 127.5h10v5h-10zM130 127.5h10v5h-10zM140 127.5h10v5h-10zM190 127.5h10v5h-10zM200 127.5h10v5h-10zM290 127.5h10v5h-10zM300 127.5h10v5h-10zM0 132.5h10v5h-10zM30 132.5h10v5h-10zM130 132.5h10v5h-10zM170 132.5h10v5h-10zM180 132.5h10v5h-10zM190 132.5h10v5h-10zM200 132.5h10v5h-10zM300 132.5h10v5h-10zM320 132.5h10v5h-10zM340 132.5h10v5h-10zM350 132.5h10v5h-10zM20 137.5h10v5h-10zM60 137.5h10v5h-10zM70 137.5h10v5h-10zM130 137.5h10v5h-10zM150 137.5h10v5h-10zM170 137.5h10v5h-10zM210 137.5h10v5h-10zM290 137.5h10v5h-10zM300 137.5h10v5h-10zM340 137.5h10v5h-10zM350 137.5h10v5h-10zM10 142.5h10v5h-10zM80 142.5h10v5h-10zM140 142.5h10v5h-10zM150 142.5h10v5h-10zM290 142.5h10v5h-10zM0 147.5h10v5h-10zM10 147.5h10v5h-10zM20 147.5h10v5h-10zM30 147.5h10v5h-10zM40 147.5h10v5h-10zM50 147.5h10v5h-10zM60 147.5h10v5h-10zM70 147.5h10v5h-10zM80 147.5h10v5h-10zM90 147.5h10v5h-10zM100 147.5h10v5h-10zM110 147.5h10v5h-10zM120 147.5h10v5h-10zM130 147.5h10v5h-10zM140 147.5h10v5h-10zM150 147.5h10v5h-10zM160 147.5h10v5h-10zM170 147.5h10v5h-10zM180 147.5h10v5h-10zM190 147.5h10v5h-10zM200 147.5h10v5h-10zM220 147.5h10v5h-10zM240 147.5h10v5h-10zM260 147.5h10v5h-10zM270 147.5h10v5h-10zM290 147.5h10v5h-10zM300 147.5h10v5h-10zM310 147.5h10v5h-10zM320 147.5h10v5h-10zM340 147.5h10v5h-10zM350 147.5h10v5h-10zM0 152.5h10v5h-10zM10 152.5h10v5h-10zM20 152.5h10v5h-10zM30 152.5h10v5h-10zM40 152.5h10v5h-10zM50 152.5h10v5h-10zM60 152.5h10v5h-10zM70 152.5h10v5h-10zM80 152.5h10v5h-10zM90 152.5h10v5h-10zM100 152.5h10v5h-10zM110 152.5h10v5h-10zM120 152.5h10v5h-10zM130 152.5h10v5h-10zM140 152.5h10v5h-10zM150 152.5h10v5h-10zM160 152.5h10v5h-10zM170 152.5h10v5h-10zM180 152.5h10v5h-10zM190 152.5h10v5h-10zM200 152.5h10v5h-10zM220 152.5h10v5h-10zM240 152.5h10v5h-10zM260 152.5h10v5h-10zM270 152.5h10v5h-10zM290 152.5h10v5h-10zM300 152.5h10v5h-10zM310 152.5h10v5h-10zM320 152.5h10v5h-10zM340 152.5h10v5h-10zM350 152.5h10v5h-10z"/><path fill="#cccccc" d="M220 17.5h10v5h-10zM230 17.5h10v5h-10zM300 17.5h10v5h-10zM310 17.5h10v5h-10zM70 22.5h10v5h-10zM220 22.5h10v5h-10zM260 22.5h10v5h-10zM270 22.5h10v5h-10zM300 22.5h10v5h-10zM320 22.5h10v5h-10zM70 27.5h10v5h-10zM80 27.5h10v5h-10zM110 27.5h10v5h-10zM130 27.5h10v5h-10zM150 27.5h10v5h-10zM250 27.5h10v5h-10zM270 27.5h10v5h-10zM280 27.5h10v5h-10zM290 27.5h10v5h-10zM50 32.5h10v5h-10zM90 32.5h10v5h-10zM280 32.5h10v5h-10zM290 32.5h10v5h-10zM300 32.5h10v5h-10zM90 37.5h10v5h-10zM100 37.5h10v5h-10zM120 37.5h10v5h-10zM140 37.5h10v5h-10zM280 37.5h10v5h-10zM290 37.5h10v5h-10zM50 42.5h10v5h-10zM100 42.5h10v5h-10zM150 42.5h10v5h-10zM190 42.5h10v5h-10zM320 42.5h10v5h-10zM100 47.5h10v5h-10zM140 47.5h10v5h-10zM150 47.5h10v5h-10zM320 47.5h10v5h-10zM340 47.5h10v5h-10zM10 52.5h10v5h-10zM20 52.5h10v5h-10zM80 52.5h10v5h-10zM140 52.5h10v5h-10zM260 52.5h10v5h-10zM280 57.5h10v5h-10zM290 57.5h10v5h-10zM40 62.5h10v5h-10zM80 62.5h10v5h-10zM280 62.5h10v5h-10zM80 72.5h10v5h-10zM90 72.5h10v5h-10zM70 77.5h10v5h-10zM100 87.5h10v5h-10zM120 87.5h10v5h-10zM340 87.5h10v5h-10zM0 92.5h10v5h-10zM100 92.5h10v5h-10zM350 92.5h10v5h-10zM100 102.5h10v5h-10zM0 112.5h10v5h-10zM10 112.5h10v5h-10zM110 112.5h10v5h-10zM0 117.5h10v5h-10zM10 117.5h10v5h-10zM20 117.5h10v5h-10zM50 117.5h10v5h-10zM110 117.5h10v5h-10zM190 117.5h10v5h-10zM20 122.5h10v5h-10zM30 122.5h10v5h-10zM70 122.5h10v5h-10zM140 122.5h10v5h-10zM150 122.5h10v5h-10zM180 122.5h10v5h-10zM200 122.5h10v5h-10zM310 122.5h10v5h-10zM0 127.5h10v5h-10zM30 127.5h10v5h-10zM60 127.5h10v5h-10zM150 127.5h10v5h-10zM170 127.5h10v5h-10zM180 127.5h10v5h-10zM210 127.5h10v5h-10zM230 127.5h10v5h-10zM260 127.5h10v5h-10zM270 127.5h10v5h-10zM320 127.5h10v5h-10zM60 132.5h10v5h-10zM70 132.5h10v5h-10zM120 132.5h10v5h-10zM160 132.5h10v5h-10zM210 132.5h10v5h-10zM220 132.5h10v5h-10zM240 132.5h10v5h-10zM250 132.5h10v5h-10zM260 132.5h10v5h-10zM270 132.5h10v5h-10zM290 132.5h10v5h-10zM30 137.5h10v5h-10zM50 137.5h10v5h-10zM120 137.5h10v5h-10zM160 137.5h10v5h-10zM180 137.5h10v5h-10zM190 137.5h10v5h-10zM200 137.5h10v5h-10zM220 137.5h10v5h-10zM250 137.5h10v5h-10zM270 137.5h10v5h-10zM280 137.5h10v5h-10zM310 137.5h10v5h-10zM320 137.5h10v5h-10zM330 137.5h10v5h-10zM20 142.5h10v5h-10zM40 142.5h10v5h-10zM50 142.5h10v5h-10zM60 142.5h10v5h-10zM70 142.5h10v5h-10zM130 142.5h10v5h-10zM180 142.5h10v5h-10zM190 142.5h10v5h-10zM210 142.5h10v5h-10zM250 142.5h10v5h-10zM270 142.5h10v5h-10zM280 142.5h10v5h-10zM300 142.5h10v5h-10zM310 142.5h10v5h-10zM320 142.5h10v5h-10zM330 142.5h10v5h-10z"/><path fill="#9c9c9c" d="M10 22.5h10v5h-10zM60 22.5h10v5h-10zM230 22.5h10v5h-10zM280 22.5h10v5h-10zM310 22.5h10v5h-10zM60 27.5h10v5h-10zM220 27.5h10v5h-10zM230 27.5h10v5h-10zM260 27.5h10v5h-10zM300 27.5h10v5h-10zM70 32.5h10v5h-10zM80 32.5h10v5h-10zM100 32.5h10v5h-10zM110 32.5h10v5h-10zM130 32.5h10v5h-10zM240 32.5h10v5h-10zM250 32.5h10v5h-10zM270 32.5h10v5h-10zM50 37.5h10v5h-10zM80 37.5h10v5h-10zM110 37.5h10v5h-10zM130 37.5h10v5h-10zM150 37.5h10v5h-10zM270 37.5h10v5h-10zM300 37.5h10v5h-10zM310 37.5h10v5h-10zM90 42.5h10v5h-10zM110 42.5h10v5h-10zM140 42.5h10v5h-10zM160 42.5h10v5h-10zM250 42.5h10v5h-10zM260 42.5h10v5h-10zM300 42.5h10v5h-10zM50 47.5h10v5h-10zM80 47.5h10v5h-10zM110 47.5h10v5h-10zM160 47.5h10v5h-10zM170 47.5h10v5h-10zM190 47.5h10v5h-10zM250 47.5h10v5h-10zM260 47.5h10v5h-10zM270 47.5h10v5h-10zM280 47.5h10v5h-10zM150 52.5h10v5h-10zM170 52.5h10v5h-10zM250 52.5h10v5h-10zM270 52.5h10v5h-10zM290 52.5h10v5h-10zM300 52.5h10v5h-10zM310 52.5h10v5h-10zM320 52.5h10v5h-10zM330 52.5h10v5h-10zM70 57.5h10v5h-10zM80 57.5h10v5h-10zM260 57.5h10v5h-10zM270 57.5h10v5h-10zM310 57.5h10v5h-10zM70 62.5h10v5h-10zM250 62.5h10v5h-10zM260 62.5h10v5h-10zM80 67.5h10v5h-10zM250 67.5h10v5h-10zM270 67.5h10v5h-10zM70 72.5h10v5h-10zM230 72.5h10v5h-10zM240 72.5h10v5h-10zM250 72.5h10v5h-10zM260 72.5h10v5h-10zM10 77.5h10v5h-10zM20 77.5h10v5h-10zM60 77.5h10v5h-10zM80 77.5h10v5h-10zM90 77.5h10v5h-10zM100 77.5h10v5h-10zM130 77.5h10v5h-10zM160 77.5h10v5h-10zM310 77.5h10v5h-10zM10 82.5h10v5h-10zM20 82.5h10v5h-10zM30 82.5h10v5h-10zM40 82.5h10v5h-10zM50 82.5h10v5h-10zM60 82.5h10v5h-10zM70 82.5h10v5h-10zM80 82.5h10v5h-10zM90 82.5h10v5h-10zM100 82.5h10v5h-10zM110 82.5h10v5h-10zM120 82.5h10v5h-10zM130 82.5h10v5h-10zM140 82.5h10v5h-10zM150 82.5h10v5h-10zM160 82.5h10v5h-10zM310 82.5h10v5h-10zM130 87.5h10v5h-10zM200 87.5h10v5h-10zM280 87.5h10v5h-10zM290 87.5h10v5h-10zM300 87.5h10v5h-10zM350 87.5h10v5h-10zM10 92.5h10v5h-10zM110 92.5h10v5h-10zM310 92.5h10v5h-10zM340 92.5h10v5h-10zM0 97.5h10v5h-10zM100 97.5h10v5h-10zM300 107.5h10v5h-10zM310 107.5h10v5h-10zM20 112.5h10v5h-10zM300 112.5h10v5h-10zM30 117.5h10v5h-10zM300 117.5h10v5h-10zM0 122.5h10v5h-10zM10 122.5h10v5h-10zM40 122.5h10v5h-10zM100 122.5h10v5h-10zM130 122.5h10v5h-10zM160 122.5h10v5h-10zM170 122.5h10v5h-10zM230 122.5h10v5h-10zM280 122.5h10v5h-10zM320 122.5h10v5h-10zM330 122.5h10v5h-10zM340 122.5h10v5h-10zM40 127.5h10v5h-10zM50 127.5h10v5h-10zM70 127.5h10v5h-10zM90 127.5h10v5h-10zM100 127.5h10v5h-10zM120 127.5h10v5h-10zM220 127.5h10v5h-10zM240 127.5h10v5h-10zM250 127.5h10v5h-10zM280 127.5h10v5h-10zM310 127.5h10v5h-10zM330 127.5h10v5h-10zM350 127.5h10v5h-10zM40 132.5h10v5h-10zM80 132.5h10v5h-10zM110 132.5h10v5h-10zM150 132.5h10v5h-10zM280 132.5h10v5h-10zM330 132.5h10v5h-10zM40 137.5h10v5h-10zM80 137.5h10v5h-10zM90 137.5h10v5h-10zM240 137.5h10v5h-10zM260 137.5h10v5h-10zM30 142.5h10v5h-10zM90 142.5h10v5h-10zM120 142.5h10v5h-10zM160 142.5h10v5h-10zM170 142.5h10v5h-10zM200 142.5h10v5h-10zM220 142.5h10v5h-10zM240 142.5h10v5h-10zM260 142.5h10v5h-10zM340 142.5h10v5h-10zM350 142.5h10v5h-10z"/><path fill="#545454" d="M10 27.5h10v5h-10zM150 32.5h10v5h-10zM170 32.5h10v5h-10zM60 37.5h10v5h-10zM210 37.5h10v5h-10zM60 42.5h10v5h-10zM80 42.5h10v5h-10zM240 42.5h10v5h-10zM280 42.5h10v5h-10zM120 47.5h10v5h-10zM180 47.5h10v5h-10zM70 52.5h10v5h-10zM160 52.5h10v5h-10zM180 52.5h10v5h-10zM240 52.5h10v5h-10zM0 57.5h10v5h-10zM10 57.5h10v5h-10zM30 57.5h10v5h-10zM60 57.5h10v5h-10zM240 57.5h10v5h-10zM320 57.5h10v5h-10zM270 62.5h10v5h-10zM40 67.5h10v5h-10zM50 67.5h10v5h-10zM70 67.5h10v5h-10zM260 67.5h10v5h-10zM290 67.5h10v5h-10zM100 72.5h10v5h-10zM140 72.5h10v5h-10zM150 72.5h10v5h-10zM170 72.5h10v5h-10zM280 72.5h10v5h-10zM290 72.5h10v5h-10zM320 72.5h10v5h-10zM180 77.5h10v5h-10zM190 77.5h10v5h-10zM200 77.5h10v5h-10zM260 77.5h10v5h-10zM270 77.5h10v5h-10zM290 77.5h10v5h-10zM340 77.5h10v5h-10zM190 82.5h10v5h-10zM210 82.5h10v5h-10zM270 82.5h10v5h-10zM330 82.5h10v5h-10zM0 87.5h10v5h-10zM80 87.5h10v5h-10zM240 87.5h10v5h-10zM210 92.5h10v5h-10zM240 92.5h10v5h-10zM110 97.5h10v5h-10zM210 97.5h10v5h-10zM270 97.5h10v5h-10zM290 97.5h10v5h-10zM350 97.5h10v5h-10zM280 102.5h10v5h-10zM100 107.5h10v5h-10zM180 107.5h10v5h-10zM280 107.5h10v5h-10zM290 107.5h10v5h-10zM330 107.5h10v5h-10zM190 112.5h10v5h-10zM290 112.5h10v5h-10zM310 112.5h10v5h-10zM340 112.5h10v5h-10zM60 117.5h10v5h-10zM170 117.5h10v5h-10zM230 117.5h10v5h-10zM240 117.5h10v5h-10zM280 117.5h10v5h-10zM290 117.5h10v5h-10zM330 117.5h10v5h-10zM210 122.5h10v5h-10zM260 122.5h10v5h-10zM100 137.5h10v5h-10z"/><path fill="#6e6e6e" d="M180 27.5h10v5h-10zM310 27.5h10v5h-10zM60 32.5h10v5h-10zM220 32.5h10v5h-10zM260 32.5h10v5h-10zM310 32.5h10v5h-10zM250 37.5h10v5h-10zM260 37.5h10v5h-10zM120 42.5h10v5h-10zM130 42.5h10v5h-10zM170 42.5h10v5h-10zM200 42.5h10v5h-10zM270 42.5h10v5h-10zM290 42.5h10v5h-10zM130 47.5h10v5h-10zM240 47.5h10v5h-10zM290 47.5h10v5h-10zM330 47.5h10v5h-10zM100 52.5h10v5h-10zM120 52.5h10v5h-10zM130 52.5h10v5h-10zM280 52.5h10v5h-10zM340 52.5h10v5h-10zM350 52.5h10v5h-10zM250 57.5h10v5h-10zM300 57.5h10v5h-10zM60 62.5h10v5h-10zM90 62.5h10v5h-10zM90 67.5h10v5h-10zM280 67.5h10v5h-10zM270 72.5h10v5h-10zM310 72.5h10v5h-10zM0 77.5h10v5h-10zM30 77.5h10v5h-10zM50 77.5h10v5h-10zM110 77.5h10v5h-10zM120 77.5h10v5h-10zM140 77.5h10v5h-10zM150 77.5h10v5h-10zM170 77.5h10v5h-10zM230 77.5h10v5h-10zM240 77.5h10v5h-10zM250 77.5h10v5h-10zM300 77.5h10v5h-10zM320 77.5h10v5h-10zM350 77.5h10v5h-10zM0 82.5h10v5h-10zM170 82.5h10v5h-10zM180 82.5h10v5h-10zM200 82.5h10v5h-10zM230 82.5h10v5h-10zM240 82.5h10v5h-10zM250 82.5h10v5h-10zM260 82.5h10v5h-10zM280 82.5h10v5h-10zM290 82.5h10v5h-10zM300 82.5h10v5h-10zM320 82.5h10v5h-10zM340 82.5h10v5h-10zM350 82.5h10v5h-10zM110 87.5h10v5h-10zM190 87.5h10v5h-10zM230 87.5h10v5h-10zM310 87.5h10v5h-10zM260 92.5h10v5h-10zM280 92.5h10v5h-10zM290 92.5h10v5h-10zM10 97.5h10v5h-10zM280 97.5h10v5h-10zM300 97.5h10v5h-10zM330 112.5h10v5h-10zM40 117.5h10v5h-10zM70 117.5h10v5h-10zM100 117.5h10v5h-10zM150 117.5h10v5h-10zM340 117.5h10v5h-10zM80 122.5h10v5h-10zM90 122.5h10v5h-10zM120 122.5h10v5h-10zM220 122.5h10v5h-10zM240 122.5h10v5h-10zM250 122.5h10v5h-10zM270 122.5h10v5h-10zM350 122.5h10v5h-10zM80 127.5h10v5h-10zM160 127.5h10v5h-10zM340 127.5h10v5h-10zM50 132.5h10v5h-10zM90 132.5h10v5h-10zM100 132.5h10v5h-10zM230 132.5h10v5h-10zM110 137.5h10v5h-10zM230 137.5h10v5h-10zM110 142.5h10v5h-10zM230 142.5h10v5h-10z"/><path fill="#333333" d="M160 32.5h10v5h-10zM230 32.5h10v5h-10zM70 37.5h10v5h-10zM160 37.5h10v5h-10zM170 37.5h10v5h-10zM180 42.5h10v5h-10zM210 42.5h10v5h-10zM60 47.5h10v5h-10zM70 47.5h10v5h-10zM200 47.5h10v5h-10zM60 52.5h10v5h-10zM110 52.5h10v5h-10zM190 52.5h10v5h-10zM90 57.5h10v5h-10zM130 57.5h10v5h-10zM100 62.5h10v5h-10zM240 62.5h10v5h-10zM290 62.5h10v5h-10zM300 62.5h10v5h-10zM60 67.5h10v5h-10zM100 67.5h10v5h-10zM170 67.5h10v5h-10zM240 67.5h10v5h-10zM60 72.5h10v5h-10zM110 72.5h10v5h-10zM160 72.5h10v5h-10zM220 72.5h10v5h-10zM300 72.5h10v5h-10zM40 77.5h10v5h-10zM210 77.5h10v5h-10zM220 77.5h10v5h-10zM280 77.5h10v5h-10zM330 77.5h10v5h-10zM90 87.5h10v5h-10zM180 87.5h10v5h-10zM220 87.5h10v5h-10zM250 87.5h10v5h-10zM320 87.5h10v5h-10zM330 87.5h10v5h-10zM80 92.5h10v5h-10zM200 92.5h10v5h-10zM300 92.5h10v5h-10zM330 92.5h10v5h-10zM50 97.5h10v5h-10zM80 97.5h10v5h-10zM180 97.5h10v5h-10zM200 97.5h10v5h-10zM230 97.5h10v5h-10zM310 97.5h10v5h-10zM330 97.5h10v5h-10zM340 97.5h10v5h-10zM10 102.5h10v5h-10zM20 102.5h10v5h-10zM50 102.5h10v5h-10zM80 102.5h10v5h-10zM110 102.5h10v5h-10zM160 102.5h10v5h-10zM170 102.5h10v5h-10zM200 102.5h10v5h-10zM240 102.5h10v5h-10zM250 102.5h10v5h-10zM290 102.5h10v5h-10zM320 102.5h10v5h-10zM350 102.5h10v5h-10zM0 107.5h10v5h-10zM60 107.5h10v5h-10zM80 107.5h10v5h-10zM110 107.5h10v5h-10zM160 107.5h10v5h-10zM170 107.5h10v5h-10zM240 107.5h10v5h-10zM250 107.5h10v5h-10zM260 107.5h10v5h-10zM270 107.5h10v5h-10zM30 112.5h10v5h-10zM60 112.5h10v5h-10zM70 112.5h10v5h-10zM90 112.5h10v5h-10zM100 112.5h10v5h-10zM140 112.5h10v5h-10zM150 112.5h10v5h-10zM160 112.5h10v5h-10zM170 112.5h10v5h-10zM240 112.5h10v5h-10zM250 112.5h10v5h-10zM260 112.5h10v5h-10zM270 112.5h10v5h-10zM280 112.5h10v5h-10zM350 112.5h10v5h-10zM80 117.5h10v5h-10zM90 117.5h10v5h-10zM120 117.5h10v5h-10zM130 117.5h10v5h-10zM140 117.5h10v5h-10zM160 117.5h10v5h-10zM180 117.5h10v5h-10zM220 117.5h10v5h-10zM250 117.5h10v5h-10zM260 117.5h10v5h-10zM270 117.5h10v5h-10zM310 117.5h10v5h-10zM320 117.5h10v5h-10zM350 117.5h10v5h-10z"/><path fill="#1a1a1a" d="M220 37.5h10v5h-10zM240 37.5h10v5h-10zM220 42.5h10v5h-10zM210 47.5h10v5h-10zM200 52.5h10v5h-10zM210 52.5h10v5h-10zM20 57.5h10v5h-10zM100 57.5h10v5h-10zM110 57.5h10v5h-10zM120 57.5h10v5h-10zM140 57.5h10v5h-10zM150 57.5h10v5h-10zM330 57.5h10v5h-10zM340 57.5h10v5h-10zM350 57.5h10v5h-10zM0 62.5h10v5h-10zM10 62.5h10v5h-10zM20 62.5h10v5h-10zM30 62.5h10v5h-10zM130 62.5h10v5h-10zM140 62.5h10v5h-10zM310 62.5h10v5h-10zM320 62.5h10v5h-10zM350 62.5h10v5h-10zM10 67.5h10v5h-10zM30 67.5h10v5h-10zM140 67.5h10v5h-10zM300 67.5h10v5h-10zM320 67.5h10v5h-10zM330 67.5h10v5h-10zM340 67.5h10v5h-10zM350 67.5h10v5h-10zM0 72.5h10v5h-10zM10 72.5h10v5h-10zM30 72.5h10v5h-10zM40 72.5h10v5h-10zM50 72.5h10v5h-10zM130 72.5h10v5h-10zM330 72.5h10v5h-10zM340 72.5h10v5h-10zM350 72.5h10v5h-10zM220 82.5h10v5h-10zM10 87.5h10v5h-10zM20 87.5h10v5h-10zM30 87.5h10v5h-10zM40 87.5h10v5h-10zM50 87.5h10v5h-10zM70 87.5h10v5h-10zM140 87.5h10v5h-10zM150 87.5h10v5h-10zM160 87.5h10v5h-10zM170 87.5h10v5h-10zM210 87.5h10v5h-10zM260 87.5h10v5h-10zM20 92.5h10v5h-10zM30 92.5h10v5h-10zM40 92.5h10v5h-10zM50 92.5h10v5h-10zM60 92.5h10v5h-10zM70 92.5h10v5h-10zM140 92.5h10v5h-10zM150 92.5h10v5h-10zM160 92.5h10v5h-10zM170 92.5h10v5h-10zM180 92.5h10v5h-10zM190 92.5h10v5h-10zM220 92.5h10v5h-10zM230 92.5h10v5h-10zM250 92.5h10v5h-10zM270 92.5h10v5h-10zM320 92.5h10v5h-10zM20 97.5h10v5h-10zM30 97.5h10v5h-10zM40 97.5h10v5h-10zM60 97.5h10v5h-10zM70 97.5h10v5h-10zM140 97.5h10v5h-10zM150 97.5h10v5h-10zM160 97.5h10v5h-10zM170 97.5h10v5h-10zM220 97.5h10v5h-10zM240 97.5h10v5h-10zM250 97.5h10v5h-10zM260 97.5h10v5h-10zM320 97.5h10v5h-10zM0 102.5h10v5h-10zM30 102.5h10v5h-10zM40 102.5h10v5h-10zM60 102.5h10v5h-10zM70 102.5h10v5h-10zM140 102.5h10v5h-10zM150 102.5h10v5h-10zM180 102.5h10v5h-10zM210 102.5h10v5h-10zM220 102.5h10v5h-10zM230 102.5h10v5h-10zM260 102.5h10v5h-10zM270 102.5h10v5h-10zM300 102.5h10v5h-10zM310 102.5h10v5h-10zM330 102.5h10v5h-10zM340 102.5h10v5h-10zM10 107.5h10v5h-10zM20 107.5h10v5h-10zM30 107.5h10v5h-10zM40 107.5h10v5h-10zM50 107.5h10v5h-10zM70 107.5h10v5h-10zM140 107.5h10v5h-10zM150 107.5h10v5h-10zM210 107.5h10v5h-10zM230 107.5h10v5h-10zM320 107.5h10v5h-10zM340 107.5h10v5h-10zM350 107.5h10v5h-10zM40 112.5h10v5h-10zM50 112.5h10v5h-10zM80 112.5h10v5h-10zM120 112.5h10v5h-10zM130 112.5h10v5h-10zM210 112.5h10v5h-10zM220 112.5h10v5h-10zM230 112.5h10v5h-10zM320 112.5h10v5h-10zM210 117.5h10v5h-10zM100 142.5h10v5h-10z"/><path fill="#080808" d="M230 37.5h10v5h-10zM230 42.5h10v5h-10zM220 47.5h10v5h-10zM220 52.5h10v5h-10zM110 62.5h10v5h-10zM120 62.5h10v5h-10zM150 62.5h10v5h-10zM330 62.5h10v5h-10zM340 62.5h10v5h-10zM0 67.5h10v5h-10zM20 67.5h10v5h-10zM110 67.5h10v5h-10zM120 67.5h10v5h-10zM130 67.5h10v5h-10zM150 67.5h10v5h-10zM310 67.5h10v5h-10zM20 72.5h10v5h-10zM120 72.5h10v5h-10zM60 87.5h10v5h-10zM270 87.5h10v5h-10zM190 97.5h10v5h-10zM220 107.5h10v5h-10z"/><path fill="#000000" d="M70 42.5h10v5h-10zM230 47.5h10v5h-10zM230 52.5h10v5h-10zM160 57.5h10v5h-10zM170 57.5h10v5h-10zM180 57.5h10v5h-10zM190 57.5h10v5h-10zM200 57.5h10v5h-10zM210 57.5h10v5h-10zM220 57.5h10v5h-10zM230 57.5h10v5h-10zM160 62.5h10v5h-10zM170 62.5h10v5h-10zM180 62.5h10v5h-10zM190 62.5h10v5h-10zM200 62.5h10v5h-10zM210 62.5h10v5h-10zM220 62.5h10v5h-10zM230 62.5h10v5h-10zM160 67.5h10v5h-10zM180 67.5h10v5h-10zM190 67.5h10v5h-10zM200 67.5h10v5h-10zM210 67.5h10v5h-10zM220 67.5h10v5h-10zM230 67.5h10v5h-10zM180 72.5h10v5h-10zM190 72.5h10v5h-10zM200 72.5h10v5h-10zM210 72.5h10v5h-10zM120 92.5h10v5h-10zM130 92.5h10v5h-10zM120 97.5h10v5h-10zM130 97.5h10v5h-10zM120 102.5h10v5h-10zM130 102.5h10v5h-10zM190 102.5h10v5h-10zM120 107.5h10v5h-10zM130 107.5h10v5h-10zM190 107.5h10v5h-10zM200 107.5h10v5h-10zM200 112.5h10v5h-10zM200 117.5h10v5h-10zM210 147.5h10v5h-10zM230 147.5h10v5h-10zM250 147.5h10v5h-10zM280 147.5h10v5h-10zM330 147.5h10v5h-10zM210 152.5h10v5h-10zM230 152.5h10v5h-10zM250 152.5h10v5h-10zM280 152.5h10v5h-10zM330 152.5h10v5h-10z"/></g></mask><clipPath id="cpd"><path d="M0 18.5 L360 18.5 L360.00 151.08 L350.22 153.30 L350.22 147.70 L325.59 153.30 L325.59 147.70 L300.96 153.30 L300.96 147.70 L276.33 153.30 L276.33 147.70 L251.70 153.30 L251.70 147.70 L227.07 153.30 L227.07 147.70 L202.44 153.30 L202.44 147.70 L177.81 153.30 L177.81 147.70 L153.18 153.30 L153.18 147.70 L128.55 153.30 L128.55 147.70 L103.92 153.30 L103.92 147.70 L79.29 153.30 L79.29 147.70 L54.66 153.30 L54.66 147.70 L30.03 153.30 L30.03 147.70 L5.40 153.30 L5.40 147.70 L0.00 148.93 Z"/></clipPath></defs><g clip-path="url(#cpd)"><g mask="url(#mkd)"><g filter="url(#bld)"><path fill="#a00000" d="M0 17.5h10v5h-10zM60 17.5h10v5h-10zM70 17.5h10v5h-10zM80 17.5h10v5h-10zM90 17.5h10v5h-10zM100 17.5h10v5h-10zM190 17.5h10v5h-10zM200 17.5h10v5h-10zM240 17.5h10v5h-10zM250 17.5h10v5h-10zM330 17.5h10v5h-10zM80 22.5h10v5h-10zM90 22.5h10v5h-10zM190 22.5h10v5h-10zM200 22.5h10v5h-10zM0 27.5h10v5h-10zM100 27.5h10v5h-10zM320 27.5h10v5h-10zM310 47.5h10v5h-10zM340 132.5h10v5h-10zM10 137.5h10v5h-10zM290 137.5h10v5h-10zM190 147.5h10v5h-10zM190 152.5h10v5h-10z"/><path fill="#f03008" d="M10 17.5h10v5h-10zM50 17.5h10v5h-10zM110 17.5h10v5h-10zM160 17.5h10v5h-10zM210 17.5h10v5h-10zM260 17.5h10v5h-10zM320 17.5h10v5h-10zM340 17.5h10v5h-10zM350 17.5h10v5h-10zM0 22.5h10v5h-10zM100 22.5h10v5h-10zM140 22.5h10v5h-10zM160 22.5h10v5h-10zM180 22.5h10v5h-10zM240 22.5h10v5h-10zM330 22.5h10v5h-10zM340 22.5h10v5h-10zM20 27.5h10v5h-10zM90 27.5h10v5h-10zM110 27.5h10v5h-10zM140 27.5h10v5h-10zM150 27.5h10v5h-10zM170 27.5h10v5h-10zM180 27.5h10v5h-10zM240 27.5h10v5h-10zM310 27.5h10v5h-10zM330 27.5h10v5h-10zM350 27.5h10v5h-10zM0 32.5h10v5h-10zM10 32.5h10v5h-10zM20 32.5h10v5h-10zM30 32.5h10v5h-10zM40 32.5h10v5h-10zM140 32.5h10v5h-10zM180 32.5h10v5h-10zM280 32.5h10v5h-10zM320 32.5h10v5h-10zM340 32.5h10v5h-10zM350 32.5h10v5h-10zM0 37.5h10v5h-10zM10 37.5h10v5h-10zM20 37.5h10v5h-10zM40 37.5h10v5h-10zM140 37.5h10v5h-10zM180 37.5h10v5h-10zM320 37.5h10v5h-10zM330 37.5h10v5h-10zM350 37.5h10v5h-10zM0 42.5h10v5h-10zM20 42.5h10v5h-10zM30 42.5h10v5h-10zM40 42.5h10v5h-10zM130 42.5h10v5h-10zM140 42.5h10v5h-10zM160 42.5h10v5h-10zM310 42.5h10v5h-10zM320 42.5h10v5h-10zM340 42.5h10v5h-10zM350 42.5h10v5h-10zM10 47.5h10v5h-10zM30 47.5h10v5h-10zM40 47.5h10v5h-10zM50 47.5h10v5h-10zM130 47.5h10v5h-10zM300 47.5h10v5h-10zM320 47.5h10v5h-10zM340 47.5h10v5h-10zM350 47.5h10v5h-10zM30 52.5h10v5h-10zM40 52.5h10v5h-10zM50 52.5h10v5h-10zM120 52.5h10v5h-10zM130 52.5h10v5h-10zM150 52.5h10v5h-10zM300 52.5h10v5h-10zM350 52.5h10v5h-10zM40 57.5h10v5h-10zM50 57.5h10v5h-10zM40 62.5h10v5h-10zM50 62.5h10v5h-10zM90 92.5h10v5h-10zM90 97.5h10v5h-10zM90 102.5h10v5h-10zM100 102.5h10v5h-10zM90 107.5h10v5h-10zM180 112.5h10v5h-10zM190 117.5h10v5h-10zM0 122.5h10v5h-10zM80 122.5h10v5h-10zM90 122.5h10v5h-10zM140 122.5h10v5h-10zM170 122.5h10v5h-10zM180 122.5h10v5h-10zM190 122.5h10v5h-10zM200 122.5h10v5h-10zM220 122.5h10v5h-10zM230 122.5h10v5h-10zM240 122.5h10v5h-10zM250 122.5h10v5h-10zM270 122.5h10v5h-10zM280 122.5h10v5h-10zM290 122.5h10v5h-10zM300 122.5h10v5h-10zM80 127.5h10v5h-10zM90 127.5h10v5h-10zM280 127.5h10v5h-10zM310 127.5h10v5h-10zM340 127.5h10v5h-10zM350 127.5h10v5h-10zM40 132.5h10v5h-10zM80 132.5h10v5h-10zM90 132.5h10v5h-10zM230 132.5h10v5h-10zM330 132.5h10v5h-10zM40 137.5h10v5h-10zM90 137.5h10v5h-10zM150 147.5h10v5h-10zM170 147.5h10v5h-10zM240 147.5h10v5h-10zM300 147.5h10v5h-10zM150 152.5h10v5h-10zM170 152.5h10v5h-10zM240 152.5h10v5h-10zM300 152.5h10v5h-10z"/><path fill="#ff9410" d="M20 17.5h10v5h-10zM30 17.5h10v5h-10zM40 17.5h10v5h-10zM150 17.5h10v5h-10zM170 17.5h10v5h-10zM180 17.5h10v5h-10zM270 17.5h10v5h-10zM150 22.5h10v5h-10zM170 22.5h10v5h-10zM210 22.5h10v5h-10zM350 22.5h10v5h-10zM30 27.5h10v5h-10zM120 27.5h10v5h-10zM160 27.5h10v5h-10zM190 27.5h10v5h-10zM200 27.5h10v5h-10zM210 27.5h10v5h-10zM340 27.5h10v5h-10zM120 32.5h10v5h-10zM190 32.5h10v5h-10zM200 32.5h10v5h-10zM210 32.5h10v5h-10zM240 32.5h10v5h-10zM330 32.5h10v5h-10zM30 37.5h10v5h-10zM130 37.5h10v5h-10zM150 37.5h10v5h-10zM190 37.5h10v5h-10zM200 37.5h10v5h-10zM280 37.5h10v5h-10zM310 37.5h10v5h-10zM340 37.5h10v5h-10zM10 42.5h10v5h-10zM120 42.5h10v5h-10zM150 42.5h10v5h-10zM170 42.5h10v5h-10zM330 42.5h10v5h-10zM0 47.5h10v5h-10zM20 47.5h10v5h-10zM110 47.5h10v5h-10zM140 47.5h10v5h-10zM150 47.5h10v5h-10zM160 47.5h10v5h-10zM170 47.5h10v5h-10zM330 47.5h10v5h-10zM100 52.5h10v5h-10zM140 52.5h10v5h-10zM320 52.5h10v5h-10zM280 57.5h10v5h-10zM290 57.5h10v5h-10zM280 62.5h10v5h-10zM110 112.5h10v5h-10zM0 117.5h10v5h-10zM110 117.5h10v5h-10zM10 122.5h10v5h-10zM130 122.5h10v5h-10zM310 122.5h10v5h-10zM40 127.5h10v5h-10zM210 127.5h10v5h-10zM220 127.5h10v5h-10zM230 127.5h10v5h-10zM250 127.5h10v5h-10zM200 132.5h10v5h-10zM240 132.5h10v5h-10zM50 137.5h10v5h-10zM200 137.5h10v5h-10zM230 137.5h10v5h-10zM240 137.5h10v5h-10zM250 137.5h10v5h-10zM330 137.5h10v5h-10zM40 142.5h10v5h-10zM180 142.5h10v5h-10zM190 142.5h10v5h-10zM230 142.5h10v5h-10zM240 142.5h10v5h-10zM320 142.5h10v5h-10zM330 142.5h10v5h-10zM350 142.5h10v5h-10zM0 147.5h10v5h-10zM40 147.5h10v5h-10zM50 147.5h10v5h-10zM180 147.5h10v5h-10zM200 147.5h10v5h-10zM220 147.5h10v5h-10zM0 152.5h10v5h-10zM40 152.5h10v5h-10zM50 152.5h10v5h-10zM180 152.5h10v5h-10zM200 152.5h10v5h-10zM220 152.5h10v5h-10z"/><path fill="#f0e020" d="M120 17.5h10v5h-10zM130 17.5h10v5h-10zM140 17.5h10v5h-10zM20 22.5h10v5h-10zM30 22.5h10v5h-10zM40 22.5h10v5h-10zM50 22.5h10v5h-10zM110 22.5h10v5h-10zM120 22.5h10v5h-10zM130 22.5h10v5h-10zM320 22.5h10v5h-10zM40 27.5h10v5h-10zM50 27.5h10v5h-10zM80 27.5h10v5h-10zM130 27.5h10v5h-10zM280 27.5h10v5h-10zM50 32.5h10v5h-10zM70 32.5h10v5h-10zM90 32.5h10v5h-10zM100 32.5h10v5h-10zM130 32.5h10v5h-10zM250 32.5h10v5h-10zM110 37.5h10v5h-10zM120 37.5h10v5h-10zM270 37.5h10v5h-10zM300 37.5h10v5h-10zM50 42.5h10v5h-10zM100 42.5h10v5h-10zM190 42.5h10v5h-10zM260 42.5h10v5h-10zM290 42.5h10v5h-10zM80 47.5h10v5h-10zM90 47.5h10v5h-10zM100 47.5h10v5h-10zM190 47.5h10v5h-10zM290 47.5h10v5h-10zM80 52.5h10v5h-10zM90 52.5h10v5h-10zM170 52.5h10v5h-10zM0 112.5h10v5h-10zM320 122.5h10v5h-10zM260 132.5h10v5h-10zM260 137.5h10v5h-10zM20 142.5h10v5h-10zM30 142.5h10v5h-10zM50 142.5h10v5h-10zM250 142.5h10v5h-10zM260 142.5h10v5h-10zM340 142.5h10v5h-10zM70 147.5h10v5h-10zM340 147.5h10v5h-10zM70 152.5h10v5h-10zM340 152.5h10v5h-10z"/><path fill="#98f060" d="M220 17.5h10v5h-10zM230 17.5h10v5h-10zM280 17.5h10v5h-10zM290 17.5h10v5h-10zM300 17.5h10v5h-10zM310 17.5h10v5h-10zM70 22.5h10v5h-10zM220 22.5h10v5h-10zM260 22.5h10v5h-10zM270 22.5h10v5h-10zM280 22.5h10v5h-10zM310 22.5h10v5h-10zM60 27.5h10v5h-10zM70 27.5h10v5h-10zM220 27.5h10v5h-10zM260 27.5h10v5h-10zM270 27.5h10v5h-10zM60 32.5h10v5h-10zM80 32.5h10v5h-10zM110 32.5h10v5h-10zM220 32.5h10v5h-10zM260 32.5h10v5h-10zM270 32.5h10v5h-10zM290 32.5h10v5h-10zM300 32.5h10v5h-10zM50 37.5h10v5h-10zM80 37.5h10v5h-10zM90 37.5h10v5h-10zM290 37.5h10v5h-10zM90 42.5h10v5h-10zM110 42.5h10v5h-10zM200 42.5h10v5h-10zM250 42.5h10v5h-10zM300 42.5h10v5h-10zM260 47.5h10v5h-10zM0 52.5h10v5h-10zM10 52.5h10v5h-10zM280 52.5h10v5h-10zM290 52.5h10v5h-10zM330 52.5h10v5h-10zM340 52.5h10v5h-10zM70 57.5h10v5h-10zM80 57.5h10v5h-10zM300 57.5h10v5h-10zM310 57.5h10v5h-10zM60 62.5h10v5h-10zM270 67.5h10v5h-10zM240 72.5h10v5h-10zM0 77.5h10v5h-10zM20 77.5h10v5h-10zM30 77.5h10v5h-10zM110 77.5h10v5h-10zM150 77.5h10v5h-10zM170 77.5h10v5h-10zM0 82.5h10v5h-10zM20 82.5h10v5h-10zM40 82.5h10v5h-10zM110 82.5h10v5h-10zM150 82.5h10v5h-10zM170 82.5h10v5h-10zM280 82.5h10v5h-10zM100 87.5h10v5h-10zM190 87.5h10v5h-10zM280 87.5h10v5h-10zM300 87.5h10v5h-10zM310 87.5h10v5h-10zM100 92.5h10v5h-10zM110 92.5h10v5h-10zM290 92.5h10v5h-10zM310 92.5h10v5h-10zM100 97.5h10v5h-10zM280 97.5h10v5h-10zM10 112.5h10v5h-10zM20 112.5h10v5h-10zM300 112.5h10v5h-10zM330 112.5h10v5h-10zM10 117.5h10v5h-10zM20 117.5h10v5h-10zM30 117.5h10v5h-10zM40 117.5h10v5h-10zM70 117.5h10v5h-10zM100 117.5h10v5h-10zM150 117.5h10v5h-10zM300 117.5h10v5h-10zM20 122.5h10v5h-10zM30 122.5h10v5h-10zM40 122.5h10v5h-10zM100 122.5h10v5h-10zM330 122.5h10v5h-10zM340 122.5h10v5h-10zM350 122.5h10v5h-10zM70 127.5h10v5h-10zM330 127.5h10v5h-10zM50 132.5h10v5h-10zM60 142.5h10v5h-10zM160 142.5h10v5h-10zM200 142.5h10v5h-10zM10 147.5h10v5h-10zM20 147.5h10v5h-10zM30 147.5h10v5h-10zM100 147.5h10v5h-10zM130 147.5h10v5h-10zM160 147.5h10v5h-10zM350 147.5h10v5h-10zM10 152.5h10v5h-10zM20 152.5h10v5h-10zM30 152.5h10v5h-10zM100 152.5h10v5h-10zM130 152.5h10v5h-10zM160 152.5h10v5h-10zM350 152.5h10v5h-10z"/><path fill="#3c9cf6" d="M10 22.5h10v5h-10zM60 22.5h10v5h-10zM250 22.5h10v5h-10zM290 22.5h10v5h-10zM300 22.5h10v5h-10zM250 37.5h10v5h-10zM270 47.5h10v5h-10zM90 67.5h10v5h-10zM80 72.5h10v5h-10zM90 72.5h10v5h-10zM90 77.5h10v5h-10zM250 77.5h10v5h-10zM310 77.5h10v5h-10zM90 82.5h10v5h-10zM310 82.5h10v5h-10zM120 87.5h10v5h-10zM340 87.5h10v5h-10zM350 87.5h10v5h-10zM0 92.5h10v5h-10zM280 92.5h10v5h-10zM340 92.5h10v5h-10zM350 92.5h10v5h-10zM0 97.5h10v5h-10zM300 97.5h10v5h-10zM110 122.5h10v5h-10zM110 127.5h10v5h-10zM120 132.5h10v5h-10zM150 132.5h10v5h-10zM120 137.5h10v5h-10zM220 137.5h10v5h-10zM80 142.5h10v5h-10zM110 142.5h10v5h-10zM210 142.5h10v5h-10zM220 142.5h10v5h-10zM60 147.5h10v5h-10zM110 147.5h10v5h-10zM140 147.5h10v5h-10zM60 152.5h10v5h-10zM110 152.5h10v5h-10zM140 152.5h10v5h-10z"/><path fill="#30d8d8" d="M230 22.5h10v5h-10zM230 27.5h10v5h-10zM250 27.5h10v5h-10zM290 27.5h10v5h-10zM300 27.5h10v5h-10zM310 32.5h10v5h-10zM100 37.5h10v5h-10zM260 37.5h10v5h-10zM270 42.5h10v5h-10zM240 47.5h10v5h-10zM250 47.5h10v5h-10zM280 47.5h10v5h-10zM20 52.5h10v5h-10zM250 52.5h10v5h-10zM260 52.5h10v5h-10zM270 52.5h10v5h-10zM310 52.5h10v5h-10zM250 57.5h10v5h-10zM260 57.5h10v5h-10zM270 57.5h10v5h-10zM70 62.5h10v5h-10zM80 62.5h10v5h-10zM90 62.5h10v5h-10zM250 62.5h10v5h-10zM260 62.5h10v5h-10zM80 67.5h10v5h-10zM250 67.5h10v5h-10zM280 67.5h10v5h-10zM70 72.5h10v5h-10zM230 72.5h10v5h-10zM250 72.5h10v5h-10zM260 72.5h10v5h-10zM270 72.5h10v5h-10zM310 72.5h10v5h-10zM10 77.5h10v5h-10zM50 77.5h10v5h-10zM60 77.5h10v5h-10zM70 77.5h10v5h-10zM80 77.5h10v5h-10zM100 77.5h10v5h-10zM120 77.5h10v5h-10zM130 77.5h10v5h-10zM140 77.5h10v5h-10zM160 77.5h10v5h-10zM230 77.5h10v5h-10zM240 77.5h10v5h-10zM300 77.5h10v5h-10zM320 77.5h10v5h-10zM350 77.5h10v5h-10zM10 82.5h10v5h-10zM30 82.5h10v5h-10zM50 82.5h10v5h-10zM60 82.5h10v5h-10zM70 82.5h10v5h-10zM80 82.5h10v5h-10zM100 82.5h10v5h-10zM120 82.5h10v5h-10zM130 82.5h10v5h-10zM140 82.5h10v5h-10zM160 82.5h10v5h-10zM180 82.5h10v5h-10zM200 82.5h10v5h-10zM230 82.5h10v5h-10zM240 82.5h10v5h-10zM250 82.5h10v5h-10zM260 82.5h10v5h-10zM290 82.5h10v5h-10zM300 82.5h10v5h-10zM320 82.5h10v5h-10zM340 82.5h10v5h-10zM350 82.5h10v5h-10zM110 87.5h10v5h-10zM130 87.5h10v5h-10zM200 87.5h10v5h-10zM230 87.5h10v5h-10zM290 87.5h10v5h-10zM10 92.5h10v5h-10zM260 92.5h10v5h-10zM10 97.5h10v5h-10zM300 107.5h10v5h-10zM310 107.5h10v5h-10zM50 117.5h10v5h-10zM340 117.5h10v5h-10zM50 122.5h10v5h-10zM60 122.5h10v5h-10zM70 122.5h10v5h-10zM120 122.5h10v5h-10zM150 122.5h10v5h-10zM160 122.5h10v5h-10zM50 127.5h10v5h-10zM60 127.5h10v5h-10zM100 127.5h10v5h-10zM120 127.5h10v5h-10zM150 127.5h10v5h-10zM160 127.5h10v5h-10zM240 127.5h10v5h-10zM260 127.5h10v5h-10zM270 127.5h10v5h-10zM60 132.5h10v5h-10zM70 132.5h10v5h-10zM100 132.5h10v5h-10zM110 132.5h10v5h-10zM210 132.5h10v5h-10zM220 132.5h10v5h-10zM270 132.5h10v5h-10zM280 132.5h10v5h-10zM60 137.5h10v5h-10zM70 137.5h10v5h-10zM80 137.5h10v5h-10zM110 137.5h10v5h-10zM210 137.5h10v5h-10zM270 137.5h10v5h-10zM280 137.5h10v5h-10zM310 137.5h10v5h-10zM70 142.5h10v5h-10zM90 142.5h10v5h-10zM120 142.5h10v5h-10zM170 142.5h10v5h-10zM270 142.5h10v5h-10zM280 142.5h10v5h-10zM310 142.5h10v5h-10zM80 147.5h10v5h-10zM90 147.5h10v5h-10zM120 147.5h10v5h-10zM260 147.5h10v5h-10zM270 147.5h10v5h-10zM310 147.5h10v5h-10zM320 147.5h10v5h-10zM80 152.5h10v5h-10zM90 152.5h10v5h-10zM120 152.5h10v5h-10zM260 152.5h10v5h-10zM270 152.5h10v5h-10zM310 152.5h10v5h-10zM320 152.5h10v5h-10z"/><path fill="#f35939" d="M10 27.5h10v5h-10zM150 32.5h10v5h-10zM30 57.5h10v5h-10zM320 57.5h10v5h-10zM50 67.5h10v5h-10zM100 107.5h10v5h-10zM180 107.5h10v5h-10zM190 112.5h10v5h-10zM60 117.5h10v5h-10zM170 117.5h10v5h-10zM230 117.5h10v5h-10zM240 117.5h10v5h-10zM280 117.5h10v5h-10zM260 122.5h10v5h-10z"/><path fill="#ffb151" d="M160 32.5h10v5h-10zM160 37.5h10v5h-10zM170 37.5h10v5h-10zM110 52.5h10v5h-10zM290 62.5h10v5h-10zM40 77.5h10v5h-10zM220 77.5h10v5h-10zM180 87.5h10v5h-10zM200 97.5h10v5h-10zM230 97.5h10v5h-10zM330 97.5h10v5h-10zM10 102.5h10v5h-10zM200 102.5h10v5h-10zM250 102.5h10v5h-10zM0 107.5h10v5h-10zM110 107.5h10v5h-10zM140 112.5h10v5h-10zM150 112.5h10v5h-10zM350 112.5h10v5h-10zM130 117.5h10v5h-10zM140 117.5h10v5h-10zM350 117.5h10v5h-10z"/><path fill="#ffa940" d="M170 32.5h10v5h-10zM120 47.5h10v5h-10zM160 52.5h10v5h-10zM0 57.5h10v5h-10zM10 57.5h10v5h-10zM40 67.5h10v5h-10zM210 97.5h10v5h-10zM280 107.5h10v5h-10zM290 107.5h10v5h-10zM290 112.5h10v5h-10zM340 112.5h10v5h-10zM210 122.5h10v5h-10z"/><path fill="#b4f48b" d="M230 32.5h10v5h-10zM70 37.5h10v5h-10zM210 42.5h10v5h-10zM70 47.5h10v5h-10zM200 47.5h10v5h-10zM60 52.5h10v5h-10zM190 52.5h10v5h-10zM100 62.5h10v5h-10zM300 62.5h10v5h-10zM60 67.5h10v5h-10zM100 67.5h10v5h-10zM170 67.5h10v5h-10zM110 72.5h10v5h-10zM280 77.5h10v5h-10zM220 87.5h10v5h-10zM250 87.5h10v5h-10zM320 87.5h10v5h-10zM330 92.5h10v5h-10zM310 97.5h10v5h-10zM340 97.5h10v5h-10zM320 102.5h10v5h-10zM80 117.5h10v5h-10zM320 117.5h10v5h-10z"/><path fill="#59e0e0" d="M60 37.5h10v5h-10zM60 42.5h10v5h-10zM240 42.5h10v5h-10zM60 57.5h10v5h-10zM240 57.5h10v5h-10zM100 72.5h10v5h-10zM140 72.5h10v5h-10zM150 72.5h10v5h-10zM170 72.5h10v5h-10zM320 72.5h10v5h-10zM180 77.5h10v5h-10zM190 77.5h10v5h-10zM200 77.5h10v5h-10zM260 77.5h10v5h-10zM270 77.5h10v5h-10zM290 77.5h10v5h-10zM340 77.5h10v5h-10zM190 82.5h10v5h-10zM210 82.5h10v5h-10zM270 82.5h10v5h-10zM330 82.5h10v5h-10zM80 87.5h10v5h-10zM240 92.5h10v5h-10zM270 97.5h10v5h-10zM350 97.5h10v5h-10zM100 137.5h10v5h-10z"/><path fill="#adf380" d="M210 37.5h10v5h-10zM80 42.5h10v5h-10zM280 42.5h10v5h-10zM180 47.5h10v5h-10zM70 52.5h10v5h-10zM240 52.5h10v5h-10zM70 67.5h10v5h-10zM290 67.5h10v5h-10zM280 72.5h10v5h-10zM290 72.5h10v5h-10zM0 87.5h10v5h-10zM240 87.5h10v5h-10zM290 97.5h10v5h-10zM280 102.5h10v5h-10zM330 107.5h10v5h-10zM310 112.5h10v5h-10zM290 117.5h10v5h-10z"/><path fill="#b9f593" d="M220 37.5h10v5h-10zM240 37.5h10v5h-10zM220 42.5h10v5h-10zM210 47.5h10v5h-10zM210 52.5h10v5h-10zM310 62.5h10v5h-10zM300 67.5h10v5h-10zM260 87.5h10v5h-10zM190 92.5h10v5h-10zM270 92.5h10v5h-10zM220 97.5h10v5h-10zM220 102.5h10v5h-10zM300 102.5h10v5h-10zM310 102.5h10v5h-10zM320 107.5h10v5h-10zM320 112.5h10v5h-10zM210 117.5h10v5h-10zM100 142.5h10v5h-10z"/><path fill="#bcf598" d="M230 37.5h10v5h-10zM230 42.5h10v5h-10zM220 47.5h10v5h-10zM220 52.5h10v5h-10zM270 87.5h10v5h-10zM190 97.5h10v5h-10z"/><path fill="#68e3e3" d="M180 42.5h10v5h-10zM60 47.5h10v5h-10zM240 62.5h10v5h-10zM60 72.5h10v5h-10zM160 72.5h10v5h-10zM220 72.5h10v5h-10zM300 72.5h10v5h-10zM210 77.5h10v5h-10zM330 77.5h10v5h-10zM330 87.5h10v5h-10z"/><path fill="#f3e64d" d="M180 52.5h10v5h-10zM270 62.5h10v5h-10zM260 67.5h10v5h-10zM210 92.5h10v5h-10zM110 97.5h10v5h-10zM330 117.5h10v5h-10z"/><path fill="#72e4e4" d="M200 52.5h10v5h-10z"/><path fill="#ffb65c" d="M20 57.5h10v5h-10zM100 57.5h10v5h-10zM110 57.5h10v5h-10zM120 57.5h10v5h-10zM150 57.5h10v5h-10zM0 62.5h10v5h-10zM10 62.5h10v5h-10zM130 62.5h10v5h-10zM320 62.5h10v5h-10zM30 67.5h10v5h-10zM140 67.5h10v5h-10zM320 67.5h10v5h-10zM330 67.5h10v5h-10zM340 67.5h10v5h-10zM350 67.5h10v5h-10zM0 72.5h10v5h-10zM10 72.5h10v5h-10zM30 72.5h10v5h-10zM40 72.5h10v5h-10zM50 72.5h10v5h-10zM130 72.5h10v5h-10zM330 72.5h10v5h-10zM340 72.5h10v5h-10zM350 72.5h10v5h-10zM220 82.5h10v5h-10zM10 87.5h10v5h-10zM20 87.5h10v5h-10zM30 87.5h10v5h-10zM40 87.5h10v5h-10zM50 87.5h10v5h-10zM70 87.5h10v5h-10zM140 87.5h10v5h-10zM150 87.5h10v5h-10zM160 87.5h10v5h-10zM170 87.5h10v5h-10zM210 87.5h10v5h-10zM20 92.5h10v5h-10zM30 92.5h10v5h-10zM40 92.5h10v5h-10zM50 92.5h10v5h-10zM60 92.5h10v5h-10zM70 92.5h10v5h-10zM140 92.5h10v5h-10zM180 92.5h10v5h-10zM220 92.5h10v5h-10zM230 92.5h10v5h-10zM250 92.5h10v5h-10zM20 97.5h10v5h-10zM30 97.5h10v5h-10zM40 97.5h10v5h-10zM60 97.5h10v5h-10zM140 97.5h10v5h-10zM240 97.5h10v5h-10zM250 97.5h10v5h-10zM260 97.5h10v5h-10zM320 97.5h10v5h-10zM0 102.5h10v5h-10zM30 102.5h10v5h-10zM40 102.5h10v5h-10zM60 102.5h10v5h-10zM140 102.5h10v5h-10zM150 102.5h10v5h-10zM210 102.5h10v5h-10zM230 102.5h10v5h-10zM270 102.5h10v5h-10zM330 102.5h10v5h-10zM340 102.5h10v5h-10zM10 107.5h10v5h-10zM40 107.5h10v5h-10zM140 107.5h10v5h-10zM210 107.5h10v5h-10zM230 107.5h10v5h-10zM340 107.5h10v5h-10zM40 112.5h10v5h-10zM80 112.5h10v5h-10zM120 112.5h10v5h-10zM130 112.5h10v5h-10zM210 112.5h10v5h-10z"/><path fill="#f4e85c" d="M90 57.5h10v5h-10zM240 67.5h10v5h-10zM200 92.5h10v5h-10zM300 92.5h10v5h-10zM110 102.5h10v5h-10zM30 112.5h10v5h-10zM120 117.5h10v5h-10zM310 117.5h10v5h-10z"/><path fill="#f4684b" d="M130 57.5h10v5h-10zM90 87.5h10v5h-10zM80 92.5h10v5h-10zM50 97.5h10v5h-10zM80 97.5h10v5h-10zM180 97.5h10v5h-10zM20 102.5h10v5h-10zM50 102.5h10v5h-10zM80 102.5h10v5h-10zM160 102.5h10v5h-10zM170 102.5h10v5h-10zM240 102.5h10v5h-10zM290 102.5h10v5h-10zM350 102.5h10v5h-10zM60 107.5h10v5h-10zM80 107.5h10v5h-10zM160 107.5h10v5h-10zM170 107.5h10v5h-10zM240 107.5h10v5h-10zM250 107.5h10v5h-10zM260 107.5h10v5h-10zM270 107.5h10v5h-10zM60 112.5h10v5h-10zM70 112.5h10v5h-10zM90 112.5h10v5h-10zM100 112.5h10v5h-10zM160 112.5h10v5h-10zM170 112.5h10v5h-10zM240 112.5h10v5h-10zM250 112.5h10v5h-10zM260 112.5h10v5h-10zM270 112.5h10v5h-10zM280 112.5h10v5h-10zM90 117.5h10v5h-10zM160 117.5h10v5h-10zM180 117.5h10v5h-10zM220 117.5h10v5h-10zM250 117.5h10v5h-10zM260 117.5h10v5h-10zM270 117.5h10v5h-10z"/><path fill="#f57257" d="M140 57.5h10v5h-10zM330 57.5h10v5h-10zM340 57.5h10v5h-10zM350 57.5h10v5h-10zM20 62.5h10v5h-10zM30 62.5h10v5h-10zM140 62.5h10v5h-10zM350 62.5h10v5h-10zM10 67.5h10v5h-10zM150 92.5h10v5h-10zM160 92.5h10v5h-10zM170 92.5h10v5h-10zM70 97.5h10v5h-10zM150 97.5h10v5h-10zM160 97.5h10v5h-10zM170 97.5h10v5h-10zM70 102.5h10v5h-10zM180 102.5h10v5h-10zM260 102.5h10v5h-10zM20 107.5h10v5h-10zM30 107.5h10v5h-10zM50 107.5h10v5h-10zM70 107.5h10v5h-10zM150 107.5h10v5h-10zM350 107.5h10v5h-10zM50 112.5h10v5h-10zM220 112.5h10v5h-10zM230 112.5h10v5h-10z"/><path fill="#ffb964" d="M110 62.5h10v5h-10zM120 62.5h10v5h-10zM150 62.5h10v5h-10zM330 62.5h10v5h-10zM340 62.5h10v5h-10zM0 67.5h10v5h-10zM20 67.5h10v5h-10zM110 67.5h10v5h-10zM120 67.5h10v5h-10zM130 67.5h10v5h-10zM150 67.5h10v5h-10zM310 67.5h10v5h-10zM20 72.5h10v5h-10zM120 72.5h10v5h-10zM60 87.5h10v5h-10zM220 107.5h10v5h-10z"/><path fill="#f5ea67" d="M320 92.5h10v5h-10z"/><path fill="#c41400" d="M0 127.5h10v5h-10zM10 127.5h10v5h-10zM20 127.5h10v5h-10zM30 127.5h10v5h-10zM130 127.5h10v5h-10zM140 127.5h10v5h-10zM170 127.5h10v5h-10zM180 127.5h10v5h-10zM190 127.5h10v5h-10zM200 127.5h10v5h-10zM290 127.5h10v5h-10zM300 127.5h10v5h-10zM320 127.5h10v5h-10zM0 132.5h10v5h-10zM10 132.5h10v5h-10zM20 132.5h10v5h-10zM30 132.5h10v5h-10zM130 132.5h10v5h-10zM140 132.5h10v5h-10zM160 132.5h10v5h-10zM170 132.5h10v5h-10zM180 132.5h10v5h-10zM190 132.5h10v5h-10zM250 132.5h10v5h-10zM290 132.5h10v5h-10zM300 132.5h10v5h-10zM310 132.5h10v5h-10zM320 132.5h10v5h-10zM350 132.5h10v5h-10zM0 137.5h10v5h-10zM20 137.5h10v5h-10zM30 137.5h10v5h-10zM130 137.5h10v5h-10zM140 137.5h10v5h-10zM150 137.5h10v5h-10zM160 137.5h10v5h-10zM170 137.5h10v5h-10zM180 137.5h10v5h-10zM190 137.5h10v5h-10zM300 137.5h10v5h-10zM320 137.5h10v5h-10zM340 137.5h10v5h-10zM350 137.5h10v5h-10zM0 142.5h10v5h-10zM10 142.5h10v5h-10zM130 142.5h10v5h-10zM140 142.5h10v5h-10zM150 142.5h10v5h-10zM290 142.5h10v5h-10zM300 142.5h10v5h-10zM290 147.5h10v5h-10zM290 152.5h10v5h-10z"/></g></g></g><use href="#coast"/><use href="#coast2"/></svg>
<div class="frame" style="left:1096px;top:732px;width:1028px;height:515px"></div>
<div class="cb" style="left:1096.5px;top:1253.5px;width:1026.5px;height:22.0px"></div>
<div class="tick" style="left:1095.7px;top:1275.0px"></div>
<div class="tl" style="left:1096.5px;top:1286.0px">0</div>
<div class="tick" style="left:1298.4px;top:1275.0px"></div>
<div class="tl" style="left:1299.2px;top:1286.0px">200</div>
<div class="tick" style="left:1501.1px;top:1275.0px"></div>
<div class="tl" style="left:1501.9px;top:1286.0px">400</div>
<div class="tick" style="left:1703.8px;top:1275.0px"></div>
<div class="tl" style="left:1704.6px;top:1286.0px">600</div>
<div class="tick" style="left:1906.5px;top:1275.0px"></div>
<div class="tl" style="left:1907.3px;top:1286.0px">800</div>
<div class="tick" style="left:2109.2px;top:1275.0px"></div>
<div class="tl" style="left:2110.0px;top:1286.0px">1000</div>
<div class="hpa" style="left:1577px;top:1280.5px">hPa</div>
</body></html>
